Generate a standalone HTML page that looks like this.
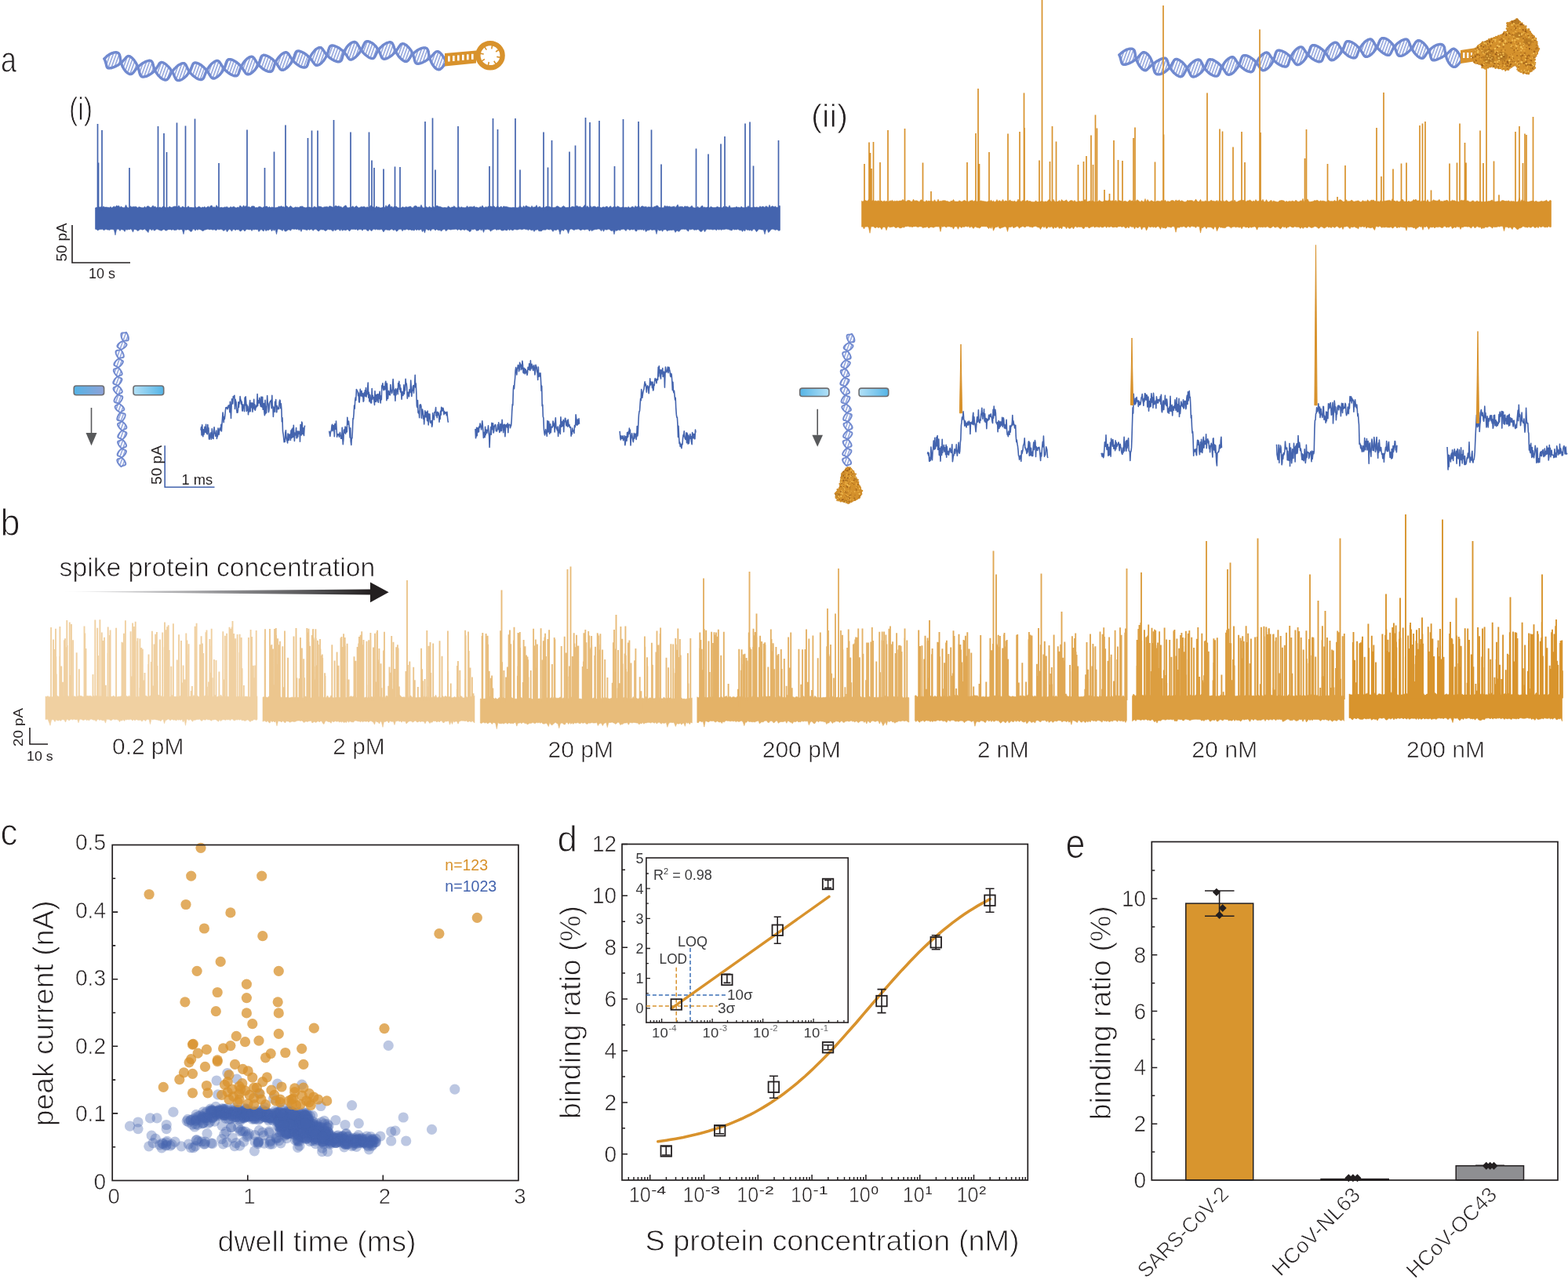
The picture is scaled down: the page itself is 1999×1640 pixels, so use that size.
<!DOCTYPE html>
<html><head><meta charset="utf-8"><title>Figure</title>
<style>html,body{margin:0;padding:0;background:#fff;overflow:hidden}svg{display:block}</style>
</head><body>
<svg style="font-family:'Liberation Sans', Arial, sans-serif" width="1999" height="1640" viewBox="0 0 1999 1640" ><text x="1" y="92" font-size="47" textLength="20" lengthAdjust="spacingAndGlyphs" fill="#231f20" stroke="#fff" stroke-width="1">a</text>
<text x="88" y="153" font-size="40" textLength="30" lengthAdjust="spacingAndGlyphs" fill="#231f20" stroke="#fff" stroke-width="0.9">(i)</text>
<text x="1034" y="162" font-size="40" textLength="47" lengthAdjust="spacingAndGlyphs" fill="#231f20" stroke="#fff" stroke-width="0.9">(ii)</text>
<path d="M92 287V335H166" fill="none" stroke="#231f20" stroke-width="1.6"/>
<text transform="translate(85 309) rotate(-90)" x="0" y="0" font-size="19" text-anchor="middle" textLength="49" lengthAdjust="spacingAndGlyphs" fill="#231f20">50 pA</text>
<text x="113" y="355" font-size="19" textLength="34" lengthAdjust="spacingAndGlyphs" fill="#231f20">10 s</text>
<path d="M133,75 L133.5,76.1 L133.9,77.2 L134.3,78.3 L134.6,79.4 L134.9,80.4 L135.2,81.3 L135.4,82.2 L135.6,83 L135.8,83.8 L135.9,84.4 L136.2,85 L136.4,85.6 L136.7,86 L137,86.4 L137.4,86.6 L137.9,86.8 L138.4,86.9 L139.1,87 L139.8,86.9 L140.6,86.8 L141.5,86.7 L142.4,86.5 L143.4,86.2 L144.5,85.8 L145.6,85.4 L146.7,84.9 L147.9,84.4 L149,83.8 L150.1,83.2 L151.2,82.5 L152.3,81.7 L153.3,81 L154.3,80.2 L155.2,79.4 L156.1,78.6 L156.9,77.7 L157.6,76.9 L158.3,76.1 L159,75.4 L159.6,74.7 L160.2,74 L160.7,73.4 L161.2,72.9 L161.7,72.4 L162.2,72.1 L162.7,71.8 L163.2,71.6 L163.7,71.5 L164.3,71.6 L164.9,71.7 L165.6,71.9 L166.2,72.3 L166.9,72.8 L167.7,73.3 L168.4,74 L169.2,74.7 L169.9,75.5 L170.7,76.4 L171.4,77.4 L172.1,78.4 L172.8,79.5 L173.5,80.6 L174.1,81.7 L174.7,82.9 L175.2,84.1 L175.7,85.2 L176.1,86.4 L176.5,87.5 L176.8,88.6 L177.1,89.7 L177.4,90.7 L177.6,91.7 L177.8,92.7 L178.1,93.5 L178.3,94.3 L178.6,95.1 L178.9,95.7 L179.2,96.3 L179.6,96.8 L180,97.3 L180.5,97.6 L181.1,97.8 L181.8,98 L182.5,98.1 L183.3,98 L184.1,97.9 L185,97.7 L186,97.5 L187,97.1 L188.1,96.7 L189.1,96.1 L190.2,95.6 L191.3,94.9 L192.4,94.2 L193.4,93.4 L194.4,92.6 L195.4,91.7 L196.3,90.8 L197.2,89.9 L198,88.9 L198.7,88 L199.4,87.1 L200,86.1 L200.6,85.2 L201.1,84.4 L201.6,83.6 L202.1,82.8 L202.5,82.1 L202.9,81.5 L203.3,80.9 L203.8,80.4 L204.2,80.1 L204.7,79.8 L205.2,79.6 L205.8,79.5 L206.4,79.5 L207,79.6 L207.7,79.8 L208.4,80.1 L209.2,80.6 L210,81 L210.9,81.6 L211.8,82.3 L212.6,83 L213.5,83.9 L214.4,84.7 L215.3,85.6 L216.1,86.6 L216.9,87.6 L217.7,88.7 L218.4,89.7 L219.1,90.8 L219.7,91.8 L220.3,92.9 L220.9,93.9 L221.4,95 L221.8,95.9 L222.2,96.9 L222.6,97.8 L223,98.6 L223.4,99.4 L223.8,100.1 L224.2,100.7 L224.6,101.3 L225,101.7 L225.5,102.1 L226.1,102.4 L226.7,102.5 L227.4,102.6 L228.1,102.6 L228.8,102.5 L229.7,102.2 L230.5,101.9 L231.4,101.5 L232.3,101 L233.3,100.4 L234.3,99.7 L235.2,98.9 L236.2,98.1 L237.1,97.2 L238,96.3 L238.8,95.3 L239.6,94.3 L240.4,93.2 L241.1,92.1 L241.7,91.1 L242.3,90 L242.8,89 L243.3,87.9 L243.7,86.9 L244.1,86 L244.5,85.1 L244.8,84.2 L245.1,83.4 L245.4,82.7 L245.8,82.1 L246.1,81.5 L246.5,81 L247,80.6 L247.5,80.3 L248,80.1 L248.6,80 L249.2,80 L250,80.1 L250.7,80.2 L251.6,80.5 L252.4,80.8 L253.4,81.3 L254.3,81.8 L255.3,82.3 L256.3,83 L257.3,83.7 L258.3,84.5 L259.3,85.3 L260.2,86.2 L261.2,87.1 L262,88 L262.9,89 L263.7,90 L264.4,90.9 L265.1,91.9 L265.7,92.9 L266.3,93.8 L266.8,94.7 L267.3,95.5 L267.8,96.3 L268.2,97.1 L268.7,97.7 L269.1,98.3 L269.6,98.9 L270.1,99.3 L270.6,99.6 L271.1,99.9 L271.7,100 L272.3,100 L273,100 L273.7,99.8 L274.5,99.5 L275.3,99.1 L276.1,98.6 L276.9,98.1 L277.8,97.4 L278.7,96.7 L279.6,95.9 L280.4,95 L281.3,94 L282.1,93 L282.9,92 L283.6,90.9 L284.3,89.8 L284.9,88.7 L285.5,87.6 L286,86.5 L286.5,85.4 L286.9,84.3 L287.3,83.3 L287.6,82.3 L287.9,81.3 L288.2,80.4 L288.5,79.6 L288.8,78.8 L289.1,78.2 L289.4,77.5 L289.8,77 L290.2,76.6 L290.6,76.2 L291.2,75.9 L291.7,75.7 L292.4,75.7 L293.1,75.7 L293.9,75.8 L294.7,75.9 L295.6,76.2 L296.6,76.6 L297.5,77 L298.6,77.5 L299.6,78.1 L300.6,78.8 L301.7,79.5 L302.7,80.3 L303.7,81.1 L304.7,82 L305.6,82.9 L306.5,83.8 L307.3,84.7 L308.1,85.7 L308.8,86.6 L309.4,87.6 L310,88.5 L310.6,89.4 L311.1,90.3 L311.6,91.1 L312.1,91.8 L312.6,92.5 L313,93.1 L313.5,93.6 L314,94.1 L314.5,94.4 L315,94.7 L315.6,94.8 L316.2,94.9 L316.8,94.8 L317.5,94.7 L318.2,94.4 L319,94.1 L319.8,93.6 L320.7,93 L321.5,92.4 L322.4,91.7 L323.2,90.9 L324.1,90 L324.9,89.1 L325.7,88.1 L326.5,87 L327.3,86 L327.9,84.9 L328.6,83.7 L329.2,82.6 L329.7,81.5 L330.2,80.4 L330.6,79.3 L331,78.3 L331.3,77.3 L331.6,76.3 L331.9,75.4 L332.2,74.5 L332.4,73.8 L332.7,73 L333.1,72.4 L333.4,71.8 L333.8,71.4 L334.2,71 L334.7,70.7 L335.3,70.5 L335.9,70.3 L336.6,70.3 L337.4,70.4 L338.2,70.5 L339.1,70.8 L340,71.1 L341,71.5 L342,72 L343,72.5 L344.1,73.2 L345.1,73.9 L346.2,74.6 L347.2,75.4 L348.2,76.3 L349.1,77.2 L350,78.1 L350.8,79 L351.6,80 L352.4,80.9 L353.1,81.9 L353.7,82.8 L354.3,83.7 L354.8,84.6 L355.3,85.4 L355.8,86.1 L356.3,86.8 L356.7,87.5 L357.2,88 L357.7,88.5 L358.2,88.9 L358.7,89.2 L359.2,89.3 L359.8,89.4 L360.4,89.4 L361.1,89.3 L361.8,89 L362.6,88.7 L363.3,88.3 L364.1,87.7 L365,87.1 L365.8,86.4 L366.7,85.7 L367.6,84.8 L368.4,83.9 L369.2,82.9 L370,81.9 L370.8,80.9 L371.5,79.8 L372.2,78.7 L372.8,77.6 L373.3,76.5 L373.8,75.4 L374.3,74.3 L374.7,73.2 L375,72.2 L375.4,71.2 L375.7,70.3 L375.9,69.4 L376.2,68.6 L376.5,67.9 L376.8,67.2 L377.1,66.7 L377.5,66.2 L377.9,65.8 L378.3,65.4 L378.8,65.2 L379.4,65.1 L380.1,65 L380.8,65 L381.6,65.2 L382.4,65.4 L383.3,65.7 L384.3,66 L385.3,66.5 L386.3,67 L387.4,67.6 L388.4,68.2 L389.5,68.9 L390.5,69.7 L391.5,70.5 L392.5,71.3 L393.4,72.2 L394.3,73.1 L395.2,74 L396,74.9 L396.7,75.9 L397.4,76.8 L398,77.6 L398.6,78.5 L399.2,79.3 L399.7,80.1 L400.2,80.8 L400.7,81.4 L401.2,82 L401.7,82.4 L402.2,82.8 L402.7,83.1 L403.2,83.3 L403.8,83.4 L404.4,83.4 L405.1,83.2 L405.8,83 L406.5,82.7 L407.3,82.3 L408,81.7 L408.9,81.1 L409.7,80.4 L410.5,79.6 L411.4,78.7 L412.2,77.8 L413,76.8 L413.7,75.7 L414.4,74.7 L415.1,73.5 L415.7,72.4 L416.3,71.3 L416.8,70.1 L417.3,69 L417.7,67.9 L418,66.8 L418.4,65.8 L418.6,64.8 L418.9,63.8 L419.1,62.9 L419.4,62.1 L419.6,61.3 L419.9,60.6 L420.2,60 L420.6,59.4 L421,59 L421.4,58.6 L421.9,58.3 L422.5,58.1 L423.2,58 L423.9,58 L424.7,58.1 L425.5,58.2 L426.4,58.5 L427.3,58.8 L428.3,59.2 L429.4,59.7 L430.4,60.2 L431.5,60.8 L432.6,61.5 L433.6,62.2 L434.7,63 L435.7,63.8 L436.7,64.6 L437.6,65.5 L438.5,66.4 L439.3,67.3 L440,68.2 L440.7,69.1 L441.4,70 L442,70.9 L442.5,71.7 L443,72.5 L443.5,73.2 L444,73.9 L444.4,74.5 L444.9,75 L445.3,75.4 L445.8,75.7 L446.2,75.9 L446.7,76.1 L447.3,76.1 L447.9,76 L448.5,75.9 L449.2,75.6 L449.9,75.2 L450.7,74.8 L451.5,74.2 L452.3,73.6 L453.2,72.9 L454,72.1 L454.9,71.2 L455.8,70.3 L456.6,69.4 L457.4,68.4 L458.2,67.4 L458.9,66.3 L459.6,65.2 L460.3,64.2 L460.9,63.1 L461.4,62 L461.9,61 L462.4,60 L462.8,59 L463.2,58.1 L463.6,57.2 L464,56.4 L464.4,55.6 L464.8,54.9 L465.2,54.3 L465.6,53.8 L466.1,53.4 L466.6,53 L467.2,52.8 L467.8,52.7 L468.5,52.6 L469.2,52.7 L470,52.8 L470.8,53.1 L471.7,53.4 L472.6,53.9 L473.6,54.4 L474.5,55 L475.5,55.7 L476.5,56.5 L477.4,57.4 L478.3,58.3 L479.2,59.2 L480,60.2 L480.8,61.3 L481.6,62.3 L482.2,63.4 L482.9,64.5 L483.4,65.5 L483.9,66.6 L484.3,67.6 L484.7,68.6 L485.1,69.5 L485.4,70.4 L485.8,71.2 L486.1,72 L486.4,72.7 L486.7,73.3 L487.1,73.9 L487.5,74.3 L487.9,74.7 L488.4,75 L488.9,75.1 L489.6,75.2 L490.2,75.2 L491,75.1 L491.8,75 L492.6,74.7 L493.5,74.3 L494.5,73.9 L495.4,73.4 L496.4,72.8 L497.4,72.1 L498.5,71.4 L499.5,70.6 L500.5,69.8 L501.4,68.9 L502.3,68 L503.2,67.1 L504.1,66.2 L504.8,65.2 L505.6,64.2 L506.3,63.3 L506.9,62.4 L507.5,61.5 L508,60.6 L508.6,59.8 L509.1,59 L509.6,58.3 L510,57.7 L510.5,57.1 L511,56.6 L511.5,56.3 L512.1,56 L512.7,55.8 L513.3,55.7 L513.9,55.8 L514.6,55.9 L515.4,56.1 L516.1,56.5 L516.9,56.9 L517.8,57.5 L518.6,58.1 L519.4,58.9 L520.3,59.7 L521.1,60.6 L521.9,61.5 L522.7,62.5 L523.5,63.6 L524.2,64.7 L524.8,65.8 L525.4,67 L526,68.1 L526.4,69.3 L526.9,70.4 L527.2,71.5 L527.6,72.6 L527.8,73.6 L528.1,74.6 L528.3,75.6 L528.5,76.5 L528.7,77.3 L528.9,78 L529.1,78.7 L529.4,79.3 L529.7,79.8 L530,80.3 L530.5,80.6 L530.9,80.9 L531.5,81.1 L532.1,81.2 L532.8,81.3 L533.6,81.2 L534.5,81.1 L535.4,80.9 L536.3,80.6 L537.3,80.2 L538.4,79.8 L539.5,79.3 L540.6,78.8 L541.7,78.2 L542.8,77.6 L543.9,76.9 L544.9,76.2 L546,75.4 L547,74.6 L547.9,73.8 L548.8,73 L549.7,72.2 L550.5,71.4 L551.2,70.6 L551.9,69.8 L552.6,69.1 L553.2,68.4 L553.8,67.8 L554.4,67.2 L555,66.7 L555.5,66.3 L556.1,66 L556.6,65.8 L557.2,65.6 L557.8,65.6 L558.3,65.7 L558.9,65.9 L559.6,66.2 L560.2,66.6 L560.8,67.2 L561.5,67.8 L562.2,68.5 L562.9,69.3 L563.6,70.1 L564.3,71.1 L565,72.1 L565.7,73.1 L566.3,74.2 L566.9,75.3 L567.5,76.5 L568,77.7 L568.6,78.8 L569,80 L569,80 L568.1,80.9 L567.4,81.7 L566.6,82.6 L565.9,83.5 L565.2,84.3 L564.6,85.1 L563.9,85.8 L563.3,86.5 L562.7,87.1 L562.1,87.6 L561.6,88 L561,88.4 L560.4,88.6 L559.7,88.8 L559.1,88.8 L558.4,88.7 L557.8,88.5 L557.1,88.2 L556.4,87.8 L555.7,87.3 L555,86.7 L554.2,86 L553.5,85.2 L552.8,84.3 L552.1,83.3 L551.4,82.3 L550.8,81.2 L550.2,80.1 L549.6,78.9 L549.1,77.7 L548.6,76.5 L548.2,75.3 L547.8,74.1 L547.5,72.9 L547.2,71.8 L547,70.7 L546.8,69.6 L546.6,68.5 L546.4,67.5 L546.3,66.6 L546.1,65.7 L545.9,64.9 L545.6,64.1 L545.3,63.4 L545,62.8 L544.6,62.3 L544.2,61.9 L543.6,61.5 L543,61.2 L542.4,61 L541.6,60.9 L540.8,60.9 L540,61 L539,61.2 L538,61.4 L537,61.7 L535.9,62.2 L534.8,62.6 L533.7,63.2 L532.6,63.8 L531.5,64.5 L530.4,65.3 L529.4,66 L528.4,66.9 L527.5,67.8 L526.6,68.6 L525.7,69.6 L525,70.5 L524.2,71.4 L523.6,72.3 L523,73.1 L522.4,74 L521.9,74.8 L521.4,75.5 L520.9,76.2 L520.5,76.8 L520,77.3 L519.5,77.7 L519,78.1 L518.5,78.3 L517.9,78.4 L517.4,78.5 L516.7,78.4 L516.1,78.3 L515.4,78 L514.6,77.6 L513.9,77.1 L513.1,76.6 L512.3,75.9 L511.4,75.2 L510.6,74.4 L509.8,73.5 L508.9,72.5 L508.1,71.6 L507.4,70.5 L506.6,69.4 L506,68.4 L505.3,67.2 L504.7,66.1 L504.2,65 L503.7,63.9 L503.3,62.8 L502.9,61.8 L502.5,60.8 L502.2,59.8 L501.9,58.9 L501.5,58 L501.2,57.2 L500.9,56.5 L500.5,55.9 L500.2,55.3 L499.7,54.8 L499.3,54.4 L498.7,54.1 L498.2,53.9 L497.5,53.8 L496.8,53.8 L496,53.9 L495.2,54.1 L494.3,54.3 L493.4,54.7 L492.4,55.1 L491.4,55.6 L490.4,56.3 L489.4,56.9 L488.3,57.7 L487.3,58.5 L486.4,59.4 L485.4,60.3 L484.5,61.2 L483.7,62.2 L482.9,63.2 L482.2,64.2 L481.6,65.2 L481,66.2 L480.4,67.2 L479.9,68.2 L479.5,69.1 L479.1,70 L478.7,70.8 L478.3,71.5 L478,72.2 L477.6,72.8 L477.2,73.3 L476.8,73.8 L476.4,74.1 L475.9,74.4 L475.3,74.5 L474.7,74.6 L474,74.6 L473.3,74.4 L472.6,74.2 L471.8,73.9 L470.9,73.5 L470,73 L469.1,72.4 L468.1,71.7 L467.2,71 L466.2,70.2 L465.3,69.4 L464.3,68.5 L463.4,67.6 L462.6,66.6 L461.8,65.6 L461,64.6 L460.3,63.6 L459.6,62.6 L458.9,61.6 L458.4,60.7 L457.8,59.7 L457.3,58.8 L456.8,57.9 L456.3,57.1 L455.9,56.4 L455.4,55.7 L454.9,55.1 L454.4,54.6 L453.9,54.2 L453.4,53.9 L452.8,53.6 L452.1,53.5 L451.4,53.5 L450.7,53.6 L449.9,53.8 L449.1,54.1 L448.3,54.5 L447.4,55 L446.5,55.6 L445.7,56.3 L444.8,57.1 L443.9,58 L443.1,58.9 L442.3,59.9 L441.5,61 L440.8,62.1 L440.1,63.2 L439.5,64.3 L439,65.5 L438.5,66.6 L438.1,67.7 L437.7,68.9 L437.3,70 L437,71 L436.8,72 L436.5,73 L436.3,73.9 L436.1,74.7 L435.8,75.5 L435.5,76.2 L435.2,76.8 L434.8,77.4 L434.4,77.8 L433.9,78.2 L433.4,78.5 L432.8,78.7 L432.1,78.8 L431.4,78.8 L430.6,78.8 L429.7,78.6 L428.8,78.4 L427.9,78 L426.9,77.6 L425.8,77.2 L424.8,76.6 L423.7,76 L422.6,75.3 L421.6,74.5 L420.5,73.8 L419.5,72.9 L418.6,72.1 L417.7,71.2 L416.8,70.2 L416,69.3 L415.3,68.4 L414.6,67.5 L413.9,66.6 L413.4,65.7 L412.8,64.9 L412.3,64.1 L411.8,63.4 L411.3,62.7 L410.8,62.2 L410.3,61.7 L409.8,61.2 L409.3,60.9 L408.8,60.7 L408.2,60.6 L407.5,60.6 L406.9,60.7 L406.2,60.9 L405.4,61.2 L404.7,61.6 L403.9,62.1 L403.1,62.7 L402.2,63.4 L401.4,64.2 L400.6,65.1 L399.8,66 L399,67 L398.2,68 L397.5,69.1 L396.8,70.2 L396.2,71.3 L395.6,72.5 L395.1,73.6 L394.6,74.7 L394.2,75.9 L393.9,76.9 L393.5,78 L393.2,79 L392.9,80 L392.7,80.9 L392.4,81.8 L392.2,82.6 L391.9,83.3 L391.5,83.9 L391.2,84.5 L390.8,85 L390.3,85.4 L389.8,85.7 L389.2,85.9 L388.5,86 L387.8,86.1 L387,86 L386.1,85.9 L385.2,85.6 L384.2,85.3 L383.2,84.9 L382.2,84.4 L381.2,83.8 L380.1,83.2 L379.1,82.4 L378,81.7 L377,80.8 L376.1,80 L375.1,79.1 L374.3,78.1 L373.4,77.2 L372.7,76.2 L372,75.3 L371.3,74.3 L370.7,73.4 L370.1,72.5 L369.6,71.6 L369.1,70.8 L368.6,70 L368.2,69.3 L367.7,68.7 L367.2,68.1 L366.7,67.7 L366.2,67.3 L365.7,67 L365.1,66.8 L364.5,66.8 L363.9,66.8 L363.2,67 L362.4,67.2 L361.7,67.5 L360.9,68 L360,68.5 L359.2,69.2 L358.3,69.9 L357.4,70.7 L356.6,71.6 L355.8,72.5 L354.9,73.5 L354.2,74.5 L353.4,75.6 L352.7,76.7 L352.1,77.8 L351.5,78.9 L351,80 L350.5,81.2 L350.1,82.2 L349.7,83.3 L349.4,84.3 L349.1,85.3 L348.8,86.2 L348.5,87.1 L348.2,87.9 L347.9,88.6 L347.6,89.3 L347.3,89.8 L346.9,90.3 L346.5,90.7 L346,91.1 L345.4,91.3 L344.8,91.4 L344.1,91.5 L343.3,91.4 L342.5,91.3 L341.6,91.1 L340.7,90.7 L339.7,90.3 L338.7,89.9 L337.7,89.3 L336.6,88.7 L335.6,88 L334.6,87.3 L333.5,86.5 L332.6,85.6 L331.6,84.7 L330.7,83.8 L329.9,82.9 L329.1,81.9 L328.3,80.9 L327.6,80 L327,79.1 L326.4,78.2 L325.9,77.3 L325.4,76.4 L324.9,75.7 L324.4,75 L324,74.3 L323.5,73.7 L323,73.3 L322.6,72.9 L322,72.6 L321.5,72.4 L320.9,72.3 L320.3,72.3 L319.6,72.4 L318.9,72.6 L318.1,72.9 L317.3,73.3 L316.5,73.8 L315.7,74.4 L314.8,75.1 L313.9,75.9 L313.1,76.8 L312.2,77.7 L311.4,78.6 L310.6,79.7 L309.9,80.7 L309.2,81.8 L308.5,82.9 L307.9,84 L307.3,85.1 L306.8,86.3 L306.4,87.3 L306,88.4 L305.6,89.4 L305.3,90.4 L305,91.4 L304.7,92.2 L304.5,93.1 L304.2,93.8 L303.9,94.5 L303.5,95.1 L303.1,95.6 L302.7,96 L302.2,96.4 L301.7,96.6 L301.1,96.8 L300.4,96.8 L299.7,96.8 L298.9,96.7 L298,96.5 L297.1,96.2 L296.1,95.8 L295.2,95.4 L294.1,94.8 L293.1,94.2 L292.1,93.5 L291,92.8 L290,92 L289,91.2 L288.1,90.3 L287.2,89.4 L286.3,88.4 L285.5,87.5 L284.7,86.5 L284,85.6 L283.4,84.6 L282.8,83.7 L282.3,82.8 L281.8,82 L281.3,81.2 L280.8,80.4 L280.4,79.7 L279.9,79.2 L279.5,78.6 L279,78.2 L278.5,77.9 L278,77.6 L277.4,77.5 L276.8,77.5 L276.2,77.5 L275.5,77.7 L274.7,78 L273.9,78.3 L273.1,78.8 L272.3,79.4 L271.4,80 L270.5,80.8 L269.6,81.6 L268.8,82.4 L267.9,83.4 L267.1,84.4 L266.3,85.4 L265.6,86.5 L264.9,87.5 L264.2,88.6 L263.6,89.7 L263.1,90.8 L262.6,91.9 L262.2,93 L261.8,94 L261.4,95 L261,96 L260.7,96.8 L260.4,97.7 L260.1,98.4 L259.7,99.1 L259.4,99.7 L258.9,100.3 L258.5,100.7 L258,101.1 L257.4,101.3 L256.8,101.5 L256.1,101.6 L255.4,101.5 L254.6,101.4 L253.8,101.2 L252.9,100.9 L251.9,100.5 L251,100 L250,99.4 L249,98.7 L248,98 L247,97.2 L246,96.4 L245.1,95.5 L244.2,94.6 L243.3,93.6 L242.5,92.6 L241.7,91.6 L241,90.6 L240.4,89.6 L239.8,88.6 L239.3,87.6 L238.8,86.7 L238.4,85.8 L238,84.9 L237.6,84.1 L237.2,83.4 L236.9,82.7 L236.5,82.2 L236.1,81.7 L235.6,81.3 L235.2,81 L234.7,80.7 L234.1,80.6 L233.5,80.6 L232.8,80.7 L232.1,80.8 L231.3,81.1 L230.5,81.5 L229.6,81.9 L228.7,82.4 L227.7,83 L226.8,83.7 L225.8,84.5 L224.9,85.3 L224,86.2 L223,87.1 L222.2,88 L221.3,89 L220.5,90 L219.8,91 L219.1,92 L218.4,93 L217.8,94 L217.3,95 L216.8,95.9 L216.3,96.8 L215.8,97.7 L215.4,98.5 L214.9,99.2 L214.5,99.9 L214,100.5 L213.5,100.9 L213,101.3 L212.5,101.7 L211.9,101.9 L211.3,102 L210.6,102 L209.8,101.9 L209.1,101.6 L208.3,101.3 L207.4,100.9 L206.5,100.4 L205.7,99.8 L204.8,99.1 L203.9,98.3 L203,97.4 L202.1,96.5 L201.3,95.5 L200.5,94.5 L199.7,93.4 L199,92.3 L198.4,91.2 L197.8,90.1 L197.3,89 L196.8,87.8 L196.4,86.7 L196.1,85.7 L195.8,84.7 L195.5,83.7 L195.3,82.7 L195,81.9 L194.8,81.1 L194.6,80.3 L194.3,79.7 L194,79.1 L193.6,78.6 L193.3,78.2 L192.8,77.8 L192.3,77.6 L191.7,77.4 L191,77.3 L190.3,77.3 L189.5,77.4 L188.6,77.6 L187.7,77.9 L186.7,78.2 L185.7,78.6 L184.7,79.1 L183.6,79.7 L182.5,80.3 L181.4,81 L180.4,81.7 L179.3,82.5 L178.3,83.3 L177.4,84.1 L176.4,85 L175.5,85.8 L174.7,86.7 L173.9,87.6 L173.2,88.5 L172.5,89.3 L171.9,90.1 L171.3,90.9 L170.7,91.6 L170.1,92.3 L169.6,92.9 L169.1,93.4 L168.5,93.8 L168,94.2 L167.4,94.4 L166.8,94.6 L166.2,94.6 L165.6,94.5 L164.9,94.3 L164.2,94 L163.4,93.6 L162.6,93.1 L161.8,92.5 L161,91.8 L160.3,91 L159.5,90.1 L158.7,89.1 L158,88.1 L157.4,87 L156.7,85.8 L156.1,84.7 L155.6,83.5 L155.2,82.3 L154.7,81.1 L154.4,79.9 L154.1,78.7 L153.8,77.6 L153.6,76.4 L153.5,75.4 L153.3,74.3 L153.2,73.3 L153,72.4 L152.9,71.6 L152.7,70.8 L152.5,70 L152.2,69.4 L151.9,68.8 L151.5,68.3 L151,67.8 L150.5,67.4 L149.8,67.1 L149.1,66.9 L148.2,66.8 L147.3,66.8 L146.4,66.9 L145.4,67 L144.3,67.3 L143.2,67.6 L142.1,68.1 L141,68.6 L139.8,69.2 L138.7,69.9 L137.7,70.6 L136.6,71.4 L135.7,72.3 L134.7,73.2 L133.8,74.1 L133,75Z" fill="url(#hatch)"/>
<path d="M133,75 L133.5,76.1 L133.9,77.2 L134.3,78.3 L134.6,79.4 L134.9,80.4 L135.2,81.3 L135.4,82.2 L135.6,83 L135.8,83.8 L135.9,84.4 L136.2,85 L136.4,85.6 L136.7,86 L137,86.4 L137.4,86.6 L137.9,86.8 L138.4,86.9 L139.1,87 L139.8,86.9 L140.6,86.8 L141.5,86.7 L142.4,86.5 L143.4,86.2 L144.5,85.8 L145.6,85.4 L146.7,84.9 L147.9,84.4 L149,83.8 L150.1,83.2 L151.2,82.5 L152.3,81.7 L153.3,81 L154.3,80.2 L155.2,79.4 L156.1,78.6 L156.9,77.7 L157.6,76.9 L158.3,76.1 L159,75.4 L159.6,74.7 L160.2,74 L160.7,73.4 L161.2,72.9 L161.7,72.4 L162.2,72.1 L162.7,71.8 L163.2,71.6 L163.7,71.5 L164.3,71.6 L164.9,71.7 L165.6,71.9 L166.2,72.3 L166.9,72.8 L167.7,73.3 L168.4,74 L169.2,74.7 L169.9,75.5 L170.7,76.4 L171.4,77.4 L172.1,78.4 L172.8,79.5 L173.5,80.6 L174.1,81.7 L174.7,82.9 L175.2,84.1 L175.7,85.2 L176.1,86.4 L176.5,87.5 L176.8,88.6 L177.1,89.7 L177.4,90.7 L177.6,91.7 L177.8,92.7 L178.1,93.5 L178.3,94.3 L178.6,95.1 L178.9,95.7 L179.2,96.3 L179.6,96.8 L180,97.3 L180.5,97.6 L181.1,97.8 L181.8,98 L182.5,98.1 L183.3,98 L184.1,97.9 L185,97.7 L186,97.5 L187,97.1 L188.1,96.7 L189.1,96.1 L190.2,95.6 L191.3,94.9 L192.4,94.2 L193.4,93.4 L194.4,92.6 L195.4,91.7 L196.3,90.8 L197.2,89.9 L198,88.9 L198.7,88 L199.4,87.1 L200,86.1 L200.6,85.2 L201.1,84.4 L201.6,83.6 L202.1,82.8 L202.5,82.1 L202.9,81.5 L203.3,80.9 L203.8,80.4 L204.2,80.1 L204.7,79.8 L205.2,79.6 L205.8,79.5 L206.4,79.5 L207,79.6 L207.7,79.8 L208.4,80.1 L209.2,80.6 L210,81 L210.9,81.6 L211.8,82.3 L212.6,83 L213.5,83.9 L214.4,84.7 L215.3,85.6 L216.1,86.6 L216.9,87.6 L217.7,88.7 L218.4,89.7 L219.1,90.8 L219.7,91.8 L220.3,92.9 L220.9,93.9 L221.4,95 L221.8,95.9 L222.2,96.9 L222.6,97.8 L223,98.6 L223.4,99.4 L223.8,100.1 L224.2,100.7 L224.6,101.3 L225,101.7 L225.5,102.1 L226.1,102.4 L226.7,102.5 L227.4,102.6 L228.1,102.6 L228.8,102.5 L229.7,102.2 L230.5,101.9 L231.4,101.5 L232.3,101 L233.3,100.4 L234.3,99.7 L235.2,98.9 L236.2,98.1 L237.1,97.2 L238,96.3 L238.8,95.3 L239.6,94.3 L240.4,93.2 L241.1,92.1 L241.7,91.1 L242.3,90 L242.8,89 L243.3,87.9 L243.7,86.9 L244.1,86 L244.5,85.1 L244.8,84.2 L245.1,83.4 L245.4,82.7 L245.8,82.1 L246.1,81.5 L246.5,81 L247,80.6 L247.5,80.3 L248,80.1 L248.6,80 L249.2,80 L250,80.1 L250.7,80.2 L251.6,80.5 L252.4,80.8 L253.4,81.3 L254.3,81.8 L255.3,82.3 L256.3,83 L257.3,83.7 L258.3,84.5 L259.3,85.3 L260.2,86.2 L261.2,87.1 L262,88 L262.9,89 L263.7,90 L264.4,90.9 L265.1,91.9 L265.7,92.9 L266.3,93.8 L266.8,94.7 L267.3,95.5 L267.8,96.3 L268.2,97.1 L268.7,97.7 L269.1,98.3 L269.6,98.9 L270.1,99.3 L270.6,99.6 L271.1,99.9 L271.7,100 L272.3,100 L273,100 L273.7,99.8 L274.5,99.5 L275.3,99.1 L276.1,98.6 L276.9,98.1 L277.8,97.4 L278.7,96.7 L279.6,95.9 L280.4,95 L281.3,94 L282.1,93 L282.9,92 L283.6,90.9 L284.3,89.8 L284.9,88.7 L285.5,87.6 L286,86.5 L286.5,85.4 L286.9,84.3 L287.3,83.3 L287.6,82.3 L287.9,81.3 L288.2,80.4 L288.5,79.6 L288.8,78.8 L289.1,78.2 L289.4,77.5 L289.8,77 L290.2,76.6 L290.6,76.2 L291.2,75.9 L291.7,75.7 L292.4,75.7 L293.1,75.7 L293.9,75.8 L294.7,75.9 L295.6,76.2 L296.6,76.6 L297.5,77 L298.6,77.5 L299.6,78.1 L300.6,78.8 L301.7,79.5 L302.7,80.3 L303.7,81.1 L304.7,82 L305.6,82.9 L306.5,83.8 L307.3,84.7 L308.1,85.7 L308.8,86.6 L309.4,87.6 L310,88.5 L310.6,89.4 L311.1,90.3 L311.6,91.1 L312.1,91.8 L312.6,92.5 L313,93.1 L313.5,93.6 L314,94.1 L314.5,94.4 L315,94.7 L315.6,94.8 L316.2,94.9 L316.8,94.8 L317.5,94.7 L318.2,94.4 L319,94.1 L319.8,93.6 L320.7,93 L321.5,92.4 L322.4,91.7 L323.2,90.9 L324.1,90 L324.9,89.1 L325.7,88.1 L326.5,87 L327.3,86 L327.9,84.9 L328.6,83.7 L329.2,82.6 L329.7,81.5 L330.2,80.4 L330.6,79.3 L331,78.3 L331.3,77.3 L331.6,76.3 L331.9,75.4 L332.2,74.5 L332.4,73.8 L332.7,73 L333.1,72.4 L333.4,71.8 L333.8,71.4 L334.2,71 L334.7,70.7 L335.3,70.5 L335.9,70.3 L336.6,70.3 L337.4,70.4 L338.2,70.5 L339.1,70.8 L340,71.1 L341,71.5 L342,72 L343,72.5 L344.1,73.2 L345.1,73.9 L346.2,74.6 L347.2,75.4 L348.2,76.3 L349.1,77.2 L350,78.1 L350.8,79 L351.6,80 L352.4,80.9 L353.1,81.9 L353.7,82.8 L354.3,83.7 L354.8,84.6 L355.3,85.4 L355.8,86.1 L356.3,86.8 L356.7,87.5 L357.2,88 L357.7,88.5 L358.2,88.9 L358.7,89.2 L359.2,89.3 L359.8,89.4 L360.4,89.4 L361.1,89.3 L361.8,89 L362.6,88.7 L363.3,88.3 L364.1,87.7 L365,87.1 L365.8,86.4 L366.7,85.7 L367.6,84.8 L368.4,83.9 L369.2,82.9 L370,81.9 L370.8,80.9 L371.5,79.8 L372.2,78.7 L372.8,77.6 L373.3,76.5 L373.8,75.4 L374.3,74.3 L374.7,73.2 L375,72.2 L375.4,71.2 L375.7,70.3 L375.9,69.4 L376.2,68.6 L376.5,67.9 L376.8,67.2 L377.1,66.7 L377.5,66.2 L377.9,65.8 L378.3,65.4 L378.8,65.2 L379.4,65.1 L380.1,65 L380.8,65 L381.6,65.2 L382.4,65.4 L383.3,65.7 L384.3,66 L385.3,66.5 L386.3,67 L387.4,67.6 L388.4,68.2 L389.5,68.9 L390.5,69.7 L391.5,70.5 L392.5,71.3 L393.4,72.2 L394.3,73.1 L395.2,74 L396,74.9 L396.7,75.9 L397.4,76.8 L398,77.6 L398.6,78.5 L399.2,79.3 L399.7,80.1 L400.2,80.8 L400.7,81.4 L401.2,82 L401.7,82.4 L402.2,82.8 L402.7,83.1 L403.2,83.3 L403.8,83.4 L404.4,83.4 L405.1,83.2 L405.8,83 L406.5,82.7 L407.3,82.3 L408,81.7 L408.9,81.1 L409.7,80.4 L410.5,79.6 L411.4,78.7 L412.2,77.8 L413,76.8 L413.7,75.7 L414.4,74.7 L415.1,73.5 L415.7,72.4 L416.3,71.3 L416.8,70.1 L417.3,69 L417.7,67.9 L418,66.8 L418.4,65.8 L418.6,64.8 L418.9,63.8 L419.1,62.9 L419.4,62.1 L419.6,61.3 L419.9,60.6 L420.2,60 L420.6,59.4 L421,59 L421.4,58.6 L421.9,58.3 L422.5,58.1 L423.2,58 L423.9,58 L424.7,58.1 L425.5,58.2 L426.4,58.5 L427.3,58.8 L428.3,59.2 L429.4,59.7 L430.4,60.2 L431.5,60.8 L432.6,61.5 L433.6,62.2 L434.7,63 L435.7,63.8 L436.7,64.6 L437.6,65.5 L438.5,66.4 L439.3,67.3 L440,68.2 L440.7,69.1 L441.4,70 L442,70.9 L442.5,71.7 L443,72.5 L443.5,73.2 L444,73.9 L444.4,74.5 L444.9,75 L445.3,75.4 L445.8,75.7 L446.2,75.9 L446.7,76.1 L447.3,76.1 L447.9,76 L448.5,75.9 L449.2,75.6 L449.9,75.2 L450.7,74.8 L451.5,74.2 L452.3,73.6 L453.2,72.9 L454,72.1 L454.9,71.2 L455.8,70.3 L456.6,69.4 L457.4,68.4 L458.2,67.4 L458.9,66.3 L459.6,65.2 L460.3,64.2 L460.9,63.1 L461.4,62 L461.9,61 L462.4,60 L462.8,59 L463.2,58.1 L463.6,57.2 L464,56.4 L464.4,55.6 L464.8,54.9 L465.2,54.3 L465.6,53.8 L466.1,53.4 L466.6,53 L467.2,52.8 L467.8,52.7 L468.5,52.6 L469.2,52.7 L470,52.8 L470.8,53.1 L471.7,53.4 L472.6,53.9 L473.6,54.4 L474.5,55 L475.5,55.7 L476.5,56.5 L477.4,57.4 L478.3,58.3 L479.2,59.2 L480,60.2 L480.8,61.3 L481.6,62.3 L482.2,63.4 L482.9,64.5 L483.4,65.5 L483.9,66.6 L484.3,67.6 L484.7,68.6 L485.1,69.5 L485.4,70.4 L485.8,71.2 L486.1,72 L486.4,72.7 L486.7,73.3 L487.1,73.9 L487.5,74.3 L487.9,74.7 L488.4,75 L488.9,75.1 L489.6,75.2 L490.2,75.2 L491,75.1 L491.8,75 L492.6,74.7 L493.5,74.3 L494.5,73.9 L495.4,73.4 L496.4,72.8 L497.4,72.1 L498.5,71.4 L499.5,70.6 L500.5,69.8 L501.4,68.9 L502.3,68 L503.2,67.1 L504.1,66.2 L504.8,65.2 L505.6,64.2 L506.3,63.3 L506.9,62.4 L507.5,61.5 L508,60.6 L508.6,59.8 L509.1,59 L509.6,58.3 L510,57.7 L510.5,57.1 L511,56.6 L511.5,56.3 L512.1,56 L512.7,55.8 L513.3,55.7 L513.9,55.8 L514.6,55.9 L515.4,56.1 L516.1,56.5 L516.9,56.9 L517.8,57.5 L518.6,58.1 L519.4,58.9 L520.3,59.7 L521.1,60.6 L521.9,61.5 L522.7,62.5 L523.5,63.6 L524.2,64.7 L524.8,65.8 L525.4,67 L526,68.1 L526.4,69.3 L526.9,70.4 L527.2,71.5 L527.6,72.6 L527.8,73.6 L528.1,74.6 L528.3,75.6 L528.5,76.5 L528.7,77.3 L528.9,78 L529.1,78.7 L529.4,79.3 L529.7,79.8 L530,80.3 L530.5,80.6 L530.9,80.9 L531.5,81.1 L532.1,81.2 L532.8,81.3 L533.6,81.2 L534.5,81.1 L535.4,80.9 L536.3,80.6 L537.3,80.2 L538.4,79.8 L539.5,79.3 L540.6,78.8 L541.7,78.2 L542.8,77.6 L543.9,76.9 L544.9,76.2 L546,75.4 L547,74.6 L547.9,73.8 L548.8,73 L549.7,72.2 L550.5,71.4 L551.2,70.6 L551.9,69.8 L552.6,69.1 L553.2,68.4 L553.8,67.8 L554.4,67.2 L555,66.7 L555.5,66.3 L556.1,66 L556.6,65.8 L557.2,65.6 L557.8,65.6 L558.3,65.7 L558.9,65.9 L559.6,66.2 L560.2,66.6 L560.8,67.2 L561.5,67.8 L562.2,68.5 L562.9,69.3 L563.6,70.1 L564.3,71.1 L565,72.1 L565.7,73.1 L566.3,74.2 L566.9,75.3 L567.5,76.5 L568,77.7 L568.6,78.8 L569,80" fill="none" stroke="#7089cf" stroke-width="3.4" stroke-linecap="round"/>
<path d="M133,75 L133.8,74.1 L134.7,73.2 L135.7,72.3 L136.6,71.4 L137.7,70.6 L138.7,69.9 L139.8,69.2 L141,68.6 L142.1,68.1 L143.2,67.6 L144.3,67.3 L145.4,67 L146.4,66.9 L147.3,66.8 L148.2,66.8 L149.1,66.9 L149.8,67.1 L150.5,67.4 L151,67.8 L151.5,68.3 L151.9,68.8 L152.2,69.4 L152.5,70 L152.7,70.8 L152.9,71.6 L153,72.4 L153.2,73.3 L153.3,74.3 L153.5,75.4 L153.6,76.4 L153.8,77.6 L154.1,78.7 L154.4,79.9 L154.7,81.1 L155.2,82.3 L155.6,83.5 L156.1,84.7 L156.7,85.8 L157.4,87 L158,88.1 L158.7,89.1 L159.5,90.1 L160.3,91 L161,91.8 L161.8,92.5 L162.6,93.1 L163.4,93.6 L164.2,94 L164.9,94.3 L165.6,94.5 L166.2,94.6 L166.8,94.6 L167.4,94.4 L168,94.2 L168.5,93.8 L169.1,93.4 L169.6,92.9 L170.1,92.3 L170.7,91.6 L171.3,90.9 L171.9,90.1 L172.5,89.3 L173.2,88.5 L173.9,87.6 L174.7,86.7 L175.5,85.8 L176.4,85 L177.4,84.1 L178.3,83.3 L179.3,82.5 L180.4,81.7 L181.4,81 L182.5,80.3 L183.6,79.7 L184.7,79.1 L185.7,78.6 L186.7,78.2 L187.7,77.9 L188.6,77.6 L189.5,77.4 L190.3,77.3 L191,77.3 L191.7,77.4 L192.3,77.6 L192.8,77.8 L193.3,78.2 L193.6,78.6 L194,79.1 L194.3,79.7 L194.6,80.3 L194.8,81.1 L195,81.9 L195.3,82.7 L195.5,83.7 L195.8,84.7 L196.1,85.7 L196.4,86.7 L196.8,87.8 L197.3,89 L197.8,90.1 L198.4,91.2 L199,92.3 L199.7,93.4 L200.5,94.5 L201.3,95.5 L202.1,96.5 L203,97.4 L203.9,98.3 L204.8,99.1 L205.7,99.8 L206.5,100.4 L207.4,100.9 L208.3,101.3 L209.1,101.6 L209.8,101.9 L210.6,102 L211.3,102 L211.9,101.9 L212.5,101.7 L213,101.3 L213.5,100.9 L214,100.5 L214.5,99.9 L214.9,99.2 L215.4,98.5 L215.8,97.7 L216.3,96.8 L216.8,95.9 L217.3,95 L217.8,94 L218.4,93 L219.1,92 L219.8,91 L220.5,90 L221.3,89 L222.2,88 L223,87.1 L224,86.2 L224.9,85.3 L225.8,84.5 L226.8,83.7 L227.7,83 L228.7,82.4 L229.6,81.9 L230.5,81.5 L231.3,81.1 L232.1,80.8 L232.8,80.7 L233.5,80.6 L234.1,80.6 L234.7,80.7 L235.2,81 L235.6,81.3 L236.1,81.7 L236.5,82.2 L236.9,82.7 L237.2,83.4 L237.6,84.1 L238,84.9 L238.4,85.8 L238.8,86.7 L239.3,87.6 L239.8,88.6 L240.4,89.6 L241,90.6 L241.7,91.6 L242.5,92.6 L243.3,93.6 L244.2,94.6 L245.1,95.5 L246,96.4 L247,97.2 L248,98 L249,98.7 L250,99.4 L251,100 L251.9,100.5 L252.9,100.9 L253.8,101.2 L254.6,101.4 L255.4,101.5 L256.1,101.6 L256.8,101.5 L257.4,101.3 L258,101.1 L258.5,100.7 L258.9,100.3 L259.4,99.7 L259.7,99.1 L260.1,98.4 L260.4,97.7 L260.7,96.8 L261,96 L261.4,95 L261.8,94 L262.2,93 L262.6,91.9 L263.1,90.8 L263.6,89.7 L264.2,88.6 L264.9,87.5 L265.6,86.5 L266.3,85.4 L267.1,84.4 L267.9,83.4 L268.8,82.4 L269.6,81.6 L270.5,80.8 L271.4,80 L272.3,79.4 L273.1,78.8 L273.9,78.3 L274.7,78 L275.5,77.7 L276.2,77.5 L276.8,77.5 L277.4,77.5 L278,77.6 L278.5,77.9 L279,78.2 L279.5,78.6 L279.9,79.2 L280.4,79.7 L280.8,80.4 L281.3,81.2 L281.8,82 L282.3,82.8 L282.8,83.7 L283.4,84.6 L284,85.6 L284.7,86.5 L285.5,87.5 L286.3,88.4 L287.2,89.4 L288.1,90.3 L289,91.2 L290,92 L291,92.8 L292.1,93.5 L293.1,94.2 L294.1,94.8 L295.2,95.4 L296.1,95.8 L297.1,96.2 L298,96.5 L298.9,96.7 L299.7,96.8 L300.4,96.8 L301.1,96.8 L301.7,96.6 L302.2,96.4 L302.7,96 L303.1,95.6 L303.5,95.1 L303.9,94.5 L304.2,93.8 L304.5,93.1 L304.7,92.2 L305,91.4 L305.3,90.4 L305.6,89.4 L306,88.4 L306.4,87.3 L306.8,86.3 L307.3,85.1 L307.9,84 L308.5,82.9 L309.2,81.8 L309.9,80.7 L310.6,79.7 L311.4,78.6 L312.2,77.7 L313.1,76.8 L313.9,75.9 L314.8,75.1 L315.7,74.4 L316.5,73.8 L317.3,73.3 L318.1,72.9 L318.9,72.6 L319.6,72.4 L320.3,72.3 L320.9,72.3 L321.5,72.4 L322,72.6 L322.6,72.9 L323,73.3 L323.5,73.7 L324,74.3 L324.4,75 L324.9,75.7 L325.4,76.4 L325.9,77.3 L326.4,78.2 L327,79.1 L327.6,80 L328.3,80.9 L329.1,81.9 L329.9,82.9 L330.7,83.8 L331.6,84.7 L332.6,85.6 L333.5,86.5 L334.6,87.3 L335.6,88 L336.6,88.7 L337.7,89.3 L338.7,89.9 L339.7,90.3 L340.7,90.7 L341.6,91.1 L342.5,91.3 L343.3,91.4 L344.1,91.5 L344.8,91.4 L345.4,91.3 L346,91.1 L346.5,90.7 L346.9,90.3 L347.3,89.8 L347.6,89.3 L347.9,88.6 L348.2,87.9 L348.5,87.1 L348.8,86.2 L349.1,85.3 L349.4,84.3 L349.7,83.3 L350.1,82.2 L350.5,81.2 L351,80 L351.5,78.9 L352.1,77.8 L352.7,76.7 L353.4,75.6 L354.2,74.5 L354.9,73.5 L355.8,72.5 L356.6,71.6 L357.4,70.7 L358.3,69.9 L359.2,69.2 L360,68.5 L360.9,68 L361.7,67.5 L362.4,67.2 L363.2,67 L363.9,66.8 L364.5,66.8 L365.1,66.8 L365.7,67 L366.2,67.3 L366.7,67.7 L367.2,68.1 L367.7,68.7 L368.2,69.3 L368.6,70 L369.1,70.8 L369.6,71.6 L370.1,72.5 L370.7,73.4 L371.3,74.3 L372,75.3 L372.7,76.2 L373.4,77.2 L374.3,78.1 L375.1,79.1 L376.1,80 L377,80.8 L378,81.7 L379.1,82.4 L380.1,83.2 L381.2,83.8 L382.2,84.4 L383.2,84.9 L384.2,85.3 L385.2,85.6 L386.1,85.9 L387,86 L387.8,86.1 L388.5,86 L389.2,85.9 L389.8,85.7 L390.3,85.4 L390.8,85 L391.2,84.5 L391.5,83.9 L391.9,83.3 L392.2,82.6 L392.4,81.8 L392.7,80.9 L392.9,80 L393.2,79 L393.5,78 L393.9,76.9 L394.2,75.9 L394.6,74.7 L395.1,73.6 L395.6,72.5 L396.2,71.3 L396.8,70.2 L397.5,69.1 L398.2,68 L399,67 L399.8,66 L400.6,65.1 L401.4,64.2 L402.2,63.4 L403.1,62.7 L403.9,62.1 L404.7,61.6 L405.4,61.2 L406.2,60.9 L406.9,60.7 L407.5,60.6 L408.2,60.6 L408.8,60.7 L409.3,60.9 L409.8,61.2 L410.3,61.7 L410.8,62.2 L411.3,62.7 L411.8,63.4 L412.3,64.1 L412.8,64.9 L413.4,65.7 L413.9,66.6 L414.6,67.5 L415.3,68.4 L416,69.3 L416.8,70.2 L417.7,71.2 L418.6,72.1 L419.5,72.9 L420.5,73.8 L421.6,74.5 L422.6,75.3 L423.7,76 L424.8,76.6 L425.8,77.2 L426.9,77.6 L427.9,78 L428.8,78.4 L429.7,78.6 L430.6,78.8 L431.4,78.8 L432.1,78.8 L432.8,78.7 L433.4,78.5 L433.9,78.2 L434.4,77.8 L434.8,77.4 L435.2,76.8 L435.5,76.2 L435.8,75.5 L436.1,74.7 L436.3,73.9 L436.5,73 L436.8,72 L437,71 L437.3,70 L437.7,68.9 L438.1,67.7 L438.5,66.6 L439,65.5 L439.5,64.3 L440.1,63.2 L440.8,62.1 L441.5,61 L442.3,59.9 L443.1,58.9 L443.9,58 L444.8,57.1 L445.7,56.3 L446.5,55.6 L447.4,55 L448.3,54.5 L449.1,54.1 L449.9,53.8 L450.7,53.6 L451.4,53.5 L452.1,53.5 L452.8,53.6 L453.4,53.9 L453.9,54.2 L454.4,54.6 L454.9,55.1 L455.4,55.7 L455.9,56.4 L456.3,57.1 L456.8,57.9 L457.3,58.8 L457.8,59.7 L458.4,60.7 L458.9,61.6 L459.6,62.6 L460.3,63.6 L461,64.6 L461.8,65.6 L462.6,66.6 L463.4,67.6 L464.3,68.5 L465.3,69.4 L466.2,70.2 L467.2,71 L468.1,71.7 L469.1,72.4 L470,73 L470.9,73.5 L471.8,73.9 L472.6,74.2 L473.3,74.4 L474,74.6 L474.7,74.6 L475.3,74.5 L475.9,74.4 L476.4,74.1 L476.8,73.8 L477.2,73.3 L477.6,72.8 L478,72.2 L478.3,71.5 L478.7,70.8 L479.1,70 L479.5,69.1 L479.9,68.2 L480.4,67.2 L481,66.2 L481.6,65.2 L482.2,64.2 L482.9,63.2 L483.7,62.2 L484.5,61.2 L485.4,60.3 L486.4,59.4 L487.3,58.5 L488.3,57.7 L489.4,56.9 L490.4,56.3 L491.4,55.6 L492.4,55.1 L493.4,54.7 L494.3,54.3 L495.2,54.1 L496,53.9 L496.8,53.8 L497.5,53.8 L498.2,53.9 L498.7,54.1 L499.3,54.4 L499.7,54.8 L500.2,55.3 L500.5,55.9 L500.9,56.5 L501.2,57.2 L501.5,58 L501.9,58.9 L502.2,59.8 L502.5,60.8 L502.9,61.8 L503.3,62.8 L503.7,63.9 L504.2,65 L504.7,66.1 L505.3,67.2 L506,68.4 L506.6,69.4 L507.4,70.5 L508.1,71.6 L508.9,72.5 L509.8,73.5 L510.6,74.4 L511.4,75.2 L512.3,75.9 L513.1,76.6 L513.9,77.1 L514.6,77.6 L515.4,78 L516.1,78.3 L516.7,78.4 L517.4,78.5 L517.9,78.4 L518.5,78.3 L519,78.1 L519.5,77.7 L520,77.3 L520.5,76.8 L520.9,76.2 L521.4,75.5 L521.9,74.8 L522.4,74 L523,73.1 L523.6,72.3 L524.2,71.4 L525,70.5 L525.7,69.6 L526.6,68.6 L527.5,67.8 L528.4,66.9 L529.4,66 L530.4,65.3 L531.5,64.5 L532.6,63.8 L533.7,63.2 L534.8,62.6 L535.9,62.2 L537,61.7 L538,61.4 L539,61.2 L540,61 L540.8,60.9 L541.6,60.9 L542.4,61 L543,61.2 L543.6,61.5 L544.2,61.9 L544.6,62.3 L545,62.8 L545.3,63.4 L545.6,64.1 L545.9,64.9 L546.1,65.7 L546.3,66.6 L546.4,67.5 L546.6,68.5 L546.8,69.6 L547,70.7 L547.2,71.8 L547.5,72.9 L547.8,74.1 L548.2,75.3 L548.6,76.5 L549.1,77.7 L549.6,78.9 L550.2,80.1 L550.8,81.2 L551.4,82.3 L552.1,83.3 L552.8,84.3 L553.5,85.2 L554.2,86 L555,86.7 L555.7,87.3 L556.4,87.8 L557.1,88.2 L557.8,88.5 L558.4,88.7 L559.1,88.8 L559.7,88.8 L560.4,88.6 L561,88.4 L561.6,88 L562.1,87.6 L562.7,87.1 L563.3,86.5 L563.9,85.8 L564.6,85.1 L565.2,84.3 L565.9,83.5 L566.6,82.6 L567.4,81.7 L568.1,80.9 L569,80" fill="none" stroke="#7089cf" stroke-width="3.4" stroke-linecap="round"/>
<path d="M567 68L607 64.5V80.5L567 84.5Z" fill="#d8922c"/>
<rect x="571" y="71.5" width="2.6" height="7" fill="#fff"/>
<rect x="577" y="71" width="2.6" height="7" fill="#fff"/>
<rect x="583" y="70.4" width="2.6" height="7" fill="#fff"/>
<rect x="589" y="69.8" width="2.6" height="7" fill="#fff"/>
<rect x="595" y="69.3" width="2.6" height="7" fill="#fff"/>
<rect x="601" y="68.8" width="2.6" height="7" fill="#fff"/>
<circle cx="625" cy="70.7" r="15.6" fill="#fff" stroke="#d8922c" stroke-width="6.4"/>
<path d="M633.3 72.4L637.7 73.3" stroke="#d8922c" stroke-width="1.6"/>
<path d="M629.7 77.8L632.2 81.5" stroke="#d8922c" stroke-width="1.6"/>
<path d="M623.3 79L622.4 83.4" stroke="#d8922c" stroke-width="1.6"/>
<path d="M617.9 75.4L614.2 77.9" stroke="#d8922c" stroke-width="1.6"/>
<path d="M616.7 69L612.3 68.1" stroke="#d8922c" stroke-width="1.6"/>
<path d="M620.3 63.6L617.8 59.9" stroke="#d8922c" stroke-width="1.6"/>
<path d="M626.7 62.4L627.6 58" stroke="#d8922c" stroke-width="1.6"/>
<path d="M632.1 66L635.8 63.5" stroke="#d8922c" stroke-width="1.6"/>
<path d="M1427,70 L1427.4,71.1 L1427.8,72.3 L1428.2,73.4 L1428.5,74.4 L1428.7,75.4 L1429,76.4 L1429.2,77.3 L1429.4,78.1 L1429.6,78.9 L1429.8,79.6 L1430,80.2 L1430.3,80.7 L1430.6,81.2 L1431,81.6 L1431.4,81.9 L1431.9,82.1 L1432.5,82.2 L1433.1,82.3 L1433.9,82.2 L1434.7,82.2 L1435.6,82 L1436.5,81.8 L1437.6,81.5 L1438.6,81.1 L1439.7,80.7 L1440.8,80.2 L1442,79.6 L1443.1,79 L1444.2,78.4 L1445.3,77.7 L1446.3,76.9 L1447.3,76.1 L1448.3,75.3 L1449.2,74.5 L1450.1,73.7 L1450.9,72.9 L1451.6,72.1 L1452.4,71.3 L1453,70.5 L1453.6,69.8 L1454.2,69.1 L1454.8,68.5 L1455.4,68 L1455.9,67.6 L1456.5,67.2 L1457,66.9 L1457.6,66.7 L1458.2,66.7 L1458.8,66.7 L1459.4,66.9 L1460.1,67.1 L1460.9,67.5 L1461.7,68 L1462.4,68.6 L1463.2,69.3 L1464,70.1 L1464.7,71 L1465.4,71.9 L1466.1,73 L1466.7,74 L1467.3,75.2 L1467.8,76.4 L1468.3,77.5 L1468.8,78.8 L1469.2,80 L1469.5,81.2 L1469.8,82.4 L1470.1,83.6 L1470.3,84.7 L1470.5,85.8 L1470.7,86.9 L1470.9,87.9 L1471.1,88.9 L1471.3,89.8 L1471.6,90.7 L1471.9,91.5 L1472.2,92.2 L1472.6,92.9 L1473.1,93.4 L1473.6,93.9 L1474.1,94.3 L1474.8,94.6 L1475.4,94.8 L1476.2,94.9 L1477,94.9 L1477.9,94.9 L1478.9,94.7 L1479.8,94.4 L1480.9,94 L1481.9,93.6 L1483,93.1 L1484,92.4 L1485.1,91.8 L1486.2,91 L1487.2,90.2 L1488.2,89.3 L1489.1,88.4 L1490,87.5 L1490.8,86.5 L1491.6,85.5 L1492.3,84.6 L1492.9,83.6 L1493.5,82.6 L1494,81.7 L1494.5,80.8 L1495,79.9 L1495.4,79.1 L1495.9,78.4 L1496.3,77.7 L1496.7,77.1 L1497.1,76.6 L1497.6,76.2 L1498.1,75.8 L1498.6,75.6 L1499.2,75.4 L1499.7,75.4 L1500.4,75.5 L1501.1,75.6 L1501.8,75.9 L1502.6,76.2 L1503.4,76.6 L1504.3,77.2 L1505.1,77.8 L1506,78.5 L1507,79.2 L1507.9,80 L1508.8,80.9 L1509.6,81.8 L1510.5,82.8 L1511.3,83.8 L1512.1,84.8 L1512.8,85.9 L1513.5,86.9 L1514.1,88 L1514.7,89 L1515.2,90 L1515.7,91 L1516.1,92 L1516.6,92.9 L1517,93.7 L1517.3,94.5 L1517.7,95.3 L1518.1,95.9 L1518.5,96.5 L1518.9,97 L1519.4,97.4 L1519.9,97.7 L1520.5,97.9 L1521.1,98 L1521.7,98 L1522.5,97.9 L1523.2,97.7 L1524,97.4 L1524.9,97.1 L1525.8,96.6 L1526.8,96.1 L1527.7,95.4 L1528.7,94.7 L1529.6,94 L1530.6,93.1 L1531.5,92.2 L1532.4,91.3 L1533.2,90.3 L1534,89.3 L1534.8,88.2 L1535.5,87.2 L1536.1,86.1 L1536.7,85.1 L1537.2,84 L1537.6,83 L1538,82.1 L1538.4,81.1 L1538.8,80.3 L1539.1,79.5 L1539.4,78.7 L1539.7,78 L1540.1,77.4 L1540.4,76.9 L1540.8,76.5 L1541.2,76.1 L1541.7,75.9 L1542.3,75.7 L1542.9,75.6 L1543.5,75.7 L1544.3,75.8 L1545.1,76 L1545.9,76.2 L1546.8,76.6 L1547.8,77.1 L1548.7,77.6 L1549.7,78.2 L1550.7,78.8 L1551.8,79.6 L1552.8,80.3 L1553.7,81.2 L1554.7,82 L1555.6,82.9 L1556.5,83.9 L1557.3,84.8 L1558.1,85.8 L1558.8,86.7 L1559.5,87.7 L1560.1,88.6 L1560.7,89.5 L1561.2,90.4 L1561.7,91.2 L1562.2,92 L1562.7,92.7 L1563.2,93.3 L1563.6,93.9 L1564.1,94.4 L1564.6,94.8 L1565.1,95 L1565.6,95.2 L1566.2,95.3 L1566.9,95.3 L1567.6,95.2 L1568.3,95 L1569.1,94.7 L1569.9,94.2 L1570.7,93.7 L1571.6,93.1 L1572.5,92.4 L1573.3,91.6 L1574.2,90.7 L1575,89.8 L1575.8,88.8 L1576.6,87.8 L1577.4,86.8 L1578.1,85.7 L1578.7,84.5 L1579.3,83.4 L1579.8,82.3 L1580.3,81.2 L1580.7,80.1 L1581.1,79 L1581.5,78 L1581.8,77 L1582.1,76.1 L1582.3,75.2 L1582.6,74.4 L1582.9,73.6 L1583.2,73 L1583.5,72.4 L1583.9,71.8 L1584.3,71.4 L1584.8,71.1 L1585.4,70.8 L1586,70.6 L1586.7,70.6 L1587.4,70.6 L1588.2,70.7 L1589.1,70.9 L1590,71.1 L1591,71.5 L1592,72 L1593,72.5 L1594,73.1 L1595.1,73.8 L1596.1,74.5 L1597.1,75.3 L1598.1,76.1 L1599.1,77 L1600,77.9 L1600.9,78.8 L1601.7,79.8 L1602.4,80.7 L1603.1,81.7 L1603.8,82.6 L1604.4,83.5 L1605,84.4 L1605.5,85.3 L1606,86.1 L1606.5,86.8 L1607,87.5 L1607.4,88.1 L1607.9,88.6 L1608.4,89 L1609,89.3 L1609.5,89.6 L1610.1,89.7 L1610.8,89.7 L1611.5,89.6 L1612.2,89.5 L1613,89.2 L1613.8,88.8 L1614.6,88.3 L1615.4,87.7 L1616.3,87 L1617.1,86.2 L1618,85.4 L1618.8,84.4 L1619.6,83.4 L1620.4,82.4 L1621.1,81.3 L1621.8,80.2 L1622.4,79.1 L1622.9,78 L1623.5,76.8 L1623.9,75.7 L1624.3,74.5 L1624.7,73.4 L1625,72.4 L1625.3,71.4 L1625.5,70.4 L1625.8,69.5 L1626,68.6 L1626.3,67.8 L1626.6,67.1 L1626.9,66.4 L1627.2,65.8 L1627.6,65.4 L1628.1,64.9 L1628.6,64.6 L1629.1,64.4 L1629.8,64.2 L1630.5,64.2 L1631.3,64.2 L1632.1,64.3 L1633,64.6 L1634,64.8 L1634.9,65.2 L1636,65.7 L1637,66.2 L1638.1,66.8 L1639.2,67.5 L1640.2,68.2 L1641.3,69 L1642.3,69.8 L1643.2,70.6 L1644.1,71.5 L1645,72.4 L1645.8,73.4 L1646.6,74.3 L1647.3,75.2 L1648,76.1 L1648.6,77 L1649.1,77.9 L1649.7,78.7 L1650.2,79.4 L1650.6,80.1 L1651.1,80.7 L1651.6,81.3 L1652.1,81.7 L1652.6,82.1 L1653.1,82.4 L1653.6,82.5 L1654.2,82.6 L1654.9,82.6 L1655.5,82.4 L1656.2,82.2 L1657,81.9 L1657.8,81.4 L1658.6,80.9 L1659.4,80.2 L1660.2,79.5 L1661.1,78.7 L1661.9,77.9 L1662.7,76.9 L1663.5,75.9 L1664.3,74.9 L1665,73.8 L1665.7,72.7 L1666.4,71.6 L1666.9,70.5 L1667.5,69.4 L1668,68.3 L1668.4,67.2 L1668.8,66.1 L1669.1,65.1 L1669.4,64.1 L1669.7,63.2 L1670,62.3 L1670.3,61.5 L1670.5,60.7 L1670.8,60 L1671.2,59.4 L1671.6,58.9 L1672,58.5 L1672.5,58.2 L1673,57.9 L1673.6,57.7 L1674.3,57.7 L1675,57.7 L1675.8,57.8 L1676.7,58 L1677.6,58.2 L1678.5,58.6 L1679.5,59 L1680.6,59.6 L1681.6,60.2 L1682.7,60.8 L1683.7,61.5 L1684.7,62.3 L1685.7,63.1 L1686.7,64 L1687.6,64.9 L1688.5,65.8 L1689.3,66.8 L1690.1,67.7 L1690.8,68.7 L1691.4,69.6 L1692,70.5 L1692.6,71.4 L1693.1,72.3 L1693.6,73 L1694.1,73.8 L1694.5,74.5 L1695,75.1 L1695.4,75.6 L1695.9,76 L1696.4,76.3 L1696.9,76.6 L1697.5,76.7 L1698.1,76.8 L1698.7,76.7 L1699.4,76.5 L1700.1,76.3 L1700.9,75.9 L1701.7,75.4 L1702.5,74.9 L1703.4,74.2 L1704.2,73.5 L1705.1,72.7 L1706,71.8 L1706.8,70.9 L1707.7,69.9 L1708.4,68.9 L1709.2,67.9 L1709.9,66.8 L1710.6,65.7 L1711.2,64.6 L1711.7,63.5 L1712.2,62.4 L1712.7,61.3 L1713.1,60.3 L1713.5,59.3 L1713.8,58.4 L1714.1,57.5 L1714.4,56.6 L1714.7,55.9 L1715,55.2 L1715.4,54.5 L1715.7,54 L1716.2,53.6 L1716.6,53.2 L1717.1,52.9 L1717.7,52.7 L1718.3,52.6 L1719,52.6 L1719.8,52.7 L1720.6,52.9 L1721.5,53.2 L1722.4,53.5 L1723.4,53.9 L1724.4,54.5 L1725.4,55 L1726.4,55.7 L1727.4,56.4 L1728.4,57.2 L1729.4,58 L1730.4,58.9 L1731.3,59.8 L1732.2,60.8 L1733,61.7 L1733.7,62.7 L1734.5,63.7 L1735.1,64.6 L1735.7,65.6 L1736.3,66.5 L1736.8,67.4 L1737.3,68.2 L1737.7,69 L1738.2,69.7 L1738.6,70.3 L1739,70.9 L1739.5,71.4 L1740,71.8 L1740.5,72.1 L1741,72.3 L1741.6,72.4 L1742.2,72.4 L1742.9,72.3 L1743.6,72.1 L1744.3,71.8 L1745.1,71.4 L1746,70.9 L1746.9,70.4 L1747.8,69.7 L1748.7,68.9 L1749.6,68.1 L1750.5,67.2 L1751.3,66.3 L1752.1,65.3 L1752.9,64.3 L1753.7,63.2 L1754.3,62.1 L1755,61 L1755.6,59.9 L1756.1,58.8 L1756.6,57.8 L1757,56.7 L1757.4,55.7 L1757.8,54.7 L1758.2,53.8 L1758.5,52.9 L1758.9,52.1 L1759.3,51.4 L1759.6,50.7 L1760.1,50.2 L1760.5,49.7 L1761,49.3 L1761.6,48.9 L1762.2,48.7 L1762.9,48.6 L1763.7,48.6 L1764.5,48.7 L1765.3,48.8 L1766.2,49.1 L1767.2,49.5 L1768.1,50 L1769.1,50.6 L1770.1,51.2 L1771,52 L1772,52.8 L1772.9,53.7 L1773.8,54.6 L1774.7,55.6 L1775.5,56.6 L1776.2,57.7 L1776.9,58.8 L1777.5,59.8 L1778.1,60.9 L1778.6,62 L1779.1,63 L1779.5,64.1 L1779.8,65 L1780.2,66 L1780.5,66.8 L1780.8,67.6 L1781.1,68.4 L1781.4,69.1 L1781.7,69.7 L1782.1,70.2 L1782.5,70.6 L1783,71 L1783.5,71.2 L1784.1,71.4 L1784.8,71.4 L1785.5,71.4 L1786.3,71.3 L1787.2,71.1 L1788.1,70.8 L1789,70.4 L1790,70 L1790.9,69.4 L1792,68.8 L1793,68.1 L1794,67.4 L1795,66.6 L1795.9,65.7 L1796.9,64.8 L1797.8,63.9 L1798.6,62.9 L1799.4,62 L1800.2,61 L1800.9,60 L1801.5,59.1 L1802.1,58.2 L1802.7,57.2 L1803.2,56.4 L1803.7,55.6 L1804.2,54.8 L1804.7,54.1 L1805.2,53.5 L1805.7,53 L1806.2,52.5 L1806.7,52.2 L1807.3,51.9 L1807.9,51.7 L1808.5,51.7 L1809.2,51.7 L1809.9,51.9 L1810.6,52.1 L1811.4,52.5 L1812.2,53 L1813,53.5 L1813.8,54.2 L1814.7,54.9 L1815.5,55.7 L1816.4,56.6 L1817.2,57.6 L1818,58.6 L1818.8,59.6 L1819.5,60.7 L1820.1,61.8 L1820.8,63 L1821.3,64.1 L1821.8,65.2 L1822.2,66.3 L1822.6,67.4 L1823,68.5 L1823.2,69.5 L1823.5,70.5 L1823.7,71.4 L1823.9,72.3 L1824.1,73.1 L1824.4,73.8 L1824.6,74.5 L1824.9,75.1 L1825.2,75.6 L1825.5,76 L1825.9,76.3 L1826.4,76.6 L1826.9,76.7 L1827.6,76.8 L1828.2,76.8 L1829,76.7 L1829.8,76.6 L1830.7,76.3 L1831.6,76 L1832.6,75.7 L1833.6,75.3 L1834.7,74.8 L1835.8,74.3 L1836.9,73.8 L1838,73.2 L1839.1,72.5 L1840.2,71.9 L1841.3,71.2 L1842.3,70.4 L1843.3,69.7 L1844.2,68.9 L1845.1,68.2 L1846,67.4 L1846.8,66.7 L1847.6,66 L1848.3,65.3 L1848.9,64.7 L1849.6,64.1 L1850.2,63.6 L1850.8,63.1 L1851.3,62.8 L1851.9,62.5 L1852.4,62.3 L1852.9,62.2 L1853.4,62.2 L1853.9,62.4 L1854.4,62.6 L1855,62.9 L1855.6,63.3 L1856.2,63.9 L1856.9,64.5 L1857.6,65.2 L1858.2,66.1 L1858.9,66.9 L1859.6,67.9 L1860.3,68.9 L1860.9,70 L1861.5,71.1 L1862.1,72.3 L1862.7,73.4 L1863.2,74.6 L1863.6,75.8 L1864,77 L1864,77 L1863.1,77.8 L1862.3,78.7 L1861.5,79.5 L1860.8,80.3 L1860.1,81.1 L1859.4,81.8 L1858.8,82.6 L1858.1,83.2 L1857.5,83.8 L1856.9,84.3 L1856.4,84.7 L1855.8,85 L1855.1,85.3 L1854.5,85.4 L1853.9,85.4 L1853.2,85.3 L1852.4,85.1 L1851.7,84.8 L1850.9,84.4 L1850.2,83.8 L1849.5,83.1 L1848.8,82.4 L1848.1,81.5 L1847.4,80.6 L1846.8,79.6 L1846.2,78.5 L1845.6,77.4 L1845.1,76.3 L1844.6,75.1 L1844.1,73.8 L1843.8,72.6 L1843.4,71.4 L1843.1,70.2 L1842.9,69 L1842.6,67.8 L1842.5,66.7 L1842.3,65.6 L1842.1,64.5 L1842,63.5 L1841.8,62.5 L1841.7,61.6 L1841.5,60.7 L1841.2,60 L1840.9,59.2 L1840.5,58.6 L1840.1,58 L1839.6,57.5 L1839.1,57.1 L1838.5,56.8 L1837.8,56.6 L1837,56.5 L1836.2,56.5 L1835.3,56.5 L1834.4,56.7 L1833.4,56.9 L1832.3,57.2 L1831.2,57.6 L1830.2,58.1 L1829,58.7 L1827.9,59.3 L1826.9,60 L1825.8,60.8 L1824.8,61.6 L1823.8,62.4 L1822.9,63.3 L1822,64.2 L1821.2,65.1 L1820.4,66 L1819.7,67 L1819,67.9 L1818.4,68.8 L1817.9,69.6 L1817.4,70.4 L1816.9,71.2 L1816.4,71.9 L1815.9,72.5 L1815.5,73 L1815,73.5 L1814.5,73.9 L1814,74.1 L1813.4,74.3 L1812.8,74.4 L1812.2,74.4 L1811.6,74.2 L1810.9,74 L1810.2,73.7 L1809.4,73.2 L1808.6,72.7 L1807.8,72.1 L1807,71.4 L1806.1,70.6 L1805.3,69.7 L1804.4,68.8 L1803.6,67.9 L1802.8,66.9 L1802.1,65.8 L1801.3,64.7 L1800.7,63.7 L1800,62.6 L1799.5,61.5 L1798.9,60.4 L1798.5,59.3 L1798,58.2 L1797.7,57.2 L1797.3,56.3 L1797,55.3 L1796.6,54.5 L1796.3,53.7 L1796,52.9 L1795.7,52.3 L1795.3,51.7 L1794.9,51.2 L1794.5,50.8 L1794,50.5 L1793.5,50.2 L1792.9,50.1 L1792.2,50 L1791.5,50.1 L1790.7,50.2 L1789.8,50.5 L1788.9,50.8 L1787.9,51.2 L1787,51.6 L1786,52.2 L1784.9,52.8 L1783.9,53.6 L1782.9,54.3 L1781.9,55.1 L1780.9,56 L1780,56.9 L1779.1,57.9 L1778.3,58.9 L1777.5,59.8 L1776.8,60.8 L1776.2,61.8 L1775.6,62.8 L1775.1,63.8 L1774.6,64.7 L1774.2,65.6 L1773.8,66.4 L1773.4,67.2 L1773.1,67.9 L1772.7,68.5 L1772.3,69 L1772,69.5 L1771.6,69.9 L1771.1,70.2 L1770.7,70.4 L1770.1,70.4 L1769.5,70.4 L1768.9,70.4 L1768.2,70.2 L1767.4,69.9 L1766.6,69.6 L1765.7,69.1 L1764.8,68.6 L1763.9,68 L1762.9,67.4 L1761.9,66.7 L1761,65.9 L1760,65.1 L1759.1,64.2 L1758.1,63.3 L1757.2,62.4 L1756.4,61.4 L1755.6,60.4 L1754.9,59.5 L1754.2,58.5 L1753.5,57.5 L1752.9,56.6 L1752.4,55.7 L1751.9,54.8 L1751.4,54 L1751,53.2 L1750.5,52.5 L1750.1,51.9 L1749.7,51.3 L1749.2,50.9 L1748.8,50.5 L1748.3,50.2 L1747.7,50 L1747.1,49.9 L1746.4,50 L1745.7,50.1 L1745,50.3 L1744.2,50.6 L1743.4,51 L1742.5,51.6 L1741.6,52.2 L1740.7,52.9 L1739.8,53.6 L1739,54.5 L1738.1,55.4 L1737.2,56.3 L1736.4,57.4 L1735.7,58.4 L1734.9,59.5 L1734.3,60.6 L1733.7,61.7 L1733.1,62.8 L1732.6,63.9 L1732.1,64.9 L1731.7,66 L1731.4,67 L1731,67.9 L1730.7,68.8 L1730.4,69.7 L1730.1,70.5 L1729.8,71.2 L1729.5,71.9 L1729.1,72.4 L1728.7,72.9 L1728.2,73.3 L1727.7,73.6 L1727.2,73.8 L1726.5,73.9 L1725.8,74 L1725.1,73.9 L1724.3,73.8 L1723.4,73.5 L1722.5,73.2 L1721.5,72.8 L1720.5,72.3 L1719.5,71.7 L1718.5,71 L1717.5,70.3 L1716.5,69.5 L1715.5,68.7 L1714.5,67.8 L1713.6,66.9 L1712.7,66 L1711.9,65 L1711.1,64.1 L1710.4,63.1 L1709.7,62.1 L1709.1,61.2 L1708.5,60.3 L1708,59.4 L1707.5,58.5 L1707,57.7 L1706.6,57 L1706.1,56.3 L1705.7,55.8 L1705.2,55.2 L1704.7,54.8 L1704.2,54.5 L1703.6,54.3 L1703,54.2 L1702.4,54.1 L1701.7,54.2 L1701,54.4 L1700.2,54.7 L1699.4,55.1 L1698.6,55.6 L1697.7,56.2 L1696.9,56.9 L1696,57.6 L1695.1,58.5 L1694.3,59.4 L1693.4,60.3 L1692.6,61.3 L1691.9,62.4 L1691.1,63.4 L1690.5,64.5 L1689.9,65.7 L1689.3,66.8 L1688.8,67.9 L1688.4,69 L1688,70.1 L1687.6,71.1 L1687.3,72.1 L1687,73 L1686.7,73.9 L1686.4,74.8 L1686.1,75.5 L1685.9,76.2 L1685.5,76.8 L1685.2,77.4 L1684.8,77.8 L1684.3,78.2 L1683.8,78.4 L1683.2,78.6 L1682.5,78.7 L1681.8,78.7 L1681.1,78.7 L1680.2,78.5 L1679.3,78.2 L1678.4,77.9 L1677.4,77.5 L1676.4,77 L1675.3,76.4 L1674.3,75.7 L1673.2,75 L1672.2,74.3 L1671.2,73.5 L1670.2,72.6 L1669.3,71.7 L1668.4,70.8 L1667.5,69.9 L1666.8,69 L1666,68 L1665.3,67.1 L1664.7,66.2 L1664.1,65.3 L1663.6,64.5 L1663,63.7 L1662.6,62.9 L1662.1,62.2 L1661.6,61.6 L1661.1,61.1 L1660.6,60.7 L1660.1,60.3 L1659.6,60.1 L1659,59.9 L1658.4,59.9 L1657.7,59.9 L1657,60.1 L1656.3,60.3 L1655.6,60.7 L1654.8,61.2 L1653.9,61.8 L1653.1,62.4 L1652.3,63.2 L1651.4,64 L1650.6,64.9 L1649.8,65.8 L1649,66.8 L1648.2,67.9 L1647.5,69 L1646.9,70.1 L1646.2,71.2 L1645.7,72.3 L1645.2,73.5 L1644.7,74.6 L1644.3,75.7 L1644,76.7 L1643.7,77.8 L1643.4,78.7 L1643.1,79.7 L1642.9,80.5 L1642.6,81.3 L1642.4,82.1 L1642.1,82.7 L1641.8,83.3 L1641.4,83.8 L1641,84.2 L1640.5,84.6 L1640,84.8 L1639.4,85 L1638.7,85 L1637.9,85 L1637.1,84.9 L1636.3,84.7 L1635.4,84.5 L1634.4,84.1 L1633.4,83.7 L1632.4,83.2 L1631.3,82.6 L1630.2,82 L1629.2,81.3 L1628.1,80.6 L1627.1,79.8 L1626.1,78.9 L1625.1,78.1 L1624.2,77.2 L1623.4,76.3 L1622.6,75.4 L1621.8,74.5 L1621.1,73.6 L1620.5,72.7 L1619.9,71.9 L1619.4,71.1 L1618.9,70.3 L1618.4,69.6 L1617.9,69 L1617.4,68.4 L1617,67.9 L1616.5,67.6 L1616,67.3 L1615.5,67.1 L1614.9,67 L1614.3,67 L1613.7,67.1 L1613,67.3 L1612.3,67.6 L1611.6,68.1 L1610.8,68.6 L1610,69.2 L1609.1,69.9 L1608.3,70.6 L1607.4,71.5 L1606.6,72.4 L1605.8,73.3 L1605,74.3 L1604.2,75.4 L1603.5,76.5 L1602.9,77.6 L1602.2,78.7 L1601.7,79.8 L1601.2,80.9 L1600.7,82 L1600.3,83 L1599.9,84.1 L1599.6,85.1 L1599.3,86 L1599,86.9 L1598.7,87.7 L1598.4,88.5 L1598.1,89.2 L1597.8,89.8 L1597.5,90.3 L1597.1,90.8 L1596.6,91.1 L1596.1,91.4 L1595.5,91.6 L1594.9,91.7 L1594.2,91.7 L1593.4,91.6 L1592.6,91.4 L1591.7,91.1 L1590.7,90.8 L1589.7,90.4 L1588.7,89.9 L1587.7,89.3 L1586.6,88.7 L1585.6,88 L1584.6,87.2 L1583.6,86.4 L1582.6,85.5 L1581.6,84.7 L1580.7,83.8 L1579.9,82.8 L1579.1,81.9 L1578.4,80.9 L1577.7,80 L1577.1,79.1 L1576.5,78.2 L1576,77.4 L1575.5,76.6 L1575,75.8 L1574.5,75.1 L1574.1,74.5 L1573.6,74 L1573.2,73.5 L1572.7,73.2 L1572.2,72.9 L1571.6,72.8 L1571,72.7 L1570.4,72.7 L1569.7,72.9 L1569,73.1 L1568.2,73.5 L1567.4,73.9 L1566.6,74.5 L1565.7,75.1 L1564.9,75.8 L1564,76.6 L1563.1,77.5 L1562.3,78.4 L1561.5,79.4 L1560.7,80.4 L1560,81.5 L1559.3,82.5 L1558.6,83.6 L1558,84.7 L1557.5,85.9 L1557,87 L1556.5,88 L1556.1,89.1 L1555.7,90.1 L1555.4,91.1 L1555.1,92 L1554.8,92.8 L1554.5,93.6 L1554.1,94.3 L1553.8,95 L1553.4,95.6 L1553,96.1 L1552.5,96.5 L1552,96.8 L1551.4,97 L1550.7,97.1 L1550,97.1 L1549.2,97.1 L1548.3,96.9 L1547.4,96.6 L1546.5,96.3 L1545.5,95.8 L1544.5,95.3 L1543.5,94.7 L1542.5,94 L1541.5,93.3 L1540.5,92.4 L1539.6,91.6 L1538.6,90.6 L1537.8,89.7 L1536.9,88.7 L1536.2,87.7 L1535.5,86.7 L1534.8,85.6 L1534.2,84.6 L1533.7,83.6 L1533.2,82.7 L1532.8,81.7 L1532.4,80.8 L1532,80 L1531.6,79.2 L1531.2,78.5 L1530.9,77.9 L1530.5,77.4 L1530,76.9 L1529.6,76.6 L1529.1,76.3 L1528.5,76.1 L1527.9,76 L1527.2,76 L1526.5,76.1 L1525.7,76.3 L1524.9,76.6 L1524,77 L1523.1,77.5 L1522.2,78.1 L1521.3,78.7 L1520.3,79.5 L1519.4,80.2 L1518.4,81.1 L1517.5,82 L1516.6,82.9 L1515.8,83.9 L1515,84.9 L1514.2,85.9 L1513.5,86.9 L1512.8,88 L1512.2,89 L1511.7,90 L1511.2,91 L1510.7,91.9 L1510.2,92.8 L1509.8,93.6 L1509.4,94.4 L1509,95.1 L1508.5,95.7 L1508.1,96.3 L1507.6,96.8 L1507.1,97.2 L1506.5,97.4 L1505.9,97.6 L1505.3,97.7 L1504.6,97.7 L1503.9,97.6 L1503.1,97.4 L1502.3,97 L1501.5,96.6 L1500.6,96.1 L1499.7,95.5 L1498.8,94.8 L1497.9,94 L1496.9,93.2 L1496,92.3 L1495.2,91.3 L1494.3,90.3 L1493.6,89.3 L1492.8,88.2 L1492.1,87.2 L1491.5,86.1 L1491,85 L1490.5,83.9 L1490,82.8 L1489.6,81.8 L1489.3,80.8 L1489,79.9 L1488.7,79 L1488.4,78.1 L1488.2,77.4 L1487.9,76.7 L1487.6,76.1 L1487.3,75.5 L1487,75.1 L1486.6,74.7 L1486.2,74.4 L1485.7,74.2 L1485.1,74.1 L1484.5,74.1 L1483.8,74.2 L1483.1,74.3 L1482.3,74.6 L1481.5,74.9 L1480.5,75.2 L1479.6,75.6 L1478.6,76.1 L1477.5,76.6 L1476.5,77.2 L1475.4,77.8 L1474.3,78.5 L1473.2,79.2 L1472.2,79.9 L1471.1,80.6 L1470.1,81.4 L1469.2,82.2 L1468.3,83 L1467.4,83.7 L1466.6,84.5 L1465.8,85.3 L1465.1,86 L1464.4,86.7 L1463.8,87.3 L1463.2,87.9 L1462.7,88.5 L1462.1,88.9 L1461.6,89.3 L1461.1,89.6 L1460.6,89.8 L1460.1,89.8 L1459.6,89.8 L1459,89.7 L1458.4,89.5 L1457.7,89.1 L1457.1,88.7 L1456.3,88.1 L1455.6,87.5 L1454.9,86.7 L1454.2,85.9 L1453.4,85 L1452.7,84 L1452.1,83 L1451.4,81.9 L1450.8,80.8 L1450.2,79.6 L1449.7,78.4 L1449.2,77.2 L1448.8,76 L1448.4,74.8 L1448.1,73.7 L1447.9,72.5 L1447.6,71.4 L1447.4,70.4 L1447.3,69.3 L1447.1,68.4 L1446.9,67.4 L1446.8,66.6 L1446.6,65.8 L1446.4,65.1 L1446.1,64.4 L1445.8,63.9 L1445.4,63.4 L1444.9,63 L1444.4,62.6 L1443.7,62.3 L1443,62.2 L1442.2,62.1 L1441.3,62.1 L1440.4,62.1 L1439.4,62.3 L1438.4,62.6 L1437.3,62.9 L1436.2,63.4 L1435.1,63.9 L1434,64.4 L1432.9,65.1 L1431.8,65.8 L1430.8,66.6 L1429.8,67.4 L1428.8,68.2 L1427.9,69.1 L1427,70Z" fill="url(#hatch)"/>
<path d="M1427,70 L1427.4,71.1 L1427.8,72.3 L1428.2,73.4 L1428.5,74.4 L1428.7,75.4 L1429,76.4 L1429.2,77.3 L1429.4,78.1 L1429.6,78.9 L1429.8,79.6 L1430,80.2 L1430.3,80.7 L1430.6,81.2 L1431,81.6 L1431.4,81.9 L1431.9,82.1 L1432.5,82.2 L1433.1,82.3 L1433.9,82.2 L1434.7,82.2 L1435.6,82 L1436.5,81.8 L1437.6,81.5 L1438.6,81.1 L1439.7,80.7 L1440.8,80.2 L1442,79.6 L1443.1,79 L1444.2,78.4 L1445.3,77.7 L1446.3,76.9 L1447.3,76.1 L1448.3,75.3 L1449.2,74.5 L1450.1,73.7 L1450.9,72.9 L1451.6,72.1 L1452.4,71.3 L1453,70.5 L1453.6,69.8 L1454.2,69.1 L1454.8,68.5 L1455.4,68 L1455.9,67.6 L1456.5,67.2 L1457,66.9 L1457.6,66.7 L1458.2,66.7 L1458.8,66.7 L1459.4,66.9 L1460.1,67.1 L1460.9,67.5 L1461.7,68 L1462.4,68.6 L1463.2,69.3 L1464,70.1 L1464.7,71 L1465.4,71.9 L1466.1,73 L1466.7,74 L1467.3,75.2 L1467.8,76.4 L1468.3,77.5 L1468.8,78.8 L1469.2,80 L1469.5,81.2 L1469.8,82.4 L1470.1,83.6 L1470.3,84.7 L1470.5,85.8 L1470.7,86.9 L1470.9,87.9 L1471.1,88.9 L1471.3,89.8 L1471.6,90.7 L1471.9,91.5 L1472.2,92.2 L1472.6,92.9 L1473.1,93.4 L1473.6,93.9 L1474.1,94.3 L1474.8,94.6 L1475.4,94.8 L1476.2,94.9 L1477,94.9 L1477.9,94.9 L1478.9,94.7 L1479.8,94.4 L1480.9,94 L1481.9,93.6 L1483,93.1 L1484,92.4 L1485.1,91.8 L1486.2,91 L1487.2,90.2 L1488.2,89.3 L1489.1,88.4 L1490,87.5 L1490.8,86.5 L1491.6,85.5 L1492.3,84.6 L1492.9,83.6 L1493.5,82.6 L1494,81.7 L1494.5,80.8 L1495,79.9 L1495.4,79.1 L1495.9,78.4 L1496.3,77.7 L1496.7,77.1 L1497.1,76.6 L1497.6,76.2 L1498.1,75.8 L1498.6,75.6 L1499.2,75.4 L1499.7,75.4 L1500.4,75.5 L1501.1,75.6 L1501.8,75.9 L1502.6,76.2 L1503.4,76.6 L1504.3,77.2 L1505.1,77.8 L1506,78.5 L1507,79.2 L1507.9,80 L1508.8,80.9 L1509.6,81.8 L1510.5,82.8 L1511.3,83.8 L1512.1,84.8 L1512.8,85.9 L1513.5,86.9 L1514.1,88 L1514.7,89 L1515.2,90 L1515.7,91 L1516.1,92 L1516.6,92.9 L1517,93.7 L1517.3,94.5 L1517.7,95.3 L1518.1,95.9 L1518.5,96.5 L1518.9,97 L1519.4,97.4 L1519.9,97.7 L1520.5,97.9 L1521.1,98 L1521.7,98 L1522.5,97.9 L1523.2,97.7 L1524,97.4 L1524.9,97.1 L1525.8,96.6 L1526.8,96.1 L1527.7,95.4 L1528.7,94.7 L1529.6,94 L1530.6,93.1 L1531.5,92.2 L1532.4,91.3 L1533.2,90.3 L1534,89.3 L1534.8,88.2 L1535.5,87.2 L1536.1,86.1 L1536.7,85.1 L1537.2,84 L1537.6,83 L1538,82.1 L1538.4,81.1 L1538.8,80.3 L1539.1,79.5 L1539.4,78.7 L1539.7,78 L1540.1,77.4 L1540.4,76.9 L1540.8,76.5 L1541.2,76.1 L1541.7,75.9 L1542.3,75.7 L1542.9,75.6 L1543.5,75.7 L1544.3,75.8 L1545.1,76 L1545.9,76.2 L1546.8,76.6 L1547.8,77.1 L1548.7,77.6 L1549.7,78.2 L1550.7,78.8 L1551.8,79.6 L1552.8,80.3 L1553.7,81.2 L1554.7,82 L1555.6,82.9 L1556.5,83.9 L1557.3,84.8 L1558.1,85.8 L1558.8,86.7 L1559.5,87.7 L1560.1,88.6 L1560.7,89.5 L1561.2,90.4 L1561.7,91.2 L1562.2,92 L1562.7,92.7 L1563.2,93.3 L1563.6,93.9 L1564.1,94.4 L1564.6,94.8 L1565.1,95 L1565.6,95.2 L1566.2,95.3 L1566.9,95.3 L1567.6,95.2 L1568.3,95 L1569.1,94.7 L1569.9,94.2 L1570.7,93.7 L1571.6,93.1 L1572.5,92.4 L1573.3,91.6 L1574.2,90.7 L1575,89.8 L1575.8,88.8 L1576.6,87.8 L1577.4,86.8 L1578.1,85.7 L1578.7,84.5 L1579.3,83.4 L1579.8,82.3 L1580.3,81.2 L1580.7,80.1 L1581.1,79 L1581.5,78 L1581.8,77 L1582.1,76.1 L1582.3,75.2 L1582.6,74.4 L1582.9,73.6 L1583.2,73 L1583.5,72.4 L1583.9,71.8 L1584.3,71.4 L1584.8,71.1 L1585.4,70.8 L1586,70.6 L1586.7,70.6 L1587.4,70.6 L1588.2,70.7 L1589.1,70.9 L1590,71.1 L1591,71.5 L1592,72 L1593,72.5 L1594,73.1 L1595.1,73.8 L1596.1,74.5 L1597.1,75.3 L1598.1,76.1 L1599.1,77 L1600,77.9 L1600.9,78.8 L1601.7,79.8 L1602.4,80.7 L1603.1,81.7 L1603.8,82.6 L1604.4,83.5 L1605,84.4 L1605.5,85.3 L1606,86.1 L1606.5,86.8 L1607,87.5 L1607.4,88.1 L1607.9,88.6 L1608.4,89 L1609,89.3 L1609.5,89.6 L1610.1,89.7 L1610.8,89.7 L1611.5,89.6 L1612.2,89.5 L1613,89.2 L1613.8,88.8 L1614.6,88.3 L1615.4,87.7 L1616.3,87 L1617.1,86.2 L1618,85.4 L1618.8,84.4 L1619.6,83.4 L1620.4,82.4 L1621.1,81.3 L1621.8,80.2 L1622.4,79.1 L1622.9,78 L1623.5,76.8 L1623.9,75.7 L1624.3,74.5 L1624.7,73.4 L1625,72.4 L1625.3,71.4 L1625.5,70.4 L1625.8,69.5 L1626,68.6 L1626.3,67.8 L1626.6,67.1 L1626.9,66.4 L1627.2,65.8 L1627.6,65.4 L1628.1,64.9 L1628.6,64.6 L1629.1,64.4 L1629.8,64.2 L1630.5,64.2 L1631.3,64.2 L1632.1,64.3 L1633,64.6 L1634,64.8 L1634.9,65.2 L1636,65.7 L1637,66.2 L1638.1,66.8 L1639.2,67.5 L1640.2,68.2 L1641.3,69 L1642.3,69.8 L1643.2,70.6 L1644.1,71.5 L1645,72.4 L1645.8,73.4 L1646.6,74.3 L1647.3,75.2 L1648,76.1 L1648.6,77 L1649.1,77.9 L1649.7,78.7 L1650.2,79.4 L1650.6,80.1 L1651.1,80.7 L1651.6,81.3 L1652.1,81.7 L1652.6,82.1 L1653.1,82.4 L1653.6,82.5 L1654.2,82.6 L1654.9,82.6 L1655.5,82.4 L1656.2,82.2 L1657,81.9 L1657.8,81.4 L1658.6,80.9 L1659.4,80.2 L1660.2,79.5 L1661.1,78.7 L1661.9,77.9 L1662.7,76.9 L1663.5,75.9 L1664.3,74.9 L1665,73.8 L1665.7,72.7 L1666.4,71.6 L1666.9,70.5 L1667.5,69.4 L1668,68.3 L1668.4,67.2 L1668.8,66.1 L1669.1,65.1 L1669.4,64.1 L1669.7,63.2 L1670,62.3 L1670.3,61.5 L1670.5,60.7 L1670.8,60 L1671.2,59.4 L1671.6,58.9 L1672,58.5 L1672.5,58.2 L1673,57.9 L1673.6,57.7 L1674.3,57.7 L1675,57.7 L1675.8,57.8 L1676.7,58 L1677.6,58.2 L1678.5,58.6 L1679.5,59 L1680.6,59.6 L1681.6,60.2 L1682.7,60.8 L1683.7,61.5 L1684.7,62.3 L1685.7,63.1 L1686.7,64 L1687.6,64.9 L1688.5,65.8 L1689.3,66.8 L1690.1,67.7 L1690.8,68.7 L1691.4,69.6 L1692,70.5 L1692.6,71.4 L1693.1,72.3 L1693.6,73 L1694.1,73.8 L1694.5,74.5 L1695,75.1 L1695.4,75.6 L1695.9,76 L1696.4,76.3 L1696.9,76.6 L1697.5,76.7 L1698.1,76.8 L1698.7,76.7 L1699.4,76.5 L1700.1,76.3 L1700.9,75.9 L1701.7,75.4 L1702.5,74.9 L1703.4,74.2 L1704.2,73.5 L1705.1,72.7 L1706,71.8 L1706.8,70.9 L1707.7,69.9 L1708.4,68.9 L1709.2,67.9 L1709.9,66.8 L1710.6,65.7 L1711.2,64.6 L1711.7,63.5 L1712.2,62.4 L1712.7,61.3 L1713.1,60.3 L1713.5,59.3 L1713.8,58.4 L1714.1,57.5 L1714.4,56.6 L1714.7,55.9 L1715,55.2 L1715.4,54.5 L1715.7,54 L1716.2,53.6 L1716.6,53.2 L1717.1,52.9 L1717.7,52.7 L1718.3,52.6 L1719,52.6 L1719.8,52.7 L1720.6,52.9 L1721.5,53.2 L1722.4,53.5 L1723.4,53.9 L1724.4,54.5 L1725.4,55 L1726.4,55.7 L1727.4,56.4 L1728.4,57.2 L1729.4,58 L1730.4,58.9 L1731.3,59.8 L1732.2,60.8 L1733,61.7 L1733.7,62.7 L1734.5,63.7 L1735.1,64.6 L1735.7,65.6 L1736.3,66.5 L1736.8,67.4 L1737.3,68.2 L1737.7,69 L1738.2,69.7 L1738.6,70.3 L1739,70.9 L1739.5,71.4 L1740,71.8 L1740.5,72.1 L1741,72.3 L1741.6,72.4 L1742.2,72.4 L1742.9,72.3 L1743.6,72.1 L1744.3,71.8 L1745.1,71.4 L1746,70.9 L1746.9,70.4 L1747.8,69.7 L1748.7,68.9 L1749.6,68.1 L1750.5,67.2 L1751.3,66.3 L1752.1,65.3 L1752.9,64.3 L1753.7,63.2 L1754.3,62.1 L1755,61 L1755.6,59.9 L1756.1,58.8 L1756.6,57.8 L1757,56.7 L1757.4,55.7 L1757.8,54.7 L1758.2,53.8 L1758.5,52.9 L1758.9,52.1 L1759.3,51.4 L1759.6,50.7 L1760.1,50.2 L1760.5,49.7 L1761,49.3 L1761.6,48.9 L1762.2,48.7 L1762.9,48.6 L1763.7,48.6 L1764.5,48.7 L1765.3,48.8 L1766.2,49.1 L1767.2,49.5 L1768.1,50 L1769.1,50.6 L1770.1,51.2 L1771,52 L1772,52.8 L1772.9,53.7 L1773.8,54.6 L1774.7,55.6 L1775.5,56.6 L1776.2,57.7 L1776.9,58.8 L1777.5,59.8 L1778.1,60.9 L1778.6,62 L1779.1,63 L1779.5,64.1 L1779.8,65 L1780.2,66 L1780.5,66.8 L1780.8,67.6 L1781.1,68.4 L1781.4,69.1 L1781.7,69.7 L1782.1,70.2 L1782.5,70.6 L1783,71 L1783.5,71.2 L1784.1,71.4 L1784.8,71.4 L1785.5,71.4 L1786.3,71.3 L1787.2,71.1 L1788.1,70.8 L1789,70.4 L1790,70 L1790.9,69.4 L1792,68.8 L1793,68.1 L1794,67.4 L1795,66.6 L1795.9,65.7 L1796.9,64.8 L1797.8,63.9 L1798.6,62.9 L1799.4,62 L1800.2,61 L1800.9,60 L1801.5,59.1 L1802.1,58.2 L1802.7,57.2 L1803.2,56.4 L1803.7,55.6 L1804.2,54.8 L1804.7,54.1 L1805.2,53.5 L1805.7,53 L1806.2,52.5 L1806.7,52.2 L1807.3,51.9 L1807.9,51.7 L1808.5,51.7 L1809.2,51.7 L1809.9,51.9 L1810.6,52.1 L1811.4,52.5 L1812.2,53 L1813,53.5 L1813.8,54.2 L1814.7,54.9 L1815.5,55.7 L1816.4,56.6 L1817.2,57.6 L1818,58.6 L1818.8,59.6 L1819.5,60.7 L1820.1,61.8 L1820.8,63 L1821.3,64.1 L1821.8,65.2 L1822.2,66.3 L1822.6,67.4 L1823,68.5 L1823.2,69.5 L1823.5,70.5 L1823.7,71.4 L1823.9,72.3 L1824.1,73.1 L1824.4,73.8 L1824.6,74.5 L1824.9,75.1 L1825.2,75.6 L1825.5,76 L1825.9,76.3 L1826.4,76.6 L1826.9,76.7 L1827.6,76.8 L1828.2,76.8 L1829,76.7 L1829.8,76.6 L1830.7,76.3 L1831.6,76 L1832.6,75.7 L1833.6,75.3 L1834.7,74.8 L1835.8,74.3 L1836.9,73.8 L1838,73.2 L1839.1,72.5 L1840.2,71.9 L1841.3,71.2 L1842.3,70.4 L1843.3,69.7 L1844.2,68.9 L1845.1,68.2 L1846,67.4 L1846.8,66.7 L1847.6,66 L1848.3,65.3 L1848.9,64.7 L1849.6,64.1 L1850.2,63.6 L1850.8,63.1 L1851.3,62.8 L1851.9,62.5 L1852.4,62.3 L1852.9,62.2 L1853.4,62.2 L1853.9,62.4 L1854.4,62.6 L1855,62.9 L1855.6,63.3 L1856.2,63.9 L1856.9,64.5 L1857.6,65.2 L1858.2,66.1 L1858.9,66.9 L1859.6,67.9 L1860.3,68.9 L1860.9,70 L1861.5,71.1 L1862.1,72.3 L1862.7,73.4 L1863.2,74.6 L1863.6,75.8 L1864,77" fill="none" stroke="#7089cf" stroke-width="3.4" stroke-linecap="round"/>
<path d="M1427,70 L1427.9,69.1 L1428.8,68.2 L1429.8,67.4 L1430.8,66.6 L1431.8,65.8 L1432.9,65.1 L1434,64.4 L1435.1,63.9 L1436.2,63.4 L1437.3,62.9 L1438.4,62.6 L1439.4,62.3 L1440.4,62.1 L1441.3,62.1 L1442.2,62.1 L1443,62.2 L1443.7,62.3 L1444.4,62.6 L1444.9,63 L1445.4,63.4 L1445.8,63.9 L1446.1,64.4 L1446.4,65.1 L1446.6,65.8 L1446.8,66.6 L1446.9,67.4 L1447.1,68.4 L1447.3,69.3 L1447.4,70.4 L1447.6,71.4 L1447.9,72.5 L1448.1,73.7 L1448.4,74.8 L1448.8,76 L1449.2,77.2 L1449.7,78.4 L1450.2,79.6 L1450.8,80.8 L1451.4,81.9 L1452.1,83 L1452.7,84 L1453.4,85 L1454.2,85.9 L1454.9,86.7 L1455.6,87.5 L1456.3,88.1 L1457.1,88.7 L1457.7,89.1 L1458.4,89.5 L1459,89.7 L1459.6,89.8 L1460.1,89.8 L1460.6,89.8 L1461.1,89.6 L1461.6,89.3 L1462.1,88.9 L1462.7,88.5 L1463.2,87.9 L1463.8,87.3 L1464.4,86.7 L1465.1,86 L1465.8,85.3 L1466.6,84.5 L1467.4,83.7 L1468.3,83 L1469.2,82.2 L1470.1,81.4 L1471.1,80.6 L1472.2,79.9 L1473.2,79.2 L1474.3,78.5 L1475.4,77.8 L1476.5,77.2 L1477.5,76.6 L1478.6,76.1 L1479.6,75.6 L1480.5,75.2 L1481.5,74.9 L1482.3,74.6 L1483.1,74.3 L1483.8,74.2 L1484.5,74.1 L1485.1,74.1 L1485.7,74.2 L1486.2,74.4 L1486.6,74.7 L1487,75.1 L1487.3,75.5 L1487.6,76.1 L1487.9,76.7 L1488.2,77.4 L1488.4,78.1 L1488.7,79 L1489,79.9 L1489.3,80.8 L1489.6,81.8 L1490,82.8 L1490.5,83.9 L1491,85 L1491.5,86.1 L1492.1,87.2 L1492.8,88.2 L1493.6,89.3 L1494.3,90.3 L1495.2,91.3 L1496,92.3 L1496.9,93.2 L1497.9,94 L1498.8,94.8 L1499.7,95.5 L1500.6,96.1 L1501.5,96.6 L1502.3,97 L1503.1,97.4 L1503.9,97.6 L1504.6,97.7 L1505.3,97.7 L1505.9,97.6 L1506.5,97.4 L1507.1,97.2 L1507.6,96.8 L1508.1,96.3 L1508.5,95.7 L1509,95.1 L1509.4,94.4 L1509.8,93.6 L1510.2,92.8 L1510.7,91.9 L1511.2,91 L1511.7,90 L1512.2,89 L1512.8,88 L1513.5,86.9 L1514.2,85.9 L1515,84.9 L1515.8,83.9 L1516.6,82.9 L1517.5,82 L1518.4,81.1 L1519.4,80.2 L1520.3,79.5 L1521.3,78.7 L1522.2,78.1 L1523.1,77.5 L1524,77 L1524.9,76.6 L1525.7,76.3 L1526.5,76.1 L1527.2,76 L1527.9,76 L1528.5,76.1 L1529.1,76.3 L1529.6,76.6 L1530,76.9 L1530.5,77.4 L1530.9,77.9 L1531.2,78.5 L1531.6,79.2 L1532,80 L1532.4,80.8 L1532.8,81.7 L1533.2,82.7 L1533.7,83.6 L1534.2,84.6 L1534.8,85.6 L1535.5,86.7 L1536.2,87.7 L1536.9,88.7 L1537.8,89.7 L1538.6,90.6 L1539.6,91.6 L1540.5,92.4 L1541.5,93.3 L1542.5,94 L1543.5,94.7 L1544.5,95.3 L1545.5,95.8 L1546.5,96.3 L1547.4,96.6 L1548.3,96.9 L1549.2,97.1 L1550,97.1 L1550.7,97.1 L1551.4,97 L1552,96.8 L1552.5,96.5 L1553,96.1 L1553.4,95.6 L1553.8,95 L1554.1,94.3 L1554.5,93.6 L1554.8,92.8 L1555.1,92 L1555.4,91.1 L1555.7,90.1 L1556.1,89.1 L1556.5,88 L1557,87 L1557.5,85.9 L1558,84.7 L1558.6,83.6 L1559.3,82.5 L1560,81.5 L1560.7,80.4 L1561.5,79.4 L1562.3,78.4 L1563.1,77.5 L1564,76.6 L1564.9,75.8 L1565.7,75.1 L1566.6,74.5 L1567.4,73.9 L1568.2,73.5 L1569,73.1 L1569.7,72.9 L1570.4,72.7 L1571,72.7 L1571.6,72.8 L1572.2,72.9 L1572.7,73.2 L1573.2,73.5 L1573.6,74 L1574.1,74.5 L1574.5,75.1 L1575,75.8 L1575.5,76.6 L1576,77.4 L1576.5,78.2 L1577.1,79.1 L1577.7,80 L1578.4,80.9 L1579.1,81.9 L1579.9,82.8 L1580.7,83.8 L1581.6,84.7 L1582.6,85.5 L1583.6,86.4 L1584.6,87.2 L1585.6,88 L1586.6,88.7 L1587.7,89.3 L1588.7,89.9 L1589.7,90.4 L1590.7,90.8 L1591.7,91.1 L1592.6,91.4 L1593.4,91.6 L1594.2,91.7 L1594.9,91.7 L1595.5,91.6 L1596.1,91.4 L1596.6,91.1 L1597.1,90.8 L1597.5,90.3 L1597.8,89.8 L1598.1,89.2 L1598.4,88.5 L1598.7,87.7 L1599,86.9 L1599.3,86 L1599.6,85.1 L1599.9,84.1 L1600.3,83 L1600.7,82 L1601.2,80.9 L1601.7,79.8 L1602.2,78.7 L1602.9,77.6 L1603.5,76.5 L1604.2,75.4 L1605,74.3 L1605.8,73.3 L1606.6,72.4 L1607.4,71.5 L1608.3,70.6 L1609.1,69.9 L1610,69.2 L1610.8,68.6 L1611.6,68.1 L1612.3,67.6 L1613,67.3 L1613.7,67.1 L1614.3,67 L1614.9,67 L1615.5,67.1 L1616,67.3 L1616.5,67.6 L1617,67.9 L1617.4,68.4 L1617.9,69 L1618.4,69.6 L1618.9,70.3 L1619.4,71.1 L1619.9,71.9 L1620.5,72.7 L1621.1,73.6 L1621.8,74.5 L1622.6,75.4 L1623.4,76.3 L1624.2,77.2 L1625.1,78.1 L1626.1,78.9 L1627.1,79.8 L1628.1,80.6 L1629.2,81.3 L1630.2,82 L1631.3,82.6 L1632.4,83.2 L1633.4,83.7 L1634.4,84.1 L1635.4,84.5 L1636.3,84.7 L1637.1,84.9 L1637.9,85 L1638.7,85 L1639.4,85 L1640,84.8 L1640.5,84.6 L1641,84.2 L1641.4,83.8 L1641.8,83.3 L1642.1,82.7 L1642.4,82.1 L1642.6,81.3 L1642.9,80.5 L1643.1,79.7 L1643.4,78.7 L1643.7,77.8 L1644,76.7 L1644.3,75.7 L1644.7,74.6 L1645.2,73.5 L1645.7,72.3 L1646.2,71.2 L1646.9,70.1 L1647.5,69 L1648.2,67.9 L1649,66.8 L1649.8,65.8 L1650.6,64.9 L1651.4,64 L1652.3,63.2 L1653.1,62.4 L1653.9,61.8 L1654.8,61.2 L1655.6,60.7 L1656.3,60.3 L1657,60.1 L1657.7,59.9 L1658.4,59.9 L1659,59.9 L1659.6,60.1 L1660.1,60.3 L1660.6,60.7 L1661.1,61.1 L1661.6,61.6 L1662.1,62.2 L1662.6,62.9 L1663,63.7 L1663.6,64.5 L1664.1,65.3 L1664.7,66.2 L1665.3,67.1 L1666,68 L1666.8,69 L1667.5,69.9 L1668.4,70.8 L1669.3,71.7 L1670.2,72.6 L1671.2,73.5 L1672.2,74.3 L1673.2,75 L1674.3,75.7 L1675.3,76.4 L1676.4,77 L1677.4,77.5 L1678.4,77.9 L1679.3,78.2 L1680.2,78.5 L1681.1,78.7 L1681.8,78.7 L1682.5,78.7 L1683.2,78.6 L1683.8,78.4 L1684.3,78.2 L1684.8,77.8 L1685.2,77.4 L1685.5,76.8 L1685.9,76.2 L1686.1,75.5 L1686.4,74.8 L1686.7,73.9 L1687,73 L1687.3,72.1 L1687.6,71.1 L1688,70.1 L1688.4,69 L1688.8,67.9 L1689.3,66.8 L1689.9,65.7 L1690.5,64.5 L1691.1,63.4 L1691.9,62.4 L1692.6,61.3 L1693.4,60.3 L1694.3,59.4 L1695.1,58.5 L1696,57.6 L1696.9,56.9 L1697.7,56.2 L1698.6,55.6 L1699.4,55.1 L1700.2,54.7 L1701,54.4 L1701.7,54.2 L1702.4,54.1 L1703,54.2 L1703.6,54.3 L1704.2,54.5 L1704.7,54.8 L1705.2,55.2 L1705.7,55.8 L1706.1,56.3 L1706.6,57 L1707,57.7 L1707.5,58.5 L1708,59.4 L1708.5,60.3 L1709.1,61.2 L1709.7,62.1 L1710.4,63.1 L1711.1,64.1 L1711.9,65 L1712.7,66 L1713.6,66.9 L1714.5,67.8 L1715.5,68.7 L1716.5,69.5 L1717.5,70.3 L1718.5,71 L1719.5,71.7 L1720.5,72.3 L1721.5,72.8 L1722.5,73.2 L1723.4,73.5 L1724.3,73.8 L1725.1,73.9 L1725.8,74 L1726.5,73.9 L1727.2,73.8 L1727.7,73.6 L1728.2,73.3 L1728.7,72.9 L1729.1,72.4 L1729.5,71.9 L1729.8,71.2 L1730.1,70.5 L1730.4,69.7 L1730.7,68.8 L1731,67.9 L1731.4,67 L1731.7,66 L1732.1,64.9 L1732.6,63.9 L1733.1,62.8 L1733.7,61.7 L1734.3,60.6 L1734.9,59.5 L1735.7,58.4 L1736.4,57.4 L1737.2,56.3 L1738.1,55.4 L1739,54.5 L1739.8,53.6 L1740.7,52.9 L1741.6,52.2 L1742.5,51.6 L1743.4,51 L1744.2,50.6 L1745,50.3 L1745.7,50.1 L1746.4,50 L1747.1,49.9 L1747.7,50 L1748.3,50.2 L1748.8,50.5 L1749.2,50.9 L1749.7,51.3 L1750.1,51.9 L1750.5,52.5 L1751,53.2 L1751.4,54 L1751.9,54.8 L1752.4,55.7 L1752.9,56.6 L1753.5,57.5 L1754.2,58.5 L1754.9,59.5 L1755.6,60.4 L1756.4,61.4 L1757.2,62.4 L1758.1,63.3 L1759.1,64.2 L1760,65.1 L1761,65.9 L1761.9,66.7 L1762.9,67.4 L1763.9,68 L1764.8,68.6 L1765.7,69.1 L1766.6,69.6 L1767.4,69.9 L1768.2,70.2 L1768.9,70.4 L1769.5,70.4 L1770.1,70.4 L1770.7,70.4 L1771.1,70.2 L1771.6,69.9 L1772,69.5 L1772.3,69 L1772.7,68.5 L1773.1,67.9 L1773.4,67.2 L1773.8,66.4 L1774.2,65.6 L1774.6,64.7 L1775.1,63.8 L1775.6,62.8 L1776.2,61.8 L1776.8,60.8 L1777.5,59.8 L1778.3,58.9 L1779.1,57.9 L1780,56.9 L1780.9,56 L1781.9,55.1 L1782.9,54.3 L1783.9,53.6 L1784.9,52.8 L1786,52.2 L1787,51.6 L1787.9,51.2 L1788.9,50.8 L1789.8,50.5 L1790.7,50.2 L1791.5,50.1 L1792.2,50 L1792.9,50.1 L1793.5,50.2 L1794,50.5 L1794.5,50.8 L1794.9,51.2 L1795.3,51.7 L1795.7,52.3 L1796,52.9 L1796.3,53.7 L1796.6,54.5 L1797,55.3 L1797.3,56.3 L1797.7,57.2 L1798,58.2 L1798.5,59.3 L1798.9,60.4 L1799.5,61.5 L1800,62.6 L1800.7,63.7 L1801.3,64.7 L1802.1,65.8 L1802.8,66.9 L1803.6,67.9 L1804.4,68.8 L1805.3,69.7 L1806.1,70.6 L1807,71.4 L1807.8,72.1 L1808.6,72.7 L1809.4,73.2 L1810.2,73.7 L1810.9,74 L1811.6,74.2 L1812.2,74.4 L1812.8,74.4 L1813.4,74.3 L1814,74.1 L1814.5,73.9 L1815,73.5 L1815.5,73 L1815.9,72.5 L1816.4,71.9 L1816.9,71.2 L1817.4,70.4 L1817.9,69.6 L1818.4,68.8 L1819,67.9 L1819.7,67 L1820.4,66 L1821.2,65.1 L1822,64.2 L1822.9,63.3 L1823.8,62.4 L1824.8,61.6 L1825.8,60.8 L1826.9,60 L1827.9,59.3 L1829,58.7 L1830.2,58.1 L1831.2,57.6 L1832.3,57.2 L1833.4,56.9 L1834.4,56.7 L1835.3,56.5 L1836.2,56.5 L1837,56.5 L1837.8,56.6 L1838.5,56.8 L1839.1,57.1 L1839.6,57.5 L1840.1,58 L1840.5,58.6 L1840.9,59.2 L1841.2,60 L1841.5,60.7 L1841.7,61.6 L1841.8,62.5 L1842,63.5 L1842.1,64.5 L1842.3,65.6 L1842.5,66.7 L1842.6,67.8 L1842.9,69 L1843.1,70.2 L1843.4,71.4 L1843.8,72.6 L1844.1,73.8 L1844.6,75.1 L1845.1,76.3 L1845.6,77.4 L1846.2,78.5 L1846.8,79.6 L1847.4,80.6 L1848.1,81.5 L1848.8,82.4 L1849.5,83.1 L1850.2,83.8 L1850.9,84.4 L1851.7,84.8 L1852.4,85.1 L1853.2,85.3 L1853.9,85.4 L1854.5,85.4 L1855.1,85.3 L1855.8,85 L1856.4,84.7 L1856.9,84.3 L1857.5,83.8 L1858.1,83.2 L1858.8,82.6 L1859.4,81.8 L1860.1,81.1 L1860.8,80.3 L1861.5,79.5 L1862.3,78.7 L1863.1,77.8 L1864,77" fill="none" stroke="#7089cf" stroke-width="3.4" stroke-linecap="round"/>
<path d="M1862 64L1882 61V78L1862 81Z" fill="#d8922c"/>
<rect x="1865" y="67" width="2.4" height="7" fill="#fff"/>
<rect x="1870" y="67" width="2.4" height="7" fill="#fff"/>
<rect x="1875" y="67" width="2.4" height="7" fill="#fff"/>
<clipPath id="pr1"><polygon points="1876,71.8 1883.8,58.1 1889.7,54.2 1902,49 1912.4,45.1 1921.5,39.3 1921.5,29.5 1934.5,24 1946.2,36 1951.4,41.2 1958,49 1961.8,64 1956.6,75 1956.6,86.7 1947.5,94.5 1936.5,90.6 1932,82.8 1921.5,89.3 1915,88 1902,84.8 1892.3,88 1886.4,81.5 1880,80.9"/></clipPath>
<polygon points="1876,71.8 1883.8,58.1 1889.7,54.2 1902,49 1912.4,45.1 1921.5,39.3 1921.5,29.5 1934.5,24 1946.2,36 1951.4,41.2 1958,49 1961.8,64 1956.6,75 1956.6,86.7 1947.5,94.5 1936.5,90.6 1932,82.8 1921.5,89.3 1915,88 1902,84.8 1892.3,88 1886.4,81.5 1880,80.9" fill="#d4912c" stroke="#c8862a" stroke-width="1" stroke-linejoin="round"/>
<g fill="#d08d2a"><circle cx="1875.1" cy="71.7" r="1.3"/><circle cx="1877.6" cy="68" r="0.9"/><circle cx="1881.6" cy="64.4" r="1.2"/><circle cx="1881.1" cy="62" r="1.6"/><circle cx="1882.6" cy="60.4" r="1"/><circle cx="1884.4" cy="58.3" r="1"/><circle cx="1889.6" cy="55.2" r="1.5"/><circle cx="1890.2" cy="53.8" r="1.4"/><circle cx="1895.9" cy="51.7" r="1"/><circle cx="1898.5" cy="50.3" r="1.5"/><circle cx="1901.2" cy="49.3" r="1.2"/><circle cx="1904.6" cy="48.6" r="1.5"/><circle cx="1907.3" cy="47.1" r="1.4"/><circle cx="1910.2" cy="45.9" r="1.3"/><circle cx="1912.6" cy="44.6" r="0.9"/><circle cx="1917.7" cy="41.3" r="1.6"/><circle cx="1918.7" cy="41.1" r="1.7"/><circle cx="1921.1" cy="36.4" r="1.5"/><circle cx="1921.3" cy="34.1" r="0.8"/><circle cx="1921.1" cy="32.7" r="0.9"/><circle cx="1921.8" cy="29.8" r="1.7"/><circle cx="1927.5" cy="27.3" r="1.4"/><circle cx="1927.8" cy="27.2" r="1.3"/><circle cx="1933.3" cy="24.5" r="1.3"/><circle cx="1934.3" cy="24.5" r="1.2"/><circle cx="1938.2" cy="27.6" r="0.8"/><circle cx="1940.7" cy="29.7" r="1.1"/><circle cx="1942.6" cy="32.2" r="1.1"/><circle cx="1945.3" cy="33.6" r="1.3"/><circle cx="1948.8" cy="37.5" r="1.6"/><circle cx="1950.5" cy="40.4" r="1.5"/><circle cx="1952.2" cy="42.7" r="1"/><circle cx="1954.9" cy="46" r="1.3"/><circle cx="1955.6" cy="46.6" r="1.4"/><circle cx="1958.3" cy="49.1" r="1.1"/><circle cx="1959" cy="53.6" r="1.6"/><circle cx="1959.6" cy="55.5" r="1.1"/><circle cx="1960.7" cy="59" r="0.9"/><circle cx="1961.4" cy="62.3" r="1.7"/><circle cx="1961.4" cy="64.4" r="0.8"/><circle cx="1959.4" cy="68.2" r="1.6"/><circle cx="1958.4" cy="71.3" r="1.1"/><circle cx="1956" cy="74.9" r="1.1"/><circle cx="1956.9" cy="76.2" r="1.1"/><circle cx="1957.2" cy="80.1" r="1.2"/><circle cx="1956.4" cy="82.2" r="1.3"/><circle cx="1956.6" cy="86.4" r="1.5"/><circle cx="1954.8" cy="88.2" r="1.6"/><circle cx="1952.5" cy="90.4" r="1.4"/><circle cx="1951" cy="90.8" r="1.5"/><circle cx="1948.7" cy="93.7" r="1.6"/><circle cx="1945.8" cy="93.8" r="1.1"/><circle cx="1942.1" cy="93.1" r="1.6"/><circle cx="1939.3" cy="91.3" r="1.6"/><circle cx="1938.1" cy="91.2" r="1.4"/><circle cx="1935.9" cy="90.1" r="1.4"/><circle cx="1934.5" cy="88.4" r="1.2"/><circle cx="1932.7" cy="83.9" r="0.9"/><circle cx="1930.4" cy="83" r="1.6"/><circle cx="1927.1" cy="85.4" r="1.1"/><circle cx="1924.4" cy="86.9" r="1.4"/><circle cx="1923.1" cy="88.8" r="1.3"/><circle cx="1919.2" cy="89.8" r="1.2"/><circle cx="1915.5" cy="88" r="1.6"/><circle cx="1912.1" cy="87.3" r="0.9"/><circle cx="1910.5" cy="86.7" r="1.6"/><circle cx="1906.7" cy="86.3" r="1.6"/><circle cx="1903.4" cy="85.7" r="0.9"/><circle cx="1900.7" cy="85.6" r="0.8"/><circle cx="1897.1" cy="86.7" r="0.9"/><circle cx="1893.7" cy="87.7" r="1.1"/><circle cx="1891.8" cy="86.2" r="0.8"/><circle cx="1889.6" cy="86" r="1.4"/><circle cx="1886.9" cy="81.4" r="1.3"/><circle cx="1885.3" cy="82.2" r="0.8"/><circle cx="1881" cy="80.1" r="0.8"/><circle cx="1879" cy="79.1" r="1.2"/><circle cx="1876.7" cy="74.7" r="0.8"/><circle cx="1876.5" cy="72.6" r="0.8"/></g>
<g clip-path="url(#pr1)"><ellipse cx="1914.4" cy="71.8" rx="7.7" ry="5.8" fill="#8a5514" fill-opacity="0.35"/><ellipse cx="1889.2" cy="52.3" rx="7.6" ry="3.3" fill="#8a5514" fill-opacity="0.35"/><ellipse cx="1947.7" cy="53.3" rx="5.6" ry="3.9" fill="#8a5514" fill-opacity="0.35"/><ellipse cx="1931.8" cy="27.4" rx="5.6" ry="4.2" fill="#8a5514" fill-opacity="0.35"/><ellipse cx="1898.2" cy="75.5" rx="7.5" ry="6.1" fill="#8a5514" fill-opacity="0.35"/><ellipse cx="1936.1" cy="44.8" rx="6" ry="3.6" fill="#8a5514" fill-opacity="0.35"/><ellipse cx="1896.8" cy="66.6" rx="8.2" ry="4.2" fill="#8a5514" fill-opacity="0.35"/><circle cx="1905.5" cy="80.6" r="1.3" fill="#9a5c18"/><circle cx="1882.1" cy="77.5" r="0.9" fill="#a8671c"/><circle cx="1912.5" cy="68.7" r="1.1" fill="#f0b84e"/><circle cx="1958.5" cy="91.5" r="0.8" fill="#a8671c"/><circle cx="1916.3" cy="43.2" r="1" fill="#9a5c18"/><circle cx="1921.9" cy="87.8" r="0.9" fill="#b97620"/><circle cx="1947" cy="36.6" r="1.2" fill="#f6c95e"/><circle cx="1894.3" cy="74.8" r="0.7" fill="#a8671c"/><circle cx="1886.2" cy="30.1" r="1.1" fill="#b97620"/><circle cx="1880.8" cy="90.7" r="1.1" fill="#a8671c"/><circle cx="1907.8" cy="37.6" r="1.2" fill="#cf8b2a"/><circle cx="1933.4" cy="61.4" r="0.9" fill="#9a5c18"/><circle cx="1959.9" cy="60.8" r="0.6" fill="#f0b84e"/><circle cx="1927.1" cy="75.7" r="1" fill="#a8671c"/><circle cx="1939.7" cy="44.7" r="0.8" fill="#f0b84e"/><circle cx="1908" cy="42.8" r="1.2" fill="#b97620"/><circle cx="1888.7" cy="38.7" r="1.1" fill="#e6a53a"/><circle cx="1905.3" cy="92.7" r="1.2" fill="#e6a53a"/><circle cx="1894.8" cy="35" r="0.9" fill="#9a5c18"/><circle cx="1905.7" cy="65.7" r="1" fill="#f6c95e"/><circle cx="1945.9" cy="41.1" r="1" fill="#9a5c18"/><circle cx="1881.6" cy="27.9" r="0.6" fill="#a8671c"/><circle cx="1943.1" cy="50.1" r="0.9" fill="#e6a53a"/><circle cx="1893.8" cy="27.2" r="0.6" fill="#f0b84e"/><circle cx="1949.6" cy="47.9" r="0.8" fill="#a8671c"/><circle cx="1939.6" cy="73.5" r="0.8" fill="#b97620"/><circle cx="1919.4" cy="51.9" r="1" fill="#f6c95e"/><circle cx="1925.5" cy="87.6" r="1.3" fill="#f6c95e"/><circle cx="1880.4" cy="50.8" r="0.5" fill="#a8671c"/><circle cx="1944.9" cy="71.9" r="1" fill="#e6a53a"/><circle cx="1883.4" cy="81.2" r="1" fill="#a8671c"/><circle cx="1943.4" cy="26.8" r="0.7" fill="#e6a53a"/><circle cx="1943.7" cy="27.2" r="0.6" fill="#a8671c"/><circle cx="1936.9" cy="65.5" r="0.5" fill="#f0b84e"/><circle cx="1899.6" cy="73.8" r="0.8" fill="#a8671c"/><circle cx="1876.2" cy="42.5" r="1.2" fill="#b97620"/><circle cx="1880.3" cy="63" r="1.2" fill="#a8671c"/><circle cx="1900.1" cy="69.7" r="0.6" fill="#f6c95e"/><circle cx="1918.8" cy="42.6" r="1.2" fill="#e6a53a"/><circle cx="1941.4" cy="50.5" r="1.1" fill="#cf8b2a"/><circle cx="1960.1" cy="50" r="0.9" fill="#f0b84e"/><circle cx="1885.3" cy="74.8" r="0.5" fill="#b97620"/><circle cx="1927.6" cy="32" r="1" fill="#f6c95e"/><circle cx="1956.7" cy="51.5" r="0.8" fill="#9a5c18"/><circle cx="1910.3" cy="73.8" r="1.1" fill="#f0b84e"/><circle cx="1903.9" cy="27.9" r="0.7" fill="#a8671c"/><circle cx="1939" cy="90" r="1.3" fill="#f0b84e"/><circle cx="1910.5" cy="85.5" r="0.9" fill="#a8671c"/><circle cx="1906" cy="79.2" r="1.2" fill="#f0b84e"/><circle cx="1920.4" cy="34.4" r="0.6" fill="#b97620"/><circle cx="1921.5" cy="41.8" r="1.1" fill="#f6c95e"/><circle cx="1891.6" cy="68.4" r="0.7" fill="#e6a53a"/><circle cx="1881.7" cy="94.4" r="0.6" fill="#cf8b2a"/><circle cx="1917.2" cy="24.3" r="1.1" fill="#a8671c"/><circle cx="1882.5" cy="26.8" r="1.3" fill="#b97620"/><circle cx="1955.7" cy="87.2" r="1.1" fill="#f0b84e"/><circle cx="1878.5" cy="69.4" r="0.6" fill="#f0b84e"/><circle cx="1948.4" cy="45.6" r="1.1" fill="#a8671c"/><circle cx="1921.5" cy="79.3" r="1" fill="#cf8b2a"/><circle cx="1916.7" cy="84.2" r="1.2" fill="#cf8b2a"/><circle cx="1926.3" cy="59.7" r="0.8" fill="#f6c95e"/><circle cx="1892.8" cy="55" r="1" fill="#f6c95e"/><circle cx="1902.4" cy="39.3" r="0.6" fill="#f0b84e"/><circle cx="1951.1" cy="82.8" r="1.1" fill="#9a5c18"/><circle cx="1927.9" cy="28.1" r="1.2" fill="#a8671c"/><circle cx="1934.9" cy="32.5" r="1.1" fill="#f0b84e"/><circle cx="1888.6" cy="91.6" r="1.1" fill="#f0b84e"/><circle cx="1932.1" cy="40.2" r="0.9" fill="#f0b84e"/><circle cx="1883.4" cy="43.7" r="0.7" fill="#b97620"/><circle cx="1911.7" cy="28.5" r="0.5" fill="#b97620"/><circle cx="1904.5" cy="93.9" r="1.1" fill="#9a5c18"/><circle cx="1893.1" cy="32.6" r="0.8" fill="#e6a53a"/><circle cx="1932.1" cy="82.2" r="0.9" fill="#cf8b2a"/><circle cx="1945.6" cy="83.9" r="0.8" fill="#9a5c18"/><circle cx="1916.1" cy="35.3" r="1" fill="#f6c95e"/><circle cx="1916.3" cy="35.5" r="0.9" fill="#a8671c"/><circle cx="1891.6" cy="24.1" r="0.8" fill="#a8671c"/><circle cx="1922.4" cy="32.8" r="0.9" fill="#e6a53a"/><circle cx="1901.7" cy="29.7" r="0.8" fill="#b97620"/><circle cx="1902" cy="74.3" r="1.1" fill="#f6c95e"/><circle cx="1877.2" cy="39.2" r="0.7" fill="#f6c95e"/><circle cx="1917.8" cy="64" r="0.6" fill="#f6c95e"/><circle cx="1900.6" cy="35.3" r="1.1" fill="#b97620"/><circle cx="1902.2" cy="85.8" r="0.6" fill="#f6c95e"/><circle cx="1877.5" cy="50.3" r="1" fill="#f0b84e"/><circle cx="1919.6" cy="33.6" r="1" fill="#cf8b2a"/><circle cx="1877.4" cy="81.7" r="0.8" fill="#f6c95e"/><circle cx="1888.8" cy="82.4" r="1.2" fill="#a8671c"/><circle cx="1891.8" cy="94.4" r="1.2" fill="#cf8b2a"/><circle cx="1880.4" cy="34.7" r="0.8" fill="#e6a53a"/><circle cx="1893.6" cy="36.8" r="0.7" fill="#f0b84e"/><circle cx="1879.1" cy="89" r="0.9" fill="#cf8b2a"/><circle cx="1939.3" cy="60.1" r="1.3" fill="#f6c95e"/><circle cx="1897.9" cy="59.8" r="0.9" fill="#b97620"/><circle cx="1904.4" cy="45.5" r="0.6" fill="#a8671c"/><circle cx="1947.3" cy="85.1" r="0.8" fill="#f0b84e"/><circle cx="1960" cy="92.2" r="0.8" fill="#e6a53a"/><circle cx="1947.7" cy="90.3" r="1" fill="#a8671c"/><circle cx="1958.7" cy="57.7" r="0.9" fill="#b97620"/><circle cx="1907.7" cy="89.2" r="0.6" fill="#a8671c"/><circle cx="1887.8" cy="26.3" r="0.9" fill="#9a5c18"/><circle cx="1921.7" cy="86" r="1" fill="#f6c95e"/><circle cx="1930.6" cy="66.5" r="0.9" fill="#b97620"/><circle cx="1884.4" cy="69.4" r="0.7" fill="#a8671c"/><circle cx="1911.6" cy="69.6" r="1" fill="#a8671c"/><circle cx="1898.9" cy="33.9" r="1" fill="#b97620"/><circle cx="1937.7" cy="33.3" r="0.7" fill="#cf8b2a"/><circle cx="1928.5" cy="44.9" r="1.2" fill="#b97620"/><circle cx="1898.8" cy="69.4" r="1" fill="#e6a53a"/><circle cx="1938" cy="89.8" r="1" fill="#cf8b2a"/><circle cx="1876.3" cy="47" r="1.1" fill="#9a5c18"/><circle cx="1932.5" cy="32.3" r="1" fill="#e6a53a"/><circle cx="1909" cy="90.7" r="0.6" fill="#e6a53a"/><circle cx="1941.8" cy="51.7" r="0.9" fill="#e6a53a"/><circle cx="1904.7" cy="30.9" r="0.8" fill="#cf8b2a"/><circle cx="1941.8" cy="45.8" r="1" fill="#cf8b2a"/><circle cx="1944.1" cy="80.2" r="0.5" fill="#e6a53a"/><circle cx="1958" cy="43.7" r="1.1" fill="#b97620"/><circle cx="1930.1" cy="85.5" r="0.6" fill="#cf8b2a"/><circle cx="1951.2" cy="40.8" r="1.1" fill="#cf8b2a"/><circle cx="1876.5" cy="85" r="0.8" fill="#e6a53a"/><circle cx="1944.2" cy="25.9" r="1.2" fill="#9a5c18"/><circle cx="1885" cy="34.9" r="0.9" fill="#a8671c"/><circle cx="1931.6" cy="37.4" r="1" fill="#b97620"/><circle cx="1941.3" cy="91.9" r="0.8" fill="#f6c95e"/><circle cx="1925.6" cy="69.9" r="1.2" fill="#e6a53a"/><circle cx="1926.3" cy="54.9" r="0.7" fill="#f0b84e"/><circle cx="1930.7" cy="29.1" r="0.7" fill="#9a5c18"/><circle cx="1890.3" cy="58.9" r="0.8" fill="#e6a53a"/><circle cx="1921.5" cy="70.5" r="0.8" fill="#b97620"/><circle cx="1947.6" cy="31.2" r="0.5" fill="#e6a53a"/><circle cx="1924.3" cy="77" r="1.2" fill="#f6c95e"/><circle cx="1919.8" cy="81.6" r="1" fill="#a8671c"/><circle cx="1919.2" cy="93.9" r="0.8" fill="#f0b84e"/><circle cx="1912.4" cy="57.5" r="1" fill="#b97620"/><circle cx="1931.9" cy="26.7" r="0.8" fill="#a8671c"/><circle cx="1914" cy="63.9" r="1" fill="#b97620"/><circle cx="1878.1" cy="47.2" r="1.1" fill="#f6c95e"/><circle cx="1911.8" cy="82.3" r="0.9" fill="#b97620"/><circle cx="1934" cy="93.3" r="0.5" fill="#f0b84e"/><circle cx="1886.2" cy="30.3" r="0.7" fill="#e6a53a"/><circle cx="1960.7" cy="34.6" r="0.9" fill="#a8671c"/><circle cx="1951.7" cy="57.4" r="0.7" fill="#b97620"/><circle cx="1912.2" cy="45.7" r="0.9" fill="#e6a53a"/><circle cx="1911.5" cy="29.7" r="1.2" fill="#e6a53a"/><circle cx="1924.3" cy="30.7" r="1.2" fill="#cf8b2a"/><circle cx="1907.1" cy="50.9" r="0.7" fill="#f0b84e"/><circle cx="1935.4" cy="45.2" r="0.8" fill="#cf8b2a"/><circle cx="1912.3" cy="50.8" r="1" fill="#b97620"/><circle cx="1879.7" cy="83.8" r="1.2" fill="#cf8b2a"/><circle cx="1894.8" cy="93" r="1.2" fill="#e6a53a"/><circle cx="1885.2" cy="55.5" r="1.1" fill="#9a5c18"/><circle cx="1923.5" cy="28.1" r="1.1" fill="#f0b84e"/><circle cx="1894.9" cy="48.5" r="0.6" fill="#e6a53a"/><circle cx="1907" cy="25.1" r="1.3" fill="#b97620"/><circle cx="1905.1" cy="45.2" r="0.9" fill="#a8671c"/><circle cx="1905.1" cy="86.6" r="0.6" fill="#f6c95e"/><circle cx="1909.7" cy="93.3" r="0.8" fill="#cf8b2a"/><circle cx="1882.9" cy="82.8" r="0.6" fill="#f0b84e"/><circle cx="1951.5" cy="39.3" r="0.8" fill="#9a5c18"/><circle cx="1924.4" cy="85.3" r="1.2" fill="#b97620"/><circle cx="1924.6" cy="80.6" r="0.6" fill="#f0b84e"/><circle cx="1955.9" cy="84.9" r="0.7" fill="#a8671c"/><circle cx="1938.8" cy="69.7" r="0.6" fill="#f6c95e"/><circle cx="1881.3" cy="39.7" r="0.6" fill="#e6a53a"/><circle cx="1939.3" cy="64.6" r="1.2" fill="#f0b84e"/><circle cx="1918.1" cy="55.7" r="0.6" fill="#a8671c"/><circle cx="1933.7" cy="93.1" r="1.2" fill="#cf8b2a"/><circle cx="1883.3" cy="66.5" r="0.9" fill="#e6a53a"/><circle cx="1879.8" cy="70.5" r="1" fill="#9a5c18"/><circle cx="1908" cy="32.9" r="1" fill="#cf8b2a"/><circle cx="1905" cy="25.9" r="0.7" fill="#a8671c"/><circle cx="1897.4" cy="67.7" r="1" fill="#b97620"/><circle cx="1911.2" cy="77.2" r="1" fill="#f6c95e"/><circle cx="1921.8" cy="78.9" r="1.3" fill="#9a5c18"/><circle cx="1958.5" cy="67.9" r="0.8" fill="#f0b84e"/><circle cx="1916.9" cy="70.2" r="0.8" fill="#f6c95e"/><circle cx="1909.1" cy="68.1" r="1.2" fill="#cf8b2a"/><circle cx="1947.2" cy="71.5" r="1.1" fill="#a8671c"/><circle cx="1926.4" cy="54.5" r="1.2" fill="#9a5c18"/><circle cx="1889.8" cy="33.1" r="0.8" fill="#a8671c"/><circle cx="1959.5" cy="61.4" r="1.2" fill="#b97620"/><circle cx="1923.4" cy="39.3" r="1.2" fill="#cf8b2a"/><circle cx="1886.6" cy="78" r="1" fill="#cf8b2a"/><circle cx="1891.4" cy="47.8" r="1.1" fill="#a8671c"/><circle cx="1928.1" cy="61.6" r="0.9" fill="#b97620"/><circle cx="1891.6" cy="82.2" r="0.9" fill="#f6c95e"/><circle cx="1929.8" cy="46.6" r="1.1" fill="#f6c95e"/><circle cx="1910.1" cy="89" r="0.9" fill="#f0b84e"/><circle cx="1915.9" cy="51.8" r="1.3" fill="#b97620"/><circle cx="1902.4" cy="86.7" r="0.5" fill="#9a5c18"/><circle cx="1901.3" cy="76.3" r="1" fill="#a8671c"/><circle cx="1911.7" cy="53.2" r="1.2" fill="#f0b84e"/><circle cx="1943.6" cy="50.3" r="1.1" fill="#b97620"/><circle cx="1946.1" cy="54.3" r="0.7" fill="#a8671c"/><circle cx="1897.2" cy="30.8" r="0.8" fill="#b97620"/><circle cx="1931.3" cy="51.3" r="1.3" fill="#f0b84e"/><circle cx="1942.6" cy="79.9" r="0.8" fill="#cf8b2a"/><circle cx="1941.1" cy="27.7" r="0.5" fill="#b97620"/><circle cx="1903.2" cy="75.3" r="0.5" fill="#a8671c"/><circle cx="1908.9" cy="66" r="1.2" fill="#f0b84e"/><circle cx="1897.1" cy="30.1" r="0.9" fill="#f0b84e"/><circle cx="1945.2" cy="82.6" r="1" fill="#a8671c"/><circle cx="1882.4" cy="27.4" r="0.7" fill="#b97620"/><circle cx="1921.8" cy="34.5" r="1" fill="#f6c95e"/><circle cx="1943.8" cy="61.4" r="1.1" fill="#e6a53a"/><circle cx="1898" cy="64.2" r="1.2" fill="#e6a53a"/><circle cx="1956.1" cy="65.7" r="1.3" fill="#a8671c"/><circle cx="1900.4" cy="58.5" r="1" fill="#9a5c18"/><circle cx="1929.3" cy="85" r="0.6" fill="#f6c95e"/><circle cx="1937.6" cy="55.4" r="1.2" fill="#f6c95e"/><circle cx="1914.1" cy="49.2" r="1.2" fill="#cf8b2a"/><circle cx="1956.8" cy="78.5" r="1.2" fill="#f6c95e"/><circle cx="1917.6" cy="49.4" r="0.5" fill="#cf8b2a"/><circle cx="1913.6" cy="39.3" r="1.1" fill="#b97620"/><circle cx="1956.3" cy="72.6" r="0.7" fill="#f6c95e"/><circle cx="1908.1" cy="59.3" r="0.9" fill="#b97620"/><circle cx="1930.3" cy="47" r="0.7" fill="#cf8b2a"/><circle cx="1925.4" cy="30" r="0.9" fill="#cf8b2a"/><circle cx="1954.8" cy="63.5" r="0.9" fill="#cf8b2a"/><circle cx="1904.5" cy="65.5" r="0.9" fill="#b97620"/><circle cx="1957.8" cy="77.2" r="0.6" fill="#f6c95e"/><circle cx="1890.8" cy="72.7" r="1.3" fill="#b97620"/><circle cx="1947.9" cy="43.6" r="0.7" fill="#f6c95e"/><circle cx="1960.3" cy="85.9" r="0.9" fill="#cf8b2a"/><circle cx="1931.1" cy="79" r="1" fill="#9a5c18"/><circle cx="1934.6" cy="90.5" r="0.8" fill="#9a5c18"/><circle cx="1958.4" cy="26.9" r="0.7" fill="#9a5c18"/><circle cx="1906.7" cy="64.5" r="0.9" fill="#e6a53a"/><circle cx="1892.4" cy="45.6" r="0.6" fill="#cf8b2a"/><circle cx="1891.2" cy="66" r="0.5" fill="#a8671c"/><circle cx="1941.2" cy="30" r="1.1" fill="#cf8b2a"/><circle cx="1886.5" cy="60.4" r="0.7" fill="#f6c95e"/><circle cx="1921.7" cy="86.3" r="0.6" fill="#b97620"/><circle cx="1893.9" cy="58.2" r="1.3" fill="#b97620"/><circle cx="1950.6" cy="62.2" r="0.9" fill="#e6a53a"/><circle cx="1941.5" cy="37.8" r="0.9" fill="#9a5c18"/><circle cx="1921" cy="94.2" r="0.6" fill="#a8671c"/><circle cx="1884.5" cy="64.4" r="1.2" fill="#f0b84e"/><circle cx="1958.5" cy="46.5" r="1.3" fill="#f0b84e"/><circle cx="1894.2" cy="78.5" r="0.8" fill="#f6c95e"/><circle cx="1879.1" cy="46" r="1.2" fill="#9a5c18"/><circle cx="1942.3" cy="58.2" r="0.8" fill="#f6c95e"/><circle cx="1892.8" cy="37.5" r="0.5" fill="#cf8b2a"/><circle cx="1933.4" cy="88.5" r="0.6" fill="#b97620"/><circle cx="1941.8" cy="38.4" r="0.9" fill="#9a5c18"/><circle cx="1925.2" cy="28" r="1.3" fill="#cf8b2a"/><circle cx="1888.8" cy="73.6" r="0.9" fill="#a8671c"/><circle cx="1943.4" cy="69.4" r="0.6" fill="#f6c95e"/><circle cx="1960" cy="45.6" r="0.6" fill="#f0b84e"/><circle cx="1952.1" cy="30" r="0.8" fill="#9a5c18"/><circle cx="1949.9" cy="33.3" r="0.6" fill="#cf8b2a"/><circle cx="1917.4" cy="72.3" r="1.1" fill="#9a5c18"/><circle cx="1912.6" cy="55.9" r="0.7" fill="#b97620"/><circle cx="1934.4" cy="62" r="0.8" fill="#f0b84e"/><circle cx="1901.6" cy="66.5" r="1.1" fill="#9a5c18"/><circle cx="1905.1" cy="26.2" r="0.5" fill="#a8671c"/><circle cx="1945.8" cy="74.3" r="0.5" fill="#9a5c18"/><circle cx="1898" cy="90.9" r="0.9" fill="#a8671c"/><circle cx="1959.3" cy="92.3" r="0.7" fill="#f0b84e"/><circle cx="1937.9" cy="81.6" r="1.2" fill="#b97620"/><circle cx="1940.5" cy="28.8" r="0.7" fill="#cf8b2a"/><circle cx="1893.2" cy="68.9" r="0.9" fill="#e6a53a"/><circle cx="1896.5" cy="32.9" r="0.5" fill="#cf8b2a"/><circle cx="1893.1" cy="87" r="1" fill="#e6a53a"/><circle cx="1925.4" cy="69.7" r="0.8" fill="#b97620"/><circle cx="1877.6" cy="73.5" r="1" fill="#9a5c18"/><circle cx="1919.1" cy="34.2" r="0.8" fill="#a8671c"/><circle cx="1939" cy="66.6" r="0.8" fill="#b97620"/><circle cx="1897.7" cy="69.9" r="0.7" fill="#9a5c18"/><circle cx="1930.2" cy="64.5" r="1" fill="#cf8b2a"/><circle cx="1945.8" cy="93.1" r="0.7" fill="#9a5c18"/><circle cx="1960.4" cy="71.1" r="0.6" fill="#a8671c"/><circle cx="1896.5" cy="55.9" r="1" fill="#a8671c"/><circle cx="1952.2" cy="83.1" r="1.2" fill="#9a5c18"/><circle cx="1950.7" cy="93.3" r="1.1" fill="#cf8b2a"/><circle cx="1889.2" cy="64.5" r="0.9" fill="#f0b84e"/><circle cx="1900.7" cy="89.2" r="0.7" fill="#f6c95e"/><circle cx="1915.3" cy="36.1" r="1.2" fill="#e6a53a"/><circle cx="1957.5" cy="39.4" r="0.8" fill="#cf8b2a"/><circle cx="1954.3" cy="86.1" r="0.6" fill="#a8671c"/><circle cx="1880.8" cy="82.4" r="1.2" fill="#f0b84e"/><circle cx="1956.6" cy="81.3" r="0.8" fill="#f6c95e"/><circle cx="1932.5" cy="53.9" r="1.3" fill="#e6a53a"/><circle cx="1916" cy="56.3" r="1.3" fill="#e6a53a"/><circle cx="1904.1" cy="29.4" r="1.2" fill="#b97620"/><circle cx="1920.8" cy="55.4" r="1.2" fill="#b97620"/><circle cx="1893.9" cy="32.8" r="1.2" fill="#cf8b2a"/><circle cx="1958.1" cy="62.3" r="1.1" fill="#e6a53a"/><circle cx="1918.1" cy="29.6" r="0.6" fill="#a8671c"/><circle cx="1880.8" cy="61.8" r="1" fill="#9a5c18"/><circle cx="1937.4" cy="29.8" r="0.7" fill="#f0b84e"/><circle cx="1891.2" cy="59.8" r="1.1" fill="#9a5c18"/><circle cx="1953.3" cy="48.7" r="0.7" fill="#b97620"/><circle cx="1897.8" cy="78.1" r="0.5" fill="#b97620"/><circle cx="1900.9" cy="61.5" r="0.8" fill="#e6a53a"/><circle cx="1884" cy="34.8" r="1.3" fill="#a8671c"/><circle cx="1954.9" cy="91.3" r="1" fill="#f0b84e"/><circle cx="1954.4" cy="53.6" r="0.7" fill="#a8671c"/><circle cx="1904.2" cy="42.7" r="0.9" fill="#9a5c18"/><circle cx="1910.8" cy="91.5" r="1.2" fill="#f6c95e"/><circle cx="1952.7" cy="41.7" r="0.7" fill="#9a5c18"/><circle cx="1905.6" cy="66" r="0.5" fill="#cf8b2a"/><circle cx="1897.6" cy="30.8" r="0.7" fill="#a8671c"/><circle cx="1884.8" cy="44.9" r="0.8" fill="#b97620"/><circle cx="1945" cy="44.5" r="0.8" fill="#f0b84e"/><circle cx="1950.5" cy="25.3" r="0.9" fill="#9a5c18"/><circle cx="1877.2" cy="86.5" r="1" fill="#a8671c"/><circle cx="1916" cy="81.1" r="1.3" fill="#b97620"/><circle cx="1915.1" cy="24.1" r="1.3" fill="#f6c95e"/><circle cx="1942.7" cy="31.5" r="0.9" fill="#cf8b2a"/><circle cx="1957.3" cy="45.4" r="0.6" fill="#b97620"/><circle cx="1953.1" cy="45.4" r="0.6" fill="#9a5c18"/><circle cx="1890" cy="54.6" r="0.7" fill="#a8671c"/><circle cx="1934" cy="86.7" r="0.6" fill="#e6a53a"/><circle cx="1941.2" cy="70.7" r="1.2" fill="#a8671c"/><circle cx="1886.2" cy="73.2" r="0.7" fill="#b97620"/><circle cx="1908.6" cy="83.9" r="1.2" fill="#b97620"/><circle cx="1948" cy="41.3" r="0.9" fill="#cf8b2a"/><circle cx="1895" cy="83.4" r="0.6" fill="#b97620"/><circle cx="1954.7" cy="91.9" r="0.9" fill="#cf8b2a"/><circle cx="1958.7" cy="74.8" r="1.1" fill="#f6c95e"/><circle cx="1939.8" cy="27.9" r="1.1" fill="#f6c95e"/><circle cx="1905.2" cy="27.1" r="0.8" fill="#f6c95e"/><circle cx="1923.5" cy="49.4" r="1" fill="#b97620"/><circle cx="1935.6" cy="90" r="0.5" fill="#e6a53a"/><circle cx="1929.1" cy="81.1" r="0.5" fill="#f0b84e"/><circle cx="1945.2" cy="72.2" r="0.8" fill="#f0b84e"/><circle cx="1905.3" cy="26.3" r="0.9" fill="#f6c95e"/><circle cx="1946.8" cy="74.3" r="0.9" fill="#9a5c18"/><circle cx="1897.1" cy="43.9" r="0.6" fill="#f0b84e"/><circle cx="1876.5" cy="56" r="1.1" fill="#e6a53a"/><circle cx="1904.4" cy="84.2" r="0.9" fill="#9a5c18"/><circle cx="1961.4" cy="31.4" r="0.8" fill="#9a5c18"/><circle cx="1890.2" cy="33.5" r="1.1" fill="#b97620"/><circle cx="1926.9" cy="88.6" r="0.8" fill="#a8671c"/><circle cx="1934.9" cy="33.3" r="1.1" fill="#b97620"/><circle cx="1926.3" cy="88.6" r="0.9" fill="#9a5c18"/><circle cx="1927.1" cy="25.2" r="1.2" fill="#a8671c"/><circle cx="1935.5" cy="58.7" r="0.6" fill="#e6a53a"/><circle cx="1917.1" cy="89.7" r="1" fill="#f6c95e"/><circle cx="1922.3" cy="87.7" r="0.5" fill="#a8671c"/><circle cx="1876.1" cy="81.8" r="1" fill="#b97620"/><circle cx="1903.7" cy="63.7" r="0.6" fill="#9a5c18"/><circle cx="1886" cy="63" r="1.2" fill="#b97620"/><circle cx="1877.4" cy="24.2" r="1.1" fill="#f0b84e"/><circle cx="1907.3" cy="37.9" r="0.7" fill="#a8671c"/><circle cx="1917.2" cy="33.7" r="0.6" fill="#cf8b2a"/><circle cx="1881.3" cy="90.8" r="0.9" fill="#a8671c"/><circle cx="1881.1" cy="43.4" r="1.1" fill="#f0b84e"/><circle cx="1948.4" cy="55.6" r="0.7" fill="#9a5c18"/><circle cx="1903.7" cy="43.3" r="0.6" fill="#cf8b2a"/><circle cx="1918.2" cy="83.3" r="0.9" fill="#b97620"/><circle cx="1903.8" cy="72.4" r="0.6" fill="#9a5c18"/><circle cx="1915.3" cy="45.7" r="0.7" fill="#b97620"/><circle cx="1894.6" cy="59.6" r="0.8" fill="#9a5c18"/><circle cx="1951.9" cy="40.2" r="0.8" fill="#9a5c18"/><circle cx="1901.3" cy="75.6" r="1.3" fill="#f6c95e"/><circle cx="1907.1" cy="61.9" r="0.5" fill="#cf8b2a"/><circle cx="1908.2" cy="67" r="0.7" fill="#9a5c18"/><circle cx="1933.4" cy="59.1" r="1.3" fill="#f0b84e"/><circle cx="1924.9" cy="36.1" r="0.7" fill="#cf8b2a"/><circle cx="1922.5" cy="80.5" r="1.2" fill="#a8671c"/><circle cx="1942.8" cy="56.1" r="1" fill="#cf8b2a"/><circle cx="1898" cy="63.3" r="0.8" fill="#9a5c18"/><circle cx="1879.1" cy="30.5" r="1" fill="#f0b84e"/><circle cx="1912.8" cy="39.7" r="1.3" fill="#f6c95e"/><circle cx="1956.6" cy="83.5" r="0.5" fill="#a8671c"/><circle cx="1951" cy="74.6" r="0.7" fill="#f6c95e"/><circle cx="1956.4" cy="28.6" r="0.7" fill="#f6c95e"/><circle cx="1887" cy="85.3" r="0.6" fill="#b97620"/><circle cx="1884.1" cy="83" r="0.7" fill="#a8671c"/><circle cx="1959" cy="26.5" r="0.9" fill="#a8671c"/><circle cx="1891.6" cy="36.8" r="0.9" fill="#a8671c"/><circle cx="1894.8" cy="48" r="1.2" fill="#f0b84e"/><circle cx="1876.6" cy="42.7" r="1" fill="#f6c95e"/><circle cx="1903" cy="30.5" r="0.6" fill="#a8671c"/><circle cx="1929.2" cy="57.2" r="0.7" fill="#e6a53a"/><circle cx="1889.1" cy="45.4" r="1.2" fill="#a8671c"/><circle cx="1882.2" cy="30.1" r="0.9" fill="#a8671c"/><circle cx="1878.2" cy="45.6" r="0.7" fill="#a8671c"/><circle cx="1913.1" cy="83.2" r="0.7" fill="#e6a53a"/><circle cx="1889.9" cy="79.4" r="0.7" fill="#cf8b2a"/><circle cx="1877.7" cy="91.5" r="1" fill="#a8671c"/><circle cx="1930" cy="30.3" r="1.2" fill="#f0b84e"/><circle cx="1935.6" cy="82.6" r="0.9" fill="#a8671c"/><circle cx="1892.2" cy="92.7" r="0.5" fill="#e6a53a"/><circle cx="1928.7" cy="68.6" r="0.7" fill="#b97620"/><circle cx="1899" cy="52.4" r="1.3" fill="#a8671c"/><circle cx="1884.6" cy="84.2" r="0.8" fill="#cf8b2a"/><circle cx="1897.5" cy="54.8" r="0.5" fill="#f0b84e"/><circle cx="1936.1" cy="41.5" r="0.5" fill="#9a5c18"/><circle cx="1939.8" cy="93" r="0.6" fill="#a8671c"/><circle cx="1923.6" cy="40.4" r="1.1" fill="#cf8b2a"/><circle cx="1941.8" cy="49" r="1" fill="#9a5c18"/><circle cx="1926.5" cy="37.9" r="0.8" fill="#b97620"/><circle cx="1943.9" cy="80" r="1" fill="#a8671c"/><circle cx="1942.7" cy="66.3" r="1" fill="#cf8b2a"/><circle cx="1887.3" cy="27.1" r="0.7" fill="#b97620"/><circle cx="1960.6" cy="39.4" r="1.3" fill="#9a5c18"/><circle cx="1946.4" cy="35.5" r="0.9" fill="#f6c95e"/><circle cx="1940.1" cy="49" r="0.8" fill="#b97620"/><circle cx="1924.9" cy="44.8" r="1.1" fill="#f0b84e"/><circle cx="1880.6" cy="63.9" r="0.9" fill="#f6c95e"/><circle cx="1955.9" cy="91.3" r="0.5" fill="#9a5c18"/><circle cx="1929.1" cy="59.3" r="0.6" fill="#9a5c18"/><circle cx="1952.8" cy="69.4" r="1" fill="#e6a53a"/><circle cx="1886.2" cy="51.1" r="0.5" fill="#cf8b2a"/><circle cx="1900.2" cy="94.4" r="0.8" fill="#b97620"/><circle cx="1950" cy="62.1" r="1.2" fill="#9a5c18"/><circle cx="1894.4" cy="29.4" r="0.7" fill="#f0b84e"/><circle cx="1884.4" cy="27.3" r="0.6" fill="#a8671c"/><circle cx="1885.5" cy="62.6" r="0.7" fill="#9a5c18"/><circle cx="1930" cy="90" r="1.1" fill="#cf8b2a"/><circle cx="1953.1" cy="90.5" r="0.8" fill="#a8671c"/><circle cx="1882.9" cy="92" r="0.7" fill="#b97620"/><circle cx="1960.2" cy="75.3" r="1.2" fill="#9a5c18"/><circle cx="1954.3" cy="29.8" r="1.1" fill="#a8671c"/><circle cx="1879" cy="91" r="0.5" fill="#a8671c"/><circle cx="1914.8" cy="36.3" r="0.6" fill="#b97620"/><circle cx="1907.3" cy="28.1" r="1" fill="#f6c95e"/><circle cx="1918.8" cy="63.9" r="0.7" fill="#9a5c18"/><circle cx="1916.4" cy="68.1" r="1.2" fill="#f0b84e"/><circle cx="1960.3" cy="52.1" r="1" fill="#f0b84e"/><circle cx="1938.7" cy="31.3" r="1.2" fill="#9a5c18"/><circle cx="1886" cy="70.4" r="0.8" fill="#9a5c18"/><circle cx="1891.5" cy="39.2" r="0.6" fill="#e6a53a"/><circle cx="1946.6" cy="76" r="0.6" fill="#cf8b2a"/><circle cx="1939" cy="42.8" r="0.9" fill="#a8671c"/><circle cx="1954.4" cy="48.3" r="1.1" fill="#a8671c"/><circle cx="1886.2" cy="37.8" r="1.1" fill="#b97620"/><circle cx="1928.1" cy="51.6" r="1" fill="#f6c95e"/><circle cx="1953.8" cy="82.1" r="1.1" fill="#f0b84e"/><circle cx="1914.7" cy="87.5" r="0.7" fill="#f0b84e"/><circle cx="1921.7" cy="39.2" r="0.9" fill="#b97620"/><circle cx="1951.5" cy="87.8" r="0.8" fill="#b97620"/><circle cx="1943.8" cy="80.4" r="1.2" fill="#cf8b2a"/><circle cx="1895.1" cy="69" r="0.7" fill="#9a5c18"/><circle cx="1916.8" cy="28" r="0.5" fill="#9a5c18"/><circle cx="1915.5" cy="58.8" r="1" fill="#cf8b2a"/><circle cx="1878.7" cy="69.9" r="1.1" fill="#e6a53a"/><circle cx="1946" cy="59.9" r="0.9" fill="#a8671c"/><circle cx="1902.8" cy="28" r="0.7" fill="#cf8b2a"/><circle cx="1944" cy="67.9" r="1.3" fill="#b97620"/><circle cx="1892" cy="79.5" r="1" fill="#e6a53a"/><circle cx="1937.6" cy="36.1" r="1.1" fill="#f0b84e"/><circle cx="1899" cy="61.7" r="1" fill="#a8671c"/><circle cx="1958.9" cy="32.5" r="1.2" fill="#b97620"/><circle cx="1959.3" cy="81.2" r="0.9" fill="#cf8b2a"/><circle cx="1930.2" cy="93.5" r="1.1" fill="#9a5c18"/><circle cx="1886.6" cy="62.5" r="0.6" fill="#f0b84e"/><circle cx="1886.1" cy="58.2" r="1.1" fill="#f0b84e"/><circle cx="1878.3" cy="48.7" r="0.6" fill="#f6c95e"/><circle cx="1908.2" cy="25" r="0.8" fill="#e6a53a"/><circle cx="1933.9" cy="56.7" r="0.6" fill="#9a5c18"/><circle cx="1877.7" cy="34.2" r="0.8" fill="#e6a53a"/><circle cx="1889.7" cy="62.7" r="0.6" fill="#9a5c18"/><circle cx="1947.7" cy="82.4" r="1.1" fill="#9a5c18"/><circle cx="1927.7" cy="85.1" r="0.6" fill="#e6a53a"/><circle cx="1904.8" cy="92.6" r="0.9" fill="#a8671c"/><circle cx="1923.9" cy="42.3" r="0.9" fill="#9a5c18"/><circle cx="1924.6" cy="27" r="0.8" fill="#9a5c18"/><circle cx="1910" cy="32.3" r="0.5" fill="#9a5c18"/><circle cx="1877.2" cy="44.2" r="1" fill="#f6c95e"/><circle cx="1943.7" cy="42.9" r="0.6" fill="#a8671c"/><circle cx="1933.6" cy="77.7" r="1" fill="#cf8b2a"/><circle cx="1936.2" cy="29.1" r="0.6" fill="#9a5c18"/><circle cx="1901.6" cy="67.4" r="1.1" fill="#cf8b2a"/><circle cx="1920.5" cy="28.3" r="1" fill="#b97620"/><circle cx="1901.3" cy="55.6" r="1" fill="#f0b84e"/><circle cx="1879.3" cy="51.1" r="0.7" fill="#b97620"/><circle cx="1891.1" cy="54.4" r="0.9" fill="#f0b84e"/><circle cx="1889.7" cy="41.2" r="1" fill="#9a5c18"/><circle cx="1955.1" cy="68.3" r="1" fill="#f6c95e"/><circle cx="1960.2" cy="92.9" r="0.9" fill="#f0b84e"/><circle cx="1957" cy="49.4" r="1.2" fill="#f0b84e"/><circle cx="1892" cy="36.4" r="0.7" fill="#b97620"/><circle cx="1907.8" cy="38.9" r="0.6" fill="#f0b84e"/><circle cx="1882" cy="87.7" r="1.1" fill="#9a5c18"/><circle cx="1930.4" cy="63.9" r="0.9" fill="#9a5c18"/><circle cx="1935.1" cy="54.3" r="1.2" fill="#cf8b2a"/><circle cx="1915.4" cy="78.7" r="1" fill="#b97620"/><circle cx="1940.7" cy="76.1" r="0.8" fill="#e6a53a"/><circle cx="1881" cy="51.2" r="1.3" fill="#e6a53a"/><circle cx="1882" cy="88.9" r="1.2" fill="#f0b84e"/><circle cx="1889.9" cy="83.5" r="1.3" fill="#9a5c18"/><circle cx="1904" cy="33.8" r="0.6" fill="#b97620"/><circle cx="1897.9" cy="29.3" r="0.7" fill="#b97620"/><circle cx="1907.5" cy="76.9" r="1.3" fill="#cf8b2a"/><circle cx="1954.3" cy="87.2" r="1.3" fill="#a8671c"/><circle cx="1919.1" cy="51.1" r="0.7" fill="#f6c95e"/><circle cx="1897.9" cy="42.6" r="0.8" fill="#e6a53a"/><circle cx="1881.8" cy="33.3" r="0.8" fill="#f6c95e"/><circle cx="1948.2" cy="74.4" r="0.7" fill="#a8671c"/><circle cx="1942" cy="92.7" r="1.1" fill="#9a5c18"/><circle cx="1928.3" cy="74.6" r="1.2" fill="#e6a53a"/><circle cx="1910.3" cy="42.2" r="0.8" fill="#b97620"/><circle cx="1950" cy="71.3" r="0.9" fill="#a8671c"/><circle cx="1923.5" cy="91.7" r="0.5" fill="#f0b84e"/><circle cx="1901.5" cy="59.4" r="0.9" fill="#cf8b2a"/><circle cx="1903.6" cy="50.6" r="1" fill="#f0b84e"/><circle cx="1895.2" cy="24.4" r="0.8" fill="#e6a53a"/><circle cx="1920.7" cy="27.6" r="0.5" fill="#f0b84e"/><circle cx="1876.7" cy="30.5" r="0.8" fill="#cf8b2a"/><circle cx="1934.1" cy="71" r="0.9" fill="#a8671c"/><circle cx="1909.8" cy="27" r="1.1" fill="#e6a53a"/><circle cx="1949.9" cy="94.2" r="0.7" fill="#f6c95e"/><circle cx="1898" cy="74.6" r="1.1" fill="#f0b84e"/><circle cx="1891.5" cy="39.1" r="1.2" fill="#b97620"/><circle cx="1890.9" cy="49.2" r="0.8" fill="#f6c95e"/><circle cx="1936.7" cy="82.2" r="1.1" fill="#f6c95e"/><circle cx="1882.9" cy="69.9" r="1.1" fill="#a8671c"/><circle cx="1883.5" cy="60.5" r="1.2" fill="#9a5c18"/><circle cx="1949.9" cy="62.4" r="0.9" fill="#9a5c18"/><circle cx="1929.6" cy="74.2" r="0.7" fill="#9a5c18"/><circle cx="1907.3" cy="94.4" r="0.7" fill="#9a5c18"/><circle cx="1942.9" cy="85" r="1.1" fill="#cf8b2a"/><circle cx="1951.5" cy="27.6" r="0.8" fill="#f6c95e"/><circle cx="1959.4" cy="60.8" r="0.8" fill="#a8671c"/><circle cx="1901.3" cy="25.2" r="1.1" fill="#b97620"/><circle cx="1878.4" cy="76.6" r="0.5" fill="#cf8b2a"/><circle cx="1913.6" cy="29.7" r="0.5" fill="#b97620"/><circle cx="1959.6" cy="90.5" r="1" fill="#a8671c"/><circle cx="1888.5" cy="26.8" r="0.7" fill="#f6c95e"/><circle cx="1918.3" cy="77.7" r="0.9" fill="#a8671c"/><circle cx="1882.2" cy="35.8" r="0.8" fill="#e6a53a"/><circle cx="1899" cy="53.8" r="1" fill="#9a5c18"/><circle cx="1958.1" cy="62.2" r="1.3" fill="#b97620"/><circle cx="1916.7" cy="64.9" r="1.3" fill="#e6a53a"/><circle cx="1937.1" cy="78.8" r="0.7" fill="#e6a53a"/><circle cx="1908" cy="49.8" r="0.6" fill="#e6a53a"/><circle cx="1900.8" cy="80.1" r="1.3" fill="#e6a53a"/><circle cx="1876.6" cy="69.3" r="1" fill="#b97620"/><circle cx="1946.2" cy="52.1" r="0.6" fill="#b97620"/><circle cx="1880.6" cy="72" r="1.3" fill="#9a5c18"/><circle cx="1958.4" cy="39.3" r="0.7" fill="#f0b84e"/><circle cx="1949.3" cy="47.6" r="1" fill="#f6c95e"/><circle cx="1911" cy="74.2" r="1" fill="#f6c95e"/><circle cx="1960.5" cy="86.7" r="1.1" fill="#f0b84e"/><circle cx="1929.3" cy="42.2" r="1.2" fill="#e6a53a"/><circle cx="1932.4" cy="36.2" r="1.1" fill="#9a5c18"/><circle cx="1958.5" cy="93.8" r="0.9" fill="#9a5c18"/><circle cx="1888.2" cy="33.9" r="0.5" fill="#9a5c18"/><circle cx="1939.8" cy="24" r="0.9" fill="#b97620"/><circle cx="1933.4" cy="37.4" r="1" fill="#e6a53a"/><circle cx="1923" cy="25.5" r="1" fill="#f6c95e"/><circle cx="1884.8" cy="26.7" r="1.2" fill="#cf8b2a"/><circle cx="1954.9" cy="31.1" r="0.7" fill="#9a5c18"/><circle cx="1892.5" cy="47.2" r="0.6" fill="#f6c95e"/><circle cx="1945.3" cy="91.7" r="1.1" fill="#f0b84e"/><circle cx="1917.1" cy="49.5" r="0.8" fill="#f6c95e"/><circle cx="1934" cy="49.2" r="1" fill="#f6c95e"/><circle cx="1888.3" cy="28" r="1.1" fill="#b97620"/><circle cx="1950.3" cy="90.5" r="0.7" fill="#b97620"/><circle cx="1899.7" cy="64.2" r="0.7" fill="#cf8b2a"/><circle cx="1922.1" cy="33.5" r="0.9" fill="#a8671c"/><circle cx="1892" cy="69.3" r="1.1" fill="#e6a53a"/><circle cx="1955.9" cy="72.9" r="1" fill="#a8671c"/><circle cx="1932" cy="43.3" r="0.6" fill="#cf8b2a"/><circle cx="1908.6" cy="86.1" r="0.7" fill="#f6c95e"/><circle cx="1939.6" cy="75.5" r="1.1" fill="#b97620"/><circle cx="1899.4" cy="91.3" r="0.7" fill="#f6c95e"/><circle cx="1900.9" cy="84.4" r="1.2" fill="#cf8b2a"/><circle cx="1878.2" cy="63.9" r="1.2" fill="#f0b84e"/><circle cx="1957.2" cy="42.7" r="1.2" fill="#9a5c18"/><circle cx="1950.1" cy="82.6" r="1" fill="#9a5c18"/><circle cx="1915.2" cy="52.8" r="1" fill="#a8671c"/><circle cx="1925.5" cy="30.3" r="0.7" fill="#b97620"/><circle cx="1878.1" cy="29" r="0.6" fill="#f6c95e"/><circle cx="1890.9" cy="34.6" r="1.2" fill="#a8671c"/><circle cx="1922.1" cy="27.4" r="0.6" fill="#f0b84e"/><circle cx="1929.7" cy="45.3" r="0.5" fill="#9a5c18"/><circle cx="1907.8" cy="46.8" r="0.7" fill="#f0b84e"/><circle cx="1946.7" cy="78.6" r="1" fill="#cf8b2a"/><circle cx="1948.6" cy="86.3" r="1" fill="#cf8b2a"/><circle cx="1899.8" cy="61.8" r="0.7" fill="#e6a53a"/><circle cx="1892.3" cy="81.2" r="0.6" fill="#a8671c"/><circle cx="1953.6" cy="73.8" r="1" fill="#e6a53a"/><circle cx="1882" cy="29.4" r="0.6" fill="#cf8b2a"/><circle cx="1890.9" cy="31" r="0.6" fill="#b97620"/><circle cx="1956.4" cy="92" r="1" fill="#9a5c18"/><circle cx="1902.6" cy="54.5" r="0.8" fill="#9a5c18"/><circle cx="1933.3" cy="40.7" r="0.7" fill="#e6a53a"/><circle cx="1930.9" cy="90.8" r="1" fill="#a8671c"/><circle cx="1888.3" cy="40.2" r="1" fill="#a8671c"/><circle cx="1908.6" cy="24.1" r="0.6" fill="#f0b84e"/><circle cx="1896.3" cy="65.8" r="1.1" fill="#f0b84e"/><circle cx="1944.9" cy="39.7" r="1.2" fill="#9a5c18"/><circle cx="1892.9" cy="42.9" r="0.7" fill="#9a5c18"/><circle cx="1909.7" cy="72.9" r="0.6" fill="#b97620"/><circle cx="1894.1" cy="66.9" r="0.8" fill="#f0b84e"/><circle cx="1879.6" cy="30.3" r="0.9" fill="#cf8b2a"/><circle cx="1887.9" cy="75.4" r="0.9" fill="#e6a53a"/><circle cx="1928.3" cy="72" r="0.9" fill="#f0b84e"/><circle cx="1899.4" cy="71.6" r="0.6" fill="#f0b84e"/><circle cx="1928.1" cy="50.3" r="1.1" fill="#e6a53a"/><circle cx="1940.6" cy="76.9" r="1" fill="#b97620"/><circle cx="1913.9" cy="72.3" r="1.2" fill="#e6a53a"/><circle cx="1949" cy="70.6" r="1.1" fill="#a8671c"/><circle cx="1910.5" cy="91" r="1.1" fill="#a8671c"/><circle cx="1936" cy="85.5" r="0.8" fill="#a8671c"/><circle cx="1932.7" cy="53.7" r="0.8" fill="#a8671c"/><circle cx="1884.3" cy="39" r="1.1" fill="#f6c95e"/><circle cx="1880" cy="65.4" r="0.7" fill="#cf8b2a"/><circle cx="1929.3" cy="39.3" r="1.2" fill="#cf8b2a"/><circle cx="1931.1" cy="53.7" r="1.1" fill="#e6a53a"/><circle cx="1934.3" cy="46.3" r="0.5" fill="#cf8b2a"/><circle cx="1899.3" cy="77.5" r="0.9" fill="#a8671c"/><circle cx="1916.4" cy="27.1" r="0.8" fill="#b97620"/><circle cx="1936.2" cy="76.1" r="0.8" fill="#f0b84e"/><circle cx="1937.1" cy="26.2" r="0.9" fill="#a8671c"/><circle cx="1948.4" cy="90.8" r="1.1" fill="#f6c95e"/><circle cx="1936.4" cy="55.2" r="0.9" fill="#e6a53a"/><circle cx="1954.9" cy="49.4" r="0.7" fill="#e6a53a"/><circle cx="1946" cy="59.2" r="0.8" fill="#e6a53a"/><circle cx="1881.8" cy="30.6" r="0.9" fill="#cf8b2a"/><circle cx="1879.3" cy="86.6" r="1.3" fill="#a8671c"/><circle cx="1950.4" cy="56.4" r="0.9" fill="#b97620"/><circle cx="1912.6" cy="87.4" r="0.8" fill="#b97620"/><circle cx="1904.8" cy="41.6" r="1.3" fill="#cf8b2a"/><circle cx="1883.8" cy="33.8" r="1" fill="#f6c95e"/><circle cx="1949.4" cy="74.2" r="0.5" fill="#cf8b2a"/><circle cx="1881.5" cy="79.9" r="1.1" fill="#e6a53a"/><circle cx="1906.8" cy="62.9" r="0.7" fill="#cf8b2a"/><circle cx="1884" cy="72.8" r="1.1" fill="#e6a53a"/><circle cx="1925.2" cy="84" r="1.1" fill="#a8671c"/><circle cx="1902.2" cy="24.7" r="0.7" fill="#e6a53a"/><circle cx="1908.3" cy="57.6" r="0.9" fill="#a8671c"/><circle cx="1888.8" cy="47.7" r="0.7" fill="#f0b84e"/><circle cx="1944.3" cy="90.2" r="0.8" fill="#9a5c18"/><circle cx="1945.1" cy="37.6" r="0.8" fill="#9a5c18"/><circle cx="1901.4" cy="38.3" r="1.2" fill="#e6a53a"/><circle cx="1914.4" cy="74.2" r="0.7" fill="#9a5c18"/><circle cx="1935.6" cy="87.7" r="0.7" fill="#f6c95e"/><circle cx="1957.3" cy="84" r="0.6" fill="#f0b84e"/><circle cx="1908.5" cy="94.4" r="1" fill="#e6a53a"/><circle cx="1888.4" cy="58.5" r="1.1" fill="#9a5c18"/><circle cx="1939.2" cy="71.6" r="1.1" fill="#a8671c"/><circle cx="1889.2" cy="90.9" r="0.8" fill="#a8671c"/><circle cx="1897" cy="26.6" r="0.5" fill="#f6c95e"/><circle cx="1925" cy="87.5" r="1" fill="#e6a53a"/><circle cx="1877.6" cy="93.3" r="0.8" fill="#a8671c"/><circle cx="1952.2" cy="77.3" r="1.1" fill="#9a5c18"/><circle cx="1908.2" cy="45.6" r="0.5" fill="#9a5c18"/><circle cx="1960.2" cy="30.3" r="1.2" fill="#cf8b2a"/><circle cx="1928" cy="86" r="1" fill="#a8671c"/><circle cx="1926.2" cy="60.9" r="0.6" fill="#9a5c18"/><circle cx="1935.4" cy="90.5" r="1.2" fill="#cf8b2a"/><circle cx="1895.6" cy="78.1" r="0.9" fill="#f6c95e"/><circle cx="1925.5" cy="92.7" r="0.5" fill="#b97620"/><circle cx="1933.1" cy="53.3" r="0.9" fill="#b97620"/><circle cx="1893" cy="27.3" r="0.6" fill="#f6c95e"/><circle cx="1909.5" cy="69.9" r="0.9" fill="#cf8b2a"/><circle cx="1899.1" cy="32.1" r="1" fill="#9a5c18"/><circle cx="1937.2" cy="58" r="0.5" fill="#9a5c18"/><circle cx="1935.8" cy="49.5" r="1.2" fill="#f0b84e"/><circle cx="1896" cy="71.4" r="0.8" fill="#f6c95e"/><circle cx="1898.5" cy="33.6" r="0.9" fill="#a8671c"/><circle cx="1948.7" cy="77.1" r="1" fill="#cf8b2a"/><circle cx="1928.5" cy="78.6" r="0.8" fill="#a8671c"/><circle cx="1916.1" cy="55.4" r="0.9" fill="#f0b84e"/><circle cx="1920.2" cy="42.9" r="0.9" fill="#a8671c"/><circle cx="1882.2" cy="45.5" r="0.6" fill="#f0b84e"/><circle cx="1956.3" cy="74.5" r="0.8" fill="#9a5c18"/><circle cx="1913.3" cy="66.6" r="0.7" fill="#9a5c18"/><circle cx="1949.3" cy="57.9" r="1.1" fill="#a8671c"/><circle cx="1915.1" cy="42.6" r="0.5" fill="#e6a53a"/><circle cx="1921.6" cy="24.6" r="0.6" fill="#f6c95e"/><circle cx="1956.5" cy="74.4" r="0.7" fill="#f6c95e"/><circle cx="1932.9" cy="83.1" r="0.6" fill="#e6a53a"/><circle cx="1932.4" cy="64.3" r="1.1" fill="#e6a53a"/><circle cx="1908.2" cy="69.7" r="0.7" fill="#a8671c"/><circle cx="1923.5" cy="53.9" r="0.9" fill="#a8671c"/><circle cx="1940.5" cy="31" r="1" fill="#9a5c18"/><circle cx="1879.8" cy="47.1" r="1.1" fill="#f0b84e"/><circle cx="1960.8" cy="43" r="0.9" fill="#9a5c18"/><circle cx="1931.9" cy="79.6" r="1.2" fill="#f0b84e"/><circle cx="1889.9" cy="41" r="1.1" fill="#e6a53a"/><circle cx="1881.7" cy="41.2" r="1.2" fill="#a8671c"/><circle cx="1914.1" cy="78.5" r="0.8" fill="#cf8b2a"/><circle cx="1899.2" cy="63.9" r="0.6" fill="#9a5c18"/><circle cx="1932.8" cy="91.4" r="1.2" fill="#f0b84e"/><circle cx="1894.4" cy="54.1" r="0.5" fill="#f0b84e"/><circle cx="1961" cy="36.6" r="0.8" fill="#a8671c"/><circle cx="1938" cy="39.5" r="0.8" fill="#e6a53a"/><circle cx="1944.3" cy="47.9" r="0.6" fill="#a8671c"/><circle cx="1901.6" cy="65.2" r="0.9" fill="#9a5c18"/><circle cx="1901.1" cy="48.4" r="0.9" fill="#e6a53a"/><circle cx="1906.9" cy="71.8" r="0.8" fill="#e6a53a"/><circle cx="1881.8" cy="49.4" r="1.3" fill="#a8671c"/><circle cx="1912.4" cy="51.6" r="0.5" fill="#b97620"/><circle cx="1878.2" cy="40.2" r="0.7" fill="#f0b84e"/><circle cx="1904.9" cy="35.1" r="0.6" fill="#e6a53a"/><circle cx="1917" cy="42.5" r="1.2" fill="#a8671c"/><circle cx="1942.4" cy="56.2" r="1.2" fill="#f0b84e"/><circle cx="1881.3" cy="84.1" r="1.3" fill="#e6a53a"/><circle cx="1879.4" cy="51.6" r="0.5" fill="#f0b84e"/><circle cx="1946.4" cy="30.4" r="1.1" fill="#f6c95e"/><circle cx="1921.6" cy="35.4" r="0.7" fill="#f6c95e"/><circle cx="1893.7" cy="61.9" r="0.5" fill="#b97620"/><circle cx="1953.8" cy="50.4" r="0.8" fill="#f6c95e"/><circle cx="1882.3" cy="38.7" r="1" fill="#9a5c18"/><circle cx="1932.6" cy="57.8" r="1.1" fill="#f0b84e"/><circle cx="1936.4" cy="83" r="1.1" fill="#f6c95e"/><circle cx="1949.3" cy="54.7" r="1.2" fill="#e6a53a"/><circle cx="1876.8" cy="61" r="1.2" fill="#9a5c18"/><circle cx="1914.1" cy="49.9" r="0.8" fill="#a8671c"/><circle cx="1906.2" cy="38.7" r="1" fill="#9a5c18"/><circle cx="1960.5" cy="67.3" r="0.5" fill="#cf8b2a"/><circle cx="1902.2" cy="75.4" r="1.2" fill="#a8671c"/><circle cx="1941.5" cy="31.5" r="1" fill="#a8671c"/><circle cx="1915.3" cy="39.5" r="0.9" fill="#9a5c18"/><circle cx="1914.3" cy="48.6" r="0.5" fill="#b97620"/><circle cx="1940" cy="46.4" r="1" fill="#b97620"/><circle cx="1911.9" cy="39.6" r="1.1" fill="#b97620"/><circle cx="1938" cy="76.4" r="0.8" fill="#cf8b2a"/><circle cx="1950.7" cy="93.1" r="1" fill="#9a5c18"/><circle cx="1885.2" cy="28.4" r="1" fill="#9a5c18"/><circle cx="1906.6" cy="44.4" r="1" fill="#e6a53a"/><circle cx="1924.4" cy="73.1" r="1.1" fill="#a8671c"/><circle cx="1877.8" cy="28.8" r="1.1" fill="#cf8b2a"/><circle cx="1952.3" cy="62.5" r="0.8" fill="#cf8b2a"/><circle cx="1946.2" cy="49.8" r="1.3" fill="#b97620"/><circle cx="1877.3" cy="25.6" r="1.2" fill="#f0b84e"/><circle cx="1903.3" cy="37.3" r="0.6" fill="#f0b84e"/><circle cx="1957" cy="24.5" r="1.1" fill="#e6a53a"/><circle cx="1909" cy="78.7" r="1.2" fill="#f0b84e"/><circle cx="1892.3" cy="74.4" r="0.6" fill="#cf8b2a"/><circle cx="1894.3" cy="39.3" r="1.3" fill="#cf8b2a"/><circle cx="1940.3" cy="38" r="0.6" fill="#cf8b2a"/><circle cx="1941" cy="61.9" r="1.2" fill="#f0b84e"/><circle cx="1906.1" cy="62.1" r="1.1" fill="#f6c95e"/><circle cx="1915.3" cy="26.2" r="0.8" fill="#f6c95e"/><circle cx="1925.8" cy="82.1" r="1.1" fill="#9a5c18"/><circle cx="1928.1" cy="75.2" r="0.7" fill="#e6a53a"/><circle cx="1886.3" cy="54.1" r="0.8" fill="#b97620"/><circle cx="1898.7" cy="80.4" r="0.7" fill="#b97620"/><circle cx="1914.8" cy="50.1" r="0.5" fill="#a8671c"/><circle cx="1914.6" cy="56.3" r="1.2" fill="#cf8b2a"/><circle cx="1896.8" cy="91.6" r="1.2" fill="#f6c95e"/><circle cx="1953" cy="51.3" r="0.7" fill="#e6a53a"/><circle cx="1945.5" cy="70.3" r="0.6" fill="#cf8b2a"/><circle cx="1911.6" cy="32.3" r="1.3" fill="#e6a53a"/><circle cx="1950.6" cy="76.7" r="0.9" fill="#b97620"/><circle cx="1938.1" cy="44.1" r="0.5" fill="#a8671c"/><circle cx="1911.4" cy="26.7" r="0.8" fill="#9a5c18"/><circle cx="1936" cy="79" r="1.1" fill="#f0b84e"/><circle cx="1877.7" cy="88.1" r="0.9" fill="#b97620"/><circle cx="1896" cy="32.8" r="1.2" fill="#cf8b2a"/><circle cx="1947" cy="73.1" r="0.7" fill="#a8671c"/><circle cx="1952.3" cy="88.4" r="0.6" fill="#cf8b2a"/><circle cx="1919.2" cy="53.3" r="1.3" fill="#f0b84e"/><circle cx="1914.1" cy="72.2" r="1.2" fill="#f6c95e"/><circle cx="1927.4" cy="90.9" r="0.9" fill="#cf8b2a"/><circle cx="1940" cy="28.8" r="0.8" fill="#f0b84e"/><circle cx="1925.6" cy="28.3" r="0.6" fill="#e6a53a"/><circle cx="1922" cy="92.1" r="1.2" fill="#b97620"/><circle cx="1894.1" cy="74.6" r="0.7" fill="#f0b84e"/><circle cx="1894.8" cy="58.8" r="0.6" fill="#f6c95e"/><circle cx="1943.1" cy="44.6" r="0.6" fill="#a8671c"/><circle cx="1918.2" cy="38.3" r="1.3" fill="#cf8b2a"/><circle cx="1933.5" cy="87" r="0.9" fill="#f0b84e"/><circle cx="1936.1" cy="55.4" r="1.2" fill="#b97620"/><circle cx="1913.7" cy="88.6" r="0.9" fill="#f0b84e"/><circle cx="1903.4" cy="85.7" r="1" fill="#a8671c"/><circle cx="1916.8" cy="57" r="1.2" fill="#f6c95e"/><circle cx="1883.9" cy="90.7" r="1" fill="#f0b84e"/><circle cx="1961.7" cy="77.4" r="0.5" fill="#9a5c18"/><circle cx="1945.7" cy="79.6" r="1.3" fill="#9a5c18"/><circle cx="1946.3" cy="78.2" r="1" fill="#b97620"/><circle cx="1942.7" cy="41.6" r="0.9" fill="#f0b84e"/><circle cx="1956.2" cy="74.5" r="0.5" fill="#f0b84e"/><circle cx="1947.6" cy="76.5" r="1.2" fill="#cf8b2a"/><circle cx="1934.9" cy="64.4" r="0.6" fill="#9a5c18"/><circle cx="1921.6" cy="84.2" r="1.3" fill="#a8671c"/><circle cx="1935.3" cy="46.2" r="1" fill="#b97620"/><circle cx="1904.8" cy="38.6" r="1" fill="#b97620"/><circle cx="1911.9" cy="86" r="1" fill="#e6a53a"/><circle cx="1897.3" cy="43.2" r="0.9" fill="#cf8b2a"/><circle cx="1946.8" cy="76" r="0.6" fill="#a8671c"/><circle cx="1883.2" cy="28.3" r="0.9" fill="#b97620"/><circle cx="1916.6" cy="60" r="1.2" fill="#b97620"/><circle cx="1921.2" cy="26.8" r="0.7" fill="#9a5c18"/><circle cx="1942.8" cy="80.7" r="1.1" fill="#9a5c18"/><circle cx="1893.5" cy="42" r="0.8" fill="#cf8b2a"/><circle cx="1925.2" cy="43.6" r="1.1" fill="#b97620"/><circle cx="1879.7" cy="71.4" r="0.7" fill="#e6a53a"/><circle cx="1952.6" cy="63.2" r="0.5" fill="#9a5c18"/><circle cx="1881.4" cy="76.5" r="0.7" fill="#9a5c18"/><circle cx="1946" cy="81.3" r="1.3" fill="#f0b84e"/><circle cx="1930" cy="49.2" r="0.9" fill="#b97620"/><circle cx="1908.7" cy="94.5" r="1.2" fill="#f0b84e"/><circle cx="1909" cy="91.3" r="1.3" fill="#9a5c18"/><circle cx="1927.1" cy="57.9" r="0.9" fill="#f0b84e"/><circle cx="1943.2" cy="75.8" r="0.6" fill="#cf8b2a"/><circle cx="1928.1" cy="44.5" r="1.1" fill="#a8671c"/><circle cx="1878.5" cy="42.3" r="1" fill="#9a5c18"/><circle cx="1909" cy="60.4" r="0.8" fill="#9a5c18"/><circle cx="1901.5" cy="50.3" r="1.1" fill="#a8671c"/><circle cx="1884.2" cy="66.4" r="1.2" fill="#f6c95e"/><circle cx="1910" cy="82.1" r="1.1" fill="#9a5c18"/><circle cx="1883.2" cy="62.7" r="0.7" fill="#f0b84e"/><circle cx="1960.1" cy="83.8" r="0.9" fill="#a8671c"/><circle cx="1943.7" cy="89.8" r="1" fill="#f6c95e"/><circle cx="1911.9" cy="36" r="1.2" fill="#9a5c18"/><circle cx="1879.6" cy="79.3" r="1.1" fill="#a8671c"/><circle cx="1909.7" cy="83.3" r="1.2" fill="#e6a53a"/><circle cx="1878.9" cy="34" r="0.8" fill="#e6a53a"/><circle cx="1897.4" cy="32" r="0.8" fill="#f0b84e"/><circle cx="1934.5" cy="81.4" r="1" fill="#f0b84e"/><circle cx="1961" cy="40.4" r="0.9" fill="#b97620"/><circle cx="1908.8" cy="30.7" r="0.9" fill="#e6a53a"/><circle cx="1930.8" cy="36.1" r="0.6" fill="#f6c95e"/><circle cx="1916.4" cy="88.1" r="0.5" fill="#a8671c"/><circle cx="1879" cy="81.2" r="0.8" fill="#e6a53a"/><circle cx="1940.2" cy="43.4" r="1.3" fill="#f0b84e"/><circle cx="1909" cy="58.3" r="1.3" fill="#f0b84e"/><circle cx="1893.6" cy="42.4" r="1.2" fill="#f0b84e"/><circle cx="1908.5" cy="47.8" r="0.5" fill="#a8671c"/><circle cx="1887.5" cy="44.3" r="1.3" fill="#a8671c"/><circle cx="1921.3" cy="27" r="0.9" fill="#a8671c"/><circle cx="1951.8" cy="93.6" r="0.9" fill="#e6a53a"/><circle cx="1940.6" cy="48.9" r="0.7" fill="#e6a53a"/><circle cx="1882.1" cy="59.8" r="1.2" fill="#f6c95e"/><circle cx="1892" cy="75.2" r="0.7" fill="#cf8b2a"/><circle cx="1894.8" cy="56.1" r="0.8" fill="#f6c95e"/><circle cx="1881.9" cy="68.2" r="0.6" fill="#a8671c"/><circle cx="1917.9" cy="83.3" r="0.9" fill="#f6c95e"/><circle cx="1881.6" cy="47.9" r="1.1" fill="#a8671c"/><circle cx="1891.9" cy="31.5" r="1.1" fill="#a8671c"/><circle cx="1898.8" cy="34" r="1" fill="#f0b84e"/><circle cx="1926.3" cy="78.5" r="1" fill="#b97620"/><circle cx="1945.9" cy="41" r="1.1" fill="#b97620"/><circle cx="1910.2" cy="69.5" r="1" fill="#f6c95e"/><circle cx="1888.9" cy="42.4" r="0.9" fill="#cf8b2a"/><circle cx="1914.6" cy="50.5" r="0.9" fill="#b97620"/><circle cx="1890.7" cy="67.6" r="1.1" fill="#f0b84e"/><circle cx="1904.2" cy="37.8" r="1.2" fill="#f0b84e"/><circle cx="1957" cy="78.9" r="0.8" fill="#f6c95e"/><circle cx="1911.3" cy="39.3" r="0.9" fill="#9a5c18"/><circle cx="1877" cy="30.4" r="1" fill="#f6c95e"/><circle cx="1958.8" cy="71.7" r="0.7" fill="#cf8b2a"/><circle cx="1876" cy="81.9" r="0.5" fill="#9a5c18"/><circle cx="1939.6" cy="31.1" r="1.1" fill="#9a5c18"/><circle cx="1920.3" cy="44.9" r="1.1" fill="#9a5c18"/><circle cx="1931.2" cy="33.4" r="1.2" fill="#b97620"/><circle cx="1937.8" cy="54.7" r="0.6" fill="#f0b84e"/><circle cx="1917" cy="88.9" r="1.3" fill="#cf8b2a"/><circle cx="1926.1" cy="55.4" r="0.7" fill="#b97620"/><circle cx="1911.2" cy="33" r="0.7" fill="#f0b84e"/><circle cx="1947.1" cy="86.7" r="0.9" fill="#e6a53a"/><circle cx="1928.8" cy="45.5" r="1.1" fill="#cf8b2a"/><circle cx="1935.6" cy="78.2" r="1.3" fill="#b97620"/><circle cx="1891.1" cy="65.1" r="0.8" fill="#e6a53a"/><circle cx="1926.7" cy="81.7" r="0.7" fill="#9a5c18"/><circle cx="1949.4" cy="80.9" r="0.6" fill="#f6c95e"/><circle cx="1904.4" cy="52.5" r="1" fill="#b97620"/><circle cx="1906.2" cy="52.8" r="1" fill="#f0b84e"/><circle cx="1881.6" cy="56" r="1.2" fill="#e6a53a"/><circle cx="1939.7" cy="79.3" r="1.2" fill="#f6c95e"/><circle cx="1882.5" cy="28.8" r="0.6" fill="#a8671c"/><circle cx="1880.9" cy="68.1" r="1.1" fill="#e6a53a"/><circle cx="1942.1" cy="56.5" r="0.8" fill="#b97620"/><circle cx="1958.1" cy="80.9" r="1.2" fill="#b97620"/><circle cx="1920.3" cy="29.2" r="0.6" fill="#e6a53a"/><circle cx="1957.4" cy="30.9" r="0.9" fill="#a8671c"/><circle cx="1936.4" cy="81.9" r="0.9" fill="#a8671c"/><circle cx="1910" cy="82.8" r="0.6" fill="#f6c95e"/><circle cx="1890.5" cy="46.4" r="1" fill="#b97620"/><circle cx="1883.1" cy="85" r="0.6" fill="#e6a53a"/><circle cx="1897" cy="89.1" r="1.1" fill="#f0b84e"/><circle cx="1936.9" cy="45.1" r="1.1" fill="#f6c95e"/><circle cx="1906" cy="50.8" r="1" fill="#f6c95e"/><circle cx="1954.2" cy="43.6" r="0.7" fill="#f0b84e"/><circle cx="1938.8" cy="26.7" r="0.6" fill="#f6c95e"/><circle cx="1878.8" cy="31.4" r="1.1" fill="#9a5c18"/><circle cx="1909" cy="26.7" r="0.6" fill="#e6a53a"/><circle cx="1906.7" cy="69.1" r="1.2" fill="#9a5c18"/><circle cx="1961.2" cy="74.9" r="0.8" fill="#9a5c18"/><circle cx="1955.3" cy="83.4" r="0.9" fill="#f6c95e"/><circle cx="1955.4" cy="87.5" r="0.8" fill="#cf8b2a"/><circle cx="1911.3" cy="37.6" r="1.2" fill="#f0b84e"/><circle cx="1951.2" cy="32.2" r="0.7" fill="#e6a53a"/><circle cx="1879.6" cy="43.1" r="0.9" fill="#9a5c18"/><circle cx="1930.4" cy="84.7" r="0.7" fill="#e6a53a"/><circle cx="1888.2" cy="43.8" r="1.1" fill="#e6a53a"/><circle cx="1908.1" cy="67" r="1" fill="#a8671c"/><circle cx="1911.3" cy="59.1" r="1.2" fill="#f6c95e"/><circle cx="1906.4" cy="37.9" r="0.7" fill="#e6a53a"/><circle cx="1889.5" cy="93.2" r="0.6" fill="#e6a53a"/><circle cx="1943.2" cy="64.7" r="1.3" fill="#e6a53a"/><circle cx="1951.3" cy="32.7" r="0.7" fill="#b97620"/><circle cx="1915.8" cy="84.5" r="1" fill="#b97620"/><circle cx="1918.5" cy="28.2" r="0.6" fill="#9a5c18"/><circle cx="1901.6" cy="33.7" r="1.3" fill="#b97620"/><circle cx="1950.2" cy="93.5" r="1.3" fill="#f0b84e"/><circle cx="1884.9" cy="26.4" r="1.1" fill="#9a5c18"/><circle cx="1916.8" cy="85.4" r="1" fill="#e6a53a"/><circle cx="1944.7" cy="76.1" r="0.9" fill="#f6c95e"/><circle cx="1932.4" cy="88.4" r="1.2" fill="#e6a53a"/></g>
<path d="M121.5,265 L123,264.6 L124.5,264.6 L126,263.7 L127.5,264.3 L129,263.5 L130.5,264.9 L132,263 L133.5,264.3 L135,264.1 L136.5,264.3 L138,264.5 L139.5,264.8 L141,263.6 L142.5,265 L144,264 L145.5,263 L147,264.3 L148.5,262.1 L150,263.1 L151.5,262.2 L153,264.6 L154.5,263.1 L156,264.6 L157.5,264.8 L159,264.7 L160.5,261.2 L162,264.2 L163.5,264.9 L165,264.8 L166.5,262.7 L168,264.3 L169.5,263.5 L171,263.8 L172.5,263.4 L174,263.8 L175.5,265 L177,263.7 L178.5,264.1 L180,264.8 L181.5,264.8 L183,264.9 L184.5,263.2 L186,264.9 L187.5,263 L189,262.7 L190.5,263.7 L192,264.8 L193.5,264 L195,262 L196.5,263.9 L198,263.2 L199.5,264.9 L201,264.1 L202.5,264.7 L204,264 L205.5,264.9 L207,264 L208.5,262.8 L210,264 L211.5,264.7 L213,264.3 L214.5,264.8 L216,263.2 L217.5,264.1 L219,264.7 L220.5,263.7 L222,263.3 L223.5,263 L225,263.8 L226.5,264 L228,262 L229.5,264.3 L231,264.9 L232.5,263.1 L234,264 L235.5,264.5 L237,264.4 L238.5,264.6 L240,262.7 L241.5,264.4 L243,264.5 L244.5,264.5 L246,264.8 L247.5,264.7 L249,263.3 L250.5,265 L252,264.3 L253.5,263.3 L255,264 L256.5,265 L258,264 L259.5,264.5 L261,263.4 L262.5,265 L264,264.1 L265.5,263.1 L267,264.5 L268.5,262.5 L270,261.9 L271.5,264.5 L273,263.7 L274.5,264.8 L276,261.6 L277.5,263.8 L279,264.1 L280.5,264.7 L282,264.3 L283.5,264.7 L285,264.7 L286.5,263.9 L288,264.2 L289.5,263.4 L291,264.9 L292.5,264.9 L294,263.4 L295.5,264.6 L297,263.7 L298.5,263.5 L300,264.7 L301.5,264.9 L303,264.1 L304.5,264.8 L306,262 L307.5,263.3 L309,264.5 L310.5,261.8 L312,263.7 L313.5,262.4 L315,263.9 L316.5,263.7 L318,263.8 L319.5,264.8 L321,262.7 L322.5,263.1 L324,262.8 L325.5,264.9 L327,264.6 L328.5,264.8 L330,263.5 L331.5,263.4 L333,264.2 L334.5,264.9 L336,263.8 L337.5,264.1 L339,263.1 L340.5,263.1 L342,264.8 L343.5,263.6 L345,265 L346.5,264 L348,264.5 L349.5,264.2 L351,265 L352.5,264.4 L354,264.6 L355.5,262.9 L357,263.8 L358.5,262.5 L360,264 L361.5,263.4 L363,264.5 L364.5,262.9 L366,262.8 L367.5,264.7 L369,264.1 L370.5,262.4 L372,263.9 L373.5,265 L375,264.9 L376.5,263.9 L378,264.3 L379.5,264.2 L381,264.8 L382.5,263.3 L384,263.2 L385.5,263 L387,264.2 L388.5,264.6 L390,264.9 L391.5,264.3 L393,264.2 L394.5,264.1 L396,264.5 L397.5,264.8 L399,265 L400.5,263.2 L402,264 L403.5,264.4 L405,264.2 L406.5,262.9 L408,263.6 L409.5,263.6 L411,264.8 L412.5,264.2 L414,263.8 L415.5,263.8 L417,263.6 L418.5,264.3 L420,262.7 L421.5,263.1 L423,263.7 L424.5,264.3 L426,263.7 L427.5,262.2 L429,262.8 L430.5,263.3 L432,262.5 L433.5,263.8 L435,263.5 L436.5,265 L438,263.7 L439.5,262.5 L441,261.8 L442.5,264.6 L444,264.9 L445.5,264.6 L447,264.9 L448.5,263.7 L450,262.7 L451.5,264.8 L453,263.5 L454.5,262.5 L456,264.2 L457.5,264.9 L459,264.4 L460.5,263.5 L462,264 L463.5,263.5 L465,263.7 L466.5,264.7 L468,263.8 L469.5,264.5 L471,264.5 L472.5,262 L474,262.9 L475.5,263.7 L477,264.9 L478.5,265 L480,262.8 L481.5,264.3 L483,263.9 L484.5,264.9 L486,264.9 L487.5,264.6 L489,263.3 L490.5,265 L492,261.7 L493.5,264 L495,262 L496.5,260.1 L498,264.2 L499.5,263 L501,264.9 L502.5,263.2 L504,263.6 L505.5,263.3 L507,264.8 L508.5,264.9 L510,264.9 L511.5,264.9 L513,263.8 L514.5,264.2 L516,264.7 L517.5,263.4 L519,264.2 L520.5,264 L522,263.4 L523.5,263.1 L525,264.8 L526.5,265 L528,263 L529.5,262.4 L531,262.8 L532.5,264.3 L534,263.8 L535.5,264.4 L537,261.1 L538.5,264.6 L540,264.9 L541.5,264.9 L543,263.4 L544.5,264.6 L546,264.7 L547.5,263.2 L549,264.5 L550.5,265 L552,262.7 L553.5,264.2 L555,264.4 L556.5,262.3 L558,262.6 L559.5,263.6 L561,263.6 L562.5,264 L564,264.8 L565.5,264.7 L567,264.6 L568.5,264.7 L570,264.9 L571.5,262.7 L573,264.2 L574.5,264.9 L576,264.1 L577.5,264 L579,262.6 L580.5,264.2 L582,264.9 L583.5,264.5 L585,263.3 L586.5,264.9 L588,263.7 L589.5,264.4 L591,264.7 L592.5,264.7 L594,264.8 L595.5,262.6 L597,264.6 L598.5,263.7 L600,263.7 L601.5,263.8 L603,264.1 L604.5,262.7 L606,264.5 L607.5,264.1 L609,264.7 L610.5,265 L612,263.5 L613.5,264.3 L615,262 L616.5,264.6 L618,264.7 L619.5,263.4 L621,264.5 L622.5,263.1 L624,263.3 L625.5,263.1 L627,263.6 L628.5,263.4 L630,262.7 L631.5,264.6 L633,264.2 L634.5,262.1 L636,264.7 L637.5,264.1 L639,263 L640.5,264.9 L642,262.8 L643.5,263.6 L645,263.6 L646.5,263.7 L648,264.2 L649.5,264.6 L651,264.7 L652.5,264.7 L654,264.6 L655.5,264.6 L657,264.9 L658.5,264.7 L660,264.9 L661.5,264.2 L663,262.2 L664.5,264.1 L666,264.9 L667.5,262.5 L669,264.4 L670.5,262.1 L672,262.9 L673.5,263.7 L675,263.9 L676.5,264.8 L678,262.4 L679.5,264.4 L681,264 L682.5,264 L684,261.6 L685.5,264.7 L687,263.8 L688.5,263.2 L690,264.9 L691.5,264.7 L693,263.3 L694.5,264.8 L696,263.3 L697.5,263.3 L699,263.4 L700.5,263.4 L702,264.3 L703.5,264.2 L705,264.8 L706.5,264.4 L708,264.5 L709.5,263.1 L711,262.8 L712.5,263.8 L714,264.7 L715.5,264.7 L717,263.5 L718.5,262.4 L720,263.8 L721.5,264.7 L723,264.4 L724.5,264.4 L726,263.5 L727.5,264.7 L729,263.2 L730.5,263.6 L732,263.8 L733.5,264.3 L735,262.2 L736.5,263 L738,264.1 L739.5,263 L741,264.4 L742.5,264.6 L744,263.3 L745.5,261.2 L747,264.7 L748.5,262.6 L750,264 L751.5,264.8 L753,262.5 L754.5,264.4 L756,263.5 L757.5,263.1 L759,263.4 L760.5,264.5 L762,263.4 L763.5,264.2 L765,264.3 L766.5,264.9 L768,264.2 L769.5,263.8 L771,264.5 L772.5,263.5 L774,263.1 L775.5,264.9 L777,263.7 L778.5,262.7 L780,265 L781.5,264 L783,263.5 L784.5,263.7 L786,264.2 L787.5,262.8 L789,263.8 L790.5,264.4 L792,264.7 L793.5,263.9 L795,264.1 L796.5,264.8 L798,264.1 L799.5,264.9 L801,263.4 L802.5,264.8 L804,264.9 L805.5,263.6 L807,263.6 L808.5,264.9 L810,262.4 L811.5,264 L813,263.4 L814.5,262.3 L816,264.9 L817.5,263.3 L819,262.7 L820.5,263.4 L822,263.9 L823.5,263.3 L825,264.4 L826.5,263.8 L828,263.9 L829.5,264.1 L831,263.9 L832.5,264.4 L834,263.5 L835.5,263.2 L837,262.2 L838.5,262.2 L840,264.5 L841.5,264.6 L843,265 L844.5,264.8 L846,264.9 L847.5,262.1 L849,263.4 L850.5,262.7 L852,263.5 L853.5,263 L855,263.9 L856.5,263.8 L858,263.6 L859.5,262.9 L861,264.5 L862.5,262.9 L864,260.8 L865.5,264.2 L867,263.4 L868.5,263.4 L870,263.4 L871.5,264.6 L873,262.7 L874.5,263.5 L876,262.9 L877.5,263.8 L879,264.4 L880.5,263.7 L882,262.2 L883.5,264.4 L885,265 L886.5,264.9 L888,264.9 L889.5,263.3 L891,264.9 L892.5,264.9 L894,263.1 L895.5,262.2 L897,264.8 L898.5,263.9 L900,264.9 L901.5,264.1 L903,263.9 L904.5,264.9 L906,263.4 L907.5,264.1 L909,264.8 L910.5,264.6 L912,264.7 L913.5,263.9 L915,263.6 L916.5,264.6 L918,264.2 L919.5,264.6 L921,265 L922.5,263 L924,264.9 L925.5,263 L927,264.1 L928.5,264.6 L930,261.9 L931.5,264.9 L933,264.8 L934.5,264.8 L936,264.4 L937.5,264.4 L939,263.5 L940.5,264.6 L942,264.2 L943.5,264.9 L945,263.2 L946.5,264.6 L948,264.8 L949.5,264.8 L951,264.3 L952.5,264.2 L954,262.5 L955.5,264.3 L957,264.6 L958.5,264.6 L960,264.4 L961.5,264 L963,264.6 L964.5,264 L966,264.4 L967.5,264.7 L969,262.7 L970.5,264.2 L972,263.2 L973.5,263.5 L975,264.6 L976.5,262.7 L978,263.6 L979.5,264.8 L981,261.2 L982.5,264.4 L984,262.8 L985.5,263.1 L987,264 L988.5,263.1 L990,264.4 L991.5,264.6 L993,262.4 L994.5,262.6 L994.5,293.4 L993,294.5 L991.5,293.2 L990,292.7 L988.5,293.6 L987,292.7 L985.5,292.2 L984,292.2 L982.5,293.3 L981,295.5 L979.5,296.5 L978,292.1 L976.5,293.4 L975,298.8 L973.5,293.6 L972,292.9 L970.5,292.9 L969,292.5 L967.5,292.2 L966,293.9 L964.5,295.7 L963,293.6 L961.5,292 L960,292.5 L958.5,294.7 L957,293.1 L955.5,294 L954,293 L952.5,293.6 L951,292.1 L949.5,295 L948,293.1 L946.5,295.4 L945,293.2 L943.5,293.7 L942,293.1 L940.5,292.2 L939,293 L937.5,292.7 L936,293.1 L934.5,292.1 L933,294 L931.5,293.6 L930,293.1 L928.5,292.5 L927,292.2 L925.5,292.1 L924,292.5 L922.5,292.8 L921,292.5 L919.5,293.6 L918,292.3 L916.5,293.3 L915,292.1 L913.5,293.8 L912,292.7 L910.5,292.6 L909,293.1 L907.5,292.8 L906,292.3 L904.5,292.8 L903,292.3 L901.5,292.3 L900,293.2 L898.5,295.8 L897,292.5 L895.5,294.2 L894,295.5 L892.5,295.1 L891,293 L889.5,292.5 L888,293.2 L886.5,293 L885,293.4 L883.5,292.3 L882,292.2 L880.5,293.1 L879,292 L877.5,295.2 L876,293.7 L874.5,292.3 L873,292.4 L871.5,292.2 L870,292.3 L868.5,292.4 L867,293.7 L865.5,295.6 L864,294.2 L862.5,294.4 L861,296.4 L859.5,293.4 L858,293.1 L856.5,293.7 L855,293.3 L853.5,293.7 L852,293.8 L850.5,294.8 L849,292.7 L847.5,292.9 L846,293.1 L844.5,295.3 L843,293 L841.5,294.3 L840,293.7 L838.5,292.6 L837,298.6 L835.5,293.3 L834,293 L832.5,293.2 L831,293.5 L829.5,292.6 L828,293.3 L826.5,293.7 L825,293.7 L823.5,295.7 L822,292.2 L820.5,294.1 L819,292.4 L817.5,293.2 L816,292.5 L814.5,293.3 L813,292.4 L811.5,295 L810,294.6 L808.5,292.1 L807,293.2 L805.5,292.4 L804,292.9 L802.5,293.5 L801,292.2 L799.5,292.3 L798,294.6 L796.5,292.9 L795,292.1 L793.5,292.5 L792,292.4 L790.5,294.1 L789,293 L787.5,293.6 L786,294.4 L784.5,293.5 L783,299 L781.5,293.6 L780,294.6 L778.5,294.1 L777,292.4 L775.5,292.3 L774,293.1 L772.5,293.1 L771,292.6 L769.5,295.3 L768,292.3 L766.5,294.7 L765,292.4 L763.5,292.1 L762,292.1 L760.5,292.7 L759,292.6 L757.5,293 L756,293.4 L754.5,294.7 L753,292.6 L751.5,295 L750,292.6 L748.5,292.6 L747,292.5 L745.5,293.2 L744,292.7 L742.5,292.6 L741,293.5 L739.5,293.4 L738,292.1 L736.5,292.2 L735,292.4 L733.5,292.5 L732,293.6 L730.5,292.9 L729,292.1 L727.5,292 L726,293.6 L724.5,297.9 L723,293.5 L721.5,292.7 L720,292 L718.5,294.4 L717,293.4 L715.5,293.4 L714,299 L712.5,293.3 L711,292.3 L709.5,293.4 L708,293.6 L706.5,293 L705,295.4 L703.5,293.5 L702,292.1 L700.5,293 L699,292.7 L697.5,292.1 L696,293.1 L694.5,293.2 L693,293 L691.5,293.5 L690,294.9 L688.5,294.6 L687,294.8 L685.5,292.5 L684,293.2 L682.5,293.2 L681,295.4 L679.5,292.9 L678,293.8 L676.5,293.3 L675,292.3 L673.5,293.7 L672,292.6 L670.5,292.8 L669,292 L667.5,292.1 L666,292.7 L664.5,292.8 L663,292 L661.5,292.5 L660,293 L658.5,293.1 L657,292.6 L655.5,292.6 L654,293.8 L652.5,293.4 L651,292.5 L649.5,294 L648,292.1 L646.5,293.9 L645,293.7 L643.5,293 L642,293.8 L640.5,294.1 L639,293.8 L637.5,292.3 L636,293.1 L634.5,292.7 L633,293.6 L631.5,292.1 L630,292.2 L628.5,293 L627,293.4 L625.5,295.2 L624,292.8 L622.5,292.7 L621,292.1 L619.5,293.1 L618,292.4 L616.5,296.4 L615,292.3 L613.5,294.1 L612,292.1 L610.5,293.6 L609,294 L607.5,294.3 L606,292.2 L604.5,292.2 L603,293.1 L601.5,292.3 L600,295 L598.5,295.5 L597,293.7 L595.5,293.6 L594,292.3 L592.5,293.6 L591,293 L589.5,292.4 L588,293.5 L586.5,293.3 L585,292 L583.5,293.7 L582,292.2 L580.5,292.2 L579,292.4 L577.5,292.5 L576,292.7 L574.5,293.1 L573,292.7 L571.5,292.2 L570,293.4 L568.5,294.7 L567,292.2 L565.5,292.4 L564,293.2 L562.5,295.1 L561,293.3 L559.5,293.7 L558,293.2 L556.5,292.5 L555,294 L553.5,292.2 L552,292 L550.5,292.4 L549,294.6 L547.5,292.7 L546,293.8 L544.5,292.5 L543,292.1 L541.5,297.1 L540,293.2 L538.5,295.7 L537,292.2 L535.5,292.9 L534,293.4 L532.5,292.7 L531,293.7 L529.5,292.3 L528,294.2 L526.5,293.2 L525,293.8 L523.5,292.9 L522,292.9 L520.5,293.3 L519,292.1 L517.5,292.8 L516,293.2 L514.5,292.7 L513,294.7 L511.5,292.3 L510,292.2 L508.5,292.6 L507,294.2 L505.5,295.2 L504,292.7 L502.5,293.4 L501,293.5 L499.5,292 L498,292.7 L496.5,293.7 L495,293.2 L493.5,293.3 L492,292.7 L490.5,293.5 L489,295.9 L487.5,293.5 L486,292.1 L484.5,293.1 L483,292.8 L481.5,293 L480,292.1 L478.5,293.1 L477,292.1 L475.5,292.4 L474,294.6 L472.5,293.8 L471,292.2 L469.5,294.5 L468,294 L466.5,292.3 L465,292.4 L463.5,292.2 L462,294.2 L460.5,292.6 L459,292.6 L457.5,292.6 L456,293.9 L454.5,292.1 L453,292.9 L451.5,292.2 L450,292.5 L448.5,292.2 L447,293 L445.5,295 L444,293 L442.5,292.7 L441,293.8 L439.5,293.4 L438,293.1 L436.5,294.3 L435,292.3 L433.5,294.4 L432,292.5 L430.5,292.6 L429,293 L427.5,294.2 L426,292.6 L424.5,295.1 L423,293.4 L421.5,292.8 L420,293 L418.5,292.4 L417,293.1 L415.5,294.4 L414,294.1 L412.5,292.9 L411,293 L409.5,292.8 L408,293 L406.5,294.9 L405,294.2 L403.5,292.8 L402,292.1 L400.5,293 L399,294.3 L397.5,292.2 L396,292.4 L394.5,293.4 L393,292.3 L391.5,293.7 L390,293.1 L388.5,292.8 L387,292.4 L385.5,292.1 L384,295.4 L382.5,292.6 L381,293.6 L379.5,292.1 L378,292.7 L376.5,292.1 L375,292.4 L373.5,292.1 L372,292.1 L370.5,294.2 L369,293 L367.5,293.1 L366,294 L364.5,295 L363,294.8 L361.5,292 L360,294.5 L358.5,292.9 L357,292.8 L355.5,292.1 L354,292.5 L352.5,298.9 L351,292.4 L349.5,294.3 L348,292.5 L346.5,295 L345,292.1 L343.5,292.8 L342,293.8 L340.5,293.3 L339,294.7 L337.5,292 L336,295 L334.5,293.7 L333,292.4 L331.5,293.8 L330,295.5 L328.5,292.5 L327,292.9 L325.5,292.5 L324,293.1 L322.5,292.6 L321,294.5 L319.5,292.5 L318,293 L316.5,292.7 L315,292.3 L313.5,293 L312,295 L310.5,293 L309,292.8 L307.5,294.6 L306,294.9 L304.5,292.8 L303,293 L301.5,292.7 L300,293.8 L298.5,292.5 L297,292.4 L295.5,295.1 L294,293.1 L292.5,292.2 L291,293.4 L289.5,295.8 L288,292.6 L286.5,293.6 L285,294.4 L283.5,293.1 L282,292.3 L280.5,292.5 L279,293.1 L277.5,292 L276,293.7 L274.5,293.5 L273,292.5 L271.5,293.3 L270,292.7 L268.5,292.5 L267,292.9 L265.5,292.3 L264,292.2 L262.5,293.1 L261,293 L259.5,294.2 L258,294.5 L256.5,293.2 L255,292.7 L253.5,292.2 L252,293.5 L250.5,292.2 L249,294.3 L247.5,292.3 L246,292.1 L244.5,295 L243,295.4 L241.5,293.8 L240,292.7 L238.5,292.9 L237,293.4 L235.5,292.5 L234,298.7 L232.5,293.4 L231,292.4 L229.5,293 L228,293.1 L226.5,292.3 L225,293.3 L223.5,293.4 L222,293.6 L220.5,292.4 L219,293.5 L217.5,292.7 L216,292.7 L214.5,292.7 L213,293.6 L211.5,294.3 L210,293 L208.5,292.5 L207,293.4 L205.5,294.3 L204,293.6 L202.5,293.2 L201,292.3 L199.5,292.3 L198,293.4 L196.5,294.2 L195,292 L193.5,294 L192,292.3 L190.5,292.1 L189,296.6 L187.5,294.9 L186,293.4 L184.5,292.1 L183,292.8 L181.5,293.2 L180,292.5 L178.5,292.5 L177,293.7 L175.5,294.6 L174,293 L172.5,292.8 L171,292.2 L169.5,296.1 L168,293.1 L166.5,292 L165,292.9 L163.5,292.6 L162,293.3 L160.5,292.5 L159,295.4 L157.5,293.3 L156,292.9 L154.5,292.5 L153,294.5 L151.5,292.5 L150,292.1 L148.5,292.9 L147,299.9 L145.5,293.5 L144,292.5 L142.5,292.5 L141,292.6 L139.5,293.6 L138,292.9 L136.5,293.1 L135,292.1 L133.5,293.2 L132,293.5 L130.5,292.2 L129,292.6 L127.5,292.6 L126,293 L124.5,293.9 L123,292.4 L121.5,292.2Z" fill="#4464ae" stroke="#4464ae" stroke-width="0.6"/>
<path d="M124.5 269V158M130 269V166M125.5 269V207.5M165 269V214M201.5 269V161M209 269V170M212.5 269V194M225.5 269V156.5M236.5 269V160.5M248.5 269V151.5M279 269V208M315 269V165.5M337.5 269V214M349.5 269V193.5M364 269V159.5M392.5 269V176M397.5 269V166.5M405 269V166.5M425.5 269V153M447 269V168.5M470.5 269V168.5M474 269V204.5M477 269V214M489 269V215.5M503.5 269V212.5M510 269V213M542 269V155M551.5 269V150.5M555 269V216.5M584 269V161M624 269V212M628.5 269V151M634.5 269V165M657 269V151M663 269V216.5M693 269V168.5M698.5 269V213.5M703.5 269V179M726 269V193.5M733.5 269V185.5M746.5 269V150M752 269V156M764 269V154M783.5 269V212M794.5 269V152M814 269V155M830.5 269V165.5M843 269V209.5M887.5 269V189.5M903 269V196.5M919 269V183.5M924 269V174M950 269V157.5M956 269V155.5M960.5 269V211.5M992.5 269V179" stroke="#4464ae" stroke-width="1.7" fill="none"/>
<path d="M1098.5,256.2 L1100,257.2 L1101.5,255.4 L1103,255.4 L1104.5,256 L1106,256.5 L1107.5,254.1 L1109,257.4 L1110.5,256.5 L1112,256.3 L1113.5,254.8 L1115,256.8 L1116.5,255.7 L1118,256.9 L1119.5,255.4 L1121,256.8 L1122.5,256.3 L1124,256 L1125.5,257.3 L1127,255.8 L1128.5,256.9 L1130,256.4 L1131.5,257.1 L1133,257.3 L1134.5,255.8 L1136,256.4 L1137.5,255.2 L1139,256.9 L1140.5,256.2 L1142,256.8 L1143.5,256 L1145,256.7 L1146.5,256.1 L1148,256.1 L1149.5,255.9 L1151,254.3 L1152.5,256 L1154,256.4 L1155.5,257 L1157,255.4 L1158.5,255.5 L1160,255.8 L1161.5,257 L1163,256.9 L1164.5,254.1 L1166,256.4 L1167.5,255.7 L1169,255.9 L1170.5,256.5 L1172,257.4 L1173.5,255.2 L1175,254.7 L1176.5,256.2 L1178,257.1 L1179.5,257.2 L1181,255.4 L1182.5,256.8 L1184,256 L1185.5,256.4 L1187,255.8 L1188.5,256.4 L1190,257 L1191.5,254.7 L1193,257 L1194.5,257.3 L1196,254.1 L1197.5,257 L1199,256.3 L1200.5,256.4 L1202,255.7 L1203.5,255.8 L1205,255.7 L1206.5,256.6 L1208,256.6 L1209.5,257.2 L1211,257.5 L1212.5,256 L1214,256.6 L1215.5,254.4 L1217,256.9 L1218.5,256.9 L1220,257.1 L1221.5,257 L1223,255.7 L1224.5,256.6 L1226,257.2 L1227.5,256.5 L1229,255.4 L1230.5,255.7 L1232,257 L1233.5,256.1 L1235,257.4 L1236.5,255.9 L1238,256 L1239.5,255.2 L1241,257.1 L1242.5,255.9 L1244,256 L1245.5,257 L1247,255.8 L1248.5,257.5 L1250,255.7 L1251.5,256.2 L1253,256.4 L1254.5,256.7 L1256,256.9 L1257.5,257.2 L1259,257.2 L1260.5,256 L1262,256.7 L1263.5,254.9 L1265,257.3 L1266.5,256 L1268,257.4 L1269.5,257.1 L1271,254.5 L1272.5,257 L1274,255.6 L1275.5,256.4 L1277,257 L1278.5,254.3 L1280,257.2 L1281.5,256.1 L1283,256 L1284.5,257 L1286,256.5 L1287.5,254.8 L1289,256.5 L1290.5,256.6 L1292,257 L1293.5,256 L1295,257.5 L1296.5,257.1 L1298,254 L1299.5,256.6 L1301,256.7 L1302.5,256.8 L1304,255.5 L1305.5,255.3 L1307,257.1 L1308.5,256 L1310,255.4 L1311.5,256.7 L1313,256.3 L1314.5,257.1 L1316,257.4 L1317.5,257.4 L1319,257.5 L1320.5,255.8 L1322,257.3 L1323.5,257.3 L1325,257.1 L1326.5,257 L1328,256.2 L1329.5,256.7 L1331,257.4 L1332.5,256.7 L1334,257.3 L1335.5,256.6 L1337,254.5 L1338.5,255.5 L1340,256.8 L1341.5,257.4 L1343,254.2 L1344.5,257 L1346,257.4 L1347.5,257 L1349,257 L1350.5,255.4 L1352,257.5 L1353.5,254.4 L1355,256.2 L1356.5,256.5 L1358,256 L1359.5,254.8 L1361,257 L1362.5,257.4 L1364,256.1 L1365.5,255.6 L1367,255.8 L1368.5,257 L1370,255.4 L1371.5,257.3 L1373,257.3 L1374.5,257 L1376,256.5 L1377.5,256.9 L1379,256.4 L1380.5,256.7 L1382,255.2 L1383.5,254.6 L1385,257.3 L1386.5,256.9 L1388,256.8 L1389.5,256.1 L1391,257.3 L1392.5,255.9 L1394,256.5 L1395.5,257.4 L1397,257.3 L1398.5,256.9 L1400,257.1 L1401.5,255.2 L1403,256.6 L1404.5,257.1 L1406,257.3 L1407.5,256 L1409,255.7 L1410.5,255.9 L1412,256.3 L1413.5,255.2 L1415,255.4 L1416.5,256.4 L1418,255.7 L1419.5,256.5 L1421,256.8 L1422.5,255.1 L1424,257.5 L1425.5,255.6 L1427,255.7 L1428.5,256.1 L1430,256.5 L1431.5,257.4 L1433,256.6 L1434.5,256.3 L1436,257 L1437.5,257.4 L1439,256.3 L1440.5,254.9 L1442,256.5 L1443.5,255.8 L1445,257.5 L1446.5,256.4 L1448,256.8 L1449.5,254.8 L1451,255.4 L1452.5,256.7 L1454,257.4 L1455.5,255.6 L1457,257.1 L1458.5,257.3 L1460,253.4 L1461.5,257.4 L1463,254.4 L1464.5,256.5 L1466,257.3 L1467.5,255.6 L1469,256.2 L1470.5,257 L1472,257 L1473.5,257.3 L1475,256.2 L1476.5,256.3 L1478,256.7 L1479.5,256.8 L1481,255.4 L1482.5,256.3 L1484,256.5 L1485.5,255.1 L1487,257.4 L1488.5,256.4 L1490,256.9 L1491.5,257.1 L1493,255.8 L1494.5,255.5 L1496,255.8 L1497.5,257.1 L1499,254.9 L1500.5,255.9 L1502,256 L1503.5,254.9 L1505,257.1 L1506.5,255.6 L1508,256.6 L1509.5,257.2 L1511,257.5 L1512.5,256.9 L1514,255.2 L1515.5,256.1 L1517,255.5 L1518.5,255.8 L1520,255.5 L1521.5,257 L1523,256.5 L1524.5,253.9 L1526,256.3 L1527.5,257.3 L1529,256.8 L1530.5,254.3 L1532,257.3 L1533.5,256.4 L1535,257.3 L1536.5,255.9 L1538,256.4 L1539.5,256.9 L1541,256.7 L1542.5,256.8 L1544,255 L1545.5,256.2 L1547,256.3 L1548.5,256.7 L1550,256.8 L1551.5,255.3 L1553,257.5 L1554.5,254.7 L1556,256.1 L1557.5,257.1 L1559,255.4 L1560.5,257 L1562,256.7 L1563.5,255.3 L1565,256.5 L1566.5,257.5 L1568,257 L1569.5,256.4 L1571,255.7 L1572.5,257.4 L1574,254.9 L1575.5,257.3 L1577,257.5 L1578.5,256.5 L1580,256 L1581.5,255.4 L1583,254.7 L1584.5,255.5 L1586,255.2 L1587.5,256.6 L1589,257 L1590.5,255.8 L1592,255.9 L1593.5,254.9 L1595,256.1 L1596.5,257.1 L1598,255.9 L1599.5,257 L1601,254.5 L1602.5,256.6 L1604,256.7 L1605.5,255.6 L1607,254.4 L1608.5,256.4 L1610,254.2 L1611.5,257.3 L1613,257.3 L1614.5,254.6 L1616,257 L1617.5,257.5 L1619,256.6 L1620.5,255.1 L1622,257.4 L1623.5,255.9 L1625,256.7 L1626.5,257.1 L1628,257.4 L1629.5,257.5 L1631,256.1 L1632.5,255.7 L1634,255.4 L1635.5,255.7 L1637,256.1 L1638.5,257.4 L1640,256.4 L1641.5,257.2 L1643,256.8 L1644.5,256.4 L1646,257.1 L1647.5,256 L1649,256.7 L1650.5,257.1 L1652,255.1 L1653.5,256.4 L1655,257.3 L1656.5,256.9 L1658,255.8 L1659.5,256.5 L1661,253.3 L1662.5,257.4 L1664,255.3 L1665.5,255.9 L1667,253.8 L1668.5,256.7 L1670,257.4 L1671.5,257.1 L1673,257 L1674.5,256.5 L1676,255.6 L1677.5,256 L1679,255.1 L1680.5,256.1 L1682,257.1 L1683.5,255.8 L1685,256.4 L1686.5,256.1 L1688,256.4 L1689.5,256.8 L1691,257.4 L1692.5,255.8 L1694,255.6 L1695.5,256.8 L1697,256.6 L1698.5,256.7 L1700,256.8 L1701.5,255.2 L1703,256.8 L1704.5,256.2 L1706,256.7 L1707.5,254.8 L1709,254.7 L1710.5,255.6 L1712,257.1 L1713.5,257.1 L1715,256 L1716.5,254.7 L1718,256.9 L1719.5,256.5 L1721,256.8 L1722.5,255.3 L1724,255.4 L1725.5,257.1 L1727,257.1 L1728.5,256.4 L1730,256.3 L1731.5,255.8 L1733,256.7 L1734.5,257.5 L1736,257.2 L1737.5,255.4 L1739,257.1 L1740.5,256.2 L1742,257.3 L1743.5,254.7 L1745,256.6 L1746.5,257 L1748,255.1 L1749.5,255.4 L1751,255 L1752.5,256.4 L1754,256.4 L1755.5,257.4 L1757,256.6 L1758.5,257.4 L1760,255.4 L1761.5,256.5 L1763,257 L1764.5,256.3 L1766,256.2 L1767.5,256 L1769,255.8 L1770.5,255.4 L1772,255.4 L1773.5,256.8 L1775,253.6 L1776.5,256 L1778,256.1 L1779.5,257.1 L1781,255.8 L1782.5,257.1 L1784,257.2 L1785.5,256.5 L1787,254.6 L1788.5,254.6 L1790,256.9 L1791.5,257 L1793,256.6 L1794.5,257.3 L1796,256.2 L1797.5,257.3 L1799,256.9 L1800.5,256.5 L1802,254.5 L1803.5,255.3 L1805,254.1 L1806.5,256 L1808,256 L1809.5,255.4 L1811,257.3 L1812.5,256.3 L1814,256.6 L1815.5,256 L1817,256.3 L1818.5,257.3 L1820,254.6 L1821.5,257.3 L1823,257.4 L1824.5,256.4 L1826,256.4 L1827.5,254.7 L1829,255.7 L1830.5,255.9 L1832,256.3 L1833.5,255.7 L1835,254.3 L1836.5,257 L1838,256.4 L1839.5,256.9 L1841,255.9 L1842.5,256.1 L1844,255.3 L1845.5,255.4 L1847,257.4 L1848.5,256.5 L1850,256.4 L1851.5,255.2 L1853,255.9 L1854.5,255.7 L1856,256.9 L1857.5,256.3 L1859,257.3 L1860.5,257.2 L1862,256 L1863.5,255.1 L1865,256.1 L1866.5,255.3 L1868,254.6 L1869.5,256.5 L1871,255.7 L1872.5,256.7 L1874,257.4 L1875.5,257.1 L1877,255.9 L1878.5,256 L1880,257.4 L1881.5,257 L1883,255.9 L1884.5,256.9 L1886,257.1 L1887.5,256 L1889,257.5 L1890.5,257 L1892,257.3 L1893.5,257.2 L1895,256.5 L1896.5,256.9 L1898,256.4 L1899.5,256.5 L1901,255.6 L1902.5,255 L1904,256.9 L1905.5,256.9 L1907,257.2 L1908.5,256.8 L1910,256.7 L1911.5,256.3 L1913,257.2 L1914.5,255.8 L1916,255.5 L1917.5,256 L1919,256.6 L1920.5,256.3 L1922,256.4 L1923.5,255.8 L1925,257.2 L1926.5,256.3 L1928,256.9 L1929.5,256.4 L1931,257.2 L1932.5,257.2 L1934,257.4 L1935.5,256.7 L1937,252 L1938.5,257.4 L1940,254.7 L1941.5,257.1 L1943,255.8 L1944.5,257.1 L1946,256.9 L1947.5,257.2 L1949,257.3 L1950.5,256.7 L1952,256.6 L1953.5,256.1 L1955,255.7 L1956.5,257.5 L1958,256.1 L1959.5,257.1 L1961,257.4 L1962.5,257.2 L1964,256.8 L1965.5,256.3 L1967,257.1 L1968.5,256.5 L1970,256.3 L1971.5,255 L1973,257.1 L1974.5,257.1 L1976,255.3 L1977.5,255.9 L1977.5,289.3 L1976,289.8 L1974.5,288.6 L1973,290 L1971.5,289.6 L1970,289.9 L1968.5,289.6 L1967,288.6 L1965.5,289.5 L1964,289.7 L1962.5,288.6 L1961,290.8 L1959.5,289 L1958,290.2 L1956.5,290.5 L1955,288.7 L1953.5,289 L1952,290.2 L1950.5,290 L1949,288.9 L1947.5,290.2 L1946,289.7 L1944.5,289.8 L1943,289 L1941.5,288.8 L1940,289.9 L1938.5,290.8 L1937,290.7 L1935.5,292.4 L1934,292.4 L1932.5,291 L1931,289.5 L1929.5,289.5 L1928,292.6 L1926.5,290.8 L1925,289.4 L1923.5,291 L1922,289.6 L1920.5,289.6 L1919,289.3 L1917.5,294.7 L1916,288.8 L1914.5,288.6 L1913,288.6 L1911.5,289.2 L1910,288.7 L1908.5,289.6 L1907,289.4 L1905.5,289.8 L1904,289 L1902.5,291.2 L1901,289.4 L1899.5,288.9 L1898,288.8 L1896.5,290 L1895,289.7 L1893.5,289.5 L1892,291.3 L1890.5,290.3 L1889,291.9 L1887.5,289.5 L1886,290.1 L1884.5,289.3 L1883,288.6 L1881.5,290 L1880,290.7 L1878.5,288.5 L1877,288.9 L1875.5,291.1 L1874,289.7 L1872.5,289 L1871,289.3 L1869.5,289 L1868,288.9 L1866.5,289 L1865,290 L1863.5,289.5 L1862,292.4 L1860.5,289.1 L1859,289.6 L1857.5,288.8 L1856,290.6 L1854.5,289.6 L1853,290.4 L1851.5,291.5 L1850,288.5 L1848.5,288.9 L1847,290.1 L1845.5,289.4 L1844,290.2 L1842.5,288.8 L1841,288.6 L1839.5,290.3 L1838,290.5 L1836.5,289.7 L1835,289.1 L1833.5,289.8 L1832,289.6 L1830.5,289.6 L1829,291 L1827.5,289.2 L1826,290 L1824.5,289.8 L1823,289.7 L1821.5,292.5 L1820,289.5 L1818.5,288.6 L1817,289.9 L1815.5,288.7 L1814,293.3 L1812.5,288.7 L1811,289.4 L1809.5,288.7 L1808,290 L1806.5,290.7 L1805,292.4 L1803.5,290.2 L1802,290.8 L1800.5,289.7 L1799,289.6 L1797.5,289.5 L1796,290 L1794.5,288.6 L1793,294.2 L1791.5,290 L1790,290 L1788.5,289.8 L1787,289.6 L1785.5,289.2 L1784,290.2 L1782.5,289.6 L1781,290.9 L1779.5,288.9 L1778,288.8 L1776.5,290.4 L1775,291.1 L1773.5,289.2 L1772,290.1 L1770.5,290.1 L1769,290.1 L1767.5,289.6 L1766,289.7 L1764.5,290.1 L1763,289.6 L1761.5,290.4 L1760,288.8 L1758.5,288.6 L1757,289.4 L1755.5,288.8 L1754,288.9 L1752.5,293.5 L1751,291.5 L1749.5,289.7 L1748,290.7 L1746.5,290.6 L1745,290.2 L1743.5,289.5 L1742,291.3 L1740.5,288.6 L1739,290 L1737.5,288.8 L1736,289.2 L1734.5,289.5 L1733,288.7 L1731.5,292.1 L1730,290.2 L1728.5,290.4 L1727,288.9 L1725.5,289.5 L1724,289.9 L1722.5,289.3 L1721,291.7 L1719.5,290 L1718,288.8 L1716.5,288.8 L1715,289.3 L1713.5,289 L1712,292.5 L1710.5,289.2 L1709,290.3 L1707.5,290.8 L1706,289.4 L1704.5,288.6 L1703,289.2 L1701.5,290.5 L1700,289.4 L1698.5,289 L1697,290.8 L1695.5,289.3 L1694,290.2 L1692.5,289 L1691,289.3 L1689.5,290.5 L1688,291 L1686.5,290 L1685,289.1 L1683.5,289.3 L1682,290.9 L1680.5,291.2 L1679,289.4 L1677.5,289.1 L1676,288.7 L1674.5,289.7 L1673,290.3 L1671.5,290.4 L1670,289.5 L1668.5,288.7 L1667,290.5 L1665.5,290.3 L1664,289.4 L1662.5,290.1 L1661,291.5 L1659.5,289.4 L1658,291.4 L1656.5,290 L1655,289.2 L1653.5,289.8 L1652,289.2 L1650.5,288.9 L1649,290.1 L1647.5,289.9 L1646,289.2 L1644.5,288.6 L1643,289.6 L1641.5,289.7 L1640,291.3 L1638.5,289.1 L1637,290.2 L1635.5,288.8 L1634,290.3 L1632.5,291.9 L1631,290.7 L1629.5,289.5 L1628,289 L1626.5,290.1 L1625,290 L1623.5,288.6 L1622,289.2 L1620.5,290.5 L1619,290.6 L1617.5,290 L1616,288.8 L1614.5,289.5 L1613,290.1 L1611.5,289.3 L1610,290.1 L1608.5,289.5 L1607,289.8 L1605.5,289.6 L1604,289.7 L1602.5,293.2 L1601,289.7 L1599.5,288.9 L1598,289.3 L1596.5,289.7 L1595,290.3 L1593.5,289.3 L1592,290.9 L1590.5,289.4 L1589,289.9 L1587.5,289.8 L1586,288.7 L1584.5,289.3 L1583,291.8 L1581.5,289.3 L1580,290.3 L1578.5,289.6 L1577,289.3 L1575.5,290.1 L1574,289.1 L1572.5,289.3 L1571,289.5 L1569.5,290.8 L1568,289.5 L1566.5,288.7 L1565,288.8 L1563.5,289.3 L1562,290.7 L1560.5,290.6 L1559,290.6 L1557.5,290 L1556,290.3 L1554.5,288.9 L1553,291.2 L1551.5,294.8 L1550,289.6 L1548.5,289 L1547,292.4 L1545.5,290.7 L1544,289.8 L1542.5,289.7 L1541,289.8 L1539.5,289.4 L1538,291.7 L1536.5,289.2 L1535,288.9 L1533.5,290.8 L1532,290.3 L1530.5,297.1 L1529,288.9 L1527.5,289.1 L1526,288.6 L1524.5,290.6 L1523,289.1 L1521.5,289.1 L1520,288.6 L1518.5,288.8 L1517,290.2 L1515.5,288.7 L1514,288.7 L1512.5,290.4 L1511,289.8 L1509.5,288.7 L1508,289.1 L1506.5,289.4 L1505,289.1 L1503.5,290.2 L1502,290 L1500.5,290.2 L1499,296.2 L1497.5,289.7 L1496,288.7 L1494.5,289 L1493,290.3 L1491.5,289.5 L1490,289.4 L1488.5,288.8 L1487,290.8 L1485.5,291.2 L1484,290.2 L1482.5,290.9 L1481,289.1 L1479.5,292.4 L1478,289.7 L1476.5,288.8 L1475,289 L1473.5,290.5 L1472,289.1 L1470.5,290.1 L1469,289 L1467.5,289.6 L1466,289.9 L1464.5,288.6 L1463,291 L1461.5,294 L1460,289.7 L1458.5,289.7 L1457,290 L1455.5,293 L1454,289 L1452.5,289.1 L1451,290.5 L1449.5,290.3 L1448,288.9 L1446.5,292.1 L1445,288.9 L1443.5,289.8 L1442,289.1 L1440.5,288.6 L1439,290.9 L1437.5,288.9 L1436,290.7 L1434.5,290.8 L1433,288.7 L1431.5,289.2 L1430,289.6 L1428.5,288.7 L1427,289 L1425.5,288.9 L1424,290.2 L1422.5,289.4 L1421,289.6 L1419.5,289.9 L1418,289.7 L1416.5,288.7 L1415,289.6 L1413.5,289.7 L1412,288.7 L1410.5,290.5 L1409,288.5 L1407.5,289.2 L1406,290.1 L1404.5,289.9 L1403,288.8 L1401.5,290.1 L1400,289.4 L1398.5,289.2 L1397,289.2 L1395.5,290.2 L1394,288.6 L1392.5,289.3 L1391,289.2 L1389.5,290.5 L1388,290.8 L1386.5,289 L1385,289.4 L1383.5,289 L1382,291.5 L1380.5,291.2 L1379,289.3 L1377.5,289.6 L1376,289.4 L1374.5,289.3 L1373,290.2 L1371.5,288.8 L1370,289.2 L1368.5,292 L1367,289.4 L1365.5,290.3 L1364,291.4 L1362.5,291 L1361,289.1 L1359.5,291.7 L1358,289.1 L1356.5,289 L1355,288.6 L1353.5,291.9 L1352,290.1 L1350.5,291.4 L1349,289.1 L1347.5,289.3 L1346,290.9 L1344.5,289.2 L1343,291.7 L1341.5,289.8 L1340,288.8 L1338.5,290.3 L1337,288.7 L1335.5,290.5 L1334,291.6 L1332.5,288.5 L1331,290.4 L1329.5,288.7 L1328,289.8 L1326.5,292.6 L1325,289.9 L1323.5,290 L1322,289.3 L1320.5,288.6 L1319,288.7 L1317.5,289.2 L1316,290.2 L1314.5,289.2 L1313,289.6 L1311.5,288.5 L1310,288.5 L1308.5,288.6 L1307,289.9 L1305.5,289.4 L1304,288.5 L1302.5,289.3 L1301,289.7 L1299.5,291.3 L1298,289.1 L1296.5,288.6 L1295,289.4 L1293.5,290.1 L1292,290.7 L1290.5,288.6 L1289,289.6 L1287.5,289.7 L1286,289.4 L1284.5,295.4 L1283,289.9 L1281.5,289.1 L1280,289.2 L1278.5,290.1 L1277,290.3 L1275.5,291.3 L1274,291 L1272.5,288.6 L1271,289.8 L1269.5,289.5 L1268,291 L1266.5,294.3 L1265,288.6 L1263.5,291.5 L1262,289.5 L1260.5,291.7 L1259,289.7 L1257.5,288.8 L1256,289 L1254.5,288.8 L1253,288.9 L1251.5,288.7 L1250,290.1 L1248.5,291 L1247,290 L1245.5,290.3 L1244,288.9 L1242.5,289.6 L1241,291.5 L1239.5,289.7 L1238,288.8 L1236.5,290.5 L1235,288.6 L1233.5,289.3 L1232,288.7 L1230.5,288.8 L1229,289.7 L1227.5,288.9 L1226,290.6 L1224.5,289.6 L1223,288.7 L1221.5,292.3 L1220,289.1 L1218.5,289 L1217,289 L1215.5,292.2 L1214,289.3 L1212.5,289.7 L1211,288.9 L1209.5,289 L1208,288.8 L1206.5,290.1 L1205,289.2 L1203.5,288.6 L1202,289.4 L1200.5,288.5 L1199,295.4 L1197.5,289 L1196,289.1 L1194.5,289.1 L1193,288.9 L1191.5,289.6 L1190,290.3 L1188.5,289.7 L1187,289.3 L1185.5,289.9 L1184,291 L1182.5,289.1 L1181,289.5 L1179.5,290.1 L1178,289.9 L1176.5,290.7 L1175,289.1 L1173.5,288.9 L1172,288.9 L1170.5,289.7 L1169,289.2 L1167.5,288.7 L1166,288.9 L1164.5,288.9 L1163,289.8 L1161.5,289.1 L1160,289.3 L1158.5,288.8 L1157,288.6 L1155.5,288.9 L1154,288.8 L1152.5,290.3 L1151,289.6 L1149.5,290.4 L1148,290.9 L1146.5,290.6 L1145,289.2 L1143.5,290.1 L1142,290.7 L1140.5,289.5 L1139,288.8 L1137.5,289.4 L1136,289.4 L1134.5,290 L1133,288.8 L1131.5,289.4 L1130,293.7 L1128.5,289.8 L1127,289.4 L1125.5,289.8 L1124,292.7 L1122.5,290.2 L1121,289.8 L1119.5,290.7 L1118,289 L1116.5,290.7 L1115,290.3 L1113.5,288.9 L1112,289.1 L1110.5,289.1 L1109,297.3 L1107.5,290.6 L1106,288.8 L1104.5,289.3 L1103,289.1 L1101.5,292 L1100,289.1 L1098.5,289.3Z" fill="#d8922c" stroke="#d8922c" stroke-width="0.6"/>
<path d="M1102 261.5V209M1108 261.5V181.5M1109.5 261.5V195M1111 261.5V215M1113.5 261.5V181M1122 261.5V207M1132 261.5V166M1153.5 261.5V164M1176.5 261.5V207.5M1187 261.5V244M1233 261.5V207M1244 261.5V170M1247 261.5V113M1248.5 261.5V209M1261 261.5V194M1285 261.5V170.5M1300 261.5V168M1305.5 261.5V118.5M1306 261.5V163M1325 261.5V204.5M1328.5 261.5V0M1338.5 261.5V206M1341.5 261.5V161M1346.5 261.5V180.5M1374.5 261.5V210M1381.5 261.5V206M1385 261.5V199M1391 261.5V172.5M1393.5 261.5V210M1396.5 261.5V146.5M1398.5 261.5V163.5M1408 261.5V242M1414.5 261.5V247M1420 261.5V179M1425.5 261.5V204M1431 261.5V205M1445 261.5V176M1447 261.5V162.5M1472.5 261.5V206.5M1483 261.5V7M1483.5 261.5V171.5M1539 261.5V118.5M1555 261.5V164.5M1558.5 261.5V167.5M1572 261.5V187.5M1583 261.5V168M1587 261.5V207M1606 261.5V37.5M1607 261.5V169M1663.5 261.5V202M1665.5 261.5V165M1692.5 261.5V209M1705 261.5V251M1715 261.5V211M1755 261.5V163M1761 261.5V225M1764 261.5V118M1776 261.5V215.5M1786.5 261.5V208.5M1793 261.5V207.5M1810 261.5V160M1813.5 261.5V157.5M1817 261.5V155M1824.5 261.5V242.5M1848 261.5V208.5M1857.5 261.5V207.5M1861 261.5V157.5M1867.5 261.5V182M1869 261.5V207.5M1887 261.5V166.5M1891 261.5V208M1895 261.5V85M1904.5 261.5V205.5M1911 261.5V248.5M1932 261.5V168M1937 261.5V161M1941.5 261.5V208M1944 261.5V170.5M1946 261.5V172M1954.5 261.5V149" stroke="#d8922c" stroke-width="1.7" fill="none"/>
<defs>
<linearGradient id="mgL" x1="0" x2="1" y1="0" y2="0"><stop offset="0" stop-color="#55b4e6"/><stop offset="1" stop-color="#8fa2d8"/></linearGradient>
<linearGradient id="mgR" x1="0" x2="1" y1="0" y2="0"><stop offset="0" stop-color="#b3e1f7"/><stop offset="1" stop-color="#55b4e6"/></linearGradient>
<linearGradient id="mgL2" x1="0" x2="1" y1="0" y2="0"><stop offset="0" stop-color="#55b4e6"/><stop offset="1" stop-color="#b3e1f7"/></linearGradient>
<linearGradient id="arr" x1="0" x2="1" y1="0" y2="0"><stop offset="0" stop-color="#fff"/><stop offset="0.25" stop-color="#c8c8ca"/><stop offset="0.55" stop-color="#8e8e91"/><stop offset="0.85" stop-color="#4a494b"/><stop offset="1" stop-color="#231f20"/></linearGradient>
<pattern id="hatch" width="3.6" height="4" patternUnits="userSpaceOnUse" patternTransform="rotate(20)"><rect width="3.6" height="4" fill="#fff"/><rect width="1.7" height="4" fill="#98aadf"/></pattern>
</defs>
<rect x="94.2" y="492" width="38.4" height="11.8" rx="3" fill="url(#mgL)" stroke="#6d6e71" stroke-width="1.6"/>
<rect x="170" y="492" width="38.7" height="11.8" rx="3" fill="url(#mgR)" stroke="#6d6e71" stroke-width="1.6"/>
<path d="M116.5 520V552" stroke="#58595b" stroke-width="1.6"/>
<path d="M109.5 552L123.5 552L116.5 568.3Z" fill="#58595b"/>
<path d="M161,424 L159.9,424.3 L158.8,424.4 L157.8,424.4 L157,424.4 L156.2,424.5 L155.6,424.6 L155.1,424.8 L154.7,425.2 L154.5,425.8 L154.4,426.6 L154.4,427.6 L154.5,428.7 L154.8,429.9 L155.2,431.1 L155.7,432.3 L156.3,433.5 L157,434.6 L157.8,435.5 L158.6,436.3 L159.3,437 L160,437.5 L160.6,438 L161.1,438.4 L161.4,438.9 L161.6,439.4 L161.5,440 L161.2,440.6 L160.7,441.4 L160,442.1 L159.1,442.9 L158.1,443.7 L157,444.5 L155.9,445.1 L154.7,445.6 L153.6,446 L152.4,446.3 L151.4,446.6 L150.5,446.7 L149.6,446.8 L148.9,447 L148.3,447.3 L147.9,447.7 L147.6,448.2 L147.5,448.9 L147.6,449.8 L147.8,450.8 L148.2,451.9 L148.7,453.1 L149.3,454.3 L150.1,455.4 L150.9,456.4 L151.8,457.2 L152.7,458 L153.6,458.5 L154.5,459 L155.3,459.4 L155.9,459.7 L156.4,460.1 L156.8,460.5 L156.9,461 L156.9,461.6 L156.6,462.4 L156.2,463.2 L155.6,464.2 L154.9,465.1 L154,466.1 L153,467 L152,467.8 L151,468.5 L149.9,469.1 L148.9,469.5 L147.9,469.8 L147,470.1 L146.3,470.3 L145.7,470.6 L145.2,471 L144.9,471.4 L144.8,472 L144.8,472.8 L145,473.7 L145.4,474.7 L146,475.7 L146.7,476.8 L147.5,477.9 L148.4,478.8 L149.3,479.7 L150.3,480.4 L151.3,481 L152.3,481.5 L153.1,481.8 L153.9,482.1 L154.5,482.4 L155,482.7 L155.3,483.1 L155.5,483.7 L155.5,484.3 L155.2,485.1 L154.8,486 L154.3,487.1 L153.6,488.1 L152.8,489.1 L151.9,490.1 L150.9,491 L149.9,491.7 L148.9,492.3 L148,492.8 L147.1,493.2 L146.3,493.6 L145.6,493.9 L145,494.2 L144.7,494.7 L144.5,495.2 L144.5,495.8 L144.6,496.6 L145,497.5 L145.6,498.5 L146.3,499.5 L147.1,500.5 L148,501.5 L149.1,502.3 L150.1,503 L151.2,503.6 L152.2,504 L153.1,504.3 L154,504.6 L154.8,504.8 L155.4,505 L155.9,505.4 L156.2,505.8 L156.3,506.4 L156.3,507.1 L156.1,507.9 L155.7,508.9 L155.2,510 L154.6,511.1 L153.8,512.2 L153,513.2 L152.2,514.1 L151.3,515 L150.3,515.7 L149.5,516.2 L148.6,516.7 L147.9,517.1 L147.3,517.5 L146.9,518 L146.6,518.5 L146.6,519 L146.7,519.7 L147.1,520.5 L147.6,521.4 L148.3,522.3 L149.2,523.2 L150.2,524.1 L151.3,524.8 L152.4,525.5 L153.5,526.1 L154.6,526.5 L155.6,526.7 L156.6,526.9 L157.5,527.1 L158.2,527.3 L158.8,527.5 L159.3,527.8 L159.6,528.3 L159.7,529 L159.7,529.8 L159.5,530.8 L159.2,531.8 L158.7,533 L158.1,534.1 L157.3,535.3 L156.5,536.3 L155.6,537.2 L154.6,537.9 L153.7,538.5 L152.8,539 L152,539.3 L151.3,539.6 L150.7,539.9 L150.3,540.3 L150,540.8 L150,541.3 L150.1,542 L150.4,542.9 L150.9,543.8 L151.6,544.8 L152.3,545.8 L153.2,546.8 L154.2,547.7 L155.2,548.5 L156.2,549.1 L157.2,549.7 L158.2,550.1 L159.1,550.5 L159.8,550.8 L160.5,551.1 L161,551.4 L161.3,551.9 L161.5,552.4 L161.4,553.1 L161.2,554 L160.8,554.9 L160.2,555.9 L159.5,556.9 L158.7,558 L157.8,558.9 L156.8,559.8 L155.7,560.5 L154.7,561 L153.7,561.5 L152.8,561.8 L152,562.1 L151.3,562.3 L150.7,562.6 L150.3,563 L150.1,563.5 L150,564.2 L150.2,565 L150.5,565.9 L151,566.9 L151.6,568 L152.3,569 L153.2,570 L154.1,570.9 L155.1,571.7 L156.1,572.4 L157.1,572.9 L158,573.4 L158.9,573.7 L159.6,574 L160.2,574.3 L160.6,574.7 L160.9,575.2 L161,575.8 L160.8,576.6 L160.5,577.4 L160.1,578.4 L159.4,579.4 L158.6,580.4 L157.7,581.4 L156.8,582.3 L155.7,583 L154.7,583.7 L153.7,584.2 L152.7,584.6 L151.8,584.9 L151,585.1 L150.3,585.4 L149.8,585.7 L149.5,586.1 L149.3,586.6 L149.3,587.3 L149.5,588.2 L149.8,589.1 L150.3,590.2 L151,591.2 L151.7,592.3 L152.6,593.3 L153.5,594.2 L154.5,595 L154.5,595 L155.5,594.4 L156.5,594 L157.5,593.7 L158.3,593.5 L159,593.2 L159.6,592.9 L160,592.5 L160.2,592.1 L160.3,591.4 L160.1,590.6 L159.9,589.7 L159.4,588.7 L158.8,587.6 L158.1,586.5 L157.2,585.5 L156.3,584.6 L155.4,583.7 L154.4,583 L153.4,582.5 L152.5,582.1 L151.7,581.7 L150.9,581.4 L150.3,581.1 L149.9,580.7 L149.7,580.2 L149.6,579.7 L149.7,578.9 L150,578.1 L150.5,577.1 L151.1,576.1 L151.9,575.1 L152.8,574.1 L153.8,573.2 L154.8,572.4 L155.8,571.8 L156.8,571.2 L157.8,570.8 L158.7,570.5 L159.5,570.2 L160.1,570 L160.6,569.7 L160.9,569.2 L161.1,568.7 L161.1,568 L160.9,567.2 L160.5,566.2 L160,565.2 L159.4,564.2 L158.6,563.1 L157.7,562.1 L156.7,561.2 L155.7,560.5 L154.7,559.8 L153.8,559.4 L152.9,559 L152.1,558.7 L151.4,558.4 L150.8,558.1 L150.5,557.7 L150.3,557.2 L150.2,556.5 L150.4,555.8 L150.7,554.9 L151.3,553.9 L151.9,552.9 L152.7,551.8 L153.6,550.9 L154.5,550 L155.5,549.2 L156.5,548.5 L157.5,548 L158.4,547.6 L159.3,547.2 L160,546.9 L160.6,546.6 L161.1,546.2 L161.3,545.7 L161.4,545 L161.3,544.3 L161,543.4 L160.5,542.4 L159.8,541.4 L159,540.4 L158.1,539.4 L157.1,538.6 L156,537.8 L154.9,537.3 L153.8,536.8 L152.8,536.5 L151.9,536.3 L151.1,536.2 L150.5,536 L149.9,535.8 L149.6,535.4 L149.3,534.9 L149.3,534.3 L149.4,533.4 L149.6,532.5 L150,531.4 L150.5,530.2 L151.1,529.1 L151.8,528 L152.6,527 L153.5,526.1 L154.4,525.3 L155.3,524.7 L156.1,524.1 L156.8,523.7 L157.5,523.3 L158,522.9 L158.3,522.4 L158.4,521.9 L158.3,521.3 L158,520.6 L157.5,519.7 L156.9,518.9 L156.1,518 L155.1,517.1 L154.1,516.2 L153,515.5 L151.9,514.9 L150.8,514.4 L149.8,514 L148.8,513.7 L147.9,513.5 L147.1,513.3 L146.5,513 L146,512.7 L145.7,512.2 L145.5,511.6 L145.5,510.8 L145.7,509.9 L146.1,508.9 L146.6,507.8 L147.3,506.7 L148,505.7 L148.9,504.6 L149.8,503.8 L150.8,503 L151.7,502.4 L152.7,501.9 L153.5,501.5 L154.3,501.2 L154.9,500.9 L155.4,500.5 L155.7,500.1 L155.8,499.6 L155.8,498.9 L155.5,498.1 L155.1,497.2 L154.5,496.2 L153.8,495.2 L152.9,494.2 L152,493.3 L151,492.4 L149.9,491.7 L148.9,491.1 L147.9,490.7 L147,490.3 L146.2,490 L145.5,489.7 L144.9,489.4 L144.5,489 L144.3,488.5 L144.3,487.8 L144.4,487 L144.8,486.1 L145.3,485.1 L145.9,484.1 L146.7,483 L147.6,482.1 L148.6,481.2 L149.6,480.4 L150.7,479.8 L151.7,479.3 L152.6,479 L153.5,478.7 L154.2,478.5 L154.9,478.2 L155.3,477.9 L155.6,477.4 L155.7,476.9 L155.7,476.1 L155.4,475.3 L155,474.3 L154.5,473.2 L153.8,472.2 L153,471.1 L152.2,470.1 L151.2,469.2 L150.3,468.5 L149.3,467.8 L148.4,467.3 L147.6,466.9 L146.8,466.5 L146.2,466.2 L145.7,465.8 L145.4,465.3 L145.3,464.7 L145.4,464 L145.7,463.2 L146.2,462.3 L146.9,461.3 L147.7,460.4 L148.6,459.4 L149.6,458.6 L150.7,457.8 L151.8,457.2 L152.9,456.8 L153.9,456.5 L154.9,456.3 L155.7,456.1 L156.4,456 L157,455.8 L157.5,455.5 L157.7,455 L157.9,454.4 L157.8,453.7 L157.7,452.8 L157.3,451.7 L156.9,450.6 L156.4,449.5 L155.7,448.3 L155,447.2 L154.2,446.2 L153.4,445.4 L152.6,444.6 L151.8,444 L151,443.4 L150.4,442.9 L149.9,442.5 L149.6,442 L149.4,441.4 L149.5,440.8 L149.8,440.1 L150.3,439.3 L151.1,438.5 L151.9,437.7 L153,436.9 L154.1,436.2 L155.3,435.6 L156.5,435.1 L157.7,434.8 L158.8,434.6 L159.8,434.5 L160.8,434.5 L161.6,434.5 L162.3,434.4 L162.9,434.3 L163.3,434 L163.6,433.5 L163.8,432.8 L163.9,432 L163.9,431 L163.7,429.8 L163.4,428.6 L162.9,427.4 L162.4,426.1 L161.7,425 L161,424Z" fill="url(#hatch)"/>
<path d="M161,424 L159.9,424.3 L158.8,424.4 L157.8,424.4 L157,424.4 L156.2,424.5 L155.6,424.6 L155.1,424.8 L154.7,425.2 L154.5,425.8 L154.4,426.6 L154.4,427.6 L154.5,428.7 L154.8,429.9 L155.2,431.1 L155.7,432.3 L156.3,433.5 L157,434.6 L157.8,435.5 L158.6,436.3 L159.3,437 L160,437.5 L160.6,438 L161.1,438.4 L161.4,438.9 L161.6,439.4 L161.5,440 L161.2,440.6 L160.7,441.4 L160,442.1 L159.1,442.9 L158.1,443.7 L157,444.5 L155.9,445.1 L154.7,445.6 L153.6,446 L152.4,446.3 L151.4,446.6 L150.5,446.7 L149.6,446.8 L148.9,447 L148.3,447.3 L147.9,447.7 L147.6,448.2 L147.5,448.9 L147.6,449.8 L147.8,450.8 L148.2,451.9 L148.7,453.1 L149.3,454.3 L150.1,455.4 L150.9,456.4 L151.8,457.2 L152.7,458 L153.6,458.5 L154.5,459 L155.3,459.4 L155.9,459.7 L156.4,460.1 L156.8,460.5 L156.9,461 L156.9,461.6 L156.6,462.4 L156.2,463.2 L155.6,464.2 L154.9,465.1 L154,466.1 L153,467 L152,467.8 L151,468.5 L149.9,469.1 L148.9,469.5 L147.9,469.8 L147,470.1 L146.3,470.3 L145.7,470.6 L145.2,471 L144.9,471.4 L144.8,472 L144.8,472.8 L145,473.7 L145.4,474.7 L146,475.7 L146.7,476.8 L147.5,477.9 L148.4,478.8 L149.3,479.7 L150.3,480.4 L151.3,481 L152.3,481.5 L153.1,481.8 L153.9,482.1 L154.5,482.4 L155,482.7 L155.3,483.1 L155.5,483.7 L155.5,484.3 L155.2,485.1 L154.8,486 L154.3,487.1 L153.6,488.1 L152.8,489.1 L151.9,490.1 L150.9,491 L149.9,491.7 L148.9,492.3 L148,492.8 L147.1,493.2 L146.3,493.6 L145.6,493.9 L145,494.2 L144.7,494.7 L144.5,495.2 L144.5,495.8 L144.6,496.6 L145,497.5 L145.6,498.5 L146.3,499.5 L147.1,500.5 L148,501.5 L149.1,502.3 L150.1,503 L151.2,503.6 L152.2,504 L153.1,504.3 L154,504.6 L154.8,504.8 L155.4,505 L155.9,505.4 L156.2,505.8 L156.3,506.4 L156.3,507.1 L156.1,507.9 L155.7,508.9 L155.2,510 L154.6,511.1 L153.8,512.2 L153,513.2 L152.2,514.1 L151.3,515 L150.3,515.7 L149.5,516.2 L148.6,516.7 L147.9,517.1 L147.3,517.5 L146.9,518 L146.6,518.5 L146.6,519 L146.7,519.7 L147.1,520.5 L147.6,521.4 L148.3,522.3 L149.2,523.2 L150.2,524.1 L151.3,524.8 L152.4,525.5 L153.5,526.1 L154.6,526.5 L155.6,526.7 L156.6,526.9 L157.5,527.1 L158.2,527.3 L158.8,527.5 L159.3,527.8 L159.6,528.3 L159.7,529 L159.7,529.8 L159.5,530.8 L159.2,531.8 L158.7,533 L158.1,534.1 L157.3,535.3 L156.5,536.3 L155.6,537.2 L154.6,537.9 L153.7,538.5 L152.8,539 L152,539.3 L151.3,539.6 L150.7,539.9 L150.3,540.3 L150,540.8 L150,541.3 L150.1,542 L150.4,542.9 L150.9,543.8 L151.6,544.8 L152.3,545.8 L153.2,546.8 L154.2,547.7 L155.2,548.5 L156.2,549.1 L157.2,549.7 L158.2,550.1 L159.1,550.5 L159.8,550.8 L160.5,551.1 L161,551.4 L161.3,551.9 L161.5,552.4 L161.4,553.1 L161.2,554 L160.8,554.9 L160.2,555.9 L159.5,556.9 L158.7,558 L157.8,558.9 L156.8,559.8 L155.7,560.5 L154.7,561 L153.7,561.5 L152.8,561.8 L152,562.1 L151.3,562.3 L150.7,562.6 L150.3,563 L150.1,563.5 L150,564.2 L150.2,565 L150.5,565.9 L151,566.9 L151.6,568 L152.3,569 L153.2,570 L154.1,570.9 L155.1,571.7 L156.1,572.4 L157.1,572.9 L158,573.4 L158.9,573.7 L159.6,574 L160.2,574.3 L160.6,574.7 L160.9,575.2 L161,575.8 L160.8,576.6 L160.5,577.4 L160.1,578.4 L159.4,579.4 L158.6,580.4 L157.7,581.4 L156.8,582.3 L155.7,583 L154.7,583.7 L153.7,584.2 L152.7,584.6 L151.8,584.9 L151,585.1 L150.3,585.4 L149.8,585.7 L149.5,586.1 L149.3,586.6 L149.3,587.3 L149.5,588.2 L149.8,589.1 L150.3,590.2 L151,591.2 L151.7,592.3 L152.6,593.3 L153.5,594.2 L154.5,595" fill="none" stroke="#7089cf" stroke-width="1.9" stroke-linecap="round"/>
<path d="M161,424 L161.7,425 L162.4,426.1 L162.9,427.4 L163.4,428.6 L163.7,429.8 L163.9,431 L163.9,432 L163.8,432.8 L163.6,433.5 L163.3,434 L162.9,434.3 L162.3,434.4 L161.6,434.5 L160.8,434.5 L159.8,434.5 L158.8,434.6 L157.7,434.8 L156.5,435.1 L155.3,435.6 L154.1,436.2 L153,436.9 L151.9,437.7 L151.1,438.5 L150.3,439.3 L149.8,440.1 L149.5,440.8 L149.4,441.4 L149.6,442 L149.9,442.5 L150.4,442.9 L151,443.4 L151.8,444 L152.6,444.6 L153.4,445.4 L154.2,446.2 L155,447.2 L155.7,448.3 L156.4,449.5 L156.9,450.6 L157.3,451.7 L157.7,452.8 L157.8,453.7 L157.9,454.4 L157.7,455 L157.5,455.5 L157,455.8 L156.4,456 L155.7,456.1 L154.9,456.3 L153.9,456.5 L152.9,456.8 L151.8,457.2 L150.7,457.8 L149.6,458.6 L148.6,459.4 L147.7,460.4 L146.9,461.3 L146.2,462.3 L145.7,463.2 L145.4,464 L145.3,464.7 L145.4,465.3 L145.7,465.8 L146.2,466.2 L146.8,466.5 L147.6,466.9 L148.4,467.3 L149.3,467.8 L150.3,468.5 L151.2,469.2 L152.2,470.1 L153,471.1 L153.8,472.2 L154.5,473.2 L155,474.3 L155.4,475.3 L155.7,476.1 L155.7,476.9 L155.6,477.4 L155.3,477.9 L154.9,478.2 L154.2,478.5 L153.5,478.7 L152.6,479 L151.7,479.3 L150.7,479.8 L149.6,480.4 L148.6,481.2 L147.6,482.1 L146.7,483 L145.9,484.1 L145.3,485.1 L144.8,486.1 L144.4,487 L144.3,487.8 L144.3,488.5 L144.5,489 L144.9,489.4 L145.5,489.7 L146.2,490 L147,490.3 L147.9,490.7 L148.9,491.1 L149.9,491.7 L151,492.4 L152,493.3 L152.9,494.2 L153.8,495.2 L154.5,496.2 L155.1,497.2 L155.5,498.1 L155.8,498.9 L155.8,499.6 L155.7,500.1 L155.4,500.5 L154.9,500.9 L154.3,501.2 L153.5,501.5 L152.7,501.9 L151.7,502.4 L150.8,503 L149.8,503.8 L148.9,504.6 L148,505.7 L147.3,506.7 L146.6,507.8 L146.1,508.9 L145.7,509.9 L145.5,510.8 L145.5,511.6 L145.7,512.2 L146,512.7 L146.5,513 L147.1,513.3 L147.9,513.5 L148.8,513.7 L149.8,514 L150.8,514.4 L151.9,514.9 L153,515.5 L154.1,516.2 L155.1,517.1 L156.1,518 L156.9,518.9 L157.5,519.7 L158,520.6 L158.3,521.3 L158.4,521.9 L158.3,522.4 L158,522.9 L157.5,523.3 L156.8,523.7 L156.1,524.1 L155.3,524.7 L154.4,525.3 L153.5,526.1 L152.6,527 L151.8,528 L151.1,529.1 L150.5,530.2 L150,531.4 L149.6,532.5 L149.4,533.4 L149.3,534.3 L149.3,534.9 L149.6,535.4 L149.9,535.8 L150.5,536 L151.1,536.2 L151.9,536.3 L152.8,536.5 L153.8,536.8 L154.9,537.3 L156,537.8 L157.1,538.6 L158.1,539.4 L159,540.4 L159.8,541.4 L160.5,542.4 L161,543.4 L161.3,544.3 L161.4,545 L161.3,545.7 L161.1,546.2 L160.6,546.6 L160,546.9 L159.3,547.2 L158.4,547.6 L157.5,548 L156.5,548.5 L155.5,549.2 L154.5,550 L153.6,550.9 L152.7,551.8 L151.9,552.9 L151.3,553.9 L150.7,554.9 L150.4,555.8 L150.2,556.5 L150.3,557.2 L150.5,557.7 L150.8,558.1 L151.4,558.4 L152.1,558.7 L152.9,559 L153.8,559.4 L154.7,559.8 L155.7,560.5 L156.7,561.2 L157.7,562.1 L158.6,563.1 L159.4,564.2 L160,565.2 L160.5,566.2 L160.9,567.2 L161.1,568 L161.1,568.7 L160.9,569.2 L160.6,569.7 L160.1,570 L159.5,570.2 L158.7,570.5 L157.8,570.8 L156.8,571.2 L155.8,571.8 L154.8,572.4 L153.8,573.2 L152.8,574.1 L151.9,575.1 L151.1,576.1 L150.5,577.1 L150,578.1 L149.7,578.9 L149.6,579.7 L149.7,580.2 L149.9,580.7 L150.3,581.1 L150.9,581.4 L151.7,581.7 L152.5,582.1 L153.4,582.5 L154.4,583 L155.4,583.7 L156.3,584.6 L157.2,585.5 L158.1,586.5 L158.8,587.6 L159.4,588.7 L159.9,589.7 L160.1,590.6 L160.3,591.4 L160.2,592.1 L160,592.5 L159.6,592.9 L159,593.2 L158.3,593.5 L157.5,593.7 L156.5,594 L155.5,594.4 L154.5,595" fill="none" stroke="#7089cf" stroke-width="1.9" stroke-linecap="round"/>
<rect x="1019.7" y="495.1" width="37.2" height="10.4" rx="3" fill="url(#mgL2)" stroke="#6d6e71" stroke-width="1.6"/>
<rect x="1095.1" y="495.1" width="37.6" height="10.4" rx="3" fill="url(#mgR)" stroke="#6d6e71" stroke-width="1.6"/>
<path d="M1042.2 521.8V554.8" stroke="#58595b" stroke-width="1.6"/>
<path d="M1035.4 554.8L1049 554.8L1042.2 569.8Z" fill="#58595b"/>
<path d="M1086,426 L1084.9,426.3 L1083.8,426.5 L1082.8,426.6 L1081.9,426.6 L1081.2,426.7 L1080.6,426.8 L1080.1,427.1 L1079.8,427.6 L1079.6,428.2 L1079.6,429.1 L1079.7,430.1 L1079.9,431.2 L1080.3,432.4 L1080.9,433.7 L1081.5,434.9 L1082.2,436 L1083,436.9 L1083.9,437.8 L1084.7,438.4 L1085.5,439 L1086.3,439.5 L1086.9,439.9 L1087.3,440.3 L1087.5,440.8 L1087.6,441.3 L1087.4,442 L1087,442.7 L1086.4,443.5 L1085.6,444.3 L1084.7,445.2 L1083.7,446 L1082.5,446.8 L1081.4,447.4 L1080.2,447.9 L1079.1,448.3 L1078.1,448.5 L1077.1,448.7 L1076.2,448.9 L1075.5,449.1 L1074.9,449.3 L1074.5,449.7 L1074.3,450.3 L1074.2,451 L1074.3,451.8 L1074.6,452.8 L1075,453.9 L1075.6,455.1 L1076.3,456.2 L1077.1,457.3 L1078,458.3 L1078.9,459.1 L1079.8,459.8 L1080.8,460.4 L1081.6,460.8 L1082.4,461.2 L1083,461.5 L1083.5,461.9 L1083.8,462.3 L1083.9,462.9 L1083.7,463.5 L1083.4,464.3 L1082.9,465.2 L1082.2,466.2 L1081.4,467.2 L1080.5,468.1 L1079.4,469 L1078.4,469.7 L1077.3,470.4 L1076.2,470.8 L1075.2,471.2 L1074.3,471.5 L1073.4,471.7 L1072.8,471.9 L1072.2,472.3 L1071.9,472.7 L1071.7,473.3 L1071.7,474 L1071.9,474.9 L1072.3,475.9 L1072.9,476.9 L1073.5,478 L1074.4,479.1 L1075.3,480.1 L1076.3,481 L1077.3,481.7 L1078.3,482.2 L1079.3,482.7 L1080.2,483 L1081,483.3 L1081.6,483.5 L1082.1,483.9 L1082.4,484.3 L1082.5,484.8 L1082.4,485.5 L1082.2,486.4 L1081.7,487.3 L1081.1,488.4 L1080.4,489.4 L1079.6,490.5 L1078.6,491.4 L1077.6,492.3 L1076.6,493 L1075.6,493.6 L1074.7,494 L1073.8,494.4 L1073,494.7 L1072.4,495 L1071.9,495.4 L1071.7,495.9 L1071.6,496.5 L1071.7,497.2 L1072,498.1 L1072.5,499 L1073.2,500 L1074,501.1 L1074.9,502 L1076,502.9 L1077,503.7 L1078.1,504.3 L1079.2,504.7 L1080.2,505.1 L1081.1,505.3 L1081.8,505.5 L1082.5,505.8 L1083,506.1 L1083.3,506.5 L1083.4,507.1 L1083.4,507.8 L1083.1,508.7 L1082.7,509.7 L1082.2,510.8 L1081.5,511.9 L1080.7,513 L1079.8,514 L1078.9,514.9 L1077.9,515.6 L1077,516.3 L1076.1,516.8 L1075.2,517.2 L1074.5,517.5 L1073.9,517.9 L1073.5,518.3 L1073.3,518.8 L1073.3,519.5 L1073.5,520.2 L1073.9,521 L1074.5,522 L1075.3,522.9 L1076.2,523.9 L1077.2,524.8 L1078.2,525.5 L1079.4,526.2 L1080.5,526.7 L1081.5,527.1 L1082.5,527.4 L1083.4,527.6 L1084.2,527.8 L1084.9,528 L1085.3,528.4 L1085.7,528.8 L1085.8,529.4 L1085.8,530.2 L1085.6,531.2 L1085.2,532.2 L1084.6,533.3 L1083.9,534.5 L1083.1,535.6 L1082.2,536.6 L1081.2,537.4 L1080.2,538.1 L1079.2,538.6 L1078.3,539.1 L1077.5,539.4 L1076.7,539.6 L1076.1,539.9 L1075.7,540.3 L1075.5,540.7 L1075.5,541.3 L1075.6,542.1 L1075.9,542.9 L1076.4,543.9 L1077.1,545 L1077.9,546 L1078.7,547 L1079.7,547.9 L1080.7,548.7 L1081.7,549.4 L1082.7,549.9 L1083.7,550.3 L1084.5,550.7 L1085.2,551 L1085.8,551.3 L1086.2,551.7 L1086.4,552.2 L1086.4,552.9 L1086.3,553.7 L1085.9,554.6 L1085.3,555.5 L1084.6,556.6 L1083.7,557.6 L1082.8,558.5 L1081.7,559.4 L1080.7,560.1 L1079.6,560.6 L1078.6,561.1 L1077.6,561.4 L1076.7,561.6 L1076,561.9 L1075.4,562.1 L1075,562.5 L1074.7,563 L1074.7,563.7 L1074.8,564.5 L1075.1,565.4 L1075.6,566.4 L1076.2,567.5 L1077,568.6 L1077.8,569.7 L1078.8,570.6 L1079.8,571.4 L1080.8,572 L1081.8,572.5 L1082.8,572.9 L1083.6,573.2 L1084.3,573.5 L1084.9,573.8 L1085.2,574.2 L1085.4,574.7 L1085.4,575.4 L1085.3,576.2 L1084.9,577.1 L1084.3,578.1 L1083.6,579.1 L1082.8,580.1 L1081.8,581.1 L1080.8,582 L1079.8,582.7 L1078.7,583.3 L1077.7,583.7 L1076.8,584.1 L1075.9,584.3 L1075.2,584.6 L1074.7,584.9 L1074.3,585.3 L1074.1,585.8 L1074.1,586.5 L1074.2,587.3 L1074.6,588.2 L1075.1,589.2 L1075.8,590.3 L1076.6,591.4 L1077.5,592.4 L1078.5,593.2 L1079.5,594 L1079.5,594 L1080.5,593.4 L1081.6,593 L1082.5,592.7 L1083.3,592.4 L1084,592.1 L1084.6,591.8 L1084.9,591.4 L1085.1,590.9 L1085.1,590.2 L1085,589.4 L1084.6,588.5 L1084.1,587.4 L1083.4,586.4 L1082.6,585.3 L1081.6,584.3 L1080.7,583.4 L1079.6,582.7 L1078.6,582.1 L1077.6,581.6 L1076.7,581.2 L1075.9,580.9 L1075.2,580.6 L1074.7,580.3 L1074.4,579.9 L1074.2,579.3 L1074.2,578.7 L1074.5,577.8 L1074.9,576.9 L1075.5,575.9 L1076.2,574.9 L1077.1,573.8 L1078,572.9 L1079,572.1 L1080.1,571.4 L1081.1,570.8 L1082.1,570.4 L1083.1,570.1 L1083.9,569.9 L1084.6,569.6 L1085.1,569.3 L1085.5,568.9 L1085.6,568.4 L1085.6,567.7 L1085.4,566.9 L1085.1,565.9 L1084.6,564.9 L1083.9,563.8 L1083.1,562.7 L1082.2,561.7 L1081.3,560.8 L1080.3,560 L1079.3,559.4 L1078.3,558.9 L1077.4,558.6 L1076.6,558.2 L1076,557.9 L1075.5,557.6 L1075.2,557.1 L1075.1,556.6 L1075.1,555.9 L1075.4,555.1 L1075.9,554.1 L1076.5,553.2 L1077.3,552.1 L1078.2,551.1 L1079.2,550.2 L1080.2,549.4 L1081.3,548.8 L1082.3,548.2 L1083.3,547.8 L1084.2,547.5 L1085,547.2 L1085.7,546.9 L1086.2,546.6 L1086.5,546.1 L1086.7,545.5 L1086.6,544.8 L1086.4,543.9 L1085.9,542.9 L1085.3,541.9 L1084.6,540.8 L1083.7,539.8 L1082.7,538.9 L1081.6,538.1 L1080.5,537.5 L1079.5,537 L1078.5,536.6 L1077.6,536.4 L1076.8,536.2 L1076.1,536 L1075.6,535.7 L1075.3,535.3 L1075.1,534.8 L1075.1,534.1 L1075.3,533.2 L1075.6,532.2 L1076.1,531.1 L1076.7,530 L1077.5,528.9 L1078.3,527.9 L1079.2,526.9 L1080.2,526.1 L1081.1,525.5 L1082,524.9 L1082.9,524.5 L1083.6,524.1 L1084.2,523.8 L1084.7,523.4 L1084.9,522.9 L1084.9,522.3 L1084.8,521.6 L1084.4,520.8 L1083.8,519.9 L1083.1,518.9 L1082.2,518 L1081.2,517.1 L1080.1,516.2 L1079,515.6 L1077.9,515 L1076.9,514.6 L1075.9,514.2 L1075,514 L1074.2,513.8 L1073.5,513.5 L1073,513.2 L1072.7,512.7 L1072.5,512.1 L1072.6,511.4 L1072.8,510.5 L1073.2,509.5 L1073.8,508.4 L1074.5,507.3 L1075.3,506.2 L1076.2,505.2 L1077.1,504.4 L1078.1,503.6 L1079.1,503 L1080.1,502.6 L1080.9,502.2 L1081.7,501.9 L1082.3,501.6 L1082.7,501.2 L1082.9,500.8 L1083,500.2 L1082.8,499.4 L1082.5,498.6 L1082,497.6 L1081.3,496.6 L1080.5,495.6 L1079.5,494.6 L1078.5,493.8 L1077.5,493 L1076.4,492.4 L1075.4,491.9 L1074.4,491.5 L1073.5,491.2 L1072.8,491 L1072.1,490.7 L1071.7,490.3 L1071.4,489.8 L1071.3,489.2 L1071.4,488.4 L1071.7,487.5 L1072.2,486.5 L1072.9,485.4 L1073.7,484.4 L1074.6,483.4 L1075.6,482.4 L1076.6,481.7 L1077.7,481.1 L1078.7,480.6 L1079.7,480.3 L1080.5,480 L1081.3,479.8 L1081.9,479.5 L1082.3,479.2 L1082.6,478.7 L1082.7,478.1 L1082.6,477.4 L1082.3,476.5 L1081.8,475.5 L1081.3,474.4 L1080.5,473.3 L1079.7,472.2 L1078.8,471.3 L1077.8,470.4 L1076.8,469.7 L1075.9,469.1 L1075,468.7 L1074.1,468.3 L1073.4,467.9 L1072.9,467.6 L1072.5,467.1 L1072.3,466.6 L1072.3,466 L1072.5,465.2 L1073,464.3 L1073.6,463.3 L1074.3,462.4 L1075.3,461.4 L1076.3,460.5 L1077.4,459.7 L1078.5,459.1 L1079.6,458.6 L1080.6,458.3 L1081.6,458 L1082.5,457.8 L1083.3,457.7 L1083.9,457.5 L1084.3,457.2 L1084.6,456.7 L1084.7,456.1 L1084.7,455.3 L1084.4,454.4 L1084.1,453.3 L1083.6,452.2 L1082.9,451 L1082.2,449.9 L1081.4,448.9 L1080.5,448 L1079.6,447.1 L1078.7,446.5 L1077.9,445.9 L1077.1,445.4 L1076.5,445 L1076,444.5 L1075.7,444 L1075.6,443.5 L1075.7,442.8 L1076.1,442.1 L1076.6,441.2 L1077.4,440.4 L1078.3,439.5 L1079.4,438.7 L1080.5,438 L1081.7,437.3 L1082.9,436.9 L1084.1,436.6 L1085.2,436.4 L1086.1,436.3 L1087,436.2 L1087.8,436.2 L1088.4,436 L1088.9,435.8 L1089.2,435.3 L1089.4,434.7 L1089.4,433.9 L1089.3,432.9 L1089.1,431.7 L1088.7,430.5 L1088.2,429.3 L1087.5,428.1 L1086.8,427 L1086,426Z" fill="url(#hatch)"/>
<path d="M1086,426 L1084.9,426.3 L1083.8,426.5 L1082.8,426.6 L1081.9,426.6 L1081.2,426.7 L1080.6,426.8 L1080.1,427.1 L1079.8,427.6 L1079.6,428.2 L1079.6,429.1 L1079.7,430.1 L1079.9,431.2 L1080.3,432.4 L1080.9,433.7 L1081.5,434.9 L1082.2,436 L1083,436.9 L1083.9,437.8 L1084.7,438.4 L1085.5,439 L1086.3,439.5 L1086.9,439.9 L1087.3,440.3 L1087.5,440.8 L1087.6,441.3 L1087.4,442 L1087,442.7 L1086.4,443.5 L1085.6,444.3 L1084.7,445.2 L1083.7,446 L1082.5,446.8 L1081.4,447.4 L1080.2,447.9 L1079.1,448.3 L1078.1,448.5 L1077.1,448.7 L1076.2,448.9 L1075.5,449.1 L1074.9,449.3 L1074.5,449.7 L1074.3,450.3 L1074.2,451 L1074.3,451.8 L1074.6,452.8 L1075,453.9 L1075.6,455.1 L1076.3,456.2 L1077.1,457.3 L1078,458.3 L1078.9,459.1 L1079.8,459.8 L1080.8,460.4 L1081.6,460.8 L1082.4,461.2 L1083,461.5 L1083.5,461.9 L1083.8,462.3 L1083.9,462.9 L1083.7,463.5 L1083.4,464.3 L1082.9,465.2 L1082.2,466.2 L1081.4,467.2 L1080.5,468.1 L1079.4,469 L1078.4,469.7 L1077.3,470.4 L1076.2,470.8 L1075.2,471.2 L1074.3,471.5 L1073.4,471.7 L1072.8,471.9 L1072.2,472.3 L1071.9,472.7 L1071.7,473.3 L1071.7,474 L1071.9,474.9 L1072.3,475.9 L1072.9,476.9 L1073.5,478 L1074.4,479.1 L1075.3,480.1 L1076.3,481 L1077.3,481.7 L1078.3,482.2 L1079.3,482.7 L1080.2,483 L1081,483.3 L1081.6,483.5 L1082.1,483.9 L1082.4,484.3 L1082.5,484.8 L1082.4,485.5 L1082.2,486.4 L1081.7,487.3 L1081.1,488.4 L1080.4,489.4 L1079.6,490.5 L1078.6,491.4 L1077.6,492.3 L1076.6,493 L1075.6,493.6 L1074.7,494 L1073.8,494.4 L1073,494.7 L1072.4,495 L1071.9,495.4 L1071.7,495.9 L1071.6,496.5 L1071.7,497.2 L1072,498.1 L1072.5,499 L1073.2,500 L1074,501.1 L1074.9,502 L1076,502.9 L1077,503.7 L1078.1,504.3 L1079.2,504.7 L1080.2,505.1 L1081.1,505.3 L1081.8,505.5 L1082.5,505.8 L1083,506.1 L1083.3,506.5 L1083.4,507.1 L1083.4,507.8 L1083.1,508.7 L1082.7,509.7 L1082.2,510.8 L1081.5,511.9 L1080.7,513 L1079.8,514 L1078.9,514.9 L1077.9,515.6 L1077,516.3 L1076.1,516.8 L1075.2,517.2 L1074.5,517.5 L1073.9,517.9 L1073.5,518.3 L1073.3,518.8 L1073.3,519.5 L1073.5,520.2 L1073.9,521 L1074.5,522 L1075.3,522.9 L1076.2,523.9 L1077.2,524.8 L1078.2,525.5 L1079.4,526.2 L1080.5,526.7 L1081.5,527.1 L1082.5,527.4 L1083.4,527.6 L1084.2,527.8 L1084.9,528 L1085.3,528.4 L1085.7,528.8 L1085.8,529.4 L1085.8,530.2 L1085.6,531.2 L1085.2,532.2 L1084.6,533.3 L1083.9,534.5 L1083.1,535.6 L1082.2,536.6 L1081.2,537.4 L1080.2,538.1 L1079.2,538.6 L1078.3,539.1 L1077.5,539.4 L1076.7,539.6 L1076.1,539.9 L1075.7,540.3 L1075.5,540.7 L1075.5,541.3 L1075.6,542.1 L1075.9,542.9 L1076.4,543.9 L1077.1,545 L1077.9,546 L1078.7,547 L1079.7,547.9 L1080.7,548.7 L1081.7,549.4 L1082.7,549.9 L1083.7,550.3 L1084.5,550.7 L1085.2,551 L1085.8,551.3 L1086.2,551.7 L1086.4,552.2 L1086.4,552.9 L1086.3,553.7 L1085.9,554.6 L1085.3,555.5 L1084.6,556.6 L1083.7,557.6 L1082.8,558.5 L1081.7,559.4 L1080.7,560.1 L1079.6,560.6 L1078.6,561.1 L1077.6,561.4 L1076.7,561.6 L1076,561.9 L1075.4,562.1 L1075,562.5 L1074.7,563 L1074.7,563.7 L1074.8,564.5 L1075.1,565.4 L1075.6,566.4 L1076.2,567.5 L1077,568.6 L1077.8,569.7 L1078.8,570.6 L1079.8,571.4 L1080.8,572 L1081.8,572.5 L1082.8,572.9 L1083.6,573.2 L1084.3,573.5 L1084.9,573.8 L1085.2,574.2 L1085.4,574.7 L1085.4,575.4 L1085.3,576.2 L1084.9,577.1 L1084.3,578.1 L1083.6,579.1 L1082.8,580.1 L1081.8,581.1 L1080.8,582 L1079.8,582.7 L1078.7,583.3 L1077.7,583.7 L1076.8,584.1 L1075.9,584.3 L1075.2,584.6 L1074.7,584.9 L1074.3,585.3 L1074.1,585.8 L1074.1,586.5 L1074.2,587.3 L1074.6,588.2 L1075.1,589.2 L1075.8,590.3 L1076.6,591.4 L1077.5,592.4 L1078.5,593.2 L1079.5,594" fill="none" stroke="#7089cf" stroke-width="1.9" stroke-linecap="round"/>
<path d="M1086,426 L1086.8,427 L1087.5,428.1 L1088.2,429.3 L1088.7,430.5 L1089.1,431.7 L1089.3,432.9 L1089.4,433.9 L1089.4,434.7 L1089.2,435.3 L1088.9,435.8 L1088.4,436 L1087.8,436.2 L1087,436.2 L1086.1,436.3 L1085.2,436.4 L1084.1,436.6 L1082.9,436.9 L1081.7,437.3 L1080.5,438 L1079.4,438.7 L1078.3,439.5 L1077.4,440.4 L1076.6,441.2 L1076.1,442.1 L1075.7,442.8 L1075.6,443.5 L1075.7,444 L1076,444.5 L1076.5,445 L1077.1,445.4 L1077.9,445.9 L1078.7,446.5 L1079.6,447.1 L1080.5,448 L1081.4,448.9 L1082.2,449.9 L1082.9,451 L1083.6,452.2 L1084.1,453.3 L1084.4,454.4 L1084.7,455.3 L1084.7,456.1 L1084.6,456.7 L1084.3,457.2 L1083.9,457.5 L1083.3,457.7 L1082.5,457.8 L1081.6,458 L1080.6,458.3 L1079.6,458.6 L1078.5,459.1 L1077.4,459.7 L1076.3,460.5 L1075.3,461.4 L1074.3,462.4 L1073.6,463.3 L1073,464.3 L1072.5,465.2 L1072.3,466 L1072.3,466.6 L1072.5,467.1 L1072.9,467.6 L1073.4,467.9 L1074.1,468.3 L1075,468.7 L1075.9,469.1 L1076.8,469.7 L1077.8,470.4 L1078.8,471.3 L1079.7,472.2 L1080.5,473.3 L1081.3,474.4 L1081.8,475.5 L1082.3,476.5 L1082.6,477.4 L1082.7,478.1 L1082.6,478.7 L1082.3,479.2 L1081.9,479.5 L1081.3,479.8 L1080.5,480 L1079.7,480.3 L1078.7,480.6 L1077.7,481.1 L1076.6,481.7 L1075.6,482.4 L1074.6,483.4 L1073.7,484.4 L1072.9,485.4 L1072.2,486.5 L1071.7,487.5 L1071.4,488.4 L1071.3,489.2 L1071.4,489.8 L1071.7,490.3 L1072.1,490.7 L1072.8,491 L1073.5,491.2 L1074.4,491.5 L1075.4,491.9 L1076.4,492.4 L1077.5,493 L1078.5,493.8 L1079.5,494.6 L1080.5,495.6 L1081.3,496.6 L1082,497.6 L1082.5,498.6 L1082.8,499.4 L1083,500.2 L1082.9,500.8 L1082.7,501.2 L1082.3,501.6 L1081.7,501.9 L1080.9,502.2 L1080.1,502.6 L1079.1,503 L1078.1,503.6 L1077.1,504.4 L1076.2,505.2 L1075.3,506.2 L1074.5,507.3 L1073.8,508.4 L1073.2,509.5 L1072.8,510.5 L1072.6,511.4 L1072.5,512.1 L1072.7,512.7 L1073,513.2 L1073.5,513.5 L1074.2,513.8 L1075,514 L1075.9,514.2 L1076.9,514.6 L1077.9,515 L1079,515.6 L1080.1,516.2 L1081.2,517.1 L1082.2,518 L1083.1,518.9 L1083.8,519.9 L1084.4,520.8 L1084.8,521.6 L1084.9,522.3 L1084.9,522.9 L1084.7,523.4 L1084.2,523.8 L1083.6,524.1 L1082.9,524.5 L1082,524.9 L1081.1,525.5 L1080.2,526.1 L1079.2,526.9 L1078.3,527.9 L1077.5,528.9 L1076.7,530 L1076.1,531.1 L1075.6,532.2 L1075.3,533.2 L1075.1,534.1 L1075.1,534.8 L1075.3,535.3 L1075.6,535.7 L1076.1,536 L1076.8,536.2 L1077.6,536.4 L1078.5,536.6 L1079.5,537 L1080.5,537.5 L1081.6,538.1 L1082.7,538.9 L1083.7,539.8 L1084.6,540.8 L1085.3,541.9 L1085.9,542.9 L1086.4,543.9 L1086.6,544.8 L1086.7,545.5 L1086.5,546.1 L1086.2,546.6 L1085.7,546.9 L1085,547.2 L1084.2,547.5 L1083.3,547.8 L1082.3,548.2 L1081.3,548.8 L1080.2,549.4 L1079.2,550.2 L1078.2,551.1 L1077.3,552.1 L1076.5,553.2 L1075.9,554.1 L1075.4,555.1 L1075.1,555.9 L1075.1,556.6 L1075.2,557.1 L1075.5,557.6 L1076,557.9 L1076.6,558.2 L1077.4,558.6 L1078.3,558.9 L1079.3,559.4 L1080.3,560 L1081.3,560.8 L1082.2,561.7 L1083.1,562.7 L1083.9,563.8 L1084.6,564.9 L1085.1,565.9 L1085.4,566.9 L1085.6,567.7 L1085.6,568.4 L1085.5,568.9 L1085.1,569.3 L1084.6,569.6 L1083.9,569.9 L1083.1,570.1 L1082.1,570.4 L1081.1,570.8 L1080.1,571.4 L1079,572.1 L1078,572.9 L1077.1,573.8 L1076.2,574.9 L1075.5,575.9 L1074.9,576.9 L1074.5,577.8 L1074.2,578.7 L1074.2,579.3 L1074.4,579.9 L1074.7,580.3 L1075.2,580.6 L1075.9,580.9 L1076.7,581.2 L1077.6,581.6 L1078.6,582.1 L1079.6,582.7 L1080.7,583.4 L1081.6,584.3 L1082.6,585.3 L1083.4,586.4 L1084.1,587.4 L1084.6,588.5 L1085,589.4 L1085.1,590.2 L1085.1,590.9 L1084.9,591.4 L1084.6,591.8 L1084,592.1 L1083.3,592.4 L1082.5,592.7 L1081.6,593 L1080.5,593.4 L1079.5,594" fill="none" stroke="#7089cf" stroke-width="1.9" stroke-linecap="round"/>
<clipPath id="pr2"><polygon points="1080.2,595.6 1073,603.5 1070.2,622 1064.5,629.3 1067.3,637.9 1081.7,642 1096,635 1098.9,626.4 1093.1,613.5 1088.8,602 1084.5,596.3"/></clipPath>
<polygon points="1080.2,595.6 1073,603.5 1070.2,622 1064.5,629.3 1067.3,637.9 1081.7,642 1096,635 1098.9,626.4 1093.1,613.5 1088.8,602 1084.5,596.3" fill="#d4912c" stroke="#c8862a" stroke-width="1" stroke-linejoin="round"/>
<g fill="#d08d2a"><circle cx="1078.2" cy="597.1" r="0.8"/><circle cx="1078.3" cy="597.5" r="0.6"/><circle cx="1077.2" cy="599.8" r="0.8"/><circle cx="1074.7" cy="602.5" r="1.2"/><circle cx="1072.4" cy="604.2" r="0.6"/><circle cx="1072.7" cy="607.1" r="0.6"/><circle cx="1072.4" cy="609" r="1.2"/><circle cx="1071.6" cy="611.9" r="0.6"/><circle cx="1071.3" cy="613.5" r="0.8"/><circle cx="1070.4" cy="617" r="1.1"/><circle cx="1071" cy="617.6" r="0.8"/><circle cx="1070.3" cy="621.6" r="0.8"/><circle cx="1070.1" cy="622.4" r="1.2"/><circle cx="1067.8" cy="624.4" r="1.3"/><circle cx="1066.8" cy="627.6" r="1.1"/><circle cx="1065.3" cy="628.5" r="1"/><circle cx="1064.4" cy="629.6" r="0.9"/><circle cx="1065.6" cy="633.1" r="1.2"/><circle cx="1065.8" cy="634.8" r="1.3"/><circle cx="1066.8" cy="638.3" r="0.7"/><circle cx="1068.6" cy="638.6" r="1"/><circle cx="1071.1" cy="638.4" r="0.9"/><circle cx="1071.9" cy="639.2" r="1.3"/><circle cx="1076.2" cy="639.8" r="0.7"/><circle cx="1079" cy="641" r="0.7"/><circle cx="1081.2" cy="642" r="1"/><circle cx="1083" cy="641.9" r="0.7"/><circle cx="1085.6" cy="639.8" r="0.6"/><circle cx="1085.5" cy="639.7" r="1.2"/><circle cx="1090.1" cy="638" r="1.1"/><circle cx="1091.1" cy="637.2" r="0.9"/><circle cx="1092.7" cy="636.4" r="1.1"/><circle cx="1095.4" cy="635.6" r="0.7"/><circle cx="1096.3" cy="634.7" r="0.8"/><circle cx="1097.2" cy="631.8" r="0.9"/><circle cx="1098.1" cy="630.1" r="1.3"/><circle cx="1097.9" cy="628.5" r="1.2"/><circle cx="1099.2" cy="625.9" r="1.1"/><circle cx="1097.2" cy="623.7" r="0.6"/><circle cx="1096.8" cy="621.9" r="1.2"/><circle cx="1096.4" cy="620.2" r="1"/><circle cx="1094.4" cy="615.9" r="0.9"/><circle cx="1094.3" cy="614.7" r="1.1"/><circle cx="1093.5" cy="612.1" r="1.3"/><circle cx="1092.2" cy="610.5" r="0.6"/><circle cx="1092.1" cy="609.7" r="0.7"/><circle cx="1091" cy="604.6" r="1.1"/><circle cx="1089.4" cy="603.6" r="0.8"/><circle cx="1088.3" cy="601.2" r="1.1"/><circle cx="1086.5" cy="599.2" r="0.7"/><circle cx="1083.8" cy="596.2" r="0.6"/><circle cx="1083.8" cy="596.5" r="1"/></g>
<g clip-path="url(#pr2)"><ellipse cx="1098.2" cy="636.9" rx="2.2" ry="2.1" fill="#8a5514" fill-opacity="0.35"/><ellipse cx="1096.2" cy="600.3" rx="3.6" ry="1.8" fill="#8a5514" fill-opacity="0.35"/><ellipse cx="1091.4" cy="610.6" rx="3.1" ry="1.9" fill="#8a5514" fill-opacity="0.35"/><ellipse cx="1068.1" cy="630.9" rx="3.5" ry="1.9" fill="#8a5514" fill-opacity="0.35"/><ellipse cx="1077.8" cy="639.6" rx="2.5" ry="2.4" fill="#8a5514" fill-opacity="0.35"/><ellipse cx="1078.9" cy="612.9" rx="2.5" ry="1.4" fill="#8a5514" fill-opacity="0.35"/><ellipse cx="1074" cy="606.2" rx="1.9" ry="2" fill="#8a5514" fill-opacity="0.35"/><circle cx="1079.7" cy="596.8" r="0.5" fill="#9a5c18"/><circle cx="1069.1" cy="612.9" r="1" fill="#cf8b2a"/><circle cx="1068.4" cy="614.6" r="0.9" fill="#9a5c18"/><circle cx="1066.8" cy="638.7" r="0.8" fill="#a8671c"/><circle cx="1073.5" cy="617.9" r="0.5" fill="#f6c95e"/><circle cx="1097.2" cy="598.9" r="0.7" fill="#cf8b2a"/><circle cx="1070.8" cy="614.4" r="0.8" fill="#9a5c18"/><circle cx="1071" cy="611" r="0.7" fill="#f6c95e"/><circle cx="1077.8" cy="627.3" r="0.9" fill="#b97620"/><circle cx="1079.7" cy="598.7" r="0.6" fill="#e6a53a"/><circle cx="1097.1" cy="618.9" r="0.7" fill="#cf8b2a"/><circle cx="1084" cy="632.9" r="0.6" fill="#f6c95e"/><circle cx="1075.4" cy="636.7" r="0.7" fill="#a8671c"/><circle cx="1069.3" cy="631.9" r="0.7" fill="#cf8b2a"/><circle cx="1080.8" cy="636.5" r="0.5" fill="#9a5c18"/><circle cx="1073.1" cy="611.5" r="0.9" fill="#f0b84e"/><circle cx="1078.2" cy="632" r="0.4" fill="#b97620"/><circle cx="1097.4" cy="627.1" r="0.5" fill="#cf8b2a"/><circle cx="1087.1" cy="604.4" r="0.6" fill="#a8671c"/><circle cx="1066.9" cy="602.9" r="0.5" fill="#a8671c"/><circle cx="1093.3" cy="606.9" r="0.9" fill="#9a5c18"/><circle cx="1066.5" cy="598.4" r="1" fill="#a8671c"/><circle cx="1092.6" cy="596.3" r="1" fill="#9a5c18"/><circle cx="1073.6" cy="622.7" r="0.5" fill="#b97620"/><circle cx="1098" cy="612.6" r="0.7" fill="#cf8b2a"/><circle cx="1074.2" cy="629.7" r="1" fill="#f6c95e"/><circle cx="1085" cy="599.5" r="0.9" fill="#f0b84e"/><circle cx="1081.3" cy="626" r="0.6" fill="#f6c95e"/><circle cx="1075" cy="619.5" r="0.4" fill="#e6a53a"/><circle cx="1070.8" cy="607.4" r="0.9" fill="#f6c95e"/><circle cx="1084.7" cy="606.9" r="0.8" fill="#f6c95e"/><circle cx="1095.4" cy="632.7" r="0.6" fill="#cf8b2a"/><circle cx="1084.6" cy="622.7" r="0.5" fill="#f0b84e"/><circle cx="1082.4" cy="619.8" r="0.8" fill="#f6c95e"/><circle cx="1067.2" cy="605.5" r="1" fill="#a8671c"/><circle cx="1073.3" cy="598.9" r="0.6" fill="#e6a53a"/><circle cx="1083.8" cy="597.4" r="0.6" fill="#f0b84e"/><circle cx="1069.8" cy="632.3" r="1" fill="#b97620"/><circle cx="1096" cy="616.1" r="0.4" fill="#9a5c18"/><circle cx="1082.5" cy="613.2" r="0.8" fill="#e6a53a"/><circle cx="1090.1" cy="637.2" r="0.7" fill="#a8671c"/><circle cx="1095.8" cy="636.6" r="0.5" fill="#b97620"/><circle cx="1071.8" cy="626.2" r="0.9" fill="#b97620"/><circle cx="1065.2" cy="604.4" r="0.7" fill="#cf8b2a"/><circle cx="1083.4" cy="631.7" r="0.7" fill="#9a5c18"/><circle cx="1072.7" cy="625.8" r="0.7" fill="#f0b84e"/><circle cx="1097" cy="604.4" r="0.5" fill="#f6c95e"/><circle cx="1075.7" cy="616.6" r="0.5" fill="#e6a53a"/><circle cx="1088.8" cy="633.8" r="0.4" fill="#9a5c18"/><circle cx="1067.6" cy="609.8" r="0.7" fill="#cf8b2a"/><circle cx="1079.1" cy="605.6" r="0.8" fill="#f6c95e"/><circle cx="1072.3" cy="603.2" r="0.7" fill="#9a5c18"/><circle cx="1069.6" cy="639.2" r="0.9" fill="#f6c95e"/><circle cx="1078.7" cy="632.1" r="0.6" fill="#9a5c18"/><circle cx="1080.3" cy="600.5" r="0.4" fill="#f6c95e"/><circle cx="1071.1" cy="640" r="0.7" fill="#f6c95e"/><circle cx="1084.3" cy="637.1" r="0.6" fill="#f6c95e"/><circle cx="1072.1" cy="616.8" r="0.5" fill="#a8671c"/><circle cx="1074.2" cy="629.8" r="0.6" fill="#cf8b2a"/><circle cx="1072.5" cy="620.3" r="1" fill="#e6a53a"/><circle cx="1070.3" cy="634.7" r="0.9" fill="#e6a53a"/><circle cx="1083.2" cy="619.7" r="0.5" fill="#f6c95e"/><circle cx="1084.1" cy="641.5" r="0.8" fill="#b97620"/><circle cx="1079.7" cy="636" r="0.4" fill="#f0b84e"/><circle cx="1071.4" cy="640" r="0.8" fill="#e6a53a"/><circle cx="1082.9" cy="597.5" r="0.7" fill="#9a5c18"/><circle cx="1086.2" cy="599.7" r="0.7" fill="#f6c95e"/><circle cx="1066.6" cy="597.7" r="0.5" fill="#cf8b2a"/><circle cx="1088" cy="637" r="0.5" fill="#f0b84e"/><circle cx="1072.1" cy="620.6" r="0.9" fill="#9a5c18"/><circle cx="1068.5" cy="617.7" r="0.9" fill="#b97620"/><circle cx="1091.9" cy="616.7" r="1" fill="#e6a53a"/><circle cx="1078.3" cy="633.8" r="0.4" fill="#f6c95e"/><circle cx="1069.5" cy="614.3" r="0.6" fill="#e6a53a"/><circle cx="1072.8" cy="615" r="0.8" fill="#f6c95e"/><circle cx="1072.9" cy="628.6" r="0.8" fill="#f6c95e"/><circle cx="1079" cy="616.9" r="0.5" fill="#e6a53a"/><circle cx="1076.8" cy="609.2" r="1" fill="#9a5c18"/><circle cx="1075" cy="604.8" r="0.6" fill="#cf8b2a"/><circle cx="1085.6" cy="614.1" r="0.8" fill="#f0b84e"/><circle cx="1065.3" cy="638.6" r="0.7" fill="#f0b84e"/><circle cx="1079.9" cy="608.4" r="0.9" fill="#f0b84e"/><circle cx="1080.1" cy="600" r="0.6" fill="#cf8b2a"/><circle cx="1076.9" cy="600.4" r="0.9" fill="#f0b84e"/><circle cx="1069.7" cy="629.4" r="0.7" fill="#f6c95e"/><circle cx="1087.8" cy="596.4" r="0.7" fill="#f0b84e"/><circle cx="1080.3" cy="615.5" r="0.4" fill="#f0b84e"/><circle cx="1081.4" cy="616.7" r="0.6" fill="#a8671c"/><circle cx="1068.5" cy="612.5" r="0.8" fill="#f0b84e"/><circle cx="1090.8" cy="595.7" r="0.6" fill="#9a5c18"/><circle cx="1081.3" cy="633.4" r="0.7" fill="#9a5c18"/><circle cx="1088.2" cy="599" r="1" fill="#9a5c18"/><circle cx="1083.7" cy="623.6" r="0.6" fill="#a8671c"/><circle cx="1098.8" cy="611.5" r="0.7" fill="#cf8b2a"/><circle cx="1066.7" cy="631" r="0.8" fill="#f6c95e"/><circle cx="1093" cy="621" r="1" fill="#b97620"/><circle cx="1092.7" cy="600.3" r="0.5" fill="#a8671c"/><circle cx="1065.6" cy="601.7" r="1" fill="#9a5c18"/><circle cx="1092.4" cy="607.4" r="0.6" fill="#9a5c18"/><circle cx="1068.9" cy="596.1" r="0.8" fill="#a8671c"/><circle cx="1085.5" cy="602.3" r="0.9" fill="#a8671c"/><circle cx="1085.1" cy="626.3" r="0.5" fill="#f0b84e"/><circle cx="1092.1" cy="614.7" r="0.7" fill="#b97620"/><circle cx="1073.3" cy="616.7" r="0.8" fill="#a8671c"/><circle cx="1080.2" cy="621.6" r="0.9" fill="#b97620"/><circle cx="1065" cy="621.7" r="1" fill="#e6a53a"/><circle cx="1065.8" cy="617.1" r="0.8" fill="#cf8b2a"/><circle cx="1068.1" cy="619.4" r="0.4" fill="#f0b84e"/><circle cx="1066.9" cy="611.3" r="0.5" fill="#e6a53a"/><circle cx="1097" cy="605.6" r="1" fill="#f0b84e"/><circle cx="1076.5" cy="634.4" r="0.7" fill="#e6a53a"/><circle cx="1094.3" cy="634.7" r="0.5" fill="#9a5c18"/><circle cx="1095.2" cy="601.2" r="0.8" fill="#f0b84e"/><circle cx="1074.8" cy="601.7" r="0.8" fill="#a8671c"/><circle cx="1075.3" cy="621.9" r="0.5" fill="#f6c95e"/><circle cx="1095.5" cy="623.3" r="0.7" fill="#e6a53a"/><circle cx="1089.5" cy="641.7" r="0.6" fill="#f0b84e"/><circle cx="1072.8" cy="602.9" r="0.6" fill="#a8671c"/><circle cx="1090" cy="631.2" r="0.5" fill="#9a5c18"/><circle cx="1076.9" cy="634.8" r="0.7" fill="#b97620"/><circle cx="1083" cy="609.1" r="0.7" fill="#f6c95e"/><circle cx="1076.1" cy="623.5" r="0.9" fill="#f6c95e"/><circle cx="1076.7" cy="616.8" r="0.5" fill="#e6a53a"/><circle cx="1065.9" cy="598.2" r="0.5" fill="#b97620"/><circle cx="1095.4" cy="629.6" r="0.8" fill="#f6c95e"/><circle cx="1070.6" cy="611.9" r="0.7" fill="#9a5c18"/><circle cx="1093.9" cy="620.7" r="0.5" fill="#f6c95e"/><circle cx="1065.7" cy="630.7" r="0.9" fill="#a8671c"/><circle cx="1069.5" cy="633.2" r="0.4" fill="#f0b84e"/><circle cx="1088.7" cy="617.6" r="0.7" fill="#9a5c18"/><circle cx="1072.1" cy="638.8" r="0.6" fill="#a8671c"/><circle cx="1091" cy="622.4" r="0.7" fill="#b97620"/><circle cx="1084.1" cy="600.7" r="0.5" fill="#f6c95e"/><circle cx="1088.7" cy="624.1" r="0.7" fill="#cf8b2a"/><circle cx="1072.6" cy="602.9" r="0.8" fill="#f6c95e"/><circle cx="1065.5" cy="611.5" r="0.8" fill="#a8671c"/><circle cx="1096.5" cy="616.6" r="0.6" fill="#f0b84e"/><circle cx="1074.7" cy="617.9" r="0.7" fill="#cf8b2a"/><circle cx="1066" cy="600.5" r="0.4" fill="#f0b84e"/><circle cx="1077.6" cy="627.2" r="0.7" fill="#9a5c18"/><circle cx="1081.5" cy="635.7" r="0.6" fill="#f6c95e"/><circle cx="1087.5" cy="597" r="0.7" fill="#a8671c"/><circle cx="1077.2" cy="615.4" r="0.8" fill="#cf8b2a"/><circle cx="1097.6" cy="631.8" r="0.9" fill="#9a5c18"/><circle cx="1096.7" cy="613.5" r="0.6" fill="#b97620"/><circle cx="1080.1" cy="598.2" r="0.5" fill="#a8671c"/><circle cx="1078.7" cy="614.7" r="0.9" fill="#f0b84e"/><circle cx="1088.8" cy="596.7" r="0.8" fill="#f0b84e"/><circle cx="1090.7" cy="596.2" r="0.6" fill="#f0b84e"/><circle cx="1069.2" cy="633" r="1" fill="#f6c95e"/><circle cx="1091.5" cy="624.4" r="0.9" fill="#a8671c"/><circle cx="1097.4" cy="611" r="0.8" fill="#cf8b2a"/><circle cx="1067.7" cy="638.1" r="0.4" fill="#a8671c"/><circle cx="1084.2" cy="606" r="0.7" fill="#e6a53a"/><circle cx="1076.6" cy="626.5" r="0.7" fill="#e6a53a"/><circle cx="1085.9" cy="629.1" r="0.4" fill="#9a5c18"/><circle cx="1087.7" cy="637.8" r="0.5" fill="#f0b84e"/><circle cx="1091.5" cy="599.5" r="0.8" fill="#9a5c18"/><circle cx="1075.2" cy="612.8" r="1" fill="#9a5c18"/><circle cx="1080.9" cy="632.6" r="0.6" fill="#f0b84e"/><circle cx="1069" cy="641.1" r="0.5" fill="#9a5c18"/><circle cx="1098.1" cy="617.3" r="0.5" fill="#cf8b2a"/><circle cx="1080.3" cy="620.8" r="0.9" fill="#9a5c18"/><circle cx="1072.9" cy="597.2" r="1" fill="#cf8b2a"/><circle cx="1064.6" cy="640.3" r="0.9" fill="#a8671c"/><circle cx="1078.3" cy="604.9" r="0.8" fill="#cf8b2a"/><circle cx="1079.4" cy="628.5" r="0.5" fill="#a8671c"/><circle cx="1095.9" cy="622.9" r="1" fill="#f0b84e"/><circle cx="1090.3" cy="601.8" r="0.8" fill="#f6c95e"/><circle cx="1067" cy="623.6" r="0.4" fill="#b97620"/><circle cx="1066.3" cy="613.7" r="0.5" fill="#b97620"/><circle cx="1074.1" cy="606.8" r="0.7" fill="#f6c95e"/><circle cx="1082.6" cy="634.8" r="0.9" fill="#9a5c18"/><circle cx="1068.3" cy="598.2" r="0.9" fill="#cf8b2a"/><circle cx="1078.3" cy="598.1" r="0.7" fill="#cf8b2a"/><circle cx="1071.9" cy="626.4" r="0.8" fill="#e6a53a"/><circle cx="1073.5" cy="626.5" r="0.5" fill="#f6c95e"/><circle cx="1078.2" cy="617.6" r="0.5" fill="#cf8b2a"/><circle cx="1080.5" cy="608.5" r="0.9" fill="#e6a53a"/><circle cx="1082.9" cy="614.4" r="0.9" fill="#a8671c"/><circle cx="1087" cy="621.7" r="0.5" fill="#cf8b2a"/><circle cx="1085.3" cy="638.3" r="0.4" fill="#a8671c"/><circle cx="1079" cy="612.8" r="0.4" fill="#9a5c18"/><circle cx="1080.4" cy="618" r="0.9" fill="#f6c95e"/><circle cx="1085.9" cy="606.7" r="1" fill="#9a5c18"/><circle cx="1088.3" cy="601.3" r="0.8" fill="#cf8b2a"/><circle cx="1064.6" cy="608.9" r="0.7" fill="#e6a53a"/><circle cx="1091.6" cy="621.5" r="0.8" fill="#f0b84e"/><circle cx="1080" cy="629.5" r="0.5" fill="#b97620"/><circle cx="1093.4" cy="637.9" r="1" fill="#cf8b2a"/><circle cx="1091.4" cy="609.1" r="0.9" fill="#b97620"/><circle cx="1080.7" cy="600.2" r="1" fill="#9a5c18"/><circle cx="1071.8" cy="603.6" r="0.7" fill="#cf8b2a"/><circle cx="1073.8" cy="605.3" r="0.9" fill="#cf8b2a"/><circle cx="1084" cy="621.9" r="0.8" fill="#a8671c"/><circle cx="1091.3" cy="607.9" r="0.6" fill="#9a5c18"/><circle cx="1098.8" cy="634.5" r="0.7" fill="#b97620"/><circle cx="1095.5" cy="608.7" r="0.7" fill="#e6a53a"/><circle cx="1084.9" cy="631.2" r="0.8" fill="#a8671c"/><circle cx="1071.6" cy="611.3" r="0.8" fill="#f6c95e"/><circle cx="1084.4" cy="637.9" r="0.4" fill="#f0b84e"/><circle cx="1081.5" cy="609.3" r="0.5" fill="#cf8b2a"/><circle cx="1066.9" cy="641.6" r="0.9" fill="#f0b84e"/><circle cx="1093.6" cy="615.6" r="0.5" fill="#cf8b2a"/><circle cx="1083" cy="606.7" r="0.5" fill="#f0b84e"/><circle cx="1084.1" cy="641.3" r="0.9" fill="#f0b84e"/><circle cx="1065.1" cy="603.6" r="0.7" fill="#a8671c"/><circle cx="1098.5" cy="621.1" r="0.7" fill="#f6c95e"/><circle cx="1064.9" cy="615.8" r="0.9" fill="#b97620"/><circle cx="1082.6" cy="639.7" r="1" fill="#a8671c"/><circle cx="1065.1" cy="609.8" r="0.5" fill="#f6c95e"/><circle cx="1092" cy="608.1" r="0.6" fill="#cf8b2a"/><circle cx="1087.7" cy="596.8" r="0.5" fill="#b97620"/><circle cx="1075" cy="606.6" r="0.9" fill="#9a5c18"/><circle cx="1089.3" cy="635.4" r="0.9" fill="#a8671c"/><circle cx="1070.9" cy="627.9" r="0.7" fill="#f0b84e"/><circle cx="1089.6" cy="626.9" r="0.9" fill="#f0b84e"/><circle cx="1070.2" cy="636.6" r="0.8" fill="#a8671c"/><circle cx="1094.3" cy="598.2" r="0.7" fill="#cf8b2a"/><circle cx="1069.9" cy="597.8" r="0.5" fill="#a8671c"/><circle cx="1073.3" cy="599" r="0.8" fill="#9a5c18"/><circle cx="1088.1" cy="640.9" r="0.6" fill="#f6c95e"/><circle cx="1072.9" cy="609.7" r="0.9" fill="#cf8b2a"/><circle cx="1090.3" cy="606.5" r="0.5" fill="#f6c95e"/><circle cx="1080.8" cy="637.5" r="0.6" fill="#e6a53a"/><circle cx="1088.7" cy="612.6" r="0.8" fill="#9a5c18"/><circle cx="1096.2" cy="605.4" r="0.6" fill="#a8671c"/><circle cx="1071.3" cy="614.2" r="0.8" fill="#e6a53a"/><circle cx="1094" cy="626.4" r="0.7" fill="#f0b84e"/><circle cx="1070.9" cy="627.9" r="0.6" fill="#cf8b2a"/><circle cx="1096.7" cy="604.6" r="0.6" fill="#f6c95e"/><circle cx="1080.1" cy="627.5" r="0.6" fill="#a8671c"/><circle cx="1095.4" cy="632.7" r="0.6" fill="#9a5c18"/><circle cx="1087.1" cy="601.9" r="0.8" fill="#f6c95e"/><circle cx="1086" cy="636" r="0.6" fill="#e6a53a"/><circle cx="1083.2" cy="635.4" r="0.5" fill="#a8671c"/><circle cx="1071.6" cy="600.5" r="1" fill="#f6c95e"/><circle cx="1067.7" cy="634.9" r="0.7" fill="#9a5c18"/><circle cx="1065.3" cy="598.4" r="0.5" fill="#e6a53a"/><circle cx="1070.3" cy="598.5" r="0.5" fill="#a8671c"/><circle cx="1067.9" cy="615.3" r="0.9" fill="#9a5c18"/><circle cx="1082.7" cy="598.5" r="1" fill="#9a5c18"/><circle cx="1066.8" cy="596.2" r="0.8" fill="#e6a53a"/><circle cx="1090.6" cy="608.4" r="0.9" fill="#f6c95e"/><circle cx="1094.5" cy="597.6" r="1" fill="#f6c95e"/><circle cx="1093.9" cy="617.8" r="0.9" fill="#9a5c18"/><circle cx="1095.9" cy="637.2" r="0.6" fill="#b97620"/><circle cx="1086.8" cy="616.2" r="0.9" fill="#b97620"/><circle cx="1080" cy="603" r="0.6" fill="#f6c95e"/><circle cx="1088.5" cy="603.4" r="0.5" fill="#cf8b2a"/><circle cx="1077.8" cy="639.2" r="0.7" fill="#cf8b2a"/><circle cx="1071.8" cy="607.1" r="0.7" fill="#b97620"/><circle cx="1071.8" cy="600.5" r="0.9" fill="#f6c95e"/><circle cx="1085" cy="607.4" r="0.7" fill="#f6c95e"/><circle cx="1094.7" cy="607.8" r="0.7" fill="#e6a53a"/><circle cx="1077.9" cy="599.5" r="0.9" fill="#a8671c"/><circle cx="1098.8" cy="599.1" r="0.6" fill="#b97620"/><circle cx="1068.7" cy="633.2" r="0.5" fill="#cf8b2a"/><circle cx="1080.4" cy="631.9" r="0.9" fill="#e6a53a"/><circle cx="1075.6" cy="620.6" r="0.5" fill="#9a5c18"/><circle cx="1098.7" cy="629.6" r="0.6" fill="#cf8b2a"/><circle cx="1084.6" cy="612.2" r="0.6" fill="#f0b84e"/><circle cx="1095.7" cy="603" r="1" fill="#a8671c"/><circle cx="1080.3" cy="617.4" r="0.4" fill="#f0b84e"/><circle cx="1075.7" cy="617" r="0.4" fill="#9a5c18"/><circle cx="1064.7" cy="624.3" r="0.4" fill="#a8671c"/><circle cx="1097.3" cy="624.6" r="0.8" fill="#cf8b2a"/><circle cx="1082" cy="605.2" r="1" fill="#a8671c"/><circle cx="1076.7" cy="604.8" r="0.7" fill="#b97620"/><circle cx="1069.5" cy="631.8" r="0.5" fill="#e6a53a"/><circle cx="1095.8" cy="629.8" r="0.9" fill="#f6c95e"/><circle cx="1094.9" cy="640" r="0.4" fill="#9a5c18"/><circle cx="1073.4" cy="637.6" r="0.7" fill="#b97620"/><circle cx="1080.4" cy="611.5" r="0.9" fill="#cf8b2a"/><circle cx="1073.6" cy="614.5" r="0.9" fill="#e6a53a"/><circle cx="1087.1" cy="602.6" r="0.5" fill="#e6a53a"/><circle cx="1098.2" cy="604.6" r="0.5" fill="#cf8b2a"/><circle cx="1067.1" cy="614.1" r="0.8" fill="#a8671c"/><circle cx="1094.8" cy="641.4" r="0.6" fill="#b97620"/><circle cx="1078.3" cy="617.1" r="0.9" fill="#f0b84e"/><circle cx="1078.7" cy="630.1" r="0.9" fill="#cf8b2a"/><circle cx="1076.2" cy="599.8" r="0.8" fill="#e6a53a"/><circle cx="1092" cy="625" r="0.6" fill="#9a5c18"/><circle cx="1072.2" cy="632.9" r="1" fill="#f6c95e"/><circle cx="1075.7" cy="623.6" r="0.7" fill="#a8671c"/><circle cx="1095.2" cy="610.2" r="0.9" fill="#e6a53a"/><circle cx="1090.4" cy="600.8" r="0.9" fill="#f0b84e"/><circle cx="1077.2" cy="616.3" r="0.6" fill="#e6a53a"/><circle cx="1079" cy="630.6" r="0.6" fill="#f6c95e"/><circle cx="1090.5" cy="615.5" r="0.7" fill="#b97620"/><circle cx="1070.4" cy="626.9" r="0.8" fill="#cf8b2a"/><circle cx="1096.5" cy="599.1" r="0.7" fill="#f6c95e"/><circle cx="1066.1" cy="612.6" r="0.8" fill="#b97620"/><circle cx="1074" cy="637.2" r="1" fill="#9a5c18"/><circle cx="1096.2" cy="615.9" r="0.8" fill="#e6a53a"/><circle cx="1066.8" cy="608.3" r="0.9" fill="#f0b84e"/><circle cx="1070.7" cy="616.2" r="0.8" fill="#f6c95e"/><circle cx="1084.6" cy="621.8" r="0.5" fill="#e6a53a"/><circle cx="1065.8" cy="619.9" r="0.8" fill="#9a5c18"/><circle cx="1098" cy="602.7" r="0.5" fill="#f0b84e"/><circle cx="1093.2" cy="637" r="1" fill="#e6a53a"/><circle cx="1078.2" cy="621.9" r="0.8" fill="#cf8b2a"/><circle cx="1084.1" cy="615.1" r="0.9" fill="#e6a53a"/><circle cx="1065.6" cy="638.1" r="0.7" fill="#9a5c18"/><circle cx="1089.6" cy="640.6" r="0.8" fill="#e6a53a"/><circle cx="1085.4" cy="615.6" r="0.5" fill="#b97620"/><circle cx="1069.8" cy="631.2" r="0.7" fill="#b97620"/><circle cx="1076.8" cy="623.9" r="0.8" fill="#f0b84e"/><circle cx="1091.8" cy="609.7" r="0.8" fill="#f6c95e"/><circle cx="1067.8" cy="635.6" r="0.8" fill="#f0b84e"/><circle cx="1081.1" cy="619.6" r="0.7" fill="#f6c95e"/><circle cx="1082.1" cy="633.9" r="0.6" fill="#e6a53a"/><circle cx="1090.6" cy="596.2" r="0.6" fill="#a8671c"/><circle cx="1087" cy="600.1" r="0.6" fill="#9a5c18"/><circle cx="1079.7" cy="633.4" r="0.5" fill="#9a5c18"/><circle cx="1074.9" cy="614.4" r="0.8" fill="#b97620"/><circle cx="1078.1" cy="628.9" r="0.5" fill="#b97620"/><circle cx="1091.1" cy="615.7" r="0.7" fill="#e6a53a"/><circle cx="1079.1" cy="600" r="0.7" fill="#9a5c18"/><circle cx="1069.9" cy="629.7" r="0.8" fill="#a8671c"/><circle cx="1097.9" cy="630.4" r="0.6" fill="#cf8b2a"/><circle cx="1071.7" cy="607.4" r="0.9" fill="#b97620"/><circle cx="1079.3" cy="620" r="0.7" fill="#9a5c18"/><circle cx="1085.3" cy="595.8" r="0.8" fill="#a8671c"/><circle cx="1072.5" cy="640.1" r="0.8" fill="#f0b84e"/><circle cx="1068.6" cy="608.3" r="0.6" fill="#f0b84e"/><circle cx="1096.5" cy="619.6" r="0.7" fill="#9a5c18"/><circle cx="1076.7" cy="626.6" r="0.7" fill="#f0b84e"/><circle cx="1083.8" cy="628.7" r="0.8" fill="#e6a53a"/><circle cx="1095.8" cy="603.5" r="0.7" fill="#b97620"/><circle cx="1096.1" cy="641.2" r="0.6" fill="#b97620"/><circle cx="1086.8" cy="606.5" r="0.6" fill="#f0b84e"/><circle cx="1085.3" cy="605.3" r="0.9" fill="#cf8b2a"/><circle cx="1064.6" cy="641.8" r="0.7" fill="#cf8b2a"/><circle cx="1091.7" cy="618.6" r="0.7" fill="#f0b84e"/><circle cx="1073.8" cy="597.4" r="0.7" fill="#a8671c"/><circle cx="1087.2" cy="614.3" r="0.9" fill="#f0b84e"/><circle cx="1072.9" cy="610.9" r="0.5" fill="#cf8b2a"/><circle cx="1071.9" cy="627.1" r="0.9" fill="#9a5c18"/><circle cx="1082.4" cy="614.4" r="1" fill="#cf8b2a"/><circle cx="1066.3" cy="619.9" r="0.6" fill="#f6c95e"/><circle cx="1075.7" cy="601.6" r="1" fill="#9a5c18"/><circle cx="1097.5" cy="638.8" r="0.5" fill="#9a5c18"/><circle cx="1077.5" cy="614.5" r="0.7" fill="#e6a53a"/><circle cx="1092.7" cy="641.9" r="0.9" fill="#e6a53a"/><circle cx="1080.7" cy="609.4" r="1" fill="#9a5c18"/><circle cx="1078.1" cy="640.4" r="0.8" fill="#f6c95e"/><circle cx="1071.6" cy="629" r="0.8" fill="#e6a53a"/><circle cx="1084.3" cy="620.7" r="0.6" fill="#b97620"/><circle cx="1082" cy="638.1" r="0.9" fill="#cf8b2a"/></g>
<path d="M210.2 568.3V621.3H273.5" fill="none" stroke="#4464ae" stroke-width="1.6"/>
<text transform="translate(206 593) rotate(-90)" x="0" y="0" font-size="19" text-anchor="middle" textLength="50" lengthAdjust="spacingAndGlyphs" fill="#231f20">50 pA</text>
<text x="231.6" y="618" font-size="19" textLength="39.6" lengthAdjust="spacingAndGlyphs" fill="#231f20">1 ms</text>
<path d="M256,548.5 L256.6,544.5 L257.1,554.9 L257.7,541.8 L258.2,548.5 L258.8,556.8 L259.3,547.7 L259.9,554.1 L260.4,551 L261,544.3 L261.5,549.5 L262.1,551.4 L262.6,541.3 L263.2,550.8 L263.7,553 L264.3,553.6 L264.8,541.5 L265.4,548.3 L265.9,545.8 L266.5,559.8 L267,560.2 L267.6,557.1 L268.1,553.2 L268.7,551.9 L269.2,560.3 L269.8,557.6 L270.3,546.9 L270.9,556 L271.4,559.1 L272,559.5 L272.5,549.9 L273.1,544.7 L273.6,552.8 L274.2,552.7 L274.7,556.2 L275.3,551.5 L275.8,549.1 L276.4,559.4 L276.9,557 L277.5,556.1 L278,546 L278.6,551.1 L279.1,554.1 L279.7,548.9 L280.2,546.1 L280.8,546.3 L281.3,548.7 L281.9,541.4 L282.4,550 L283,540.3 L283.5,534 L284.1,526 L284.6,530.6 L285.2,538.6 L285.7,531.9 L286.3,534.5 L286.8,530.3 L287.4,523.3 L287.9,519.8 L288.5,520.6 L289,519.4 L289.6,519.2 L290.1,521.8 L290.7,520 L291.2,517 L291.8,519.3 L292.3,516.7 L292.9,525.7 L293.4,512.3 L294,523.4 L294.5,533.4 L295.1,517 L295.6,508.8 L296.2,510.2 L296.7,515 L297.3,505.5 L297.8,507.3 L298.4,505.6 L298.9,504.3 L299.5,521.4 L300,509.2 L300.6,511.7 L301.1,512.9 L301.7,522.9 L302.2,526.3 L302.8,526.2 L303.3,524.1 L303.9,512.8 L304.4,519.5 L305,512.6 L305.5,514.8 L306.1,505.5 L306.6,509.3 L307.2,510.3 L307.7,515.7 L308.3,512.3 L308.8,524 L309.4,523.9 L309.9,515.7 L310.5,519.6 L311,518 L311.6,524.6 L312.1,507.1 L312.7,516.7 L313.2,505.7 L313.8,513.8 L314.3,524.5 L314.9,516.3 L315.4,523.2 L316,518.2 L316.5,528.8 L317.1,522.6 L317.6,525.2 L318.2,514.9 L318.7,510.6 L319.3,524.8 L319.8,514.1 L320.4,514.1 L320.9,519.7 L321.5,513.8 L322,525.2 L322.6,514.9 L323.1,520.1 L323.7,509.2 L324.2,522 L324.8,515.7 L325.3,523.2 L325.9,520.8 L326.4,518.3 L327,516.9 L327.5,518.7 L328.1,502.6 L328.6,517.5 L329.2,510.8 L329.7,511.5 L330.3,514 L330.8,507.3 L331.4,510.9 L331.9,516.1 L332.5,518.5 L333,506 L333.6,507.5 L334.1,519.2 L334.7,506.3 L335.2,522.3 L335.8,517.8 L336.3,514.6 L336.9,525.6 L337.4,529.7 L338,510.2 L338.5,527.7 L339.1,518.6 L339.6,526.5 L340.2,515.7 L340.7,504.6 L341.3,514.7 L341.8,514.1 L342.4,525.6 L342.9,523.4 L343.5,516.4 L344,512.9 L344.6,511.8 L345.1,511.5 L345.7,510.4 L346.2,520.6 L346.8,504.2 L347.3,518.4 L347.9,518.1 L348.4,531.4 L349,520.1 L349.5,519.3 L350.1,525.1 L350.6,512.3 L351.2,515.7 L351.7,509.6 L352.3,525.8 L352.8,525.6 L353.4,517.6 L353.9,521.2 L354.5,521.7 L355,519.9 L355.6,521.4 L356.1,512.7 L356.7,510.1 L357.2,510.9 L357.8,520.6 L358.3,514.8 L358.9,521.9 L359.4,537.8 L360,532.8 L360.5,549.9 L361.1,553.5 L361.6,557.9 L362.2,563.8 L362.7,562.2 L363.3,563.3 L363.8,551.4 L364.4,548.9 L364.9,557 L365.5,560.5 L366,562.4 L366.6,564.9 L367.1,553 L367.7,553.8 L368.2,561.5 L368.8,556.2 L369.3,554.1 L369.9,554.6 L370.4,561.4 L371,549.1 L371.5,558.8 L372.1,547.2 L372.6,557.9 L373.2,546 L373.7,557.3 L374.3,542.2 L374.8,553 L375.4,562.4 L375.9,552 L376.5,555 L377,553.9 L377.6,545.5 L378.1,558.6 L378.7,558.7 L379.2,550.1 L379.8,556.9 L380.3,550.2 L380.9,550.1 L381.4,553.2 L382,550.5 L382.5,563.1 L383.1,541.6 L383.6,552.1 L384.2,554.9 L384.7,538 L385.3,539.6 L385.8,553.5 L386.4,545.7 L386.9,553 L387.5,555.4 L388,546.1 L388.6,542.7" fill="none" stroke="#4464ae" stroke-width="1.6" stroke-linejoin="round"/>
<path d="M419.7,549.6 L420.2,552.5 L420.8,556.3 L421.4,551.5 L421.9,550.1 L422.5,548.5 L423,542.8 L423.6,541.3 L424.1,549.6 L424.7,546.1 L425.2,542.5 L425.8,542.9 L426.3,556.6 L426.9,540.6 L427.4,543.4 L428,547.3 L428.5,537 L429.1,546.7 L429.6,557.3 L430.2,553.5 L430.7,554 L431.3,555 L431.8,553.7 L432.4,557.1 L432.9,553.2 L433.5,551.4 L434,554 L434.6,559.1 L435.1,556.6 L435.7,559.3 L436.2,545.4 L436.8,559.9 L437.3,566.6 L437.9,560 L438.4,548 L439,548 L439.5,552 L440.1,544 L440.6,553.1 L441.2,545.1 L441.7,551.2 L442.3,550.7 L442.8,532.4 L443.4,541.3 L443.9,538 L444.5,537.2 L445,542.3 L445.6,549.2 L446.1,558 L446.7,545.9 L447.2,562.9 L447.8,567.5 L448.3,558.5 L448.9,558.9 L449.4,549.7 L450,533.6 L450.5,534.5 L451.1,527.4 L451.6,517 L452.2,521.3 L452.7,510.5 L453.3,506.7 L453.8,510.4 L454.4,496.6 L454.9,497.3 L455.5,498.7 L456,499.2 L456.6,504.7 L457.1,501.1 L457.7,512.7 L458.2,512.9 L458.8,503.8 L459.3,496.2 L459.9,503.5 L460.4,505 L461,498.6 L461.5,504 L462.1,505.8 L462.6,501.8 L463.2,512.2 L463.7,511.4 L464.3,500.7 L464.8,504.4 L465.4,497.7 L465.9,505.4 L466.5,494.6 L467,506 L467.6,502.7 L468.1,502.6 L468.7,494.2 L469.2,488.1 L469.8,507.3 L470.3,500.3 L470.9,511.9 L471.4,503.2 L472,504.4 L472.5,513.8 L473.1,507.6 L473.6,513.9 L474.2,495.6 L474.7,509.3 L475.3,504.3 L475.8,507.4 L476.4,506.8 L476.9,510.9 L477.5,516.4 L478,498.8 L478.6,512.2 L479.1,503.9 L479.7,512.1 L480.2,503.2 L480.8,510.1 L481.3,502.8 L481.9,512.3 L482.4,513.2 L483,502.6 L483.5,508.1 L484.1,499.3 L484.6,508.5 L485.2,514 L485.7,504.7 L486.3,509.8 L486.8,491.9 L487.4,491.4 L487.9,488.8 L488.5,495.6 L489,497.6 L489.6,492.8 L490.1,493.5 L490.7,496.9 L491.2,488.7 L491.8,486.3 L492.3,493.3 L492.9,510.7 L493.4,489.1 L494,499.2 L494.5,508.4 L495.1,502.8 L495.6,498.6 L496.2,502.4 L496.7,503.3 L497.3,503.8 L497.8,490.5 L498.4,499.3 L498.9,497.4 L499.5,501.6 L500,500.1 L500.6,490.6 L501.1,483.5 L501.7,493.9 L502.2,503.7 L502.8,500.5 L503.3,497.4 L503.9,511.1 L504.4,495.8 L505,503.7 L505.5,497.5 L506.1,498.9 L506.6,495.6 L507.2,502.8 L507.7,488.7 L508.3,491.7 L508.8,486.3 L509.4,496.7 L509.9,490.9 L510.5,500 L511,495.1 L511.6,501.1 L512.1,509.3 L512.7,499.6 L513.2,500.4 L513.8,504.5 L514.3,501.4 L514.9,490.7 L515.4,502.5 L516,496.3 L516.5,497.7 L517.1,483.3 L517.6,489.4 L518.2,489 L518.7,494.1 L519.3,508.2 L519.8,505.2 L520.4,500.3 L520.9,500.4 L521.5,505.7 L522,496.9 L522.6,500.8 L523.1,500.1 L523.7,485 L524.2,492.6 L524.8,505.5 L525.3,498.9 L525.9,498.5 L526.4,493.1 L527,491.6 L527.5,501.1 L528.1,492.4 L528.6,491.2 L529.2,478.3 L529.7,493.9 L530.3,489 L530.8,500.6 L531.4,517.6 L531.9,519.5 L532.5,510.5 L533,526.1 L533.6,526.9 L534.1,524.3 L534.7,532.7 L535.2,516.2 L535.8,519.3 L536.3,515.9 L536.9,517.9 L537.4,533.3 L538,523.8 L538.5,522 L539.1,524.1 L539.6,534.3 L540.2,530.3 L540.7,540.9 L541.3,530.6 L541.8,523.7 L542.4,527.7 L542.9,531.9 L543.5,525.6 L544,528.3 L544.6,536.7 L545.1,524 L545.7,532.4 L546.2,542 L546.8,527.9 L547.3,528.7 L547.9,528 L548.4,537.9 L549,539.3 L549.5,538 L550.1,536.5 L550.6,544.2 L551.2,541.7 L551.7,526.8 L552.3,532.2 L552.8,531.7 L553.4,535.3 L553.9,525.5 L554.5,525.8 L555,524.4 L555.6,519.5 L556.1,530.1 L556.7,526.1 L557.2,532.7 L557.8,525.2 L558.3,529.1 L558.9,526.4 L559.4,527.7 L560,538.3 L560.5,530.2 L561.1,534.4 L561.6,524.2 L562.2,529.2 L562.7,519.4 L563.3,524.1 L563.8,520.2 L564.4,523.8 L564.9,520.3 L565.5,523.1 L566,528.6 L566.6,524.8 L567.1,525.7 L567.7,527.1 L568.2,525.7 L568.8,526.6 L569.3,529.6 L569.9,525.3 L570.4,531.1 L571,536.6 L571.5,538.8" fill="none" stroke="#4464ae" stroke-width="1.6" stroke-linejoin="round"/>
<path d="M606,546.9 L606.5,558.8 L607.1,556.2 L607.6,545.3 L608.2,555.7 L608.7,547.9 L609.3,545.5 L609.8,551 L610.4,550.6 L610.9,543.8 L611.5,545.2 L612,540 L612.6,543.4 L613.1,543.7 L613.7,547.9 L614.2,542.2 L614.8,536.9 L615.3,541.4 L615.9,550 L616.4,558.4 L617,556 L617.5,551.2 L618.1,557.6 L618.6,544.3 L619.2,554.8 L619.7,547.9 L620.3,550.5 L620.8,552.2 L621.4,548.3 L621.9,548.5 L622.5,542.9 L623,551 L623.6,555.8 L624.1,570.5 L624.7,555.6 L625.2,550.8 L625.8,544.5 L626.3,554.3 L626.9,539.4 L627.4,540.8 L628,547.8 L628.5,539.9 L629.1,552 L629.6,550.3 L630.2,543.4 L630.7,543.5 L631.3,541.5 L631.8,541.7 L632.4,549.6 L632.9,549.7 L633.5,550 L634,547.1 L634.6,541.8 L635.1,547.4 L635.7,538.7 L636.2,545.6 L636.8,551.5 L637.3,550.3 L637.9,540.8 L638.4,541 L639,549.6 L639.5,549.1 L640.1,535.2 L640.6,542.3 L641.2,543.5 L641.7,551.8 L642.3,541.5 L642.8,548.5 L643.4,541.4 L643.9,556.7 L644.5,547 L645,542.2 L645.6,541.5 L646.1,543.9 L646.7,545 L647.2,539.8 L647.8,551.7 L648.3,542.1 L648.9,541.5 L649.4,541.2 L650,541.6 L650.5,545.7 L651.1,543.4 L651.6,542.9 L652.2,536 L652.7,524.5 L653.3,515.6 L653.8,516.7 L654.4,496.4 L654.9,491.7 L655.5,495.8 L656,488.8 L656.6,482.3 L657.1,472.5 L657.7,468.5 L658.2,472.5 L658.8,477.9 L659.3,471 L659.9,468.6 L660.4,465.6 L661,466.4 L661.5,473.6 L662.1,471.7 L662.6,462.3 L663.2,464.1 L663.7,464.6 L664.3,471.7 L664.8,465.9 L665.4,470.4 L665.9,460.3 L666.5,465.2 L667,475.1 L667.6,475.8 L668.1,469.2 L668.7,471.2 L669.2,476.8 L669.8,470.5 L670.3,471.5 L670.9,475.8 L671.4,473 L672,478.3 L672.5,475.9 L673.1,468.4 L673.6,470 L674.2,471.3 L674.7,463.8 L675.3,464.9 L675.8,472.5 L676.4,459.9 L676.9,470.7 L677.5,467.5 L678,464.3 L678.6,467.8 L679.1,470.3 L679.7,472.4 L680.2,466.3 L680.8,465.8 L681.3,468.6 L681.9,478 L682.4,474.5 L683,465.2 L683.5,467.2 L684.1,467.9 L684.6,473.3 L685.2,476.2 L685.7,484.4 L686.3,468.1 L686.8,480.2 L687.4,479.9 L687.9,476 L688.5,480 L689,475.7 L689.6,486.9 L690.1,498.4 L690.7,492.4 L691.2,517.7 L691.8,516.3 L692.3,531.3 L692.9,533 L693.4,547.1 L694,552.3 L694.5,554.9 L695.1,552.8 L695.6,547.6 L696.2,551.8 L696.7,551.7 L697.3,556.3 L697.8,536.6 L698.4,545.2 L698.9,551 L699.5,537.3 L700,539.5 L700.6,553.3 L701.1,550.1 L701.7,540.9 L702.2,551.6 L702.8,545.9 L703.3,544.2 L703.9,544.4 L704.4,545 L705,537.1 L705.5,538.4 L706.1,543.3 L706.6,540.6 L707.2,551 L707.7,540.2 L708.3,532.9 L708.8,543.3 L709.4,546.4 L709.9,547.1 L710.5,549 L711,544.1 L711.6,556.5 L712.1,548.8 L712.7,551.7 L713.2,544.9 L713.8,542 L714.3,553.5 L714.9,531.9 L715.4,539.3 L716,544.3 L716.5,537.8 L717.1,543.3 L717.6,539.2 L718.2,535.5 L718.7,550.7 L719.3,538 L719.8,537.9 L720.4,533.3 L720.9,533.5 L721.5,541 L722,543 L722.6,541.2 L723.1,536.2 L723.7,544.2 L724.2,535.1 L724.8,540.6 L725.3,543.3 L725.9,541.7 L726.4,545.1 L727,544.5 L727.5,544.5 L728.1,556.2 L728.6,551 L729.2,553.7 L729.7,546.1 L730.3,550.2 L730.8,548.8 L731.4,549.4 L731.9,552.4 L732.5,542.5 L733,544.8 L733.6,542.2 L734.1,528.7 L734.7,533.4 L735.2,541.6 L735.8,542.3 L736.3,535 L736.9,541.2 L737.4,540.3 L738,533.9 L738.5,540.8" fill="none" stroke="#4464ae" stroke-width="1.6" stroke-linejoin="round"/>
<path d="M789.7,550 L790.2,550.5 L790.8,558.2 L791.3,560.9 L791.9,555.7 L792.4,558.4 L793,559.3 L793.5,557.1 L794.1,555.8 L794.6,561.8 L795.2,559.6 L795.7,560 L796.3,555.7 L796.8,567.8 L797.4,564.6 L797.9,556.8 L798.5,556.7 L799,562.1 L799.6,551.6 L800.1,557.8 L800.7,556.7 L801.2,550.4 L801.8,553.4 L802.3,546.1 L802.9,551.2 L803.4,548.4 L804,567.9 L804.5,559.1 L805.1,556 L805.6,552.7 L806.2,558.2 L806.7,560.7 L807.3,563.7 L807.8,559.9 L808.4,552.6 L808.9,559.2 L809.5,555.4 L810,553.7 L810.6,553.2 L811.1,560.4 L811.7,556 L812.2,543.5 L812.8,556 L813.3,551.9 L813.9,537.5 L814.4,529.2 L815,524.6 L815.5,524.2 L816.1,515 L816.6,508.3 L817.2,510.7 L817.7,496.5 L818.3,502.3 L818.8,507.5 L819.4,502.9 L819.9,499.8 L820.5,497.6 L821,496.1 L821.6,490.1 L822.1,486.8 L822.7,491.6 L823.2,489.8 L823.8,494.7 L824.3,500.1 L824.9,495.5 L825.4,491.8 L826,492.9 L826.5,493 L827.1,501.6 L827.6,495 L828.2,492.4 L828.7,482.8 L829.3,491 L829.8,486.7 L830.4,487.5 L830.9,489.5 L831.5,494.7 L832,487 L832.6,497.9 L833.1,497.3 L833.7,490.4 L834.2,491.5 L834.8,484.3 L835.3,482.5 L835.9,485.4 L836.4,483.7 L837,488.6 L837.5,483.4 L838.1,484.7 L838.6,484.3 L839.2,468.4 L839.7,479.9 L840.3,466.7 L840.8,475.5 L841.4,471.7 L841.9,480.1 L842.5,483 L843,471.8 L843.6,476.4 L844.1,476.7 L844.7,469.6 L845.2,480.5 L845.8,478 L846.3,474 L846.9,475.7 L847.4,494.1 L848,476.1 L848.5,468 L849.1,472.6 L849.6,474.7 L850.2,473.5 L850.7,472.6 L851.3,468 L851.8,475.5 L852.4,472.9 L852.9,468.2 L853.5,471.2 L854,473.2 L854.6,479.3 L855.1,480.4 L855.7,476.3 L856.2,477.9 L856.8,485.9 L857.3,497.4 L857.9,487.3 L858.4,498.6 L859,500.7 L859.5,498.3 L860.1,504.9 L860.6,510 L861.2,507.4 L861.7,519.8 L862.3,528.4 L862.8,532.2 L863.4,532.1 L863.9,540.7 L864.5,557.4 L865,543.4 L865.6,557.2 L866.1,565.7 L866.7,563.9 L867.2,569.5 L867.8,566.2 L868.3,567.2 L868.9,571.6 L869.4,566 L870,566.9 L870.5,559.3 L871.1,554.6 L871.6,556.4 L872.2,549.7 L872.7,556 L873.3,559.2 L873.8,560.2 L874.4,560.4 L874.9,551.7 L875.5,564.7 L876,552.4 L876.6,556.4 L877.1,566.3 L877.7,555 L878.2,565.4 L878.8,560.9 L879.3,557.4 L879.9,553.6 L880.4,559.1 L881,556.5 L881.5,563.7 L882.1,566.6 L882.6,551.5 L883.2,553.2 L883.7,558.8 L884.3,554.4 L884.8,553.5 L885.4,559.7 L885.9,559.7 L886.5,548 L887,551.7" fill="none" stroke="#4464ae" stroke-width="1.6" stroke-linejoin="round"/>
<path d="M1182.5,579.1 L1183,576.7 L1183.6,580.6 L1184.1,577.8 L1184.7,588.3 L1185.2,588.2 L1185.8,583.4 L1186.3,587.3 L1186.9,570 L1187.4,577.6 L1188,585.3 L1188.5,586.8 L1189.1,575.7 L1189.6,572.4 L1190.2,562.1 L1190.7,572.8 L1191.3,573.1 L1191.8,558.3 L1192.4,572.2 L1192.9,569.2 L1193.5,568.9 L1194,557.6 L1194.6,568.6 L1195.1,555.6 L1195.7,573.4 L1196.2,566.5 L1196.8,560 L1197.3,580.3 L1197.9,580.7 L1198.4,571.9 L1199,588.1 L1199.5,569.9 L1200.1,576.9 L1200.6,580.5 L1201.2,560.3 L1201.7,577.4 L1202.3,570.9 L1202.8,572.7 L1203.4,567.5 L1203.9,576 L1204.5,570.8 L1205,573.4 L1205.6,579.7 L1206.1,567.2 L1206.7,583.1 L1207.2,569.5 L1207.8,576.5 L1208.3,579.3 L1208.9,575.8 L1209.4,580.3 L1210,577.5 L1210.5,573.6 L1211.1,571.5 L1211.6,573.8 L1212.2,576.8 L1212.7,577.3 L1213.3,571.8 L1213.8,566.7 L1214.4,588.7 L1214.9,585.1 L1215.5,580 L1216,580.8 L1216.6,574.8 L1217.1,572.5 L1217.7,578.1 L1218.2,574.3 L1218.8,574.4 L1219.3,566.7 L1219.9,577.2 L1220.4,581.3 L1221,574 L1221.5,575.3 L1222.1,564.2 L1222.6,577.2 L1223.2,578.2 L1223.7,575.4 L1224.3,564.1 L1224.8,560.7 L1225.4,542.6 L1225.9,538.9 L1226.5,532 L1227,535.2 L1227.6,530.5 L1228.1,524.8 L1228.7,533.9 L1229.2,536.4 L1229.8,543.1 L1230.3,536.9 L1230.9,538.5 L1231.4,542.3 L1232,544.9 L1232.5,539.7 L1233.1,542.2 L1233.6,538 L1234.2,541.3 L1234.7,542 L1235.3,537 L1235.8,540 L1236.4,538.6 L1236.9,553.5 L1237.5,539.1 L1238,539.5 L1238.6,538.3 L1239.1,540.5 L1239.7,541 L1240.2,530.9 L1240.8,526.2 L1241.3,541.6 L1241.9,531.7 L1242.4,540.1 L1243,540.1 L1243.5,545.1 L1244.1,550.6 L1244.6,544.4 L1245.2,536.6 L1245.7,531.8 L1246.3,534 L1246.8,538.3 L1247.4,522.7 L1247.9,535.1 L1248.5,537.1 L1249,539.3 L1249.6,534.7 L1250.1,536.2 L1250.7,528.2 L1251.2,526.4 L1251.8,520.4 L1252.3,529.3 L1252.9,534.3 L1253.4,526.8 L1254,530.4 L1254.5,521.9 L1255.1,536.9 L1255.6,527.9 L1256.2,538.4 L1256.7,537.4 L1257.3,533.6 L1257.8,546.7 L1258.4,534.9 L1258.9,534.5 L1259.5,536.5 L1260,535.1 L1260.6,529.3 L1261.1,534.8 L1261.7,529 L1262.2,529.3 L1262.8,531.3 L1263.3,527.9 L1263.9,531.6 L1264.4,533.2 L1265,538 L1265.5,539.6 L1266.1,522.2 L1266.6,533.1 L1267.2,518.1 L1267.7,527.3 L1268.3,529.7 L1268.8,522.3 L1269.4,526.8 L1269.9,538.7 L1270.5,539.6 L1271,540.8 L1271.6,538.6 L1272.1,550.7 L1272.7,540 L1273.2,536.6 L1273.8,546.5 L1274.3,543.3 L1274.9,537.7 L1275.4,544 L1276,538 L1276.5,542.2 L1277.1,541.6 L1277.6,532.3 L1278.2,544.2 L1278.7,541.5 L1279.3,532.8 L1279.8,535.6 L1280.4,546 L1280.9,541.4 L1281.5,542.5 L1282,546.7 L1282.6,545.5 L1283.1,535.4 L1283.7,550.2 L1284.2,554.4 L1284.8,552.5 L1285.3,556.6 L1285.9,550 L1286.4,550.8 L1287,554.3 L1287.5,543.1 L1288.1,551.2 L1288.6,545.1 L1289.2,542.4 L1289.7,543.5 L1290.3,539.7 L1290.8,529.5 L1291.4,542 L1291.9,536.9 L1292.5,540.7 L1293,541.2 L1293.6,546 L1294.1,545.3 L1294.7,542.4 L1295.2,556 L1295.8,563.8 L1296.3,561 L1296.9,566.2 L1297.4,568.7 L1298,573.9 L1298.5,580.8 L1299.1,582 L1299.6,586.2 L1300.2,582.4 L1300.7,581 L1301.3,583.9 L1301.8,588.3 L1302.4,574.9 L1302.9,578.5 L1303.5,576.4 L1304,573.5 L1304.6,568 L1305.1,566.8 L1305.7,564.6 L1306.2,558.7 L1306.8,571.5 L1307.3,571 L1307.9,573.8 L1308.4,574.4 L1309,578.4 L1309.5,572.1 L1310.1,576.6 L1310.6,571.1 L1311.2,563.4 L1311.7,562.9 L1312.3,581.2 L1312.8,564.4 L1313.4,574.7 L1313.9,580.6 L1314.5,571.3 L1315,579.3 L1315.6,581.5 L1316.1,576.3 L1316.7,581.5 L1317.2,571.1 L1317.8,564.1 L1318.3,573.4 L1318.9,566.9 L1319.4,561.5 L1320,564.1 L1320.5,582.5 L1321.1,569.6 L1321.6,573.9 L1322.2,571.5 L1322.7,574.4 L1323.3,570.5 L1323.8,571.5 L1324.4,571.9 L1324.9,570.3 L1325.5,575.4 L1326,580.5 L1326.6,587.5 L1327.1,577.8 L1327.7,582 L1328.2,575.8 L1328.8,567.9 L1329.3,563.3 L1329.9,569.7 L1330.4,556.1 L1331,569.8 L1331.5,582.3 L1332.1,578.8 L1332.6,580.2 L1333.2,575.5 L1333.7,569.7 L1334.3,572.1 L1334.8,573.5 L1335.4,582.6 L1335.9,584" fill="none" stroke="#4464ae" stroke-width="1.6" stroke-linejoin="round"/>
<path d="M1223.4 526.8 L1225 439 L1226.6 526.8Z" fill="#d8922c" stroke="#d8922c" stroke-width="1" stroke-linejoin="round"/>
<path d="M1404,577.8 L1404.5,579.1 L1405.1,582.1 L1405.6,578.4 L1406.2,578.9 L1406.7,583.6 L1407.3,581.2 L1407.8,573.7 L1408.4,563.9 L1408.9,566.2 L1409.5,569.3 L1410,554.7 L1410.6,570 L1411.1,573.5 L1411.7,568.5 L1412.2,566.6 L1412.8,581.3 L1413.3,579.8 L1413.9,570.4 L1414.4,580.1 L1415,578.2 L1415.5,564.3 L1416.1,582.1 L1416.6,559.2 L1417.2,566.1 L1417.7,561.5 L1418.3,569.2 L1418.8,560.5 L1419.4,565.3 L1419.9,572.3 L1420.5,571.2 L1421,567.5 L1421.6,574.6 L1422.1,561.8 L1422.7,572.8 L1423.2,564.3 L1423.8,569.6 L1424.3,568.8 L1424.9,566.8 L1425.4,566 L1426,564 L1426.5,566.7 L1427.1,574.8 L1427.6,570.7 L1428.2,566.3 L1428.7,569.7 L1429.3,571.3 L1429.8,576.8 L1430.4,578.7 L1430.9,579.4 L1431.5,571.2 L1432,577.3 L1432.6,567.5 L1433.1,557.4 L1433.7,575.2 L1434.2,566.8 L1434.8,567.7 L1435.3,562.8 L1435.9,575.2 L1436.4,561.5 L1437,571.5 L1437.5,567.5 L1438.1,561.6 L1438.6,558.9 L1439.2,575 L1439.7,575.1 L1440.3,576.3 L1440.8,587.5 L1441.4,576.5 L1441.9,575.8 L1442.5,570.9 L1443,558.1 L1443.6,537.5 L1444.1,519.8 L1444.7,527.1 L1445.2,502.4 L1445.8,513.8 L1446.3,514.4 L1446.9,515.9 L1447.4,508.1 L1448,514.7 L1448.5,511.1 L1449.1,506.6 L1449.6,510.9 L1450.2,512.5 L1450.7,511 L1451.3,518.5 L1451.8,511 L1452.4,516.5 L1452.9,513.1 L1453.5,516.2 L1454,515.3 L1454.6,511.2 L1455.1,506.7 L1455.7,506.6 L1456.2,502.5 L1456.8,510.1 L1457.3,512.7 L1457.9,517.3 L1458.4,508.3 L1459,511.9 L1459.5,501.8 L1460.1,502 L1460.6,509.7 L1461.2,509.9 L1461.7,503.5 L1462.3,504.5 L1462.8,519 L1463.4,513.6 L1463.9,506.1 L1464.5,524.1 L1465,515.3 L1465.6,511.5 L1466.1,519 L1466.7,508.9 L1467.2,518.2 L1467.8,501.8 L1468.3,506.7 L1468.9,513.1 L1469.4,507 L1470,520.1 L1470.5,501.3 L1471.1,507.5 L1471.6,515.7 L1472.2,513 L1472.7,514.7 L1473.3,511 L1473.8,520.6 L1474.4,505.9 L1474.9,509.7 L1475.5,513.9 L1476,509.5 L1476.6,513.8 L1477.1,510.5 L1477.7,509.3 L1478.2,509.6 L1478.8,511.7 L1479.3,505.6 L1479.9,515.4 L1480.4,503.4 L1481,524.1 L1481.5,525.7 L1482.1,522.3 L1482.6,513 L1483.2,510.9 L1483.7,522.4 L1484.3,513.2 L1484.8,514.1 L1485.4,504.4 L1485.9,515.6 L1486.5,509.2 L1487,517.5 L1487.6,509.1 L1488.1,514.3 L1488.7,525.9 L1489.2,520.7 L1489.8,524 L1490.3,527.1 L1490.9,518.7 L1491.4,524.1 L1492,505.3 L1492.5,522.8 L1493.1,524.6 L1493.6,518.1 L1494.2,516.4 L1494.7,530 L1495.3,518.6 L1495.8,520 L1496.4,523.1 L1496.9,517.8 L1497.5,520.2 L1498,509.7 L1498.6,518.8 L1499.1,523.3 L1499.7,520.9 L1500.2,507.3 L1500.8,525.1 L1501.3,521.9 L1501.9,515.8 L1502.4,524.9 L1503,508.3 L1503.5,531.5 L1504.1,517.6 L1504.6,527.4 L1505.2,519.7 L1505.7,512 L1506.3,514.1 L1506.8,517.3 L1507.4,518.2 L1507.9,518.9 L1508.5,509.7 L1509,520.9 L1509.6,520.3 L1510.1,511.9 L1510.7,511.4 L1511.2,511.9 L1511.8,521.6 L1512.3,519.6 L1512.9,507.4 L1513.4,504.4 L1514,515.4 L1514.5,499.9 L1515.1,510.9 L1515.6,505.7 L1516.2,498.5 L1516.7,506.9 L1517.3,506.3 L1517.8,516.9 L1518.4,533 L1518.9,529.5 L1519.5,544.2 L1520,552.1 L1520.6,550.5 L1521.1,560.9 L1521.7,581.3 L1522.2,573.1 L1522.8,576.2 L1523.3,573.8 L1523.9,575.8 L1524.4,572.5 L1525,579.3 L1525.5,580.6 L1526.1,568.6 L1526.6,561.4 L1527.2,567.3 L1527.7,561.5 L1528.3,564.2 L1528.8,574.4 L1529.4,579.7 L1529.9,569.1 L1530.5,563.9 L1531,576.5 L1531.6,560.2 L1532.1,566.3 L1532.7,577.5 L1533.2,572.8 L1533.8,561.2 L1534.3,557.4 L1534.9,571.1 L1535.4,563.2 L1536,562.3 L1536.5,566.4 L1537.1,563.3 L1537.6,553.9 L1538.2,571.7 L1538.7,563.9 L1539.3,560.4 L1539.8,559.8 L1540.4,564.9 L1540.9,562.3 L1541.5,572 L1542,568 L1542.6,576.7 L1543.1,570.4 L1543.7,568.8 L1544.2,565.4 L1544.8,567.4 L1545.3,575.5 L1545.9,583 L1546.4,559.5 L1547,558.8 L1547.5,572.7 L1548.1,574.1 L1548.6,567 L1549.2,577 L1549.7,568 L1550.3,579.1 L1550.8,589.1 L1551.4,593.9 L1551.9,577.8 L1552.5,577.6 L1553,576 L1553.6,576.2 L1554.1,574 L1554.7,567.2 L1555.2,569.1 L1555.8,571.7 L1556.3,561.7 L1556.9,557.2 L1557.4,571.1" fill="none" stroke="#4464ae" stroke-width="1.6" stroke-linejoin="round"/>
<path d="M1441.4 516.4 L1443 431 L1444.6 516.4Z" fill="#d8922c" stroke="#d8922c" stroke-width="1" stroke-linejoin="round"/>
<path d="M1627.5,566.8 L1628,579.5 L1628.6,582.6 L1629.1,586.2 L1629.7,577.1 L1630.2,567.2 L1630.8,590.3 L1631.3,572.5 L1631.9,576.9 L1632.4,568.1 L1633,570.5 L1633.5,579.6 L1634.1,592.7 L1634.6,590.6 L1635.2,579.9 L1635.7,585.3 L1636.3,577.7 L1636.8,580.1 L1637.4,578.1 L1637.9,575.1 L1638.5,563.1 L1639,569.5 L1639.6,572.1 L1640.1,573 L1640.7,571.1 L1641.2,586.7 L1641.8,575.6 L1642.3,586.8 L1642.9,582 L1643.4,587.3 L1644,565.5 L1644.5,594.5 L1645.1,580.1 L1645.6,571.1 L1646.2,581.1 L1646.7,590.7 L1647.3,583.6 L1647.8,572.7 L1648.4,577.1 L1648.9,584.6 L1649.5,565.4 L1650,574.9 L1650.6,570.6 L1651.1,589 L1651.7,569.1 L1652.2,578.8 L1652.8,567.8 L1653.3,565.7 L1653.9,578.1 L1654.4,573.5 L1655,555.6 L1655.5,568.4 L1656.1,570.5 L1656.6,564.2 L1657.2,568.6 L1657.7,574.8 L1658.3,572.1 L1658.8,575.6 L1659.4,581.9 L1659.9,586.1 L1660.5,578.9 L1661,586.5 L1661.6,580 L1662.1,587.6 L1662.7,583.6 L1663.2,572.9 L1663.8,583.6 L1664.3,590.4 L1664.9,585.2 L1665.4,567.4 L1666,583.5 L1666.5,576.3 L1667.1,576.4 L1667.6,577.1 L1668.2,577 L1668.7,584.6 L1669.3,582.5 L1669.8,577.9 L1670.4,577.5 L1670.9,575.9 L1671.5,580.7 L1672,588.6 L1672.6,575.1 L1673.1,585.3 L1673.7,580.3 L1674.2,575.7 L1674.8,578.6 L1675.3,575.5 L1675.9,546.9 L1676.4,536.1 L1677,535.5 L1677.5,527.8 L1678.1,526.9 L1678.6,519.9 L1679.2,523.8 L1679.7,525 L1680.3,521 L1680.8,514.8 L1681.4,521.6 L1681.9,526.9 L1682.5,519.1 L1683,532.5 L1683.6,528.9 L1684.1,521.4 L1684.7,528.5 L1685.2,528 L1685.8,532.4 L1686.3,529.1 L1686.9,518.4 L1687.4,518.5 L1688,535.3 L1688.5,530 L1689.1,532.1 L1689.6,534.5 L1690.2,539.1 L1690.7,525.1 L1691.3,537 L1691.8,525.7 L1692.4,530.4 L1692.9,533.7 L1693.5,514.7 L1694,521.8 L1694.6,518.1 L1695.1,515.1 L1695.7,519.9 L1696.2,513.5 L1696.8,520.2 L1697.3,529.1 L1697.9,528.6 L1698.4,521.6 L1699,513.4 L1699.5,540 L1700.1,528.7 L1700.6,522.6 L1701.2,511 L1701.7,515.4 L1702.3,525.9 L1702.8,519 L1703.4,535.6 L1703.9,527.7 L1704.5,528.1 L1705,520 L1705.6,518 L1706.1,517.2 L1706.7,522.8 L1707.2,517.3 L1707.8,518.2 L1708.3,519.2 L1708.9,520.4 L1709.4,530.6 L1710,520.2 L1710.5,514.4 L1711.1,519.3 L1711.6,526.5 L1712.2,514.5 L1712.7,521.2 L1713.3,519.2 L1713.8,520.4 L1714.4,520.3 L1714.9,514.2 L1715.5,515.7 L1716,526 L1716.6,529.8 L1717.1,528.3 L1717.7,526.9 L1718.2,519 L1718.8,521.3 L1719.3,527.6 L1719.9,514.8 L1720.4,520.9 L1721,505.5 L1721.5,511.1 L1722.1,510.6 L1722.6,505.9 L1723.2,514 L1723.7,507.9 L1724.3,511 L1724.8,509.8 L1725.4,510.7 L1725.9,525.2 L1726.5,512.2 L1727,518.8 L1727.6,509.8 L1728.1,514.3 L1728.7,517.1 L1729.2,520 L1729.8,516.1 L1730.3,522.8 L1730.9,530.7 L1731.4,527.9 L1732,536.2 L1732.5,541.9 L1733.1,566.5 L1733.6,564.9 L1734.2,566.9 L1734.7,571.6 L1735.3,568.1 L1735.8,572.8 L1736.4,576 L1736.9,576 L1737.5,568.5 L1738,571 L1738.6,575.8 L1739.1,574.1 L1739.7,558.5 L1740.2,570.6 L1740.8,573.7 L1741.3,562.8 L1741.9,569.2 L1742.4,559.6 L1743,574 L1743.5,565.7 L1744.1,562.6 L1744.6,568.6 L1745.2,591.2 L1745.7,569.2 L1746.3,564.8 L1746.8,575.8 L1747.4,576.5 L1747.9,582.1 L1748.5,565.6 L1749,560 L1749.6,565.3 L1750.1,574.1 L1750.7,572.3 L1751.2,574.6 L1751.8,557.5 L1752.3,562.9 L1752.9,567.9 L1753.4,576.2 L1754,573.8 L1754.5,565 L1755.1,557.6 L1755.6,572.1 L1756.2,575.8 L1756.7,584.2 L1757.3,565.1 L1757.8,576.9 L1758.4,561 L1758.9,568.6 L1759.5,574.8 L1760,574.9 L1760.6,570.6 L1761.1,575.9 L1761.7,579.3 L1762.2,578.5 L1762.8,584.7 L1763.3,580.7 L1763.9,578.3 L1764.4,589.3 L1765,579.6 L1765.5,578.5 L1766.1,573.6 L1766.6,570.2 L1767.2,573.6 L1767.7,562.5 L1768.3,575.5 L1768.8,573.5 L1769.4,575.5 L1769.9,565.7 L1770.5,563.5 L1771,573.1 L1771.6,576 L1772.1,583.5 L1772.7,577.3 L1773.2,576.8 L1773.8,584.9 L1774.3,572.6 L1774.9,584.4 L1775.4,581.9 L1776,568.6 L1776.5,576.2 L1777.1,571.8 L1777.6,569.2 L1778.2,562.5 L1778.7,563.1 L1779.3,574 L1779.8,570.4 L1780.4,576.8 L1780.9,567.8" fill="none" stroke="#4464ae" stroke-width="1.6" stroke-linejoin="round"/>
<path d="M1675.9 516.8 L1677.5 312.5 L1679.1 516.8Z" fill="#d8922c" stroke="#d8922c" stroke-width="1" stroke-linejoin="round"/>
<path d="M1845,570 L1845.5,580 L1846.1,599 L1846.6,580.3 L1847.2,595.1 L1847.7,580.5 L1848.3,586.1 L1848.8,584.1 L1849.4,588.9 L1849.9,580.5 L1850.5,578.1 L1851,585 L1851.6,573.8 L1852.1,579.4 L1852.7,587.4 L1853.2,579.1 L1853.8,576.3 L1854.3,572.7 L1854.9,581.1 L1855.4,581.1 L1856,580.1 L1856.5,575.3 L1857.1,591.2 L1857.6,577.2 L1858.2,572.6 L1858.7,584.4 L1859.3,584.3 L1859.8,585 L1860.4,573.6 L1860.9,594.3 L1861.5,585.8 L1862,584.5 L1862.6,570.7 L1863.1,586.5 L1863.7,579.9 L1864.2,591 L1864.8,582.1 L1865.3,574.4 L1865.9,584.9 L1866.4,582.6 L1867,592.4 L1867.5,581.6 L1868.1,592.5 L1868.6,592.1 L1869.2,590.8 L1869.7,587.9 L1870.3,583.5 L1870.8,584.8 L1871.4,578.1 L1871.9,583.9 L1872.5,578.4 L1873,563.8 L1873.6,581.2 L1874.1,589.8 L1874.7,583.2 L1875.2,586.2 L1875.8,587 L1876.3,579.5 L1876.9,575.2 L1877.4,588.5 L1878,589.9 L1878.5,586.5 L1879.1,586.1 L1879.6,583.1 L1880.2,576.4 L1880.7,564.7 L1881.3,551.4 L1881.8,541.9 L1882.4,529.2 L1882.9,535.3 L1883.5,544.8 L1884,542.6 L1884.6,528.7 L1885.1,543.4 L1885.7,526.1 L1886.2,550.5 L1886.8,541.2 L1887.3,537.5 L1887.9,524.2 L1888.4,522.5 L1889,527.5 L1889.5,530.2 L1890.1,526.2 L1890.6,530 L1891.2,535.8 L1891.7,537.2 L1892.3,529.2 L1892.8,518.1 L1893.4,532.6 L1893.9,526.6 L1894.5,534.8 L1895,544.9 L1895.6,542.3 L1896.1,530.9 L1896.7,537.4 L1897.2,544.9 L1897.8,533.7 L1898.3,537.2 L1898.9,535.7 L1899.4,531.2 L1900,529.7 L1900.5,533.3 L1901.1,536.9 L1901.6,529.9 L1902.2,539.6 L1902.7,534.9 L1903.3,546.2 L1903.8,544.8 L1904.4,529.8 L1904.9,539.6 L1905.5,529.2 L1906,542.6 L1906.6,541.4 L1907.1,535.9 L1907.7,543.8 L1908.2,537.8 L1908.8,541.9 L1909.3,542.7 L1909.9,538.9 L1910.4,540.2 L1911,528.5 L1911.5,538.2 L1912.1,525.2 L1912.6,531.2 L1913.2,529.1 L1913.7,529.3 L1914.3,524.6 L1914.8,546.1 L1915.4,524.8 L1915.9,528.9 L1916.5,525.4 L1917,540.2 L1917.6,529.7 L1918.1,541.3 L1918.7,529 L1919.2,536.2 L1919.8,533.8 L1920.3,540.7 L1920.9,534 L1921.4,530.3 L1922,540.9 L1922.5,530.4 L1923.1,529.6 L1923.6,543.3 L1924.2,528.2 L1924.7,542.3 L1925.3,536.6 L1925.8,532.9 L1926.4,537.1 L1926.9,538.3 L1927.5,533.7 L1928,535.5 L1928.6,539.8 L1929.1,543.9 L1929.7,536.4 L1930.2,536.2 L1930.8,541.2 L1931.3,544.2 L1931.9,546.5 L1932.4,544.2 L1933,541 L1933.5,545.5 L1934.1,534.7 L1934.6,529.9 L1935.2,523.4 L1935.7,536.7 L1936.3,516.3 L1936.8,527.2 L1937.4,531.5 L1937.9,529 L1938.5,542.7 L1939,538.1 L1939.6,535.9 L1940.1,526.1 L1940.7,536.6 L1941.2,537.4 L1941.8,539.1 L1942.3,539.5 L1942.9,534 L1943.4,542.5 L1944,551.2 L1944.5,546.9 L1945.1,536.6 L1945.6,520.3 L1946.2,534.8 L1946.7,539.8 L1947.3,539.4 L1947.8,539.9 L1948.4,551.1 L1948.9,552.8 L1949.5,573.9 L1950,567.3 L1950.6,575.9 L1951.1,577.4 L1951.7,565.3 L1952.2,575.7 L1952.8,583.4 L1953.3,570.5 L1953.9,582.2 L1954.4,574.7 L1955,582 L1955.5,583.8 L1956.1,580.2 L1956.6,576.3 L1957.2,568.3 L1957.7,572.3 L1958.3,574.4 L1958.8,590.1 L1959.4,588.5 L1959.9,571.2 L1960.5,587.7 L1961,589.9 L1961.6,584.8 L1962.1,588.7 L1962.7,589.5 L1963.2,579.7 L1963.8,576.6 L1964.3,581.2 L1964.9,575.8 L1965.4,581.7 L1966,576.2 L1966.5,574.8 L1967.1,573.5 L1967.6,580.8 L1968.2,582.5 L1968.7,580 L1969.3,572 L1969.8,581.1 L1970.4,576.8 L1970.9,575.3 L1971.5,579.4 L1972,569 L1972.6,578.7 L1973.1,573.7 L1973.7,571.2 L1974.2,586.9 L1974.8,582.9 L1975.3,567.5 L1975.9,579.5 L1976.4,571.5 L1977,582.6 L1977.5,577.8 L1978.1,574.2 L1978.6,580.2 L1979.2,580.2 L1979.7,580.3 L1980.3,580.2 L1980.8,583.6 L1981.4,582.2 L1981.9,572.7 L1982.5,583 L1983,581.6 L1983.6,577.5 L1984.1,583 L1984.7,568.7 L1985.2,571.4 L1985.8,574.5 L1986.3,580.1 L1986.9,574 L1987.4,575.6 L1988,578.9 L1988.5,566.4 L1989.1,578.2 L1989.6,571.8 L1990.2,574.2 L1990.7,575.9 L1991.3,581 L1991.8,576.9 L1992.4,580.4 L1992.9,571.9 L1993.5,569.5 L1994,568.6 L1994.6,572.1 L1995.1,578.9 L1995.7,573 L1996.2,570 L1996.8,579.1 L1997.3,578.1 L1997.9,579.4" fill="none" stroke="#4464ae" stroke-width="1.6" stroke-linejoin="round"/>
<path d="M1882.4 539.5 L1884 422.5 L1885.6 539.5Z" fill="#d8922c" stroke="#d8922c" stroke-width="1" stroke-linejoin="round"/>
<text x="0.5" y="683" font-size="48" textLength="25" lengthAdjust="spacingAndGlyphs" fill="#231f20" stroke="#fff" stroke-width="1.1">b</text>
<text x="75.6" y="735" font-size="34" textLength="402.7" lengthAdjust="spacingAndGlyphs" fill="#231f20" stroke="#fff" stroke-width="0.7">spike protein concentration</text>
<path d="M76 754.6L473 751.6V758.6Z" fill="url(#arr)"/>
<path d="M472 742.5L495.6 755.2L472 768.2Z" fill="#231f20"/>
<path d="M58,888.1 L59.5,888.5 L61,887.6 L62.5,888.8 L64,888.5 L65.5,888.8 L67,888.8 L68.5,888.8 L70,888.7 L71.5,886.3 L73,887.5 L74.5,888.2 L76,888.7 L77.5,887.9 L79,887.7 L80.5,887.8 L82,888.3 L83.5,887.4 L85,886.8 L86.5,887.4 L88,888.2 L89.5,887.4 L91,887.3 L92.5,887.4 L94,887.9 L95.5,887.9 L97,888.9 L98.5,888.3 L100,887.6 L101.5,887.3 L103,887.6 L104.5,887.8 L106,888.7 L107.5,887.8 L109,888.6 L110.5,887.5 L112,887.6 L113.5,887.8 L115,887.2 L116.5,887.9 L118,888.9 L119.5,887.5 L121,888.1 L122.5,887.2 L124,887.8 L125.5,886.8 L127,888.4 L128.5,887.8 L130,888.4 L131.5,888.1 L133,887.2 L134.5,888.2 L136,888.8 L137.5,888 L139,889 L140.5,887.5 L142,888.6 L143.5,888.1 L145,887.2 L146.5,888.7 L148,887.7 L149.5,888.7 L151,888.3 L152.5,888.3 L154,888 L155.5,887.4 L157,888.9 L158.5,887.9 L160,888.4 L161.5,887.6 L163,888.5 L164.5,887.2 L166,888.4 L167.5,886.7 L169,888.7 L170.5,888.2 L172,886.5 L173.5,889 L175,889 L176.5,888.2 L178,888.6 L179.5,888.3 L181,887.9 L182.5,889 L184,888 L185.5,887.2 L187,887.5 L188.5,889 L190,888.2 L191.5,887.3 L193,886.8 L194.5,886.3 L196,887.1 L197.5,887.2 L199,888.8 L200.5,886 L202,886.3 L203.5,887.3 L205,887.3 L206.5,888.7 L208,888.3 L209.5,889 L211,887.8 L212.5,888.8 L214,887 L215.5,888.6 L217,888.8 L218.5,887.4 L220,886.4 L221.5,888.3 L223,888.6 L224.5,888.3 L226,888.2 L227.5,888.5 L229,888.2 L230.5,886.8 L232,886.5 L233.5,888.1 L235,888.8 L236.5,887.4 L238,888.4 L239.5,888.8 L241,888.1 L242.5,888 L244,888.9 L245.5,889 L247,886.5 L248.5,888.6 L250,888.4 L251.5,886.9 L253,888.4 L254.5,888.7 L256,886.5 L257.5,888.6 L259,887.9 L260.5,887.7 L262,886.8 L263.5,887.4 L265,886.9 L266.5,888.9 L268,888.9 L269.5,888.6 L271,888.5 L272.5,888.6 L274,886 L275.5,888.3 L277,888.9 L278.5,887.8 L280,889 L281.5,886 L283,888.5 L284.5,888.5 L286,886.7 L287.5,888 L289,888.8 L290.5,888.3 L292,888.7 L293.5,888 L295,888.2 L296.5,888.1 L298,888.9 L299.5,888.8 L301,888.5 L302.5,889 L304,888.1 L305.5,888.1 L307,888.9 L308.5,887.7 L310,888.4 L311.5,888.8 L313,887.9 L314.5,888.3 L316,888.4 L317.5,888.8 L319,888.8 L320.5,888.8 L322,887.9 L323.5,887.1 L325,887.8 L326.5,888.8 L328,887.7 L328,917.6 L326.5,918.4 L325,917.5 L323.5,917.7 L322,919.1 L320.5,919.1 L319,920.5 L317.5,919.3 L316,917.8 L314.5,918.3 L313,919.3 L311.5,919.2 L310,918.2 L308.5,918.9 L307,917.3 L305.5,918.2 L304,917.6 L302.5,918.1 L301,917.7 L299.5,918.8 L298,918.8 L296.5,917.1 L295,917.1 L293.5,918.8 L292,917.6 L290.5,917.9 L289,917.6 L287.5,918.4 L286,917.8 L284.5,917.7 L283,918.1 L281.5,919.7 L280,917.6 L278.5,920.2 L277,919.1 L275.5,917.9 L274,917.4 L272.5,918 L271,917.8 L269.5,919.2 L268,918.3 L266.5,917.7 L265,918 L263.5,917.1 L262,918.2 L260.5,918 L259,917.4 L257.5,919.4 L256,918.7 L254.5,917.1 L253,917.5 L251.5,917.4 L250,917.8 L248.5,918.4 L247,918.1 L245.5,920.3 L244,918.5 L242.5,917 L241,918.7 L239.5,917.3 L238,917.2 L236.5,925.2 L235,917.7 L233.5,920.9 L232,917 L230.5,918.4 L229,917.8 L227.5,918.2 L226,917.6 L224.5,919.2 L223,917.7 L221.5,918.4 L220,917.4 L218.5,917.5 L217,918.9 L215.5,917.2 L214,917.1 L212.5,918.2 L211,918.6 L209.5,922.7 L208,917.2 L206.5,917.7 L205,919.7 L203.5,918.8 L202,918.5 L200.5,918 L199,917.9 L197.5,917.5 L196,917.6 L194.5,917.9 L193,917.1 L191.5,923.6 L190,917.7 L188.5,917.2 L187,917.6 L185.5,919.5 L184,918 L182.5,917.9 L181,920.2 L179.5,918.2 L178,918.2 L176.5,918.6 L175,917.9 L173.5,917.5 L172,919 L170.5,917.4 L169,919.1 L167.5,917.7 L166,917.1 L164.5,918.1 L163,917.3 L161.5,918 L160,917.6 L158.5,919.5 L157,917.6 L155.5,919.2 L154,918.5 L152.5,920.6 L151,918.3 L149.5,917.8 L148,917.3 L146.5,918.1 L145,917 L143.5,917.5 L142,918.7 L140.5,918.5 L139,917.3 L137.5,917.4 L136,917 L134.5,922.1 L133,918.6 L131.5,918.8 L130,918.6 L128.5,917.7 L127,918.5 L125.5,917.3 L124,917.4 L122.5,920.1 L121,918 L119.5,918.2 L118,917.8 L116.5,917.1 L115,917.3 L113.5,918.9 L112,917.8 L110.5,918.8 L109,917.3 L107.5,918.1 L106,918.5 L104.5,917.7 L103,917.1 L101.5,917.4 L100,921.7 L98.5,917.1 L97,917.9 L95.5,917.5 L94,917.1 L92.5,918.1 L91,917 L89.5,917.7 L88,919.1 L86.5,917.2 L85,917.5 L83.5,921 L82,917.9 L80.5,917.8 L79,917.4 L77.5,919.4 L76,918 L74.5,919 L73,918.7 L71.5,917.7 L70,920.5 L68.5,918 L67,917.6 L65.5,918.6 L64,925.2 L62.5,921.1 L61,917.2 L59.5,917.3 L58,917.5Z" fill="#f0d0a1" stroke="#f0d0a1" stroke-width="0.6"/>
<path d="M65.1 893V800M68 893V815.6M71.3 893V837.3M69.2 893V828.1M71 893V801.7M71.8 893V859.4M76.2 893V836.9M76.4 893V799M78.3 893V849.4M80 893V869.8M82 893V816.3M84.5 893V825.3M83 893V814.2M85.7 893V823.1M85.3 893V790.9M88.8 893V793.4M85.5 893V833.3M90.3 893V860.9M91 893V796M93.1 893V816.2M97.7 893V832.2M100.8 893V853.3M107.5 893V798.4M108.2 893V807.6M108.5 893V874.4M109.5 893V827M118.5 893V860.1M121.3 893V790.4M124.2 893V800.8M124.5 893V858.9M125.1 893V836.1M127.4 893V790.3M129.8 893V806.6M130.2 893V832.4M131.3 893V817.1M133 893V812.7M132.6 893V859.2M134.9 893V873.8M137.5 893V832.8M140.6 893V828.6M137.7 893V799.4M139.9 893V810M140.6 893V803.4M148.1 893V800.7M155.5 893V818.8M156.3 893V819.7M157.9 893V807.8M158.8 893V829.6M159.9 893V791.2M166.6 893V805.2M168.4 893V862.6M169.1 893V794.4M170.7 893V798.9M169.5 893V803.4M172.3 893V817M172.4 893V802.8M175.1 893V817.5M172.7 893V792.7M175.5 893V813.7M178.2 893V877M178.4 893V814.5M179.3 893V867M180.3 893V825.9M181.1 893V845.4M184.5 893V858.1M181.8 893V827.7M183.6 893V867.5M189.2 893V846.9M189.5 893V834.4M192.8 893V844.1M193.9 893V804.8M196.5 893V821.6M194.8 893V874.4M197.4 893V884.5M198.2 893V808.8M199.9 893V805.9M200.6 893V848.9M200.7 893V868M204 893V815.5M207.2 893V806.6M207.2 893V837.8M209.7 893V825.3M210 893V793.4M211.8 893V803.2M210.9 893V811.2M214.3 893V816.4M213.1 893V799.2M214.7 893V797.3M215.2 893V836.2M218.3 893V849.8M215.5 893V838.2M215.7 893V829.1M220.9 893V795.3M225.8 893V841.4M228.1 893V809.2M231 893V817.1M232.7 893V870.4M235.5 893V866.6M233.6 893V848.4M237.3 893V807.4M240.6 893V821.3M238.4 893V816.6M240.5 893V834.6M240.6 893V861.7M243.7 893V880.9M244.9 893V875.1M248.6 893V798.8M250.6 893V794.7M254.9 893V821.7M256.6 893V811.3M259.2 893V833M258 893V820.4M262.5 893V806.3M263.5 893V855.1M266.1 893V869.6M263.5 893V803.4M264 893V875.8M267.4 893V815.1M269.6 893V823.7M268.6 893V857.7M269.7 893V801.8M270.6 893V864.3M272.9 893V840.9M275.5 893V841.9M279.4 893V856.6M284.3 893V805.3M285.2 893V866.5M286.5 893V876.4M286.9 893V811.9M286.9 893V810.8M289.1 893V807.8M292.5 893V799.7M295.8 893V799.5M294.1 893V801.8M296.5 893V792M299.5 893V816.5M297.8 893V850.7M298.2 893V808M300.2 893V814.3M300.2 893V834M302.6 893V808.9M305.3 893V832M305.6 893V808.8M307.7 893V813.1M308.6 893V852.2M310.9 893V874.1M316.9 893V813M319.6 893V802.9M321.1 893V812.1M321.1 893V861.3M323.7 893V864.3M322.9 893V848.7M325.2 893V848.6M326.7 893V804" stroke="#f0d0a1" stroke-width="1.9" fill="none"/>
<path d="M335,889.1 L336.5,888.7 L338,889 L339.5,888.9 L341,889.8 L342.5,888.1 L344,889.1 L345.5,887.7 L347,889.5 L348.5,888.3 L350,889.9 L351.5,889.8 L353,887.5 L354.5,889.1 L356,889 L357.5,888.2 L359,889.8 L360.5,889.1 L362,889.6 L363.5,888.9 L365,889.8 L366.5,888.6 L368,889.8 L369.5,889.8 L371,889.4 L372.5,889 L374,889.7 L375.5,889.4 L377,889 L378.5,889.5 L380,889.3 L381.5,889.8 L383,889.8 L384.5,889.9 L386,890 L387.5,889.8 L389,888 L390.5,888.5 L392,889.3 L393.5,889.5 L395,889.6 L396.5,889.9 L398,889.7 L399.5,889.2 L401,888.3 L402.5,886.9 L404,889.8 L405.5,888.5 L407,888.8 L408.5,889.4 L410,889.5 L411.5,889.7 L413,889 L414.5,889.7 L416,889.8 L417.5,887 L419,889.7 L420.5,889.8 L422,886.8 L423.5,889.2 L425,889.9 L426.5,889.8 L428,889.6 L429.5,889.4 L431,888.6 L432.5,889.4 L434,889.4 L435.5,887.2 L437,887.7 L438.5,889.3 L440,889.4 L441.5,889.6 L443,889.3 L444.5,889.1 L446,888.7 L447.5,887.6 L449,888.7 L450.5,888 L452,887.7 L453.5,888.9 L455,889.8 L456.5,889.3 L458,889.5 L459.5,887.9 L461,889.8 L462.5,889.3 L464,890 L465.5,889.3 L467,889.3 L468.5,889.9 L470,888.5 L471.5,889.9 L473,888.3 L474.5,888.8 L476,889.4 L477.5,888.7 L479,889.8 L480.5,888.4 L482,887.2 L483.5,889.8 L485,887.9 L486.5,888 L488,889.7 L489.5,888.1 L491,889.9 L492.5,886.9 L494,887.9 L495.5,889.3 L497,889.9 L498.5,889.6 L500,889.5 L501.5,888.6 L503,889.1 L504.5,889.1 L506,888.7 L507.5,889.8 L509,885.9 L510.5,887.1 L512,889 L513.5,889.1 L515,888.8 L516.5,889.4 L518,887.5 L519.5,889.5 L521,889.9 L522.5,887.2 L524,887.3 L525.5,889.6 L527,887.7 L528.5,889.1 L530,889.8 L531.5,889.5 L533,889.8 L534.5,889 L536,889.8 L537.5,888.4 L539,889.5 L540.5,888.2 L542,889.2 L543.5,888.3 L545,889.1 L546.5,889.4 L548,889.6 L549.5,888.5 L551,889.9 L552.5,887.5 L554,889.4 L555.5,886.2 L557,889.7 L558.5,889.4 L560,888.1 L561.5,889.9 L563,889.6 L564.5,887.4 L566,889.4 L567.5,887.5 L569,888.2 L570.5,889.2 L572,888.9 L573.5,888.3 L575,889.8 L576.5,889.8 L578,889.6 L579.5,888.4 L581,889.5 L582.5,888.7 L584,888 L585.5,889.6 L587,887.7 L588.5,887.9 L590,889.9 L591.5,889.9 L593,889.4 L594.5,888.3 L596,889.6 L597.5,889.3 L599,889.4 L600.5,888.6 L602,886.6 L603.5,889.1 L605,887.3 L605,921.8 L603.5,920.6 L602,919.3 L600.5,921 L599,919.4 L597.5,920.2 L596,920.5 L594.5,919.1 L593,919.7 L591.5,919.2 L590,919.2 L588.5,919.1 L587,919.4 L585.5,920 L584,923.2 L582.5,920.1 L581,919.7 L579.5,921 L578,919.6 L576.5,923.5 L575,919.8 L573.5,924.2 L572,919.2 L570.5,919.7 L569,920 L567.5,919.8 L566,921.7 L564.5,921.3 L563,919 L561.5,919.5 L560,920.8 L558.5,919.7 L557,921 L555.5,919.6 L554,919.7 L552.5,919.2 L551,921.3 L549.5,920.8 L548,922.5 L546.5,920.5 L545,919.2 L543.5,919.7 L542,922.8 L540.5,920.2 L539,920.1 L537.5,919.9 L536,920.6 L534.5,919.8 L533,920.7 L531.5,920.9 L530,919.1 L528.5,919.4 L527,920.8 L525.5,920.8 L524,919.4 L522.5,919.8 L521,919.9 L519.5,921.6 L518,922.9 L516.5,919.4 L515,920.3 L513.5,919.3 L512,921.3 L510.5,919.4 L509,920.2 L507.5,919.1 L506,919.8 L504.5,919.5 L503,924.4 L501.5,920.1 L500,920.2 L498.5,920.1 L497,919.3 L495.5,922 L494,919.3 L492.5,919.8 L491,920.5 L489.5,920.2 L488,927.4 L486.5,921.3 L485,919.5 L483.5,923 L482,920.6 L480.5,920.9 L479,919.2 L477.5,924 L476,921 L474.5,920.3 L473,919.3 L471.5,919.5 L470,921.1 L468.5,919.7 L467,920.2 L465.5,920 L464,919.7 L462.5,920.7 L461,919.5 L459.5,920.7 L458,919.7 L456.5,919.9 L455,919.3 L453.5,919.1 L452,919.2 L450.5,921 L449,920.7 L447.5,920.6 L446,919.5 L444.5,921.3 L443,919 L441.5,921.6 L440,920.5 L438.5,921.7 L437,919.8 L435.5,921.1 L434,920.1 L432.5,920.9 L431,919.5 L429.5,920.4 L428,919.5 L426.5,920.1 L425,920.7 L423.5,919.3 L422,922.3 L420.5,920.5 L419,920.5 L417.5,920 L416,919 L414.5,920 L413,923.5 L411.5,922.3 L410,919.5 L408.5,919.8 L407,920.8 L405.5,919.6 L404,920.4 L402.5,921.5 L401,920 L399.5,920.9 L398,921.9 L396.5,919.1 L395,919.6 L393.5,919.7 L392,920.4 L390.5,919.9 L389,920.3 L387.5,921.6 L386,919.7 L384.5,919 L383,919.4 L381.5,919 L380,919.1 L378.5,919.2 L377,920 L375.5,920.4 L374,920.2 L372.5,920 L371,920.5 L369.5,921.2 L368,919.9 L366.5,919.9 L365,919.5 L363.5,922 L362,920.4 L360.5,919.3 L359,921 L357.5,919.9 L356,919.7 L354.5,919.6 L353,925.7 L351.5,919.6 L350,921 L348.5,919.4 L347,920.8 L345.5,919.1 L344,922.1 L342.5,921.1 L341,919.1 L339.5,920.9 L338,919.2 L336.5,919.2 L335,920.2Z" fill="#ecc68e" stroke="#ecc68e" stroke-width="0.6"/>
<path d="M337.7 894V816M338 894V802.2M344 894V802.1M344.8 894V823.2M345.2 894V879.8M346.4 894V822M348 894V827.5M349.7 894V873.3M350.1 894V802.1M351.8 894V800.9M352.1 894V810.1M355.2 894V822.2M353.7 894V847.1M354.1 894V814.2M356.9 894V817.7M360.3 894V824.3M361.1 894V876.2M363 894V827M363 894V804.6M367.1 894V838.8M374.5 894V811.6M377.5 894V800.9M378.4 894V864.6M381.6 894V865.2M383 894V813.1M384.9 894V826.4M383.7 894V827.5M387.2 894V840.2M387.9 894V864.2M391.3 894V801.1M391.8 894V806.7M393.5 894V801.8M392.4 894V833.2M392.9 894V806.6M393.7 894V818.6M395.1 894V823.8M397.8 894V810.1M399.7 894V813.3M399 894V803M402.4 894V802.2M399.2 894V802.1M400.1 894V815.4M400.5 894V866.5M402.2 894V849.9M404.5 894V848.5M402.7 894V813.9M405 894V816.7M408.1 894V827.7M405.8 894V822.1M408.4 894V827.6M408 894V814.9M411.2 894V839.1M409.4 894V835.9M410.8 894V834.5M414.1 894V858.3M414.5 894V862M423.3 894V822.3M426.6 894V842.4M429.6 894V831.6M429.9 894V864M431.5 894V848.8M434.5 894V813.5M435.5 894V812.1M436.6 894V826.9M438.3 894V844.1M437.2 894V825M438.1 894V808.2M439.9 894V823.4M438.3 894V821.7M438.8 894V815.1M439.7 894V813.1M442.5 894V865.5M442.6 894V820.8M444.6 894V866.5M451.5 894V837.2M453.4 894V842.8M455.6 894V825.1M457.2 894V820.6M457.9 894V812.1M459.6 894V809.8M460.4 894V870.7M461.2 894V805.3M461.2 894V810.1M463.5 894V815.9M462.1 894V822.3M467.5 894V817.7M470.2 894V816.3M467.6 894V873.2M472.4 894V807.1M472.5 894V825.4M472.5 894V816.6M476 894V825.4M478 894V807.7M481.1 894V803.7M478.6 894V869.4M480.5 894V806.1M483.4 894V826.9M482.1 894V843.8M483.1 894V841.2M485.6 894V846.2M486.5 894V877.2M489 894V829.4M489.9 894V830M490 894V805.7M495.3 894V874.8M497.4 894V873.4M496.5 894V850.4M498.2 894V857.8M499.2 894V811.1M501.5 894V818.8M499.9 894V878.4M503.2 894V852.9M505.2 894V825.3M507.6 894V826.4M506.9 894V822.3M508.8 894V875.5M517.5 894V856.1M519.9 894V848.1M522.3 894V843.5M527.2 894V850.7M528.8 894V867.2M532.8 894V876M537.1 894V826.8M538.1 894V853.2M539 894V868.2M541.5 894V868.7M541.6 894V866M544.4 894V875.5M544.3 894V803.9M546.5 894V823.7M548.5 894V819.1M549.3 894V857.9M552.2 894V820.6M560.5 894V817.2M563.5 894V836.7M570.9 894V804.5M571.1 894V856.1M574.7 894V871.4M582.8 894V879.1M585 894V889.8M583 894V848.9M583.9 894V842.9M586.3 894V854.8M593 894V865.9M593.1 894V803.8M593.6 894V810.3M597 894V805.4M597.7 894V830.1M599.5 894V851.4M601.9 894V863.5M603.5 894V884.3M519 894V740" stroke="#ecc68e" stroke-width="1.9" fill="none"/>
<path d="M612.3,891.2 L613.8,891.3 L615.3,891.1 L616.8,891.3 L618.3,891 L619.8,890.9 L621.3,889.3 L622.8,890.1 L624.3,888 L625.8,890.5 L627.3,890.1 L628.8,889.8 L630.3,891.3 L631.8,890 L633.3,891.4 L634.8,891.3 L636.3,889.4 L637.8,890.4 L639.3,890.7 L640.8,890.3 L642.3,889.3 L643.8,890.8 L645.3,891 L646.8,891.2 L648.3,890.4 L649.8,889.2 L651.3,890.5 L652.8,889.6 L654.3,891.1 L655.8,891.3 L657.3,891.2 L658.8,891.2 L660.3,890.9 L661.8,890.2 L663.3,890.4 L664.8,889.3 L666.3,891.5 L667.8,891 L669.3,890.4 L670.8,889.4 L672.3,890.7 L673.8,890.6 L675.3,890.5 L676.8,890.5 L678.3,891.5 L679.8,891.5 L681.3,890.2 L682.8,891 L684.3,890.2 L685.8,891.3 L687.3,890.8 L688.8,891.3 L690.3,891.3 L691.8,891.3 L693.3,891.3 L694.8,890.2 L696.3,889.6 L697.8,890.1 L699.3,890.6 L700.8,891.2 L702.3,889.5 L703.8,891.3 L705.3,890.4 L706.8,887.6 L708.3,890.1 L709.8,890.2 L711.3,890.3 L712.8,890 L714.3,888.7 L715.8,891.2 L717.3,890.4 L718.8,889.9 L720.3,890.6 L721.8,890.8 L723.3,890.2 L724.8,891 L726.3,890.9 L727.8,889.6 L729.3,888.6 L730.8,890.9 L732.3,890.5 L733.8,890.4 L735.3,891.4 L736.8,889.8 L738.3,891.1 L739.8,891.1 L741.3,891.4 L742.8,891.3 L744.3,891.2 L745.8,891.3 L747.3,889.3 L748.8,890.6 L750.3,890.7 L751.8,891 L753.3,890.8 L754.8,891 L756.3,890.3 L757.8,889.7 L759.3,891.2 L760.8,891.2 L762.3,891.1 L763.8,891.3 L765.3,888.9 L766.8,891.2 L768.3,891.3 L769.8,889.6 L771.3,891.3 L772.8,889.5 L774.3,891 L775.8,890.8 L777.3,891.2 L778.8,890.4 L780.3,890.3 L781.8,890.9 L783.3,889.8 L784.8,890.5 L786.3,890.5 L787.8,890.2 L789.3,891.3 L790.8,890.6 L792.3,891 L793.8,890.3 L795.3,889.4 L796.8,889.8 L798.3,889.1 L799.8,890.8 L801.3,889.5 L802.8,891.4 L804.3,891.2 L805.8,890.9 L807.3,888.6 L808.8,891.3 L810.3,891.4 L811.8,890.3 L813.3,891.4 L814.8,890.2 L816.3,890.5 L817.8,891.2 L819.3,890 L820.8,891 L822.3,890.7 L823.8,888.3 L825.3,890.4 L826.8,891 L828.3,889.7 L829.8,890.2 L831.3,890.1 L832.8,890.8 L834.3,890.7 L835.8,890.1 L837.3,891.2 L838.8,889.8 L840.3,889.6 L841.8,891.2 L843.3,890.8 L844.8,891.1 L846.3,889 L847.8,890.3 L849.3,891.3 L850.8,890.2 L852.3,889.7 L853.8,890.3 L855.3,889.7 L856.8,891.3 L858.3,891 L859.8,890.9 L861.3,891.5 L862.8,891.2 L864.3,890.6 L865.8,891.1 L867.3,890.4 L868.8,889.9 L870.3,891.4 L871.8,891 L873.3,891.4 L874.8,891.4 L876.3,890.7 L877.8,891 L879.3,890.3 L880.8,890.8 L882.3,889.9 L882.3,922 L880.8,921.1 L879.3,923.7 L877.8,921.6 L876.3,922.5 L874.8,921 L873.3,926.3 L871.8,922.1 L870.3,922.6 L868.8,924.2 L867.3,922 L865.8,923.2 L864.3,922.9 L862.8,922.8 L861.3,926.5 L859.8,922.6 L858.3,921.2 L856.8,921.7 L855.3,921.2 L853.8,921.6 L852.3,923.1 L850.8,927.3 L849.3,921.5 L847.8,922.1 L846.3,922.4 L844.8,921.7 L843.3,923.1 L841.8,922.3 L840.3,921.1 L838.8,921.5 L837.3,923.1 L835.8,921.1 L834.3,922.2 L832.8,921.5 L831.3,921.1 L829.8,922.1 L828.3,921.5 L826.8,921.3 L825.3,921.6 L823.8,921.9 L822.3,921.9 L820.8,923.3 L819.3,921.2 L817.8,923 L816.3,922.2 L814.8,924.1 L813.3,922.1 L811.8,922 L810.3,921.7 L808.8,921.4 L807.3,921.4 L805.8,922.1 L804.3,921.4 L802.8,921.6 L801.3,924.3 L799.8,921.6 L798.3,921.9 L796.8,922 L795.3,922.3 L793.8,923.6 L792.3,923.6 L790.8,924.6 L789.3,921.5 L787.8,921.1 L786.3,922.3 L784.8,923.4 L783.3,922.3 L781.8,921.7 L780.3,921 L778.8,921.4 L777.3,921.5 L775.8,921.8 L774.3,927.6 L772.8,921.6 L771.3,922 L769.8,922.7 L768.3,925.6 L766.8,922.6 L765.3,922.3 L763.8,923.1 L762.3,925.5 L760.8,921.2 L759.3,921.9 L757.8,922 L756.3,922 L754.8,921.5 L753.3,921.9 L751.8,922.2 L750.3,921.9 L748.8,923.4 L747.3,922.9 L745.8,921.6 L744.3,922.1 L742.8,922.3 L741.3,921.5 L739.8,922.7 L738.3,922.5 L736.8,921.6 L735.3,922 L733.8,922.2 L732.3,921.8 L730.8,923.5 L729.3,921.8 L727.8,923.4 L726.3,921.2 L724.8,923.6 L723.3,921.5 L721.8,921.4 L720.3,924 L718.8,923.8 L717.3,922.3 L715.8,922 L714.3,922.9 L712.8,928.7 L711.3,923.3 L709.8,922.4 L708.3,921.3 L706.8,922.1 L705.3,923.4 L703.8,924.8 L702.3,923.9 L700.8,921.2 L699.3,926.5 L697.8,923.7 L696.3,922.1 L694.8,922.8 L693.3,923.2 L691.8,922.8 L690.3,921.3 L688.8,922.3 L687.3,921.2 L685.8,922 L684.3,921.3 L682.8,922.2 L681.3,922.6 L679.8,921.5 L678.3,921.8 L676.8,922.4 L675.3,922.2 L673.8,923.1 L672.3,924 L670.8,922.3 L669.3,922.7 L667.8,921.4 L666.3,921.5 L664.8,922.7 L663.3,921.5 L661.8,922.2 L660.3,922 L658.8,926.1 L657.3,921.2 L655.8,921.7 L654.3,922.8 L652.8,922.2 L651.3,922.7 L649.8,922 L648.3,922 L646.8,923.3 L645.3,921.7 L643.8,922 L642.3,923.1 L640.8,922.3 L639.3,922.8 L637.8,922.7 L636.3,922.5 L634.8,921.6 L633.3,929.6 L631.8,922.6 L630.3,921.7 L628.8,921.5 L627.3,923.5 L625.8,921.4 L624.3,921.2 L622.8,922.2 L621.3,922.7 L619.8,921.3 L618.3,922.3 L616.8,921.2 L615.3,921.4 L613.8,922.5 L612.3,921.9Z" fill="#e8bc7a" stroke="#e8bc7a" stroke-width="0.6"/>
<path d="M614.6 895.5V811.1M615.3 895.5V807M619.6 895.5V808M621.6 895.5V810.7M622.1 895.5V821.8M623.7 895.5V855.8M627.1 895.5V861.5M625.8 895.5V864.8M628.3 895.5V877.5M638.1 895.5V804.3M640.1 895.5V844.3M642.4 895.5V854.9M645 895.5V863.5M646.1 895.5V867.3M646.3 895.5V873.8M646.9 895.5V850.5M648.6 895.5V852.4M648.6 895.5V809.3M651.2 895.5V821.2M650 895.5V803.4M655 895.5V816.6M655.5 895.5V799.8M659.9 895.5V861.7M660.3 895.5V849.4M660.5 895.5V807M663.1 895.5V826.1M661.8 895.5V807.4M662.8 895.5V806.1M666.8 895.5V869.9M667.6 895.5V816M669 895.5V824.8M671.1 895.5V835.4M669.5 895.5V824.2M670.9 895.5V847.8M671.8 895.5V859.8M673.5 895.5V863.6M672.5 895.5V837.5M673.1 895.5V841.3M676.7 895.5V855.1M680.1 895.5V801.8M682.9 895.5V815.6M681.9 895.5V823.5M682.7 895.5V822.9M683.4 895.5V851.7M684.9 895.5V821.4M689.4 895.5V823.4M689.6 895.5V801.2M692.8 895.5V817.3M691.7 895.5V841.5M694.4 895.5V812.4M696 895.5V837.1M695.1 895.5V807.7M698.4 895.5V814.9M700.1 895.5V803.3M703.9 895.5V847M706.7 895.5V813.1M707.4 895.5V815.3M715.7 895.5V823.9M719.7 895.5V811.8M721.7 895.5V832.4M722.7 895.5V838.8M726 895.5V849.4M723.8 895.5V862.8M729.8 895.5V837M731.6 895.5V838.5M731.7 895.5V807.3M732.4 895.5V820.4M732.6 895.5V861M735.8 895.5V861M733.5 895.5V878.9M733.6 895.5V825.2M736.4 895.5V823.7M735 895.5V809.8M737.3 895.5V823.4M742.7 895.5V850M743.9 895.5V843.6M744.4 895.5V807.2M745.9 895.5V832.5M748.9 895.5V853.3M746.3 895.5V803M746.5 895.5V836.4M747.4 895.5V819.3M748.5 895.5V853.1M750.2 895.5V804.9M752.6 895.5V828.1M751.3 895.5V810.5M753.5 895.5V825.7M754.1 895.5V811M754.1 895.5V816M754.2 895.5V822.3M758.2 895.5V835.8M759 895.5V824.8M761.9 895.5V828.9M761.7 895.5V807.3M762.1 895.5V808.4M762.6 895.5V813.8M762.6 895.5V813.8M764.8 895.5V828.6M762.9 895.5V810.4M765.2 895.5V821.8M764.6 895.5V834.2M765.4 895.5V808.2M768.1 895.5V828.4M771.2 895.5V841.1M774.4 895.5V864M780.7 895.5V870.8M781.9 895.5V819.2M783 895.5V802.9M784.8 895.5V856.8M787.8 895.5V877.6M785 895.5V827.6M788.1 895.5V829.1M789.8 895.5V871.2M791.4 895.5V799M793.3 895.5V814.8M796.6 895.5V833.6M793.7 895.5V846.5M796.8 895.5V864.1M797.4 895.5V798.4M797.7 895.5V871M801 895.5V866.7M797.8 895.5V835.7M798 895.5V852.9M800.3 895.5V856.6M800.8 895.5V819.5M802.4 895.5V816.5M801.4 895.5V826.6M804.5 895.5V845.6M809.1 895.5V842.2M810.4 895.5V826.9M815.7 895.5V863.2M817.4 895.5V881.2M820 895.5V904.4M821.9 895.5V811.5M822.3 895.5V824.8M825 895.5V838.2M825.3 895.5V849.6M830.9 895.5V819.8M831.9 895.5V847.8M836.4 895.5V831.6M839.2 895.5V830.9M837.3 895.5V874.6M837.5 895.5V804.5M838 895.5V832M839.4 895.5V822.6M841.5 895.5V820.5M841.7 895.5V808.1M842.1 895.5V800.4M849.5 895.5V838.7M852.1 895.5V851.2M855.4 895.5V821.3M858.2 895.5V821.6M858.4 895.5V852.4M860.8 895.5V858.2M861.3 895.5V813.9M863.1 895.5V828.7M861.8 895.5V821.7M864.3 895.5V825.4M864.3 895.5V801.4M866.8 895.5V815.1M864.4 895.5V849.7M866.1 895.5V838.1M867.7 895.5V835.5M876.9 895.5V833.1M877.4 895.5V871.6M880.3 895.5V813.9M639.5 895.5V752.5M723.5 895.5V726M727.5 895.5V722.5M785.5 895.5V784" stroke="#e8bc7a" stroke-width="1.9" fill="none"/>
<path d="M888.8,888.8 L890.3,889.8 L891.8,888.7 L893.3,887.2 L894.8,888 L896.3,887.6 L897.8,889 L899.3,889.3 L900.8,889.8 L902.3,889.6 L903.8,888.7 L905.3,888.8 L906.8,889.7 L908.3,888.9 L909.8,887.1 L911.3,888 L912.8,889.7 L914.3,889.7 L915.8,889.5 L917.3,889.8 L918.8,888.3 L920.3,888.8 L921.8,889.9 L923.3,889.1 L924.8,888.2 L926.3,887.5 L927.8,890 L929.3,889.2 L930.8,888 L932.3,889.7 L933.8,888.9 L935.3,888.5 L936.8,889.2 L938.3,889.8 L939.8,888 L941.3,889.6 L942.8,887.8 L944.3,889.4 L945.8,890 L947.3,887.4 L948.8,889.9 L950.3,889.8 L951.8,889.3 L953.3,889.6 L954.8,888.3 L956.3,889.7 L957.8,889.7 L959.3,888 L960.8,886.7 L962.3,888.6 L963.8,888.8 L965.3,889 L966.8,889.3 L968.3,889.2 L969.8,889.8 L971.3,888.4 L972.8,888.4 L974.3,888.1 L975.8,887.7 L977.3,888.4 L978.8,888.1 L980.3,888.1 L981.8,888 L983.3,889.7 L984.8,888.4 L986.3,888.5 L987.8,889.6 L989.3,889 L990.8,889.4 L992.3,889.4 L993.8,887.4 L995.3,889.9 L996.8,888.7 L998.3,889.5 L999.8,888.1 L1001.3,889.9 L1002.8,888.4 L1004.3,888.5 L1005.8,888.4 L1007.3,887.1 L1008.8,889.4 L1010.3,888.6 L1011.8,889 L1013.3,889.7 L1014.8,888.4 L1016.3,888.5 L1017.8,889.8 L1019.3,889.9 L1020.8,889.1 L1022.3,888.5 L1023.8,887.4 L1025.3,888.5 L1026.8,888.7 L1028.3,889.3 L1029.8,887.6 L1031.3,889.7 L1032.8,887.5 L1034.3,888.5 L1035.8,888.9 L1037.3,889.5 L1038.8,887.4 L1040.3,888.6 L1041.8,889.9 L1043.3,889.6 L1044.8,889.6 L1046.3,889.1 L1047.8,889.9 L1049.3,889.3 L1050.8,889.6 L1052.3,889.3 L1053.8,888.9 L1055.3,888.9 L1056.8,889.7 L1058.3,888.9 L1059.8,888.7 L1061.3,888.2 L1062.8,889 L1064.3,888.9 L1065.8,889.9 L1067.3,889.1 L1068.8,888.9 L1070.3,889.8 L1071.8,888.9 L1073.3,889.9 L1074.8,889.3 L1076.3,888.7 L1077.8,888.1 L1079.3,889.4 L1080.8,889.4 L1082.3,889.9 L1083.8,888.6 L1085.3,889.6 L1086.8,888.8 L1088.3,887.6 L1089.8,889.7 L1091.3,888.5 L1092.8,889.2 L1094.3,888 L1095.8,887.2 L1097.3,888.4 L1098.8,889.5 L1100.3,888.2 L1101.8,889.5 L1103.3,889.4 L1104.8,889.2 L1106.3,889.1 L1107.8,887.7 L1109.3,889.1 L1110.8,888.5 L1112.3,889.5 L1113.8,889.6 L1115.3,889.1 L1116.8,889.8 L1118.3,889.4 L1119.8,889.2 L1121.3,889 L1122.8,889.6 L1124.3,888.7 L1125.8,889.2 L1127.3,889.8 L1128.8,887.1 L1130.3,889.5 L1131.8,887.9 L1133.3,889.2 L1134.8,887.3 L1136.3,889.4 L1137.8,889 L1139.3,888.3 L1140.8,888.7 L1142.3,887.5 L1143.8,888 L1145.3,889.3 L1146.8,888.3 L1148.3,889 L1149.8,887.9 L1151.3,890 L1152.8,889.4 L1154.3,889.9 L1155.8,888.9 L1157.3,889.4 L1158.8,889.7 L1158.8,921 L1157.3,920.5 L1155.8,919.2 L1154.3,919.2 L1152.8,919.7 L1151.3,919.1 L1149.8,919.2 L1148.3,919.9 L1146.8,919.6 L1145.3,919.7 L1143.8,920.7 L1142.3,920.9 L1140.8,922.3 L1139.3,920.6 L1137.8,920.9 L1136.3,919.3 L1134.8,919.8 L1133.3,920.7 L1131.8,919 L1130.3,924.7 L1128.8,920.4 L1127.3,923.2 L1125.8,925.6 L1124.3,922 L1122.8,919.2 L1121.3,923.1 L1119.8,919.5 L1118.3,919.3 L1116.8,920.1 L1115.3,920.3 L1113.8,919.4 L1112.3,919.2 L1110.8,919.8 L1109.3,922 L1107.8,920.3 L1106.3,919.5 L1104.8,923 L1103.3,919.5 L1101.8,921.4 L1100.3,919.4 L1098.8,919.4 L1097.3,919.4 L1095.8,920.4 L1094.3,921.7 L1092.8,920.3 L1091.3,919.5 L1089.8,921 L1088.3,919.8 L1086.8,920.1 L1085.3,919.1 L1083.8,919.5 L1082.3,920.2 L1080.8,919.4 L1079.3,919.8 L1077.8,919.9 L1076.3,921.2 L1074.8,921.2 L1073.3,919.2 L1071.8,920.1 L1070.3,921.5 L1068.8,919.9 L1067.3,920.1 L1065.8,919.6 L1064.3,920.9 L1062.8,920.8 L1061.3,922.6 L1059.8,920.3 L1058.3,919.4 L1056.8,922 L1055.3,921.9 L1053.8,923.6 L1052.3,920.4 L1050.8,920.8 L1049.3,920 L1047.8,920 L1046.3,919.7 L1044.8,919.6 L1043.3,921 L1041.8,919.2 L1040.3,920.4 L1038.8,922.7 L1037.3,922.5 L1035.8,920.7 L1034.3,919.9 L1032.8,921.3 L1031.3,924.7 L1029.8,919.5 L1028.3,919.8 L1026.8,919.8 L1025.3,919.6 L1023.8,920.2 L1022.3,919.2 L1020.8,920.8 L1019.3,920.5 L1017.8,920.8 L1016.3,919.3 L1014.8,920.5 L1013.3,920.4 L1011.8,920.2 L1010.3,922.7 L1008.8,921.3 L1007.3,921 L1005.8,919.7 L1004.3,919.5 L1002.8,922.3 L1001.3,919.5 L999.8,920.1 L998.3,920.6 L996.8,920.4 L995.3,920.4 L993.8,921.1 L992.3,922.3 L990.8,919.3 L989.3,919.2 L987.8,920.9 L986.3,921.9 L984.8,920.1 L983.3,919.3 L981.8,919.6 L980.3,921.6 L978.8,921.2 L977.3,919 L975.8,919.2 L974.3,919.6 L972.8,921 L971.3,920.5 L969.8,921.6 L968.3,922.8 L966.8,919.1 L965.3,919.7 L963.8,920 L962.3,920.9 L960.8,920.5 L959.3,920.8 L957.8,920.5 L956.3,920.2 L954.8,920.6 L953.3,919.1 L951.8,921.2 L950.3,921.1 L948.8,925.6 L947.3,921.1 L945.8,919.2 L944.3,919.4 L942.8,920.3 L941.3,920.2 L939.8,919.6 L938.3,920.7 L936.8,919.3 L935.3,919.9 L933.8,919.5 L932.3,919.6 L930.8,919.9 L929.3,919.2 L927.8,919.5 L926.3,919 L924.8,919.2 L923.3,921.1 L921.8,920.1 L920.3,922.5 L918.8,920.5 L917.3,921 L915.8,920.4 L914.3,919.5 L912.8,920.8 L911.3,920.8 L909.8,919.2 L908.3,919.6 L906.8,919.5 L905.3,919.2 L903.8,920.7 L902.3,920.4 L900.8,919.8 L899.3,919.4 L897.8,927.1 L896.3,919.8 L894.8,920.8 L893.3,919.9 L891.8,919.4 L890.3,921.7 L888.8,921.4Z" fill="#e4b267" stroke="#e4b267" stroke-width="0.6"/>
<path d="M892.1 894V826.6M892.3 894V806.6M894.7 894V827.7M893.1 894V821.8M893.4 894V815.9M895.7 894V854.3M897 894V846.3M897.8 894V802.2M900.2 894V803.8M903.5 894V817.6M904.7 894V857.1M904.7 894V871.3M907.1 894V805.8M909.1 894V820M910.8 894V824M910.5 894V806.2M912.2 894V809.4M911.5 894V813.5M913.4 894V824.8M913 894V806.4M915.8 894V802.7M914.2 894V811.8M915.7 894V819.1M914.9 894V825.5M919.2 894V835.8M922.8 894V805.7M928.6 894V872.1M931.9 894V892.6M940.9 894V878.8M942.9 894V902.3M942.2 894V827.7M942.3 894V837.1M944.8 894V854.8M945.5 894V839M947.8 894V834.6M945.6 894V828.2M947.7 894V847.1M949.5 894V833.7M951.6 894V838.9M952.5 894V842.5M954.7 894V806.6M956.1 894V825.4M957.5 894V827.7M960.7 894V838.4M960.2 894V825M960.5 894V801.7M962.8 894V806M961.6 894V810.3M964.3 894V869M964.6 894V812.8M967.9 894V825.3M970.6 894V828M969.1 894V810.7M971.1 894V818.1M973.7 894V820.8M975.2 894V819.3M975.5 894V822.2M979.3 894V850.4M982.8 894V802.5M985.7 894V821.8M983.5 894V815.1M985.6 894V820.2M984.8 894V830.4M985.3 894V855.2M987.1 894V853.2M989.4 894V825M991.4 894V835.6M992.5 894V834M995.8 894V828.1M996.7 894V852.9M999.8 894V840M1002.6 894V874.7M1004.3 894V886.2M1005.1 894V812.6M1006.2 894V871.8M1006.3 894V851.5M1008.2 894V806.4M1009.7 894V877.2M1018.4 894V827.7M1021.2 894V872.8M1023.9 894V892.2M1023 894V828.3M1026.5 894V828M1028 894V802.5M1031.3 894V814.6M1029.5 894V869.8M1035 894V879.9M1036.4 894V810.4M1042.7 894V839.3M1045.8 894V806.6M1054.2 894V824.3M1056 894V803.9M1059 894V822.1M1056.4 894V834.4M1058.5 894V836.7M1060.1 894V858.7M1062.9 894V864.6M1071.9 894V804.1M1074 894V809.8M1074.3 894V828.3M1077.4 894V876.2M1079.4 894V885.1M1080.2 894V825.9M1081.7 894V802.5M1082.5 894V817.4M1084.3 894V838.4M1083.3 894V869.6M1085.3 894V870.2M1087.9 894V821.6M1089.4 894V820.5M1089.6 894V823M1091.5 894V837M1089.8 894V838.6M1089.8 894V830.4M1090.3 894V815.4M1092.4 894V812.8M1090.5 894V823.4M1091.1 894V812.6M1094.2 894V801.6M1095.9 894V838.3M1099.5 894V801.6M1100.4 894V833.7M1104.1 894V867.2M1105.1 894V819.6M1107 894V819.6M1110.3 894V818.5M1113.1 894V817.1M1110.6 894V830.2M1111.8 894V800.1M1117.3 894V843.4M1121.2 894V805.8M1124.4 894V816.5M1122.1 894V857.3M1124.7 894V805.5M1126.8 894V816.9M1127.1 894V805.5M1130.4 894V821.4M1129.4 894V809.5M1129.6 894V816.7M1133.4 894V801.7M1135 894V798.4M1134 894V836.1M1134.3 894V826.9M1136.6 894V836.2M1135.1 894V874.5M1138 894V871.8M1135.8 894V866M1136.5 894V821.6M1138.1 894V831.6M1141.5 894V833M1138.1 894V818.2M1143.1 894V807.3M1146 894V822.9M1145.3 894V828.4M1147.3 894V822.7M1149.5 894V831M1147.4 894V858.1M1148.6 894V823.7M1153.3 894V813.8M1153.5 894V801.5M1156.3 894V816.4M897 894V737.5M955.5 894V729M964.5 894V782.5M1069 894V725M1055 894V776M1065 894V782.5" stroke="#e4b267" stroke-width="1.9" fill="none"/>
<path d="M1166.4,887.2 L1167.9,886.8 L1169.4,888.7 L1170.9,887.6 L1172.4,888.8 L1173.9,888.2 L1175.4,888.2 L1176.9,888.2 L1178.4,888.9 L1179.9,888.3 L1181.4,886.7 L1182.9,888.3 L1184.4,888.3 L1185.9,887.3 L1187.4,888.3 L1188.9,888.1 L1190.4,888.7 L1191.9,887.2 L1193.4,888.6 L1194.9,887.7 L1196.4,888.5 L1197.9,885.3 L1199.4,888.5 L1200.9,888.7 L1202.4,888.4 L1203.9,887.3 L1205.4,888 L1206.9,888.8 L1208.4,888.5 L1209.9,887.5 L1211.4,888.1 L1212.9,888.4 L1214.4,888 L1215.9,888.2 L1217.4,886.2 L1218.9,888.7 L1220.4,886.4 L1221.9,888.1 L1223.4,887.3 L1224.9,888.8 L1226.4,886.9 L1227.9,886.6 L1229.4,888.1 L1230.9,888.4 L1232.4,887.3 L1233.9,888.3 L1235.4,888 L1236.9,888.2 L1238.4,887.3 L1239.9,888 L1241.4,887.1 L1242.9,886.8 L1244.4,887.2 L1245.9,886.9 L1247.4,888.8 L1248.9,888.4 L1250.4,888.1 L1251.9,889 L1253.4,888.1 L1254.9,889 L1256.4,888.2 L1257.9,888.6 L1259.4,888.9 L1260.9,888.6 L1262.4,888.3 L1263.9,889 L1265.4,887.5 L1266.9,887.6 L1268.4,886.9 L1269.9,888.4 L1271.4,887.1 L1272.9,886.9 L1274.4,887.8 L1275.9,887.9 L1277.4,888.4 L1278.9,887.5 L1280.4,888.9 L1281.9,888.4 L1283.4,885.5 L1284.9,887.1 L1286.4,887.3 L1287.9,888.2 L1289.4,888.6 L1290.9,887.8 L1292.4,888.3 L1293.9,888.4 L1295.4,888.7 L1296.9,889 L1298.4,888.8 L1299.9,887.4 L1301.4,887 L1302.9,888.3 L1304.4,887.3 L1305.9,887.7 L1307.4,887.9 L1308.9,887.5 L1310.4,886.1 L1311.9,887.2 L1313.4,887.4 L1314.9,888.9 L1316.4,887.5 L1317.9,888.4 L1319.4,887.3 L1320.9,888.2 L1322.4,887.8 L1323.9,888.8 L1325.4,886.3 L1326.9,886.3 L1328.4,888.9 L1329.9,888.2 L1331.4,887.3 L1332.9,888.5 L1334.4,888.9 L1335.9,888.7 L1337.4,887.6 L1338.9,888.9 L1340.4,887.5 L1341.9,887.5 L1343.4,888.4 L1344.9,888.5 L1346.4,887.3 L1347.9,889 L1349.4,886.7 L1350.9,886.3 L1352.4,888.7 L1353.9,888.4 L1355.4,888.2 L1356.9,887 L1358.4,889 L1359.9,886.6 L1361.4,888.2 L1362.9,888 L1364.4,887.3 L1365.9,888.8 L1367.4,888.6 L1368.9,888.7 L1370.4,888.2 L1371.9,886.4 L1373.4,888.8 L1374.9,887.9 L1376.4,888.8 L1377.9,888.5 L1379.4,888.5 L1380.9,888.5 L1382.4,887.4 L1383.9,888.3 L1385.4,888.1 L1386.9,888.4 L1388.4,887.1 L1389.9,887.1 L1391.4,887.6 L1392.9,887.4 L1394.4,888.4 L1395.9,888.3 L1397.4,888.8 L1398.9,888.1 L1400.4,889 L1401.9,887.3 L1403.4,888.1 L1404.9,888.1 L1406.4,886.7 L1407.9,888.1 L1409.4,887.2 L1410.9,888.9 L1412.4,887 L1413.9,888.4 L1415.4,888.7 L1416.9,886.7 L1418.4,888.3 L1419.9,888.9 L1421.4,888.7 L1422.9,886.4 L1424.4,888.3 L1425.9,887.7 L1427.4,887.1 L1428.9,886.7 L1430.4,889 L1431.9,886.9 L1433.4,888.8 L1434.9,888.8 L1436.4,888 L1436.4,918.8 L1434.9,921.5 L1433.4,918.9 L1431.9,920.4 L1430.4,918.9 L1428.9,919.5 L1427.4,919.2 L1425.9,918.6 L1424.4,920.4 L1422.9,918.8 L1421.4,918.7 L1419.9,918.6 L1418.4,920.1 L1416.9,919.2 L1415.4,920.1 L1413.9,920.6 L1412.4,919 L1410.9,920.2 L1409.4,919.3 L1407.9,919.6 L1406.4,918.6 L1404.9,921.1 L1403.4,919.8 L1401.9,919.1 L1400.4,918.7 L1398.9,918.8 L1397.4,920.3 L1395.9,919 L1394.4,919.6 L1392.9,919 L1391.4,918.5 L1389.9,920.9 L1388.4,919.3 L1386.9,921.1 L1385.4,919.5 L1383.9,921.6 L1382.4,920.6 L1380.9,919.2 L1379.4,921.1 L1377.9,920.9 L1376.4,918.9 L1374.9,918.6 L1373.4,921.5 L1371.9,920.4 L1370.4,919.4 L1368.9,919.1 L1367.4,918.6 L1365.9,924.2 L1364.4,919.4 L1362.9,921.2 L1361.4,919.1 L1359.9,920.7 L1358.4,919.8 L1356.9,919.3 L1355.4,919.7 L1353.9,920.8 L1352.4,918.9 L1350.9,919 L1349.4,918.7 L1347.9,919.6 L1346.4,919.9 L1344.9,919 L1343.4,920.6 L1341.9,921.3 L1340.4,919.3 L1338.9,919.9 L1337.4,921.4 L1335.9,918.7 L1334.4,920.6 L1332.9,919 L1331.4,918.6 L1329.9,919 L1328.4,918.7 L1326.9,920.6 L1325.4,920.2 L1323.9,918.9 L1322.4,918.7 L1320.9,919 L1319.4,922.1 L1317.9,920.2 L1316.4,920.8 L1314.9,921.5 L1313.4,919.7 L1311.9,919.2 L1310.4,921.4 L1308.9,922.8 L1307.4,919.4 L1305.9,921.1 L1304.4,920.7 L1302.9,920.1 L1301.4,918.7 L1299.9,920.4 L1298.4,919.5 L1296.9,919 L1295.4,920.4 L1293.9,918.5 L1292.4,920.5 L1290.9,920.4 L1289.4,919.3 L1287.9,920.6 L1286.4,922.1 L1284.9,918.9 L1283.4,919.9 L1281.9,921.9 L1280.4,920.6 L1278.9,919.6 L1277.4,920.5 L1275.9,922.2 L1274.4,920.9 L1272.9,918.9 L1271.4,919.3 L1269.9,918.6 L1268.4,919.7 L1266.9,920.2 L1265.4,918.8 L1263.9,920.5 L1262.4,918.6 L1260.9,920.1 L1259.4,918.7 L1257.9,918.5 L1256.4,921.5 L1254.9,920.7 L1253.4,919.5 L1251.9,919.3 L1250.4,918.9 L1248.9,920.8 L1247.4,920.4 L1245.9,919.9 L1244.4,921 L1242.9,926.2 L1241.4,918.9 L1239.9,919.8 L1238.4,920.5 L1236.9,919.3 L1235.4,919 L1233.9,918.7 L1232.4,919.4 L1230.9,920 L1229.4,921.7 L1227.9,919.6 L1226.4,919.2 L1224.9,919.1 L1223.4,919.5 L1221.9,920.3 L1220.4,919.6 L1218.9,920 L1217.4,919.7 L1215.9,918.6 L1214.4,918.6 L1212.9,918.6 L1211.4,919.8 L1209.9,918.9 L1208.4,918.5 L1206.9,921.3 L1205.4,920 L1203.9,919.1 L1202.4,919.9 L1200.9,918.7 L1199.4,918.8 L1197.9,919.3 L1196.4,918.5 L1194.9,918.6 L1193.4,919.5 L1191.9,919.7 L1190.4,919.2 L1188.9,920.6 L1187.4,919.2 L1185.9,920.5 L1184.4,918.9 L1182.9,919.3 L1181.4,918.7 L1179.9,919.2 L1178.4,920.5 L1176.9,918.6 L1175.4,919.5 L1173.9,919.6 L1172.4,921.3 L1170.9,920 L1169.4,918.7 L1167.9,920.4 L1166.4,919Z" fill="#e0a854" stroke="#e0a854" stroke-width="0.6"/>
<path d="M1171.2 893V803.5M1173.1 893V824M1171.5 893V838.8M1175.4 893V823.3M1178.2 893V840.5M1179.5 893V810.8M1182.6 893V813.5M1181.1 893V878.7M1182.4 893V817.5M1184.6 893V817.1M1184.1 893V864.5M1188 893V834.2M1188.6 893V827M1195.3 893V818.8M1196.4 893V819.2M1198 893V837.3M1197.5 893V805.9M1201.4 893V827.2M1204.1 893V845.2M1202 893V878.2M1206.1 893V819.4M1206.9 893V816.8M1209.3 893V834.1M1212.2 893V825.6M1212.8 893V861.7M1214.8 893V858.6M1215.5 893V804.3M1216.5 893V810.9M1219.1 893V878.1M1222.3 893V821.5M1222.5 893V808.8M1223.3 893V851.6M1226.7 893V869M1224.4 893V822M1225 893V828.6M1225.3 893V848M1226.2 893V844.6M1228.5 893V815.9M1231.5 893V836.6M1230.3 893V816.9M1233.5 893V827.2M1230.9 893V810.7M1233.3 893V806.3M1233 893V863.7M1233.3 893V843.2M1235.6 893V827.5M1238.3 893V832.5M1241.2 893V875.6M1248.5 893V872M1250.1 893V859.9M1250.2 893V810.1M1257.3 893V869.4M1262.3 893V840.4M1262.4 893V813.8M1265.9 893V821M1264 893V829.2M1265.3 893V867.5M1270.8 893V822.5M1272.4 893V820.7M1272.7 893V809.8M1274.9 893V810.9M1272.7 893V818.9M1272.9 893V824.8M1278.2 893V826.4M1280.1 893V823.8M1279.5 893V870.2M1282.3 893V876.3M1280.1 893V808.9M1280.5 893V807M1281.2 893V838.5M1281.4 893V824.6M1282.7 893V817.2M1282.9 893V852.6M1283.7 893V816M1285.1 893V840.6M1296.2 893V809.7M1297.2 893V809.1M1298.8 893V870.4M1303.3 893V845.2M1308.1 893V869.4M1311.5 893V815.2M1313.1 893V817.8M1311.8 893V819.8M1311.9 893V806.1M1313.6 893V809.5M1314.2 893V873.5M1317.6 893V892.3M1315.5 893V810.4M1321.9 893V846.7M1324.5 893V855.2M1323.4 893V869.8M1323.5 893V862M1324 893V800.9M1325.5 893V856.1M1326.8 893V822.3M1330.4 893V834.5M1331.7 893V817.7M1331.8 893V818.5M1333.8 893V836.4M1337.5 893V822.9M1338.4 893V872.9M1339.6 893V859M1341.1 893V872.4M1340.8 893V850.9M1343.6 893V809.5M1348.8 893V824.2M1350.7 893V830.7M1350.3 893V852.6M1352.3 893V849.5M1350.5 893V869.3M1352.2 893V821.7M1355.5 893V842.4M1353.6 893V843.4M1355.2 893V838.8M1357 893V874.3M1358.9 893V884.7M1357.3 893V818.4M1357.4 893V820.6M1364.1 893V848M1367.5 893V852.9M1364.2 893V856.2M1366.9 893V811.3M1368.6 893V826M1370 893V813.9M1371.6 893V831.2M1371.2 893V807.5M1372.6 893V834.9M1374.2 893V849.6M1383.3 893V878.8M1384.1 893V860.2M1387.3 893V865.9M1385.5 893V818.9M1387.2 893V853.8M1390 893V808.5M1392.3 893V849.5M1393.4 893V821.1M1396.4 893V824.2M1393.7 893V825.8M1397.5 893V853.7M1402.5 893V805.4M1405.6 893V808.8M1405 893V878.7M1407.2 893V800.2M1407.9 893V812.1M1409.1 893V827.3M1412.5 893V842.7M1414.1 893V812.5M1414.3 893V838M1416.7 893V834.7M1419.9 893V868.4M1421.2 893V870.6M1421.6 893V803.8M1425 893V824.5M1424.3 893V841M1424.9 893V846.3M1428 893V800.2M1429.6 893V809.7M1434.3 893V806.8M1435 893V801.5M1185 893V791M1266.5 893V702.5M1270 893V732.5M1327.5 893V731.5M1353.5 893V780M1436.5 893V725" stroke="#e0a854" stroke-width="1.9" fill="none"/>
<path d="M1443.5,888 L1445,885.1 L1446.5,886.4 L1448,887.7 L1449.5,885.6 L1451,887.6 L1452.5,887.1 L1454,886.4 L1455.5,886.3 L1457,886.8 L1458.5,886.9 L1460,887.9 L1461.5,884.6 L1463,887.9 L1464.5,886.9 L1466,887.4 L1467.5,885.5 L1469,885.8 L1470.5,886.6 L1472,887.5 L1473.5,887.1 L1475,887.2 L1476.5,885.3 L1478,887.2 L1479.5,886.3 L1481,885.3 L1482.5,887.7 L1484,885.9 L1485.5,887.8 L1487,887.4 L1488.5,887.5 L1490,886.8 L1491.5,886.3 L1493,887.8 L1494.5,887.6 L1496,886.7 L1497.5,886.3 L1499,886.8 L1500.5,884.6 L1502,887.8 L1503.5,886.6 L1505,887.7 L1506.5,887.3 L1508,886.4 L1509.5,887.5 L1511,888 L1512.5,888 L1514,887.2 L1515.5,885.7 L1517,886 L1518.5,886.9 L1520,887.5 L1521.5,886.3 L1523,887.5 L1524.5,886.1 L1526,887.2 L1527.5,886.7 L1529,887.6 L1530.5,886.3 L1532,885.1 L1533.5,888 L1535,887 L1536.5,887.5 L1538,886.9 L1539.5,884.6 L1541,887.5 L1542.5,887.6 L1544,887.3 L1545.5,887 L1547,886.8 L1548.5,886.4 L1550,887.9 L1551.5,887.7 L1553,887.6 L1554.5,887.8 L1556,886.3 L1557.5,885.9 L1559,887.4 L1560.5,886.8 L1562,887 L1563.5,886.6 L1565,887.6 L1566.5,887.5 L1568,887.3 L1569.5,887.4 L1571,887.9 L1572.5,886.6 L1574,887.2 L1575.5,887.8 L1577,887.4 L1578.5,887.6 L1580,887.5 L1581.5,886.1 L1583,887.4 L1584.5,887.6 L1586,887.6 L1587.5,886.9 L1589,886 L1590.5,887.3 L1592,886.9 L1593.5,886.8 L1595,886.5 L1596.5,887.5 L1598,887.1 L1599.5,887.9 L1601,887.3 L1602.5,886.8 L1604,885.8 L1605.5,887.5 L1607,886.8 L1608.5,886.1 L1610,887.9 L1611.5,887.3 L1613,885.7 L1614.5,887.6 L1616,887.8 L1617.5,887.4 L1619,887.7 L1620.5,886.3 L1622,886.8 L1623.5,886.6 L1625,887.9 L1626.5,887.6 L1628,887.6 L1629.5,887.6 L1631,885.8 L1632.5,887.5 L1634,886.9 L1635.5,888 L1637,887.4 L1638.5,887.9 L1640,887.6 L1641.5,887.5 L1643,885.5 L1644.5,886.9 L1646,887.5 L1647.5,887 L1649,887.8 L1650.5,887.7 L1652,886.7 L1653.5,887.3 L1655,887 L1656.5,886 L1658,887.2 L1659.5,887.3 L1661,887.3 L1662.5,886.6 L1664,887.6 L1665.5,887.4 L1667,886.8 L1668.5,886.5 L1670,887.9 L1671.5,885.7 L1673,885.4 L1674.5,886.9 L1676,886 L1677.5,887.3 L1679,886.6 L1680.5,887.6 L1682,887.9 L1683.5,887.7 L1685,887.7 L1686.5,887.8 L1688,887.5 L1689.5,887.4 L1691,887 L1692.5,887.4 L1694,886.9 L1695.5,887.5 L1697,886 L1698.5,887.7 L1700,886.1 L1701.5,886.5 L1703,887.1 L1704.5,887.3 L1706,887.3 L1707.5,887.8 L1709,885.2 L1710.5,887.9 L1712,887.6 L1713.5,887.3 L1713.5,919.4 L1712,917.5 L1710.5,918.8 L1709,918.9 L1707.5,917.8 L1706,917.6 L1704.5,919.3 L1703,919.1 L1701.5,918.3 L1700,918.8 L1698.5,920.2 L1697,918.7 L1695.5,917.7 L1694,919.3 L1692.5,918.3 L1691,917.9 L1689.5,917.3 L1688,918.2 L1686.5,917.4 L1685,917.9 L1683.5,919.4 L1682,917.9 L1680.5,917.5 L1679,917.4 L1677.5,917.6 L1676,917.6 L1674.5,917.3 L1673,918.8 L1671.5,917.6 L1670,918.7 L1668.5,917.2 L1667,919.1 L1665.5,921 L1664,917.1 L1662.5,917.4 L1661,920.3 L1659.5,917.3 L1658,917.7 L1656.5,917.3 L1655,918.7 L1653.5,919.2 L1652,919.3 L1650.5,918.1 L1649,917.6 L1647.5,918.8 L1646,918.6 L1644.5,918.8 L1643,917.3 L1641.5,917.1 L1640,917.7 L1638.5,918.8 L1637,919.4 L1635.5,920.4 L1634,917.3 L1632.5,917.7 L1631,917.1 L1629.5,917.7 L1628,917 L1626.5,918.9 L1625,917.2 L1623.5,917 L1622,918.3 L1620.5,917.6 L1619,917.3 L1617.5,918.4 L1616,917.5 L1614.5,917.2 L1613,919.6 L1611.5,917 L1610,917.2 L1608.5,918.1 L1607,918.6 L1605.5,918.2 L1604,918.6 L1602.5,918.5 L1601,917.3 L1599.5,917.1 L1598,918.8 L1596.5,917.2 L1595,917.2 L1593.5,920.3 L1592,918 L1590.5,917 L1589,917.5 L1587.5,917.4 L1586,918.2 L1584.5,917.1 L1583,918.7 L1581.5,919.9 L1580,918.4 L1578.5,918.5 L1577,918.6 L1575.5,917.7 L1574,919.4 L1572.5,917.3 L1571,919 L1569.5,919 L1568,918.4 L1566.5,919.2 L1565,917.4 L1563.5,917.7 L1562,917.3 L1560.5,917.3 L1559,919 L1557.5,918.2 L1556,917.4 L1554.5,918.1 L1553,919.7 L1551.5,920 L1550,917.2 L1548.5,918.7 L1547,918.2 L1545.5,918.1 L1544,919.6 L1542.5,920 L1541,917.4 L1539.5,917.3 L1538,918.1 L1536.5,917.7 L1535,919.6 L1533.5,918.3 L1532,919.2 L1530.5,917.8 L1529,917.3 L1527.5,917.6 L1526,917.3 L1524.5,917.3 L1523,917.3 L1521.5,917.4 L1520,917.7 L1518.5,918.1 L1517,919.1 L1515.5,917.9 L1514,917.7 L1512.5,917.3 L1511,917.1 L1509.5,918.7 L1508,919 L1506.5,917.5 L1505,917.7 L1503.5,917.6 L1502,917.1 L1500.5,919.7 L1499,919.3 L1497.5,919.6 L1496,917.1 L1494.5,918.1 L1493,917.3 L1491.5,917.4 L1490,917.8 L1488.5,917.3 L1487,917.8 L1485.5,918.3 L1484,917.6 L1482.5,917.4 L1481,918.1 L1479.5,919.3 L1478,918.9 L1476.5,918.9 L1475,922.1 L1473.5,919 L1472,920.8 L1470.5,918.9 L1469,917.2 L1467.5,918.6 L1466,918.9 L1464.5,918 L1463,918.6 L1461.5,917.5 L1460,917.3 L1458.5,918.4 L1457,917.4 L1455.5,918.1 L1454,918.5 L1452.5,917.7 L1451,917.7 L1449.5,917.6 L1448,919.5 L1446.5,917.7 L1445,918.4 L1443.5,919.7Z" fill="#dc9e40" stroke="#dc9e40" stroke-width="0.6"/>
<path d="M1449.4 892V849.1M1449.6 892V816.1M1450.1 892V817.3M1450.4 892V841.9M1451.3 892V802.4M1451.4 892V801.9M1452.5 892V797.1M1454.3 892V794.1M1455.2 892V816.8M1458.9 892V803.3M1459 892V803.2M1461.3 892V812.5M1462.6 892V811.8M1463.2 892V810.4M1465.7 892V820.1M1464.2 892V796.5M1467.8 892V856.1M1468.5 892V800.8M1470.7 892V805.3M1468.5 892V850.6M1469.4 892V861.1M1470.4 892V820M1472.6 892V824.5M1470.7 892V823M1473.5 892V822.7M1472.1 892V802.7M1473.2 892V804M1474.8 892V826.5M1476 892V819.4M1477.2 892V851.9M1478.1 892V805.3M1480 892V822.5M1481.6 892V864.9M1483.8 892V854.6M1487.3 892V871.1M1484.6 892V800.5M1486.6 892V860.9M1487.1 892V815.4M1491.2 892V815.9M1493.4 892V840.7M1493.4 892V837.8M1496.4 892V804.4M1497.4 892V802.9M1500.4 892V814.4M1499.5 892V836.4M1501.6 892V854.1M1503.1 892V826.7M1505.1 892V810M1508.2 892V824M1506.4 892V807.1M1509.5 892V831.3M1507.6 892V813.9M1508.1 892V813M1511.2 892V813.5M1511.9 892V804.8M1514.7 892V807.8M1512.1 892V860.6M1515.2 892V871.5M1514.6 892V840.8M1516.3 892V846.7M1516.3 892V804M1519.2 892V812.7M1522 892V843M1522 892V826M1525.8 892V866.8M1529.1 892V863M1525.8 892V814.8M1527.3 892V800.1M1532.3 892V807.8M1533 892V867.5M1533.1 892V872.3M1534.2 892V870.2M1537.6 892V890.3M1535.1 892V861.3M1538 892V879.7M1535.8 892V817.5M1539.2 892V819.4M1537 892V816.8M1540.8 892V830.8M1546.6 892V867.5M1548.8 892V867.9M1547.2 892V845M1547.4 892V814.3M1549.1 892V816.2M1548.4 892V818.3M1551.8 892V813.3M1548.6 892V829.3M1557.4 892V860.4M1559.7 892V882.3M1563 892V806.8M1564.1 892V803.6M1566.2 892V801.8M1565.8 892V803.7M1567.5 892V820M1568.1 892V873.9M1569.1 892V859.1M1569.2 892V820.3M1572 892V840.9M1570.1 892V867.2M1573 892V798.6M1573.6 892V848.6M1579.1 892V809.7M1581.5 892V813.5M1582.1 892V816.8M1582.3 892V850.6M1584.4 892V863M1582.5 892V839.6M1584.2 892V840.9M1584.2 892V811.3M1585.7 892V817.8M1588.6 892V838.8M1588.6 892V798.3M1591.1 892V807.8M1589.5 892V818.9M1590.6 892V853.9M1593.5 892V845.9M1594.9 892V814.5M1600.1 892V812.5M1602.7 892V812.1M1606.8 892V872.2M1607.9 892V799.8M1611.4 892V798.8M1611.7 892V811.5M1614.3 892V799.6M1616.4 892V809.1M1614.5 892V806.2M1617.5 892V801.5M1617.9 892V801.3M1619.3 892V854.6M1619.6 892V808.6M1623.1 892V809M1623 892V877.3M1624.7 892V879.6M1623.6 892V808.5M1626.3 892V817.5M1626.8 892V812.7M1629.4 892V843.6M1631.5 892V858.4M1629.4 892V803.2M1632.7 892V811.1M1631.5 892V859.4M1634.9 892V825.7M1637.8 892V822.8M1639.9 892V806.7M1644.2 892V798.1M1646.3 892V813.1M1647.4 892V858.8M1651.4 892V803.5M1654.6 892V799.9M1656.2 892V805M1658.7 892V813.1M1661.7 892V828.4M1665.4 892V804.3M1665.8 892V839.9M1665.9 892V840M1668.6 892V845.8M1668.9 892V815M1669.9 892V834.4M1672.4 892V835.7M1672.9 892V812.4M1673.2 892V839.6M1674.3 892V812.8M1674.5 892V814.6M1677.2 892V837.4M1683.2 892V877.1M1685.4 892V863.1M1687.8 892V862.2M1685.5 892V816.2M1685.9 892V798.3M1688.2 892V824.6M1689.2 892V874.3M1692 892V813.1M1695.5 892V817M1696.7 892V877M1698.1 892V828.4M1699.8 892V829.5M1700.5 892V876.5M1703 892V851.9M1704 892V818.7M1705.2 892V804.4M1706.2 892V820.4M1706.5 892V806.2M1706.9 892V867.1M1709.1 892V865.8M1711.7 892V811.3M1713.8 892V808M1455 892V730M1538 892V690M1565 892V726M1568.5 892V717.5M1603.5 892V686.5M1670 892V732.5M1680.5 892V766M1689.5 892V779M1708.5 892V686.5" stroke="#dc9e40" stroke-width="1.9" fill="none"/>
<path d="M1720,885 L1721.5,885.8 L1723,886 L1724.5,885.9 L1726,885.6 L1727.5,885.9 L1729,885.5 L1730.5,886.3 L1732,885.1 L1733.5,886.3 L1735,885.2 L1736.5,885.8 L1738,885.5 L1739.5,886.4 L1741,884.9 L1742.5,884.6 L1744,883.9 L1745.5,886 L1747,885.9 L1748.5,886.3 L1750,885.9 L1751.5,882.7 L1753,885 L1754.5,886.4 L1756,886.4 L1757.5,885 L1759,884.8 L1760.5,885.6 L1762,886 L1763.5,885.9 L1765,885.4 L1766.5,884.9 L1768,886 L1769.5,884.6 L1771,885.3 L1772.5,885 L1774,882.6 L1775.5,885.4 L1777,885.8 L1778.5,885.7 L1780,884.8 L1781.5,886 L1783,886.4 L1784.5,885.1 L1786,886.1 L1787.5,885.9 L1789,885.8 L1790.5,885.1 L1792,886.2 L1793.5,884.5 L1795,885.6 L1796.5,885.4 L1798,885.4 L1799.5,886 L1801,886.4 L1802.5,886.2 L1804,886.3 L1805.5,885.6 L1807,885.9 L1808.5,883.8 L1810,885.6 L1811.5,885.8 L1813,883.9 L1814.5,883.4 L1816,886.5 L1817.5,886.3 L1819,885.1 L1820.5,885 L1822,886.3 L1823.5,885.4 L1825,886 L1826.5,884.7 L1828,885.6 L1829.5,883.6 L1831,885 L1832.5,885.9 L1834,886.5 L1835.5,885.8 L1837,884.9 L1838.5,885.4 L1840,885.1 L1841.5,886.2 L1843,885.5 L1844.5,884.9 L1846,886.3 L1847.5,884.8 L1849,884.2 L1850.5,885.7 L1852,885.9 L1853.5,886.2 L1855,886.2 L1856.5,884.2 L1858,886.3 L1859.5,884.6 L1861,886.2 L1862.5,886.4 L1864,885 L1865.5,886.3 L1867,886 L1868.5,886.1 L1870,886 L1871.5,884.7 L1873,885.2 L1874.5,886.3 L1876,885.7 L1877.5,886.2 L1879,886 L1880.5,885.5 L1882,886.2 L1883.5,884.9 L1885,886.1 L1886.5,884.6 L1888,885.7 L1889.5,884.1 L1891,885.4 L1892.5,884.9 L1894,886.2 L1895.5,885.5 L1897,886.4 L1898.5,884.4 L1900,886 L1901.5,883.7 L1903,886.3 L1904.5,885.8 L1906,886.1 L1907.5,886.3 L1909,886.1 L1910.5,885.9 L1912,883.6 L1913.5,886.5 L1915,886.3 L1916.5,885.6 L1918,884.8 L1919.5,884.4 L1921,885.6 L1922.5,884 L1924,884.6 L1925.5,885.4 L1927,886.1 L1928.5,885 L1930,886.5 L1931.5,886.5 L1933,885 L1934.5,885.5 L1936,886 L1937.5,886.4 L1939,886.1 L1940.5,885.7 L1942,884.2 L1943.5,884.3 L1945,885.6 L1946.5,886.2 L1948,885.2 L1949.5,883.4 L1951,884.2 L1952.5,886 L1954,884 L1955.5,886.4 L1957,885.8 L1958.5,883.4 L1960,885.1 L1961.5,886 L1963,886.2 L1964.5,884.6 L1966,885.7 L1967.5,885.5 L1969,886 L1970.5,884.9 L1972,886.2 L1973.5,886.3 L1975,885 L1976.5,885.4 L1978,885.5 L1979.5,885.2 L1981,885.9 L1982.5,886.2 L1984,885.8 L1985.5,885.9 L1987,885.9 L1988.5,885.7 L1990,884.7 L1991.5,885.6 L1991.5,919.7 L1990,915.8 L1988.5,916.9 L1987,916.5 L1985.5,917.6 L1984,917.7 L1982.5,915.6 L1981,915.8 L1979.5,917.2 L1978,916.1 L1976.5,917 L1975,915.6 L1973.5,916.3 L1972,916.3 L1970.5,916.1 L1969,915.5 L1967.5,917 L1966,915.9 L1964.5,916.8 L1963,917.1 L1961.5,917.4 L1960,917.3 L1958.5,915.6 L1957,918.4 L1955.5,917.1 L1954,916.6 L1952.5,917.5 L1951,915.5 L1949.5,916.4 L1948,915.5 L1946.5,915.6 L1945,916 L1943.5,916.3 L1942,916.2 L1940.5,916.1 L1939,915.6 L1937.5,915.7 L1936,916.9 L1934.5,916.2 L1933,917.1 L1931.5,916.4 L1930,916.5 L1928.5,916.1 L1927,917.5 L1925.5,916.9 L1924,916.1 L1922.5,916.7 L1921,916.7 L1919.5,915.9 L1918,917.6 L1916.5,916 L1915,915.8 L1913.5,916.9 L1912,915.4 L1910.5,916.1 L1909,915.8 L1907.5,916.6 L1906,916 L1904.5,915.9 L1903,917.2 L1901.5,915.6 L1900,916.8 L1898.5,915.9 L1897,915.5 L1895.5,916.1 L1894,915.8 L1892.5,918 L1891,917.2 L1889.5,917.6 L1888,918.7 L1886.5,918.4 L1885,917.9 L1883.5,915.8 L1882,916.3 L1880.5,918.2 L1879,916.2 L1877.5,917.1 L1876,916.4 L1874.5,916.8 L1873,915.4 L1871.5,915.8 L1870,916.3 L1868.5,916.6 L1867,915.4 L1865.5,917.7 L1864,916.3 L1862.5,917 L1861,919 L1859.5,917.5 L1858,915.5 L1856.5,916.3 L1855,916 L1853.5,915.6 L1852,921.5 L1850.5,917 L1849,915.6 L1847.5,916.3 L1846,917.7 L1844.5,916.3 L1843,915.5 L1841.5,915.8 L1840,916.7 L1838.5,915.8 L1837,916.2 L1835.5,915.8 L1834,915.8 L1832.5,916.1 L1831,917.6 L1829.5,916.6 L1828,916.7 L1826.5,916.8 L1825,917.7 L1823.5,916.1 L1822,916.5 L1820.5,916.9 L1819,916.3 L1817.5,916.5 L1816,917 L1814.5,915.7 L1813,916.9 L1811.5,917.3 L1810,915.8 L1808.5,917.5 L1807,915.5 L1805.5,917.6 L1804,916.1 L1802.5,916.3 L1801,916.2 L1799.5,916 L1798,916.8 L1796.5,917.3 L1795,915.4 L1793.5,917.2 L1792,916.2 L1790.5,915.8 L1789,916.9 L1787.5,915.7 L1786,915.7 L1784.5,916.5 L1783,915.8 L1781.5,915.9 L1780,917 L1778.5,915.8 L1777,918 L1775.5,915.4 L1774,916.6 L1772.5,917.1 L1771,915.8 L1769.5,917.1 L1768,918.2 L1766.5,917.8 L1765,915.6 L1763.5,915.5 L1762,916.2 L1760.5,915.9 L1759,915.6 L1757.5,916.4 L1756,919 L1754.5,916.9 L1753,917.6 L1751.5,916.7 L1750,917.3 L1748.5,918.3 L1747,915.8 L1745.5,916.7 L1744,916.5 L1742.5,916.8 L1741,916.9 L1739.5,916 L1738,917 L1736.5,917.6 L1735,917.2 L1733.5,917.2 L1732,916 L1730.5,915.8 L1729,916.9 L1727.5,916 L1726,915.7 L1724.5,918 L1723,917.1 L1721.5,915.5 L1720,915.7Z" fill="#d8942d" stroke="#d8942d" stroke-width="0.6"/>
<path d="M1724.8 890.5V819.1M1727.2 890.5V841.8M1725.5 890.5V806.1M1729.2 890.5V870.3M1730.1 890.5V817.7M1733.4 890.5V820.3M1734.8 890.5V819.2M1736.5 890.5V816.5M1737 890.5V811.8M1739.7 890.5V837.8M1744.4 890.5V795.5M1745.1 890.5V826.2M1748.8 890.5V810.7M1751.3 890.5V822.5M1749.4 890.5V830.8M1750.6 890.5V845.8M1754 890.5V844.6M1754 890.5V865.7M1762.4 890.5V808.6M1766.2 890.5V809.8M1767.4 890.5V802.4M1769 890.5V830M1769.5 890.5V815.7M1771.1 890.5V831.5M1772.2 890.5V806.8M1775.2 890.5V800.1M1777.6 890.5V807.5M1776.9 890.5V794.6M1779.6 890.5V797.5M1777.7 890.5V865.1M1780.1 890.5V867.2M1780 890.5V818.5M1780.4 890.5V825.5M1784 890.5V814.7M1784.3 890.5V805.4M1785.3 890.5V813.4M1788.7 890.5V800.5M1792.1 890.5V802.9M1791.9 890.5V837.4M1795.1 890.5V810.6M1797 890.5V827.1M1797.1 890.5V856.9M1797.6 890.5V874.7M1797.8 890.5V797.1M1798.1 890.5V794M1799.1 890.5V802.4M1800.8 890.5V821.9M1799.1 890.5V875.3M1799.9 890.5V823.2M1801.8 890.5V828.5M1799.9 890.5V856.7M1801.8 890.5V831.3M1804.5 890.5V846.7M1802.1 890.5V808.1M1804 890.5V869.1M1804.8 890.5V835.9M1808.3 890.5V846.3M1805.4 890.5V817.2M1806 890.5V803.2M1806.6 890.5V820.3M1809.5 890.5V821.4M1808.2 890.5V827.7M1811.1 890.5V830.4M1809.3 890.5V800.9M1811.4 890.5V815M1814.1 890.5V820.7M1813.4 890.5V808.6M1820.7 890.5V799.3M1823.7 890.5V806.2M1821.6 890.5V845.4M1823.8 890.5V843.1M1821.7 890.5V830.8M1823.5 890.5V842.8M1822.1 890.5V855.2M1824.6 890.5V795.2M1825.9 890.5V868.7M1826 890.5V830.4M1826.4 890.5V814.6M1828.2 890.5V837M1832.9 890.5V825.7M1833.6 890.5V816.6M1836.1 890.5V823.6M1835.5 890.5V836.9M1836 890.5V802.1M1836.9 890.5V849.9M1837.8 890.5V840.5M1840.5 890.5V837.8M1840.4 890.5V840.2M1848.1 890.5V807.9M1850.7 890.5V813.7M1849 890.5V793M1851.4 890.5V815.3M1852.4 890.5V821.3M1855.2 890.5V850.3M1856.9 890.5V810.5M1859.3 890.5V845.9M1862.2 890.5V850.4M1859.7 890.5V812M1860.4 890.5V817.9M1862.6 890.5V823.8M1860.6 890.5V814.5M1862.7 890.5V825.4M1867.7 890.5V801.2M1870.6 890.5V870.8M1871.2 890.5V801.5M1872.4 890.5V850.1M1873 890.5V816.1M1875.8 890.5V834.5M1878.4 890.5V850.2M1881.4 890.5V872M1883 890.5V880.7M1884.1 890.5V800M1886.1 890.5V811.3M1885.1 890.5V871.6M1889.2 890.5V837.6M1892.4 890.5V851.1M1890 890.5V801.6M1892.6 890.5V799.6M1897.7 890.5V826.7M1900.2 890.5V840.8M1902.7 890.5V793.7M1905.4 890.5V863.8M1906.1 890.5V872.3M1908.1 890.5V889M1907.7 890.5V840.8M1908 890.5V818.8M1908.4 890.5V865.5M1910.3 890.5V799.5M1912 890.5V847.8M1914.2 890.5V866M1916.1 890.5V809.6M1919.7 890.5V854.3M1921.9 890.5V833.7M1924.2 890.5V835M1924.8 890.5V806.3M1929 890.5V805.4M1931.7 890.5V806.3M1930.9 890.5V843.6M1933.8 890.5V858.2M1933.2 890.5V806.8M1933.3 890.5V808M1934.5 890.5V813.9M1940.6 890.5V793.8M1940.8 890.5V865.6M1943.8 890.5V873.5M1941.8 890.5V852.3M1944.1 890.5V822.5M1947.9 890.5V855.7M1951.1 890.5V877.9M1949 890.5V817M1949.1 890.5V807.5M1951.5 890.5V808.2M1952.4 890.5V815.9M1955.4 890.5V814.9M1952.8 890.5V808.9M1954.6 890.5V808.4M1954.8 890.5V836.3M1955.5 890.5V796.2M1960.1 890.5V804.8M1960.7 890.5V811.2M1960.9 890.5V808.6M1963.8 890.5V817.7M1965.2 890.5V813.3M1966.9 890.5V836.4M1965.7 890.5V793.2M1966.1 890.5V812M1970.6 890.5V811.7M1972.4 890.5V826.2M1975.7 890.5V848.7M1977.1 890.5V853M1978.1 890.5V806.3M1980.3 890.5V831.3M1979 890.5V802.7M1981.5 890.5V808.6M1981.9 890.5V833.9M1985 890.5V842.7M1982.4 890.5V816.6M1983 890.5V857.8M1983.2 890.5V798.3M1986.3 890.5V847.7M1989 890.5V819.9M1991.3 890.5V816.5M1989.6 890.5V817.1M1989.8 890.5V858.4M1991.9 890.5V855.2M1767 890.5V757.5M1785 890.5V762.5M1792 890.5V656M1813 890.5V787.5M1839 890.5V662.5M1856.5 890.5V762.5M1877.5 890.5V690M1925.5 890.5V761.5M1966 890.5V732.5M1984 890.5V790" stroke="#d8942d" stroke-width="1.9" fill="none"/>
<path d="M38 928V949H61" fill="none" stroke="#231f20" stroke-width="1.6"/>
<text transform="translate(29 927.5) rotate(-90)" x="0" y="0" font-size="17" text-anchor="middle" textLength="49" lengthAdjust="spacingAndGlyphs" fill="#231f20">20 pA</text>
<text x="34" y="970" font-size="17" textLength="33.6" lengthAdjust="spacingAndGlyphs" fill="#231f20">10 s</text>
<text x="143" y="962" font-size="29.5" textLength="91.4" lengthAdjust="spacingAndGlyphs" fill="#231f20" stroke="#fff" stroke-width="0.6">0.2 pM</text>
<text x="424.3" y="962" font-size="29.5" textLength="66.5" lengthAdjust="spacingAndGlyphs" fill="#231f20" stroke="#fff" stroke-width="0.6">2 pM</text>
<text x="698.5" y="965.7" font-size="29.5" textLength="83.5" lengthAdjust="spacingAndGlyphs" fill="#231f20" stroke="#fff" stroke-width="0.6">20 pM</text>
<text x="971.7" y="965.7" font-size="29.5" textLength="100.2" lengthAdjust="spacingAndGlyphs" fill="#231f20" stroke="#fff" stroke-width="0.6">200 pM</text>
<text x="1245.9" y="965.5" font-size="29.5" textLength="65.8" lengthAdjust="spacingAndGlyphs" fill="#231f20" stroke="#fff" stroke-width="0.6">2 nM</text>
<text x="1519.3" y="965.5" font-size="29.5" textLength="83.9" lengthAdjust="spacingAndGlyphs" fill="#231f20" stroke="#fff" stroke-width="0.6">20 nM</text>
<text x="1793" y="965.5" font-size="29.5" textLength="100" lengthAdjust="spacingAndGlyphs" fill="#231f20" stroke="#fff" stroke-width="0.6">200 nM</text>
<text x="0.5" y="1078" font-size="48" textLength="22" lengthAdjust="spacingAndGlyphs" fill="#231f20" stroke="#fff" stroke-width="1.1">c</text>
<g fill="#4464ae" fill-opacity="0.36"><circle cx="283.6" cy="1414.6" r="6.6"/><circle cx="343.2" cy="1424.6" r="6.6"/><circle cx="286.1" cy="1422" r="6.6"/><circle cx="276.3" cy="1419.7" r="6.6"/><circle cx="386.9" cy="1431.8" r="6.6"/><circle cx="313.9" cy="1421.6" r="6.6"/><circle cx="350.9" cy="1423.5" r="6.6"/><circle cx="284.8" cy="1418.1" r="6.6"/><circle cx="351.9" cy="1423.8" r="6.6"/><circle cx="370.3" cy="1421.3" r="6.6"/><circle cx="391" cy="1430.8" r="6.6"/><circle cx="337.2" cy="1424.9" r="6.6"/><circle cx="312" cy="1424.3" r="6.6"/><circle cx="297.1" cy="1425.1" r="6.6"/><circle cx="376.7" cy="1424.1" r="6.6"/><circle cx="326.3" cy="1422.7" r="6.6"/><circle cx="277.9" cy="1418.1" r="6.6"/><circle cx="321.6" cy="1422.8" r="6.6"/><circle cx="352.3" cy="1419.1" r="6.6"/><circle cx="381" cy="1427.6" r="6.6"/><circle cx="271.6" cy="1418.3" r="6.6"/><circle cx="311" cy="1426.1" r="6.6"/><circle cx="381.6" cy="1427.7" r="6.6"/><circle cx="310.2" cy="1420.6" r="6.6"/><circle cx="287.6" cy="1422.8" r="6.6"/><circle cx="325.4" cy="1418.6" r="6.6"/><circle cx="274.3" cy="1417.8" r="6.6"/><circle cx="374" cy="1429.2" r="6.6"/><circle cx="306.3" cy="1418.6" r="6.6"/><circle cx="278.7" cy="1418.2" r="6.6"/><circle cx="270.5" cy="1416.2" r="6.6"/><circle cx="326.2" cy="1421.9" r="6.6"/><circle cx="360.6" cy="1419.4" r="6.6"/><circle cx="275.2" cy="1417.1" r="6.6"/><circle cx="380.3" cy="1422.5" r="6.6"/><circle cx="368.9" cy="1419.7" r="6.6"/><circle cx="279.2" cy="1420.3" r="6.6"/><circle cx="304.4" cy="1415.9" r="6.6"/><circle cx="329.6" cy="1428.1" r="6.6"/><circle cx="294.8" cy="1418.6" r="6.6"/><circle cx="300" cy="1424.5" r="6.6"/><circle cx="386" cy="1429.5" r="6.6"/><circle cx="322.4" cy="1416.6" r="6.6"/><circle cx="361.5" cy="1424.7" r="6.6"/><circle cx="275.9" cy="1418.5" r="6.6"/><circle cx="298.3" cy="1412.7" r="6.6"/><circle cx="360.9" cy="1425.7" r="6.6"/><circle cx="350.8" cy="1416.9" r="6.6"/><circle cx="365.8" cy="1426.6" r="6.6"/><circle cx="286.3" cy="1420" r="6.6"/><circle cx="285.5" cy="1422.7" r="6.6"/><circle cx="366.5" cy="1422.6" r="6.6"/><circle cx="363.1" cy="1424.4" r="6.6"/><circle cx="312.7" cy="1423.1" r="6.6"/><circle cx="393.3" cy="1425.8" r="6.6"/><circle cx="298.2" cy="1415.4" r="6.6"/><circle cx="275.1" cy="1411.3" r="6.6"/><circle cx="347.6" cy="1424.6" r="6.6"/><circle cx="330.2" cy="1416.9" r="6.6"/><circle cx="344.4" cy="1425.9" r="6.6"/><circle cx="272.3" cy="1417" r="6.6"/><circle cx="337.4" cy="1423.4" r="6.6"/><circle cx="308.4" cy="1420.3" r="6.6"/><circle cx="311.8" cy="1421.1" r="6.6"/><circle cx="307.2" cy="1422.6" r="6.6"/><circle cx="382.4" cy="1432.7" r="6.6"/><circle cx="278.3" cy="1416.5" r="6.6"/><circle cx="388.8" cy="1422.6" r="6.6"/><circle cx="355.7" cy="1418.1" r="6.6"/><circle cx="369" cy="1420" r="6.6"/><circle cx="285.6" cy="1422.6" r="6.6"/><circle cx="273.7" cy="1421.2" r="6.6"/><circle cx="358" cy="1425.5" r="6.6"/><circle cx="363.2" cy="1422.6" r="6.6"/><circle cx="366.9" cy="1431.2" r="6.6"/><circle cx="284.8" cy="1419" r="6.6"/><circle cx="330.2" cy="1419.8" r="6.6"/><circle cx="343.8" cy="1425.5" r="6.6"/><circle cx="297.7" cy="1417.6" r="6.6"/><circle cx="312.5" cy="1413" r="6.6"/><circle cx="304" cy="1419.3" r="6.6"/><circle cx="319.7" cy="1419.4" r="6.6"/><circle cx="352.3" cy="1422.3" r="6.6"/><circle cx="299.9" cy="1426.4" r="6.6"/><circle cx="279.5" cy="1415.2" r="6.6"/><circle cx="336.6" cy="1421.8" r="6.6"/><circle cx="287" cy="1417.6" r="6.6"/><circle cx="366.2" cy="1422.6" r="6.6"/><circle cx="381.1" cy="1424.1" r="6.6"/><circle cx="305.1" cy="1421.5" r="6.6"/><circle cx="310.3" cy="1419.6" r="6.6"/><circle cx="377.9" cy="1422.1" r="6.6"/><circle cx="361.3" cy="1420.1" r="6.6"/><circle cx="366.1" cy="1426.6" r="6.6"/><circle cx="338.7" cy="1424.6" r="6.6"/><circle cx="337.4" cy="1424.6" r="6.6"/><circle cx="356.3" cy="1426.5" r="6.6"/><circle cx="329.9" cy="1421.8" r="6.6"/><circle cx="281.1" cy="1419.7" r="6.6"/><circle cx="314.2" cy="1414.4" r="6.6"/><circle cx="345.5" cy="1420.9" r="6.6"/><circle cx="321.4" cy="1427.2" r="6.6"/><circle cx="284.8" cy="1416" r="6.6"/><circle cx="319.6" cy="1420.5" r="6.6"/><circle cx="330.4" cy="1421.7" r="6.6"/><circle cx="331.9" cy="1420.8" r="6.6"/><circle cx="268.9" cy="1416.7" r="6.6"/><circle cx="325.4" cy="1418.7" r="6.6"/><circle cx="273" cy="1423.5" r="6.6"/><circle cx="335" cy="1415.7" r="6.6"/><circle cx="320.2" cy="1423.5" r="6.6"/><circle cx="357.4" cy="1425.1" r="6.6"/><circle cx="303.7" cy="1420.4" r="6.6"/><circle cx="376.7" cy="1423.5" r="6.6"/><circle cx="322.4" cy="1424.3" r="6.6"/><circle cx="360.4" cy="1429.3" r="6.6"/><circle cx="277.5" cy="1416.3" r="6.6"/><circle cx="313.1" cy="1421.3" r="6.6"/><circle cx="276.4" cy="1420.5" r="6.6"/><circle cx="295.1" cy="1419.8" r="6.6"/><circle cx="360.6" cy="1425.1" r="6.6"/><circle cx="271.1" cy="1417" r="6.6"/><circle cx="324.4" cy="1427.4" r="6.6"/><circle cx="379.2" cy="1425.2" r="6.6"/><circle cx="318.7" cy="1417.7" r="6.6"/><circle cx="313.5" cy="1422.8" r="6.6"/><circle cx="339.9" cy="1418.9" r="6.6"/><circle cx="351" cy="1419" r="6.6"/><circle cx="382.8" cy="1421.7" r="6.6"/><circle cx="282.2" cy="1416.7" r="6.6"/><circle cx="377.1" cy="1432.2" r="6.6"/><circle cx="342.3" cy="1420.3" r="6.6"/><circle cx="314.5" cy="1419.9" r="6.6"/><circle cx="304.2" cy="1414.8" r="6.6"/><circle cx="308.4" cy="1419.1" r="6.6"/><circle cx="330.7" cy="1426.7" r="6.6"/><circle cx="389.3" cy="1423.5" r="6.6"/><circle cx="328.8" cy="1419.6" r="6.6"/><circle cx="385.5" cy="1432" r="6.6"/><circle cx="309.3" cy="1420" r="6.6"/><circle cx="342.3" cy="1422" r="6.6"/><circle cx="283.5" cy="1418" r="6.6"/><circle cx="316.7" cy="1416.9" r="6.6"/><circle cx="332.8" cy="1421" r="6.6"/><circle cx="382.3" cy="1428.6" r="6.6"/><circle cx="368.2" cy="1417.9" r="6.6"/><circle cx="333.4" cy="1423.3" r="6.6"/><circle cx="317.8" cy="1423.3" r="6.6"/><circle cx="368.1" cy="1426.4" r="6.6"/><circle cx="271.1" cy="1425.3" r="6.6"/><circle cx="357.9" cy="1425.3" r="6.6"/><circle cx="313.3" cy="1422.1" r="6.6"/><circle cx="288" cy="1419.4" r="6.6"/><circle cx="342.1" cy="1421.1" r="6.6"/><circle cx="376.5" cy="1429.2" r="6.6"/><circle cx="366.5" cy="1425" r="6.6"/><circle cx="270.9" cy="1426.2" r="6.6"/><circle cx="295.9" cy="1418.6" r="6.6"/><circle cx="283.5" cy="1413.5" r="6.6"/><circle cx="338.5" cy="1421.8" r="6.6"/><circle cx="313.5" cy="1424.2" r="6.6"/><circle cx="340.3" cy="1422.6" r="6.6"/><circle cx="315.9" cy="1418.1" r="6.6"/><circle cx="316.2" cy="1424.3" r="6.6"/><circle cx="337.3" cy="1412.2" r="6.6"/><circle cx="388.1" cy="1435.5" r="6.6"/><circle cx="350.1" cy="1426.3" r="6.6"/><circle cx="294.5" cy="1421" r="6.6"/><circle cx="361.4" cy="1419.9" r="6.6"/><circle cx="370.9" cy="1423.2" r="6.6"/><circle cx="283.6" cy="1418.5" r="6.6"/><circle cx="292.5" cy="1418.2" r="6.6"/><circle cx="354.1" cy="1418.3" r="6.6"/><circle cx="332.1" cy="1422.4" r="6.6"/><circle cx="276.3" cy="1421.6" r="6.6"/><circle cx="273.6" cy="1430.1" r="6.6"/><circle cx="353.5" cy="1421" r="6.6"/><circle cx="304.6" cy="1416.8" r="6.6"/><circle cx="302.1" cy="1419.3" r="6.6"/><circle cx="298.6" cy="1421.4" r="6.6"/><circle cx="369.6" cy="1417.7" r="6.6"/><circle cx="390.1" cy="1419.4" r="6.6"/><circle cx="306" cy="1429.3" r="6.6"/><circle cx="306.3" cy="1420.8" r="6.6"/><circle cx="280.6" cy="1420.2" r="6.6"/><circle cx="270.6" cy="1425" r="6.6"/><circle cx="382" cy="1426.2" r="6.6"/><circle cx="301.6" cy="1418.9" r="6.6"/><circle cx="378.7" cy="1423.1" r="6.6"/><circle cx="314.9" cy="1418.4" r="6.6"/><circle cx="367.2" cy="1425.9" r="6.6"/><circle cx="290" cy="1413.4" r="6.6"/><circle cx="362.9" cy="1419.8" r="6.6"/><circle cx="380.4" cy="1426.6" r="6.6"/><circle cx="320.5" cy="1421.1" r="6.6"/><circle cx="379.6" cy="1422" r="6.6"/><circle cx="340.1" cy="1424.8" r="6.6"/><circle cx="316" cy="1415.2" r="6.6"/><circle cx="339.9" cy="1420.8" r="6.6"/><circle cx="356.8" cy="1421.6" r="6.6"/><circle cx="374.2" cy="1422.7" r="6.6"/><circle cx="314.4" cy="1419.9" r="6.6"/><circle cx="317.2" cy="1420" r="6.6"/><circle cx="279.1" cy="1417.5" r="6.6"/><circle cx="332.5" cy="1425.3" r="6.6"/><circle cx="378" cy="1425.2" r="6.6"/><circle cx="345.2" cy="1422.9" r="6.6"/><circle cx="286.5" cy="1414.3" r="6.6"/><circle cx="337.2" cy="1417.5" r="6.6"/><circle cx="290.9" cy="1420.6" r="6.6"/><circle cx="308.2" cy="1422.1" r="6.6"/><circle cx="344" cy="1422.3" r="6.6"/><circle cx="308.4" cy="1421.1" r="6.6"/><circle cx="314.3" cy="1420.6" r="6.6"/><circle cx="325.6" cy="1426.7" r="6.6"/><circle cx="300" cy="1420.9" r="6.6"/><circle cx="387.6" cy="1421.9" r="6.6"/><circle cx="376.8" cy="1430" r="6.6"/><circle cx="391" cy="1427.6" r="6.6"/><circle cx="386.1" cy="1425.4" r="6.6"/><circle cx="339" cy="1417.4" r="6.6"/><circle cx="358.5" cy="1426.3" r="6.6"/><circle cx="347.4" cy="1428.7" r="6.6"/><circle cx="270.1" cy="1415.6" r="6.6"/><circle cx="327.2" cy="1423.6" r="6.6"/><circle cx="300.7" cy="1416.6" r="6.6"/><circle cx="391.7" cy="1426.7" r="6.6"/><circle cx="388.9" cy="1423.1" r="6.6"/><circle cx="288.2" cy="1421.2" r="6.6"/><circle cx="313" cy="1414.7" r="6.6"/><circle cx="286.4" cy="1420.7" r="6.6"/><circle cx="385" cy="1431.9" r="6.6"/><circle cx="346.3" cy="1426.9" r="6.6"/><circle cx="361.1" cy="1420.7" r="6.6"/><circle cx="315.7" cy="1422.1" r="6.6"/><circle cx="279.7" cy="1416.9" r="6.6"/><circle cx="295.5" cy="1423.2" r="6.6"/><circle cx="308.3" cy="1418.2" r="6.6"/><circle cx="309.4" cy="1417.4" r="6.6"/><circle cx="372.2" cy="1423.1" r="6.6"/><circle cx="268.1" cy="1416" r="6.6"/><circle cx="376.5" cy="1423.9" r="6.6"/><circle cx="359.2" cy="1428.2" r="6.6"/><circle cx="294.9" cy="1422" r="6.6"/><circle cx="298" cy="1420.9" r="6.6"/><circle cx="353.2" cy="1421.9" r="6.6"/><circle cx="298.7" cy="1416.5" r="6.6"/><circle cx="273.2" cy="1417.9" r="6.6"/><circle cx="391" cy="1426.2" r="6.6"/><circle cx="340.8" cy="1421.7" r="6.6"/><circle cx="381.1" cy="1429.3" r="6.6"/><circle cx="391" cy="1422.1" r="6.6"/><circle cx="287.5" cy="1419.1" r="6.6"/><circle cx="342.2" cy="1426.5" r="6.6"/><circle cx="352" cy="1421.7" r="6.6"/><circle cx="348" cy="1425.7" r="6.6"/><circle cx="351.9" cy="1420" r="6.6"/><circle cx="331.9" cy="1418.1" r="6.6"/><circle cx="285.1" cy="1420.3" r="6.6"/><circle cx="322.4" cy="1421.8" r="6.6"/><circle cx="307.9" cy="1425.8" r="6.6"/><circle cx="357.1" cy="1426.3" r="6.6"/><circle cx="389.7" cy="1431.4" r="6.6"/><circle cx="280.3" cy="1417.3" r="6.6"/><circle cx="387.7" cy="1420.6" r="6.6"/><circle cx="306.5" cy="1426.9" r="6.6"/><circle cx="323.9" cy="1423.5" r="6.6"/><circle cx="326.4" cy="1417.5" r="6.6"/><circle cx="301.8" cy="1420.8" r="6.6"/><circle cx="303.8" cy="1424.4" r="6.6"/><circle cx="311.4" cy="1424.5" r="6.6"/><circle cx="287.5" cy="1418.7" r="6.6"/><circle cx="384.2" cy="1420.4" r="6.6"/><circle cx="373.7" cy="1426.3" r="6.6"/><circle cx="379.4" cy="1429.6" r="6.6"/><circle cx="290.2" cy="1416.2" r="6.6"/><circle cx="392.1" cy="1420.8" r="6.6"/><circle cx="362.2" cy="1424.4" r="6.6"/><circle cx="391.8" cy="1426.4" r="6.6"/><circle cx="285.7" cy="1414.8" r="6.6"/><circle cx="317.3" cy="1423.8" r="6.6"/><circle cx="330.5" cy="1419.7" r="6.6"/><circle cx="269.8" cy="1418.6" r="6.6"/><circle cx="342.5" cy="1428.8" r="6.6"/><circle cx="386" cy="1424.1" r="6.6"/><circle cx="359.9" cy="1428.6" r="6.6"/><circle cx="277.7" cy="1423.1" r="6.6"/><circle cx="363.2" cy="1427.5" r="6.6"/><circle cx="366.9" cy="1417.2" r="6.6"/><circle cx="268.3" cy="1414.2" r="6.6"/><circle cx="323.3" cy="1426" r="6.6"/><circle cx="300.3" cy="1424.4" r="6.6"/><circle cx="311" cy="1425.6" r="6.6"/><circle cx="288.5" cy="1417.8" r="6.6"/><circle cx="343.9" cy="1419.7" r="6.6"/><circle cx="281.9" cy="1422.8" r="6.6"/><circle cx="291.6" cy="1427.1" r="6.6"/><circle cx="288" cy="1426.4" r="6.6"/><circle cx="293.8" cy="1427.2" r="6.6"/><circle cx="327.9" cy="1420.4" r="6.6"/><circle cx="377.6" cy="1442.3" r="6.6"/><circle cx="359.9" cy="1432.4" r="6.6"/><circle cx="364.9" cy="1429.5" r="6.6"/><circle cx="410.9" cy="1455.3" r="6.6"/><circle cx="367.1" cy="1432.2" r="6.6"/><circle cx="358.2" cy="1419.8" r="6.6"/><circle cx="377.6" cy="1445.2" r="6.6"/><circle cx="359.2" cy="1432.7" r="6.6"/><circle cx="398.7" cy="1430.2" r="6.6"/><circle cx="387.6" cy="1437.2" r="6.6"/><circle cx="361.2" cy="1423.2" r="6.6"/><circle cx="390.8" cy="1452" r="6.6"/><circle cx="418" cy="1437.8" r="6.6"/><circle cx="392.2" cy="1439.7" r="6.6"/><circle cx="399.5" cy="1444.1" r="6.6"/><circle cx="393.2" cy="1427.9" r="6.6"/><circle cx="377.3" cy="1438.4" r="6.6"/><circle cx="354.3" cy="1422.2" r="6.6"/><circle cx="400.8" cy="1443.2" r="6.6"/><circle cx="372.6" cy="1432" r="6.6"/><circle cx="365.3" cy="1438.4" r="6.6"/><circle cx="408.8" cy="1447.9" r="6.6"/><circle cx="415" cy="1447.1" r="6.6"/><circle cx="399.7" cy="1442.9" r="6.6"/><circle cx="388.9" cy="1421.7" r="6.6"/><circle cx="389.2" cy="1437.7" r="6.6"/><circle cx="376.5" cy="1454.1" r="6.6"/><circle cx="400.4" cy="1452.5" r="6.6"/><circle cx="380.5" cy="1418.3" r="6.6"/><circle cx="372.2" cy="1426.4" r="6.6"/><circle cx="417.5" cy="1433.6" r="6.6"/><circle cx="410.8" cy="1464.1" r="6.6"/><circle cx="368" cy="1433.7" r="6.6"/><circle cx="399.4" cy="1433.5" r="6.6"/><circle cx="416.4" cy="1437.4" r="6.6"/><circle cx="401.6" cy="1449.4" r="6.6"/><circle cx="367.7" cy="1428.3" r="6.6"/><circle cx="375.3" cy="1429.9" r="6.6"/><circle cx="357" cy="1426.1" r="6.6"/><circle cx="395.2" cy="1445.2" r="6.6"/><circle cx="408.9" cy="1442.9" r="6.6"/><circle cx="409.3" cy="1447.2" r="6.6"/><circle cx="371" cy="1430.4" r="6.6"/><circle cx="383.1" cy="1424.8" r="6.6"/><circle cx="379.6" cy="1447.2" r="6.6"/><circle cx="391.7" cy="1427.3" r="6.6"/><circle cx="379.3" cy="1445.1" r="6.6"/><circle cx="386.6" cy="1445.2" r="6.6"/><circle cx="413.7" cy="1433.3" r="6.6"/><circle cx="382.3" cy="1437.4" r="6.6"/><circle cx="413.5" cy="1446.4" r="6.6"/><circle cx="406.2" cy="1437.1" r="6.6"/><circle cx="382.4" cy="1437.8" r="6.6"/><circle cx="369.9" cy="1432.2" r="6.6"/><circle cx="389.1" cy="1423.5" r="6.6"/><circle cx="378.4" cy="1446.6" r="6.6"/><circle cx="397.9" cy="1449.6" r="6.6"/><circle cx="355.6" cy="1429.7" r="6.6"/><circle cx="404.1" cy="1449.9" r="6.6"/><circle cx="388.9" cy="1445" r="6.6"/><circle cx="391.1" cy="1446.5" r="6.6"/><circle cx="413.4" cy="1429.3" r="6.6"/><circle cx="390.8" cy="1428.5" r="6.6"/><circle cx="391.9" cy="1442.1" r="6.6"/><circle cx="361.5" cy="1430" r="6.6"/><circle cx="364.9" cy="1426.6" r="6.6"/><circle cx="395.4" cy="1431.9" r="6.6"/><circle cx="392.5" cy="1449.6" r="6.6"/><circle cx="360" cy="1431.9" r="6.6"/><circle cx="358.9" cy="1435.7" r="6.6"/><circle cx="358.9" cy="1425.1" r="6.6"/><circle cx="360.6" cy="1432.8" r="6.6"/><circle cx="403.8" cy="1445.1" r="6.6"/><circle cx="402.4" cy="1455.2" r="6.6"/><circle cx="372.6" cy="1444" r="6.6"/><circle cx="358.6" cy="1437.9" r="6.6"/><circle cx="392" cy="1434.8" r="6.6"/><circle cx="357.4" cy="1438.2" r="6.6"/><circle cx="391.1" cy="1444.5" r="6.6"/><circle cx="357.1" cy="1431.6" r="6.6"/><circle cx="371.9" cy="1438.8" r="6.6"/><circle cx="389.1" cy="1438.4" r="6.6"/><circle cx="393.2" cy="1428" r="6.6"/><circle cx="369" cy="1440.1" r="6.6"/><circle cx="391.6" cy="1439" r="6.6"/><circle cx="394.9" cy="1446.3" r="6.6"/><circle cx="375.8" cy="1435.6" r="6.6"/><circle cx="359.2" cy="1440.5" r="6.6"/><circle cx="383.4" cy="1448" r="6.6"/><circle cx="391" cy="1436.5" r="6.6"/><circle cx="361.9" cy="1428.2" r="6.6"/><circle cx="357.8" cy="1441.2" r="6.6"/><circle cx="359.1" cy="1442.9" r="6.6"/><circle cx="383.1" cy="1450.4" r="6.6"/><circle cx="355.9" cy="1437.8" r="6.6"/><circle cx="368.8" cy="1415.2" r="6.6"/><circle cx="368.3" cy="1445.5" r="6.6"/><circle cx="376.9" cy="1427.8" r="6.6"/><circle cx="384.8" cy="1451.2" r="6.6"/><circle cx="393" cy="1431.9" r="6.6"/><circle cx="371.3" cy="1442.6" r="6.6"/><circle cx="370.3" cy="1426" r="6.6"/><circle cx="393.6" cy="1444.4" r="6.6"/><circle cx="374.1" cy="1419" r="6.6"/><circle cx="392.9" cy="1433.3" r="6.6"/><circle cx="387.6" cy="1434.5" r="6.6"/><circle cx="394.6" cy="1439.2" r="6.6"/><circle cx="377.1" cy="1448.1" r="6.6"/><circle cx="359.7" cy="1436.1" r="6.6"/><circle cx="382.3" cy="1432.9" r="6.6"/><circle cx="379.5" cy="1445.6" r="6.6"/><circle cx="390.6" cy="1441.5" r="6.6"/><circle cx="410.4" cy="1452.7" r="6.6"/><circle cx="378.2" cy="1433.6" r="6.6"/><circle cx="388.3" cy="1422.5" r="6.6"/><circle cx="356.6" cy="1434.1" r="6.6"/><circle cx="380.4" cy="1434.1" r="6.6"/><circle cx="401.6" cy="1447.3" r="6.6"/><circle cx="354.5" cy="1430.4" r="6.6"/><circle cx="380.4" cy="1447.2" r="6.6"/><circle cx="395.1" cy="1433.7" r="6.6"/><circle cx="373.8" cy="1432.6" r="6.6"/><circle cx="387.9" cy="1418.9" r="6.6"/><circle cx="379.5" cy="1429.5" r="6.6"/><circle cx="385.1" cy="1438.8" r="6.6"/><circle cx="387.9" cy="1431.4" r="6.6"/><circle cx="410.5" cy="1442.7" r="6.6"/><circle cx="412.7" cy="1445" r="6.6"/><circle cx="398.3" cy="1433.3" r="6.6"/><circle cx="363.5" cy="1448.2" r="6.6"/><circle cx="395.3" cy="1455.7" r="6.6"/><circle cx="374.8" cy="1436.7" r="6.6"/><circle cx="368.1" cy="1426.5" r="6.6"/><circle cx="419" cy="1445" r="6.6"/><circle cx="375" cy="1425" r="6.6"/><circle cx="417.2" cy="1444.8" r="6.6"/><circle cx="362.6" cy="1434.4" r="6.6"/><circle cx="370.1" cy="1427.3" r="6.6"/><circle cx="406.5" cy="1440" r="6.6"/><circle cx="403.6" cy="1441.6" r="6.6"/><circle cx="373.4" cy="1419.1" r="6.6"/><circle cx="375.3" cy="1434.8" r="6.6"/><circle cx="364.2" cy="1429.3" r="6.6"/><circle cx="355.3" cy="1428.7" r="6.6"/><circle cx="364.9" cy="1446.6" r="6.6"/><circle cx="362.1" cy="1443.8" r="6.6"/><circle cx="371.4" cy="1445.5" r="6.6"/><circle cx="406.7" cy="1444.7" r="6.6"/><circle cx="402.3" cy="1438.5" r="6.6"/><circle cx="389.4" cy="1428.7" r="6.6"/><circle cx="365.5" cy="1451.6" r="6.6"/><circle cx="380.6" cy="1440.3" r="6.6"/><circle cx="358.2" cy="1415.4" r="6.6"/><circle cx="360.3" cy="1413.2" r="6.6"/><circle cx="401.8" cy="1436.3" r="6.6"/><circle cx="398.5" cy="1422.6" r="6.6"/><circle cx="379" cy="1441.6" r="6.6"/><circle cx="387.1" cy="1450.7" r="6.6"/><circle cx="399.5" cy="1443.4" r="6.6"/><circle cx="407" cy="1441.4" r="6.6"/><circle cx="385.7" cy="1428.6" r="6.6"/><circle cx="391.3" cy="1433.4" r="6.6"/><circle cx="401.6" cy="1440" r="6.6"/><circle cx="415.6" cy="1446" r="6.6"/><circle cx="381.1" cy="1456" r="6.6"/><circle cx="408.2" cy="1444" r="6.6"/><circle cx="365.7" cy="1446.5" r="6.6"/><circle cx="402" cy="1450.2" r="6.6"/><circle cx="371" cy="1441" r="6.6"/><circle cx="409" cy="1437.8" r="6.6"/><circle cx="389.8" cy="1434.2" r="6.6"/><circle cx="367.9" cy="1434.5" r="6.6"/><circle cx="411.7" cy="1457" r="6.6"/><circle cx="398.7" cy="1441.6" r="6.6"/><circle cx="391.9" cy="1429.2" r="6.6"/><circle cx="390.6" cy="1433.5" r="6.6"/><circle cx="385.6" cy="1433.4" r="6.6"/><circle cx="383.8" cy="1442" r="6.6"/><circle cx="401" cy="1449.1" r="6.6"/><circle cx="404.2" cy="1440.4" r="6.6"/><circle cx="359.1" cy="1422.5" r="6.6"/><circle cx="375" cy="1438.3" r="6.6"/><circle cx="375.4" cy="1432.6" r="6.6"/><circle cx="404.2" cy="1432.6" r="6.6"/><circle cx="399" cy="1448.6" r="6.6"/><circle cx="409.5" cy="1446.9" r="6.6"/><circle cx="398.2" cy="1454.6" r="6.6"/><circle cx="403" cy="1451.1" r="6.6"/><circle cx="402.3" cy="1458.7" r="6.6"/><circle cx="361.8" cy="1434.9" r="6.6"/><circle cx="403.4" cy="1434.5" r="6.6"/><circle cx="412.8" cy="1441.5" r="6.6"/><circle cx="408.4" cy="1443.1" r="6.6"/><circle cx="357.6" cy="1428.6" r="6.6"/><circle cx="388.3" cy="1451.2" r="6.6"/><circle cx="369" cy="1443.7" r="6.6"/><circle cx="418.6" cy="1443.6" r="6.6"/><circle cx="380.3" cy="1454.5" r="6.6"/><circle cx="419" cy="1452.2" r="6.6"/><circle cx="399" cy="1447.4" r="6.6"/><circle cx="380" cy="1439.4" r="6.6"/><circle cx="384.3" cy="1446.2" r="6.6"/><circle cx="379.5" cy="1437.3" r="6.6"/><circle cx="395.4" cy="1423.2" r="6.6"/><circle cx="390.5" cy="1439.5" r="6.6"/><circle cx="416.8" cy="1449.6" r="6.6"/><circle cx="356.7" cy="1428" r="6.6"/><circle cx="371.2" cy="1432.8" r="6.6"/><circle cx="379" cy="1453.1" r="6.6"/><circle cx="377" cy="1418.6" r="6.6"/><circle cx="372.8" cy="1436.8" r="6.6"/><circle cx="367.9" cy="1445.6" r="6.6"/><circle cx="381.9" cy="1461.2" r="6.6"/><circle cx="404.7" cy="1436.8" r="6.6"/><circle cx="387.2" cy="1433.6" r="6.6"/><circle cx="371.1" cy="1416.5" r="6.6"/><circle cx="391.5" cy="1451.8" r="6.6"/><circle cx="371.8" cy="1424.5" r="6.6"/><circle cx="370.9" cy="1427.4" r="6.6"/><circle cx="405.9" cy="1453.8" r="6.6"/><circle cx="376.6" cy="1424.5" r="6.6"/><circle cx="410.1" cy="1448.7" r="6.6"/><circle cx="401.4" cy="1452.6" r="6.6"/><circle cx="405" cy="1439.2" r="6.6"/><circle cx="380.4" cy="1449.8" r="6.6"/><circle cx="355.9" cy="1432.2" r="6.6"/><circle cx="395.2" cy="1441.8" r="6.6"/><circle cx="387.8" cy="1435.1" r="6.6"/><circle cx="355.6" cy="1430.5" r="6.6"/><circle cx="357.5" cy="1429.6" r="6.6"/><circle cx="379" cy="1455" r="6.6"/><circle cx="358.1" cy="1435.1" r="6.6"/><circle cx="415.2" cy="1447.7" r="6.6"/><circle cx="370.7" cy="1434.2" r="6.6"/><circle cx="353.8" cy="1435.5" r="6.6"/><circle cx="393.3" cy="1426.2" r="6.6"/><circle cx="393.7" cy="1444" r="6.6"/><circle cx="394" cy="1438.3" r="6.6"/><circle cx="396.7" cy="1435.7" r="6.6"/><circle cx="368" cy="1432.8" r="6.6"/><circle cx="369.3" cy="1443.8" r="6.6"/><circle cx="372" cy="1439.1" r="6.6"/><circle cx="406" cy="1441.8" r="6.6"/><circle cx="409.6" cy="1450.8" r="6.6"/><circle cx="381.1" cy="1432.4" r="6.6"/><circle cx="390.1" cy="1424.5" r="6.6"/><circle cx="415.7" cy="1444.6" r="6.6"/><circle cx="404.1" cy="1442" r="6.6"/><circle cx="366.2" cy="1445.9" r="6.6"/><circle cx="370.2" cy="1437.2" r="6.6"/><circle cx="413.8" cy="1449.5" r="6.6"/><circle cx="385.8" cy="1433.7" r="6.6"/><circle cx="417.9" cy="1451.9" r="6.6"/><circle cx="365.6" cy="1437" r="6.6"/><circle cx="372.6" cy="1439.1" r="6.6"/><circle cx="403.8" cy="1435.8" r="6.6"/><circle cx="363" cy="1442.1" r="6.6"/><circle cx="375" cy="1442.2" r="6.6"/><circle cx="404.2" cy="1453.2" r="6.6"/><circle cx="395.6" cy="1436.1" r="6.6"/><circle cx="411.5" cy="1452.9" r="6.6"/><circle cx="400.5" cy="1441.9" r="6.6"/><circle cx="413.2" cy="1439.1" r="6.6"/><circle cx="364" cy="1445" r="6.6"/><circle cx="378" cy="1435.2" r="6.6"/><circle cx="406.4" cy="1441.8" r="6.6"/><circle cx="398.3" cy="1445" r="6.6"/><circle cx="363" cy="1425.7" r="6.6"/><circle cx="379.6" cy="1463.3" r="6.6"/><circle cx="396.3" cy="1439" r="6.6"/><circle cx="394.5" cy="1435.7" r="6.6"/><circle cx="419.1" cy="1435.7" r="6.6"/><circle cx="410.2" cy="1437.5" r="6.6"/><circle cx="402.3" cy="1436.4" r="6.6"/><circle cx="358.9" cy="1437.4" r="6.6"/><circle cx="414.3" cy="1442.7" r="6.6"/><circle cx="373.8" cy="1437.6" r="6.6"/><circle cx="395.3" cy="1439.8" r="6.6"/><circle cx="406.1" cy="1439.8" r="6.6"/><circle cx="402.5" cy="1445.6" r="6.6"/><circle cx="399" cy="1446.4" r="6.6"/><circle cx="394.7" cy="1447.4" r="6.6"/><circle cx="400.4" cy="1442.7" r="6.6"/><circle cx="354.2" cy="1431.4" r="6.6"/><circle cx="394.6" cy="1450.5" r="6.6"/><circle cx="389.9" cy="1452.7" r="6.6"/><circle cx="373" cy="1435.1" r="6.6"/><circle cx="369.5" cy="1433.9" r="6.6"/><circle cx="374" cy="1446.4" r="6.6"/><circle cx="411.7" cy="1448.6" r="6.6"/><circle cx="361.7" cy="1435.3" r="6.6"/><circle cx="360.5" cy="1422.6" r="6.6"/><circle cx="409.8" cy="1431.2" r="6.6"/><circle cx="386.5" cy="1444.6" r="6.6"/><circle cx="372.4" cy="1420.5" r="6.6"/><circle cx="417.8" cy="1443.2" r="6.6"/><circle cx="389.3" cy="1432.9" r="6.6"/><circle cx="357.8" cy="1418.8" r="6.6"/><circle cx="363.9" cy="1444.4" r="6.6"/><circle cx="402.7" cy="1446.5" r="6.6"/><circle cx="451.8" cy="1453.2" r="6.6"/><circle cx="463.4" cy="1456.2" r="6.6"/><circle cx="458.3" cy="1455.8" r="6.6"/><circle cx="450.4" cy="1460.4" r="6.6"/><circle cx="468.3" cy="1460.3" r="6.6"/><circle cx="463.9" cy="1457.2" r="6.6"/><circle cx="441.6" cy="1457.5" r="6.6"/><circle cx="434.2" cy="1454.4" r="6.6"/><circle cx="441.4" cy="1445.5" r="6.6"/><circle cx="458.8" cy="1457.1" r="6.6"/><circle cx="438.9" cy="1457.5" r="6.6"/><circle cx="479.3" cy="1456.7" r="6.6"/><circle cx="439.6" cy="1459" r="6.6"/><circle cx="427.9" cy="1457.5" r="6.6"/><circle cx="462.7" cy="1453.8" r="6.6"/><circle cx="430.8" cy="1452" r="6.6"/><circle cx="474.1" cy="1452.6" r="6.6"/><circle cx="473.7" cy="1454.4" r="6.6"/><circle cx="461.8" cy="1456" r="6.6"/><circle cx="416.2" cy="1450.6" r="6.6"/><circle cx="427.4" cy="1456.3" r="6.6"/><circle cx="475.3" cy="1452.8" r="6.6"/><circle cx="454.5" cy="1462.3" r="6.6"/><circle cx="457" cy="1447.7" r="6.6"/><circle cx="419" cy="1454.8" r="6.6"/><circle cx="445.6" cy="1452.5" r="6.6"/><circle cx="431.5" cy="1453.4" r="6.6"/><circle cx="434.3" cy="1451.1" r="6.6"/><circle cx="474.9" cy="1460.2" r="6.6"/><circle cx="437.9" cy="1452.9" r="6.6"/><circle cx="428.1" cy="1451.5" r="6.6"/><circle cx="476.1" cy="1453.9" r="6.6"/><circle cx="420.8" cy="1457.6" r="6.6"/><circle cx="422.3" cy="1448.2" r="6.6"/><circle cx="444" cy="1454.2" r="6.6"/><circle cx="436.9" cy="1448.8" r="6.6"/><circle cx="436.3" cy="1452.6" r="6.6"/><circle cx="458.2" cy="1457.4" r="6.6"/><circle cx="413.8" cy="1455.5" r="6.6"/><circle cx="415.5" cy="1453.1" r="6.6"/><circle cx="448.6" cy="1461.6" r="6.6"/><circle cx="423.8" cy="1452" r="6.6"/><circle cx="419.7" cy="1454.3" r="6.6"/><circle cx="455.8" cy="1452.4" r="6.6"/><circle cx="451.2" cy="1457.3" r="6.6"/><circle cx="419.3" cy="1454.1" r="6.6"/><circle cx="439.9" cy="1459.1" r="6.6"/><circle cx="411.5" cy="1455.5" r="6.6"/><circle cx="453.5" cy="1454.9" r="6.6"/><circle cx="438.5" cy="1455.2" r="6.6"/><circle cx="434.4" cy="1456.9" r="6.6"/><circle cx="420.6" cy="1455.6" r="6.6"/><circle cx="464.2" cy="1455.3" r="6.6"/><circle cx="443.2" cy="1458.9" r="6.6"/><circle cx="419.5" cy="1447.4" r="6.6"/><circle cx="424.5" cy="1453.8" r="6.6"/><circle cx="438.8" cy="1462.8" r="6.6"/><circle cx="454.7" cy="1450.6" r="6.6"/><circle cx="412.7" cy="1458.9" r="6.6"/><circle cx="476" cy="1455.5" r="6.6"/><circle cx="468.2" cy="1452.2" r="6.6"/><circle cx="457.2" cy="1453.4" r="6.6"/><circle cx="461.2" cy="1451.2" r="6.6"/><circle cx="420.8" cy="1449.3" r="6.6"/><circle cx="441.1" cy="1455" r="6.6"/><circle cx="463.1" cy="1458.1" r="6.6"/><circle cx="478.9" cy="1456.3" r="6.6"/><circle cx="454.5" cy="1458.4" r="6.6"/><circle cx="418.4" cy="1452.5" r="6.6"/><circle cx="430" cy="1456.1" r="6.6"/><circle cx="426.5" cy="1450.6" r="6.6"/><circle cx="440.2" cy="1454.3" r="6.6"/><circle cx="472.9" cy="1456.5" r="6.6"/><circle cx="463.8" cy="1456.9" r="6.6"/><circle cx="461.5" cy="1452.3" r="6.6"/><circle cx="477" cy="1456.9" r="6.6"/><circle cx="472.6" cy="1454.7" r="6.6"/><circle cx="434" cy="1449.5" r="6.6"/><circle cx="438.3" cy="1451.2" r="6.6"/><circle cx="466.3" cy="1458" r="6.6"/><circle cx="426.7" cy="1452.1" r="6.6"/><circle cx="415.9" cy="1448.7" r="6.6"/><circle cx="413.6" cy="1452.9" r="6.6"/><circle cx="421.1" cy="1459.2" r="6.6"/><circle cx="474.1" cy="1457.8" r="6.6"/><circle cx="470.9" cy="1457.7" r="6.6"/><circle cx="459.8" cy="1454.8" r="6.6"/><circle cx="441.4" cy="1446.4" r="6.6"/><circle cx="434.9" cy="1451.5" r="6.6"/><circle cx="451.3" cy="1456.3" r="6.6"/><circle cx="479.4" cy="1452.3" r="6.6"/><circle cx="428.5" cy="1457.5" r="6.6"/><circle cx="424.8" cy="1454.5" r="6.6"/><circle cx="427.9" cy="1451.4" r="6.6"/><circle cx="418.6" cy="1453.8" r="6.6"/><circle cx="431" cy="1447.8" r="6.6"/><circle cx="444.1" cy="1449.2" r="6.6"/><circle cx="441.5" cy="1459.5" r="6.6"/><circle cx="449.7" cy="1453.2" r="6.6"/><circle cx="411.3" cy="1456.2" r="6.6"/><circle cx="451.1" cy="1458.2" r="6.6"/><circle cx="428.1" cy="1457.3" r="6.6"/><circle cx="432" cy="1455.6" r="6.6"/><circle cx="453.3" cy="1455.6" r="6.6"/><circle cx="429" cy="1448.8" r="6.6"/><circle cx="447.8" cy="1452.2" r="6.6"/><circle cx="414.3" cy="1451.5" r="6.6"/><circle cx="412.7" cy="1451.9" r="6.6"/><circle cx="422.2" cy="1456.5" r="6.6"/><circle cx="464.2" cy="1456.7" r="6.6"/><circle cx="450.7" cy="1451.3" r="6.6"/><circle cx="459.6" cy="1452.7" r="6.6"/><circle cx="455.7" cy="1453.1" r="6.6"/><circle cx="442.7" cy="1459.1" r="6.6"/><circle cx="425.9" cy="1451.6" r="6.6"/><circle cx="469.5" cy="1461.8" r="6.6"/><circle cx="422.7" cy="1457.1" r="6.6"/><circle cx="430" cy="1451.3" r="6.6"/><circle cx="443.3" cy="1455.3" r="6.6"/><circle cx="443.1" cy="1450.1" r="6.6"/><circle cx="473.9" cy="1461.3" r="6.6"/><circle cx="465" cy="1453" r="6.6"/><circle cx="418.6" cy="1447.9" r="6.6"/><circle cx="414.5" cy="1446.8" r="6.6"/><circle cx="453.5" cy="1453.9" r="6.6"/><circle cx="472.6" cy="1449.5" r="6.6"/><circle cx="470.4" cy="1465.8" r="6.6"/><circle cx="453.7" cy="1457.6" r="6.6"/><circle cx="469.2" cy="1456.9" r="6.6"/><circle cx="411.2" cy="1450.2" r="6.6"/><circle cx="259.2" cy="1432.5" r="6.6"/><circle cx="240.7" cy="1431.1" r="6.6"/><circle cx="258" cy="1424.3" r="6.6"/><circle cx="259.2" cy="1417.9" r="6.6"/><circle cx="259" cy="1425.8" r="6.6"/><circle cx="251.9" cy="1434.4" r="6.6"/><circle cx="261.8" cy="1425.7" r="6.6"/><circle cx="261.2" cy="1420" r="6.6"/><circle cx="267.6" cy="1430.7" r="6.6"/><circle cx="238.2" cy="1429.6" r="6.6"/><circle cx="249.3" cy="1428.8" r="6.6"/><circle cx="252.9" cy="1423.5" r="6.6"/><circle cx="263.9" cy="1423.2" r="6.6"/><circle cx="243.4" cy="1428.3" r="6.6"/><circle cx="269.8" cy="1418.8" r="6.6"/><circle cx="239.4" cy="1427.4" r="6.6"/><circle cx="257.6" cy="1432.9" r="6.6"/><circle cx="243.2" cy="1428.9" r="6.6"/><circle cx="264" cy="1425.3" r="6.6"/><circle cx="250.2" cy="1427.3" r="6.6"/><circle cx="263.9" cy="1417.5" r="6.6"/><circle cx="249.4" cy="1429.4" r="6.6"/><circle cx="265.8" cy="1432.4" r="6.6"/><circle cx="248.2" cy="1437" r="6.6"/><circle cx="249.8" cy="1425.1" r="6.6"/><circle cx="263.8" cy="1428.7" r="6.6"/><circle cx="264.8" cy="1425.3" r="6.6"/><circle cx="256.1" cy="1426.4" r="6.6"/><circle cx="260.8" cy="1425.4" r="6.6"/><circle cx="255.8" cy="1428.5" r="6.6"/><circle cx="250.1" cy="1421.3" r="6.6"/><circle cx="258.2" cy="1423.9" r="6.6"/><circle cx="245.1" cy="1434.2" r="6.6"/><circle cx="259.2" cy="1431.9" r="6.6"/><circle cx="249.4" cy="1433.7" r="6.6"/><circle cx="255.6" cy="1422.5" r="6.6"/><circle cx="268" cy="1419.2" r="6.6"/><circle cx="246.2" cy="1427.1" r="6.6"/><circle cx="212" cy="1457.1" r="6.6"/><circle cx="355.6" cy="1454.7" r="6.6"/><circle cx="289" cy="1456.8" r="6.6"/><circle cx="249.1" cy="1461.6" r="6.6"/><circle cx="223.1" cy="1456.1" r="6.6"/><circle cx="347" cy="1459" r="6.6"/><circle cx="284.4" cy="1458.8" r="6.6"/><circle cx="299.1" cy="1461.7" r="6.6"/><circle cx="269.2" cy="1457.9" r="6.6"/><circle cx="211.6" cy="1461" r="6.6"/><circle cx="305.6" cy="1461.2" r="6.6"/><circle cx="240.4" cy="1459.1" r="6.6"/><circle cx="217.2" cy="1461.1" r="6.6"/><circle cx="329.2" cy="1455.9" r="6.6"/><circle cx="344.2" cy="1459.2" r="6.6"/><circle cx="329" cy="1457" r="6.6"/><circle cx="198.2" cy="1452.2" r="6.6"/><circle cx="344.5" cy="1456.2" r="6.6"/><circle cx="261.2" cy="1458.5" r="6.6"/><circle cx="213" cy="1455.3" r="6.6"/><circle cx="301" cy="1457.5" r="6.6"/><circle cx="195.1" cy="1457.6" r="6.6"/><circle cx="329.8" cy="1456.7" r="6.6"/><circle cx="207" cy="1457.8" r="6.6"/><circle cx="207.7" cy="1458.9" r="6.6"/><circle cx="328.9" cy="1458.6" r="6.6"/><circle cx="261.5" cy="1456" r="6.6"/><circle cx="260.2" cy="1459.1" r="6.6"/><circle cx="282.7" cy="1452.6" r="6.6"/><circle cx="325.2" cy="1456.1" r="6.6"/><circle cx="252.7" cy="1455.6" r="6.6"/><circle cx="310.7" cy="1456.1" r="6.6"/><circle cx="353.9" cy="1451.1" r="6.6"/><circle cx="250.8" cy="1453.6" r="6.6"/><circle cx="206.1" cy="1463.8" r="6.6"/><circle cx="303.7" cy="1438.2" r="6.6"/><circle cx="358" cy="1457.8" r="6.6"/><circle cx="296.2" cy="1451.2" r="6.6"/><circle cx="314.8" cy="1449.7" r="6.6"/><circle cx="317.6" cy="1445.9" r="6.6"/><circle cx="351.9" cy="1450.6" r="6.6"/><circle cx="334.7" cy="1444.2" r="6.6"/><circle cx="294.8" cy="1437.6" r="6.6"/><circle cx="316.1" cy="1447.9" r="6.6"/><circle cx="283.1" cy="1435.5" r="6.6"/><circle cx="288.3" cy="1443.2" r="6.6"/><circle cx="309.7" cy="1442.9" r="6.6"/><circle cx="356.2" cy="1443.8" r="6.6"/><circle cx="312.7" cy="1443" r="6.6"/><circle cx="336.2" cy="1448" r="6.6"/><circle cx="337" cy="1458.1" r="6.6"/><circle cx="294.6" cy="1437.7" r="6.6"/><circle cx="352.4" cy="1452.2" r="6.6"/><circle cx="343.3" cy="1442.7" r="6.6"/><circle cx="343.1" cy="1444.3" r="6.6"/><circle cx="324.9" cy="1447.7" r="6.6"/><circle cx="330.4" cy="1441.7" r="6.6"/><circle cx="285.9" cy="1446.4" r="6.6"/><circle cx="344.8" cy="1454.7" r="6.6"/><circle cx="306" cy="1442.9" r="6.6"/><circle cx="165.6" cy="1436.2" r="6.6"/><circle cx="176" cy="1431" r="6.6"/><circle cx="176" cy="1439.6" r="6.6"/><circle cx="191.5" cy="1425.9" r="6.6"/><circle cx="200.1" cy="1425.9" r="6.6"/><circle cx="220.9" cy="1418.2" r="6.6"/><circle cx="212.2" cy="1434.5" r="6.6"/><circle cx="212.2" cy="1439.6" r="6.6"/><circle cx="193.2" cy="1448.1" r="6.6"/><circle cx="189.8" cy="1461.8" r="6.6"/><circle cx="203.6" cy="1460.1" r="6.6"/><circle cx="212.2" cy="1460.1" r="6.6"/><circle cx="219.1" cy="1459.3" r="6.6"/><circle cx="231.2" cy="1461.8" r="6.6"/><circle cx="243.3" cy="1463.6" r="6.6"/><circle cx="246.7" cy="1463.6" r="6.6"/><circle cx="276.1" cy="1378" r="6.6"/><circle cx="302" cy="1376.2" r="6.6"/><circle cx="353.7" cy="1382.2" r="6.6"/><circle cx="384.8" cy="1383.1" r="6.6"/><circle cx="409" cy="1410.5" r="6.6"/><circle cx="448.6" cy="1409.6" r="6.6"/><circle cx="457.3" cy="1432.7" r="6.6"/><circle cx="514.2" cy="1425" r="6.6"/><circle cx="498.7" cy="1443" r="6.6"/><circle cx="503.9" cy="1442.2" r="6.6"/><circle cx="517.7" cy="1455" r="6.6"/><circle cx="498.7" cy="1455" r="6.6"/><circle cx="550.5" cy="1440.4" r="6.6"/><circle cx="495.2" cy="1333.4" r="6.6"/><circle cx="579.8" cy="1389.1" r="6.6"/><circle cx="324.4" cy="1467.8" r="6.6"/><circle cx="410.7" cy="1468.7" r="6.6"/><circle cx="417.6" cy="1468.7" r="6.6"/><circle cx="277.8" cy="1395.9" r="6.6"/><circle cx="289.9" cy="1368.5" r="6.6"/><circle cx="329.6" cy="1394.2" r="6.6"/><circle cx="348.6" cy="1401.1" r="6.6"/><circle cx="264" cy="1445.6" r="6.6"/><circle cx="307.1" cy="1441.3" r="6.6"/><circle cx="440" cy="1434.5" r="6.6"/><circle cx="427.9" cy="1428.5" r="6.6"/><circle cx="467.6" cy="1449" r="6.6"/><circle cx="484.9" cy="1449" r="6.6"/><circle cx="436.6" cy="1449" r="6.6"/><circle cx="250.2" cy="1454.1" r="6.6"/><circle cx="257.1" cy="1455.9" r="6.6"/><circle cx="270.9" cy="1458.4" r="6.6"/></g>
<g fill="#d8922c" fill-opacity="0.75"><circle cx="256" cy="1081.3" r="6.6"/><circle cx="243.7" cy="1117.1" r="6.6"/><circle cx="333.7" cy="1117.1" r="6.6"/><circle cx="190.1" cy="1140.5" r="6.6"/><circle cx="237" cy="1153.5" r="6.6"/><circle cx="293.9" cy="1163.9" r="6.6"/><circle cx="608.3" cy="1170.3" r="6.6"/><circle cx="260.4" cy="1184" r="6.6"/><circle cx="334.8" cy="1193.7" r="6.6"/><circle cx="559.9" cy="1190.7" r="6.6"/><circle cx="281.2" cy="1226.4" r="6.6"/><circle cx="251.1" cy="1238.3" r="6.6"/><circle cx="355.3" cy="1238.3" r="6.6"/><circle cx="314.4" cy="1255.1" r="6.6"/><circle cx="277.2" cy="1265.5" r="6.6"/><circle cx="314.4" cy="1272.6" r="6.6"/><circle cx="235.9" cy="1277.8" r="6.6"/><circle cx="354.2" cy="1277.8" r="6.6"/><circle cx="275.3" cy="1289.7" r="6.6"/><circle cx="314.4" cy="1291.9" r="6.6"/><circle cx="355.3" cy="1291.9" r="6.6"/><circle cx="321.8" cy="1305.7" r="6.6"/><circle cx="400.3" cy="1311.2" r="6.6"/><circle cx="490" cy="1311.6" r="6.6"/><circle cx="301.3" cy="1321.3" r="6.6"/><circle cx="355.3" cy="1318.3" r="6.6"/><circle cx="330" cy="1327.2" r="6.6"/><circle cx="312.5" cy="1328.7" r="6.6"/><circle cx="245.5" cy="1332.1" r="6.6"/><circle cx="263.4" cy="1338.4" r="6.6"/><circle cx="284.6" cy="1336.9" r="6.6"/><circle cx="293.9" cy="1333.6" r="6.6"/><circle cx="384.7" cy="1337.3" r="6.6"/><circle cx="252.2" cy="1343.2" r="6.6"/><circle cx="345.2" cy="1343.6" r="6.6"/><circle cx="363.8" cy="1342.5" r="6.6"/><circle cx="243.7" cy="1350.7" r="6.6"/><circle cx="241.1" cy="1354.8" r="6.6"/><circle cx="338.5" cy="1348.8" r="6.6"/><circle cx="277.2" cy="1353.7" r="6.6"/><circle cx="386.9" cy="1357.4" r="6.6"/><circle cx="299.5" cy="1357.4" r="6.6"/><circle cx="261.5" cy="1360.4" r="6.6"/><circle cx="309.5" cy="1363.3" r="6.6"/><circle cx="234.4" cy="1367.8" r="6.6"/><circle cx="245.5" cy="1369.3" r="6.6"/><circle cx="228.8" cy="1376.7" r="6.6"/><circle cx="292" cy="1370.8" r="6.6"/><circle cx="316.2" cy="1365.9" r="6.6"/><circle cx="340.4" cy="1373.8" r="6.6"/><circle cx="321.8" cy="1374.1" r="6.6"/><circle cx="208.3" cy="1386.4" r="6.6"/><circle cx="263.4" cy="1384.5" r="6.6"/><circle cx="286.5" cy="1383.4" r="6.6"/><circle cx="308.8" cy="1381.6" r="6.6"/><circle cx="334.8" cy="1379.7" r="6.6"/><circle cx="306.9" cy="1389" r="6.6"/><circle cx="312.5" cy="1390.9" r="6.6"/><circle cx="359" cy="1386" r="6.6"/><circle cx="375.7" cy="1387.9" r="6.6"/><circle cx="245.5" cy="1393.8" r="6.6"/><circle cx="264.9" cy="1393.8" r="6.6"/><circle cx="290.2" cy="1392.7" r="6.6"/><circle cx="297.6" cy="1398.3" r="6.6"/><circle cx="323.7" cy="1400.2" r="6.6"/><circle cx="333" cy="1402" r="6.6"/><circle cx="357.1" cy="1402" r="6.6"/><circle cx="373.9" cy="1400.9" r="6.6"/><circle cx="394.3" cy="1394.6" r="6.6"/><circle cx="399.9" cy="1399" r="6.6"/><circle cx="385" cy="1397.2" r="6.6"/><circle cx="346" cy="1390.1" r="6.6"/><circle cx="292" cy="1402" r="6.6"/><circle cx="303.2" cy="1405.7" r="6.6"/><circle cx="316.2" cy="1407.6" r="6.6"/><circle cx="377.6" cy="1409.5" r="6.6"/><circle cx="357.1" cy="1405.7" r="6.6"/><circle cx="383.2" cy="1408.3" r="6.6"/><circle cx="246.3" cy="1331.3" r="6.6"/><circle cx="277.2" cy="1351.8" r="6.6"/><circle cx="305.1" cy="1385.3" r="6.6"/><circle cx="318.1" cy="1396.4" r="6.6"/><circle cx="327.4" cy="1387.1" r="6.6"/><circle cx="351.6" cy="1403.9" r="6.6"/><circle cx="372" cy="1402" r="6.6"/><circle cx="396.2" cy="1409.5" r="6.6"/><circle cx="405.5" cy="1402" r="6.6"/><circle cx="416.7" cy="1403.9" r="6.6"/><circle cx="368.3" cy="1403.9" r="6.6"/><circle cx="295.8" cy="1389" r="6.6"/><circle cx="305.1" cy="1402" r="6.6"/><circle cx="323.7" cy="1387.1" r="6.6"/><circle cx="331.1" cy="1394.6" r="6.6"/><circle cx="349.7" cy="1396.4" r="6.6"/><circle cx="390.6" cy="1403.9" r="6.6"/><circle cx="290.2" cy="1379.7" r="6.6"/><circle cx="282.7" cy="1396.4" r="6.6"/><circle cx="375.7" cy="1392.7" r="6.6"/><circle cx="386.9" cy="1387.1" r="6.6"/><circle cx="394.3" cy="1405.7" r="6.6"/><circle cx="305.1" cy="1394.6" r="6.6"/><circle cx="372" cy="1408.7" r="6.6"/><circle cx="338.5" cy="1408.7" r="6.6"/><circle cx="323.7" cy="1408.7" r="6.6"/></g>
<path d="M143.2 1462.7H147.2M143.2 1419.9H150.2M143.2 1377.1H147.2M143.2 1334.3H150.2M143.2 1291.5H147.2M143.2 1248.7H150.2M143.2 1205.9H147.2M143.2 1163.1H150.2M143.2 1120.3H147.2M315.8 1505.5V1498.5M488.3 1505.5V1498.5" stroke="#231f20" stroke-width="1.6" fill="none"/>
<rect x="143.2" y="1077.5" width="517.7" height="428" fill="none" stroke="#231f20" stroke-width="1.7"/>
<text x="135" y="1084" font-size="29" text-anchor="end" textLength="39" lengthAdjust="spacingAndGlyphs" fill="#231f20" stroke="#fff" stroke-width="0.6">0.5</text>
<text x="135" y="1170.7" font-size="29" text-anchor="end" textLength="39" lengthAdjust="spacingAndGlyphs" fill="#231f20" stroke="#fff" stroke-width="0.6">0.4</text>
<text x="135" y="1257" font-size="29" text-anchor="end" textLength="39" lengthAdjust="spacingAndGlyphs" fill="#231f20" stroke="#fff" stroke-width="0.6">0.3</text>
<text x="135" y="1343.8" font-size="29" text-anchor="end" textLength="39" lengthAdjust="spacingAndGlyphs" fill="#231f20" stroke="#fff" stroke-width="0.6">0.2</text>
<text x="135" y="1429.9" font-size="29" text-anchor="end" textLength="39" lengthAdjust="spacingAndGlyphs" fill="#231f20" stroke="#fff" stroke-width="0.6">0.1</text>
<text x="135" y="1516.5" font-size="29" text-anchor="end" textLength="15.6" lengthAdjust="spacingAndGlyphs" fill="#231f20" stroke="#fff" stroke-width="0.6">0</text>
<text x="145.2" y="1534.5" font-size="27.5" text-anchor="middle" fill="#231f20" stroke="#fff" stroke-width="0.6">0</text>
<text x="317.8" y="1534.5" font-size="27.5" text-anchor="middle" fill="#231f20" stroke="#fff" stroke-width="0.6">1</text>
<text x="490.3" y="1534.5" font-size="27.5" text-anchor="middle" fill="#231f20" stroke="#fff" stroke-width="0.6">2</text>
<text x="662.9" y="1534.5" font-size="27.5" text-anchor="middle" fill="#231f20" stroke="#fff" stroke-width="0.6">3</text>
<text transform="translate(68.1 1292.3) rotate(-90)" x="0" y="0" font-size="36" text-anchor="middle" textLength="288" lengthAdjust="spacingAndGlyphs" fill="#231f20" stroke="#fff" stroke-width="0.8">peak current (nA)</text>
<text x="277.5" y="1596.3" font-size="36" textLength="253" lengthAdjust="spacingAndGlyphs" fill="#231f20" stroke="#fff" stroke-width="0.8">dwell time (ms)</text>
<text x="567.3" y="1110" font-size="20" textLength="54.7" lengthAdjust="spacingAndGlyphs" fill="#d8922c">n=123</text>
<text x="567.3" y="1136.8" font-size="20" textLength="65.9" lengthAdjust="spacingAndGlyphs" fill="#4464ae">n=1023</text>
<text x="710.5" y="1085.5" font-size="47" textLength="25.5" lengthAdjust="spacingAndGlyphs" fill="#231f20" stroke="#fff" stroke-width="1">d</text>
<path d="M793 1471.8H800M793 1438.8H797M793 1405.9H800M793 1373H797M793 1340H800M793 1307H797M793 1274.1H800M793 1241.1H797M793 1208.2H800M793 1175.2H797M793 1142.3H800M793 1109.3H797M793 1076.4H800M801.3 1505V1501M808 1505V1501M813.4 1505V1501M818 1505V1501M822 1505V1501M825.6 1505V1501M828.7 1505V1498M849.4 1505V1501M861.5 1505V1501M870.1 1505V1501M876.8 1505V1501M882.2 1505V1501M886.8 1505V1501M890.8 1505V1501M894.4 1505V1501M897.5 1505V1498M918.2 1505V1501M930.3 1505V1501M938.9 1505V1501M945.6 1505V1501M951 1505V1501M955.6 1505V1501M959.6 1505V1501M963.2 1505V1501M966.3 1505V1498M987 1505V1501M999.1 1505V1501M1007.7 1505V1501M1014.4 1505V1501M1019.8 1505V1501M1024.4 1505V1501M1028.4 1505V1501M1032 1505V1501M1035.1 1505V1498M1055.8 1505V1501M1067.9 1505V1501M1076.5 1505V1501M1083.2 1505V1501M1088.6 1505V1501M1093.2 1505V1501M1097.2 1505V1501M1100.8 1505V1501M1103.9 1505V1498M1124.6 1505V1501M1136.7 1505V1501M1145.3 1505V1501M1152 1505V1501M1157.4 1505V1501M1162 1505V1501M1166 1505V1501M1169.6 1505V1501M1172.7 1505V1498M1193.4 1505V1501M1205.5 1505V1501M1214.1 1505V1501M1220.8 1505V1501M1226.2 1505V1501M1230.8 1505V1501M1234.8 1505V1501M1238.4 1505V1501M1241.5 1505V1498M1262.2 1505V1501M1274.3 1505V1501M1282.9 1505V1501M1289.6 1505V1501M1295 1505V1501M1299.6 1505V1501M1303.6 1505V1501M1307.2 1505V1501" stroke="#231f20" stroke-width="1.5" fill="none"/>
<rect x="793" y="1076.5" width="517.3" height="428.5" fill="none" stroke="#231f20" stroke-width="1.7"/>
<text x="786" y="1481.8" font-size="29" text-anchor="end" textLength="15.6" lengthAdjust="spacingAndGlyphs" fill="#231f20" stroke="#fff" stroke-width="0.6">0</text>
<text x="786" y="1415.9" font-size="29" text-anchor="end" textLength="15.6" lengthAdjust="spacingAndGlyphs" fill="#231f20" stroke="#fff" stroke-width="0.6">2</text>
<text x="786" y="1350" font-size="29" text-anchor="end" textLength="15.6" lengthAdjust="spacingAndGlyphs" fill="#231f20" stroke="#fff" stroke-width="0.6">4</text>
<text x="786" y="1284.1" font-size="29" text-anchor="end" textLength="15.6" lengthAdjust="spacingAndGlyphs" fill="#231f20" stroke="#fff" stroke-width="0.6">6</text>
<text x="786" y="1218.2" font-size="29" text-anchor="end" textLength="15.6" lengthAdjust="spacingAndGlyphs" fill="#231f20" stroke="#fff" stroke-width="0.6">8</text>
<text x="786" y="1152.3" font-size="29" text-anchor="end" textLength="31" lengthAdjust="spacingAndGlyphs" fill="#231f20" stroke="#fff" stroke-width="0.6">10</text>
<text x="786" y="1086.4" font-size="29" text-anchor="end" textLength="31" lengthAdjust="spacingAndGlyphs" fill="#231f20" stroke="#fff" stroke-width="0.6">12</text>
<text x="801.7" y="1532.8" font-size="27.5" textLength="27.9" lengthAdjust="spacingAndGlyphs" fill="#231f20" stroke="#fff" stroke-width="0.6">10</text>
<text x="830.2" y="1522.8" font-size="14.5" textLength="19" lengthAdjust="spacingAndGlyphs" fill="#231f20">&#8209;4</text>
<text x="870.5" y="1532.8" font-size="27.5" textLength="27.9" lengthAdjust="spacingAndGlyphs" fill="#231f20" stroke="#fff" stroke-width="0.6">10</text>
<text x="899" y="1522.8" font-size="14.5" textLength="19" lengthAdjust="spacingAndGlyphs" fill="#231f20">&#8209;3</text>
<text x="939.3" y="1532.8" font-size="27.5" textLength="27.9" lengthAdjust="spacingAndGlyphs" fill="#231f20" stroke="#fff" stroke-width="0.6">10</text>
<text x="967.8" y="1522.8" font-size="14.5" textLength="19" lengthAdjust="spacingAndGlyphs" fill="#231f20">&#8209;2</text>
<text x="1008.1" y="1532.8" font-size="27.5" textLength="27.9" lengthAdjust="spacingAndGlyphs" fill="#231f20" stroke="#fff" stroke-width="0.6">10</text>
<text x="1036.6" y="1522.8" font-size="14.5" textLength="19" lengthAdjust="spacingAndGlyphs" fill="#231f20">&#8209;1</text>
<text x="1081.9" y="1532.8" font-size="27.5" textLength="27.9" lengthAdjust="spacingAndGlyphs" fill="#231f20" stroke="#fff" stroke-width="0.6">10</text>
<text x="1110.4" y="1522.8" font-size="14.5" textLength="9.5" lengthAdjust="spacingAndGlyphs" fill="#231f20">0</text>
<text x="1150.7" y="1532.8" font-size="27.5" textLength="27.9" lengthAdjust="spacingAndGlyphs" fill="#231f20" stroke="#fff" stroke-width="0.6">10</text>
<text x="1179.2" y="1522.8" font-size="14.5" textLength="9.5" lengthAdjust="spacingAndGlyphs" fill="#231f20">1</text>
<text x="1219.5" y="1532.8" font-size="27.5" textLength="27.9" lengthAdjust="spacingAndGlyphs" fill="#231f20" stroke="#fff" stroke-width="0.6">10</text>
<text x="1248" y="1522.8" font-size="14.5" textLength="9.5" lengthAdjust="spacingAndGlyphs" fill="#231f20">2</text>
<text transform="translate(739.5 1291) rotate(-90)" x="0" y="0" font-size="36" text-anchor="middle" textLength="272" lengthAdjust="spacingAndGlyphs" fill="#231f20" stroke="#fff" stroke-width="0.8">binding ratio (%)</text>
<text x="822.6" y="1595" font-size="36" textLength="477" lengthAdjust="spacingAndGlyphs" fill="#231f20" stroke="#fff" stroke-width="0.8">S protein concentration (nM)</text>
<path d="M838.8,1455.8 L844.2,1455 L849.5,1454.2 L854.9,1453.3 L860.2,1452.4 L865.6,1451.4 L871,1450.4 L876.3,1449.2 L881.7,1448 L887,1446.8 L892.4,1445.4 L897.8,1444 L903.1,1442.5 L908.5,1440.8 L913.8,1439.1 L919.2,1437.3 L924.6,1435.4 L929.9,1433.3 L935.3,1431.2 L940.6,1428.9 L946,1426.5 L951.3,1423.9 L956.7,1421.3 L962.1,1418.5 L967.4,1415.5 L972.8,1412.4 L978.1,1409.1 L983.5,1405.7 L988.9,1402.1 L994.2,1398.4 L999.6,1394.5 L1004.9,1390.4 L1010.3,1386.2 L1015.6,1381.8 L1021,1377.2 L1026.4,1372.5 L1031.7,1367.6 L1037.1,1362.5 L1042.4,1357.3 L1047.8,1352 L1053.2,1346.5 L1058.5,1340.9 L1063.9,1335.2 L1069.2,1329.4 L1074.6,1323.4 L1079.9,1317.4 L1085.3,1311.3 L1090.7,1305.2 L1096,1299 L1101.4,1292.7 L1106.7,1286.5 L1112.1,1280.2 L1117.5,1274 L1122.8,1267.7 L1128.2,1261.5 L1133.5,1255.4 L1138.9,1249.3 L1144.3,1243.3 L1149.6,1237.4 L1155,1231.7 L1160.3,1226 L1165.7,1220.4 L1171,1215 L1176.4,1209.7 L1181.8,1204.6 L1187.1,1199.6 L1192.5,1194.8 L1197.8,1190.1 L1203.2,1185.6 L1208.6,1181.3 L1213.9,1177.1 L1219.3,1173.1 L1224.6,1169.2 L1230,1165.5 L1235.3,1162 L1240.7,1158.7 L1246.1,1155.4 L1251.4,1152.4 L1256.8,1149.5 L1262.1,1146.7" fill="none" stroke="#d8922c" stroke-width="3.6" stroke-linecap="round"/>
<path d="M849.2 1462V1473 M843.7 1462H854.7 M843.7 1473H854.7" stroke="#231f20" stroke-width="1.6" fill="none"/>
<rect x="842.5" y="1461.2" width="13.5" height="13.5" fill="#fff" fill-opacity="0" stroke="#231f20" stroke-width="1.8"/>
<path d="M917.6 1435.7V1445.7 M912.1 1435.7H923.1 M912.1 1445.7H923.1" stroke="#231f20" stroke-width="1.6" fill="none"/>
<rect x="910.9" y="1435" width="13.5" height="13.5" fill="#fff" fill-opacity="0" stroke="#231f20" stroke-width="1.8"/>
<path d="M986.4 1372.3V1400.3 M980.9 1372.3H991.9 M980.9 1400.3H991.9" stroke="#231f20" stroke-width="1.6" fill="none"/>
<rect x="979.6" y="1379.5" width="13.5" height="13.5" fill="#fff" fill-opacity="0" stroke="#231f20" stroke-width="1.8"/>
<path d="M1055.6 1332.7V1338.7 M1050.1 1332.7H1061.1 M1050.1 1338.7H1061.1" stroke="#231f20" stroke-width="1.6" fill="none"/>
<rect x="1048.8" y="1329" width="13.5" height="13.5" fill="#fff" fill-opacity="0" stroke="#231f20" stroke-width="1.8"/>
<path d="M1124 1261.6V1291.6 M1118.5 1261.6H1129.5 M1118.5 1291.6H1129.5" stroke="#231f20" stroke-width="1.6" fill="none"/>
<rect x="1117.2" y="1269.8" width="13.5" height="13.5" fill="#fff" fill-opacity="0" stroke="#231f20" stroke-width="1.8"/>
<path d="M1193.2 1192.8V1210.8 M1187.7 1192.8H1198.7 M1187.7 1210.8H1198.7" stroke="#231f20" stroke-width="1.6" fill="none"/>
<rect x="1186.5" y="1195" width="13.5" height="13.5" fill="#fff" fill-opacity="0" stroke="#231f20" stroke-width="1.8"/>
<path d="M1262 1133.3V1163.3 M1256.5 1133.3H1267.5 M1256.5 1163.3H1267.5" stroke="#231f20" stroke-width="1.6" fill="none"/>
<rect x="1255.2" y="1141.5" width="13.5" height="13.5" fill="#fff" fill-opacity="0" stroke="#231f20" stroke-width="1.8"/>
<rect x="823.9" y="1094" width="257.3" height="210" fill="#fff" stroke="#231f20" stroke-width="1.6"/>
<path d="M823.9 1285.9H828.9M823.9 1266.8H826.9M823.9 1247.7H828.9M823.9 1228.6H826.9M823.9 1209.5H828.9M823.9 1190.4H826.9M823.9 1171.3H828.9M823.9 1152.2H826.9M823.9 1133.1H828.9M823.9 1114H826.9M829.3 1304V1301M833.6 1304V1301M837.3 1304V1301M840.6 1304V1301M843.6 1304V1299M863 1304V1301M874.4 1304V1301M882.4 1304V1301M888.7 1304V1301M893.8 1304V1301M898.1 1304V1301M901.8 1304V1301M905.1 1304V1301M908.1 1304V1299M927.5 1304V1301M938.9 1304V1301M946.9 1304V1301M953.2 1304V1301M958.3 1304V1301M962.6 1304V1301M966.3 1304V1301M969.6 1304V1301M972.6 1304V1299M992 1304V1301M1003.4 1304V1301M1011.4 1304V1301M1017.7 1304V1301M1022.8 1304V1301M1027.1 1304V1301M1030.8 1304V1301M1034.1 1304V1301M1037.1 1304V1299M1056.5 1304V1301M1067.9 1304V1301M1075.9 1304V1301" stroke="#231f20" stroke-width="1.3" fill="none"/>
<text x="820.5" y="1292.4" font-size="18" text-anchor="end" fill="#3a3a3c">0</text>
<text x="820.5" y="1254.2" font-size="18" text-anchor="end" fill="#3a3a3c">1</text>
<text x="820.5" y="1216" font-size="18" text-anchor="end" fill="#3a3a3c">2</text>
<text x="820.5" y="1177.8" font-size="18" text-anchor="end" fill="#3a3a3c">3</text>
<text x="820.5" y="1139.6" font-size="18" text-anchor="end" fill="#3a3a3c">4</text>
<text x="820.5" y="1101.4" font-size="18" text-anchor="end" fill="#3a3a3c">5</text>
<text x="831.1" y="1323" font-size="17" textLength="20.6" lengthAdjust="spacingAndGlyphs" fill="#3a3a3c">10</text>
<text x="852.6" y="1314.5" font-size="10" textLength="10" lengthAdjust="spacingAndGlyphs" fill="#6a6a6c">&#8209;4</text>
<text x="895.6" y="1323" font-size="17" textLength="20.6" lengthAdjust="spacingAndGlyphs" fill="#3a3a3c">10</text>
<text x="917.1" y="1314.5" font-size="10" textLength="10" lengthAdjust="spacingAndGlyphs" fill="#6a6a6c">&#8209;3</text>
<text x="960.1" y="1323" font-size="17" textLength="20.6" lengthAdjust="spacingAndGlyphs" fill="#3a3a3c">10</text>
<text x="981.6" y="1314.5" font-size="10" textLength="10" lengthAdjust="spacingAndGlyphs" fill="#6a6a6c">&#8209;2</text>
<text x="1024.6" y="1323" font-size="17" textLength="20.6" lengthAdjust="spacingAndGlyphs" fill="#3a3a3c">10</text>
<text x="1046.1" y="1314.5" font-size="10" textLength="10" lengthAdjust="spacingAndGlyphs" fill="#6a6a6c">&#8209;1</text>
<path d="M862.2 1233.8V1304 M823.9 1282.9H915" stroke="#d8922c" stroke-width="1.5" stroke-dasharray="5 3" fill="none"/>
<path d="M880 1209V1304 M823.9 1269H925.4" stroke="#3b6fb6" stroke-width="1.5" stroke-dasharray="5 3" fill="none"/>
<path d="M856.2 1285.9L1057 1143.4" stroke="#d8922c" stroke-width="3.4" stroke-linecap="round"/>
<rect x="855.5" y="1274.2" width="13.5" height="13.5" fill="#fff" fill-opacity="0" stroke="#231f20" stroke-width="1.8"/>
<path d="M926.9 1242.4V1253.4 M922.4 1242.4H931.4 M922.4 1253.4H931.4" stroke="#231f20" stroke-width="1.6" fill="none"/>
<rect x="920.1" y="1242.7" width="13.5" height="13.5" fill="#fff" fill-opacity="0" stroke="#231f20" stroke-width="1.8"/>
<path d="M991.2 1169.2V1203.2 M986.7 1169.2H995.7 M986.7 1203.2H995.7" stroke="#231f20" stroke-width="1.6" fill="none"/>
<rect x="984.5" y="1179.5" width="13.5" height="13.5" fill="#fff" fill-opacity="0" stroke="#231f20" stroke-width="1.8"/>
<path d="M1055.6 1122.4V1132.4 M1051.1 1122.4H1060.1 M1051.1 1132.4H1060.1" stroke="#231f20" stroke-width="1.6" fill="none"/>
<rect x="1048.8" y="1120.7" width="13.5" height="13.5" fill="#fff" fill-opacity="0" stroke="#231f20" stroke-width="1.8"/>
<text x="833" y="1122" font-size="18" fill="#3a3a3c">R<tspan font-size="11" dy="-7">2</tspan><tspan dy="7"> = 0.98</tspan></text>
<text x="840.6" y="1229" font-size="18.5" textLength="35.4" lengthAdjust="spacingAndGlyphs" fill="#3a3a3c">LOD</text>
<text x="864" y="1207" font-size="18.5" textLength="38" lengthAdjust="spacingAndGlyphs" fill="#3a3a3c">LOQ</text>
<text x="927" y="1275.4" font-size="18.5" textLength="32.6" lengthAdjust="spacingAndGlyphs" fill="#3a3a3c">10σ</text>
<text x="915" y="1292.2" font-size="18.5" textLength="22.3" lengthAdjust="spacingAndGlyphs" fill="#3a3a3c">3σ</text>
<text x="1358.5" y="1093.5" font-size="53" textLength="25" lengthAdjust="spacingAndGlyphs" fill="#231f20" stroke="#fff" stroke-width="1.2">e</text>
<rect x="1511.8" y="1152.1" width="85.9" height="352.9" fill="#d8952e" stroke="#231f20" stroke-width="1.5"/>
<rect x="1684" y="1503.6" width="86.3" height="1.4" fill="#8c8d90" stroke="#231f20" stroke-width="1.5"/>
<rect x="1856.2" y="1486.7" width="86.3" height="18.3" fill="#8e8f92" stroke="#231f20" stroke-width="1.5"/>
<path d="M1554.6 1136V1168.3 M1536 1136H1573.5 M1536 1168.3H1573.5" stroke="#231f20" stroke-width="1.6"/>
<path d="M1881 1486.2H1918" stroke="#231f20" stroke-width="1.6"/>
<path d="M1550.9 1132.8L1555.9 1137.8L1550.9 1142.8L1545.9 1137.8Z" fill="#231f20"/>
<path d="M1558.7 1153L1563.7 1158L1558.7 1163L1553.7 1158Z" fill="#231f20"/>
<path d="M1554.6 1161.9L1559.6 1166.9L1554.6 1171.9L1549.6 1166.9Z" fill="#231f20"/>
<path d="M1719.3 1497.3L1724.3 1502.3L1719.3 1507.3L1714.3 1502.3Z" fill="#231f20"/>
<path d="M1724.9 1497.3L1729.9 1502.3L1724.9 1507.3L1719.9 1502.3Z" fill="#231f20"/>
<path d="M1730.5 1497.3L1735.5 1502.3L1730.5 1507.3L1725.5 1502.3Z" fill="#231f20"/>
<path d="M1894.8 1481.7L1899.8 1486.7L1894.8 1491.7L1889.8 1486.7Z" fill="#231f20"/>
<path d="M1899.7 1481.7L1904.7 1486.7L1899.7 1491.7L1894.7 1486.7Z" fill="#231f20"/>
<path d="M1904.5 1481.7L1909.5 1486.7L1904.5 1491.7L1899.5 1486.7Z" fill="#231f20"/>
<path d="M1468.3 1469.1H1472.3M1468.3 1433.2H1475.3M1468.3 1397.3H1472.3M1468.3 1361.4H1475.3M1468.3 1325.5H1472.3M1468.3 1289.6H1475.3M1468.3 1253.7H1472.3M1468.3 1217.8H1475.3M1468.3 1181.9H1472.3M1468.3 1146H1475.3M1468.3 1110.1H1472.3" stroke="#231f20" stroke-width="1.5" fill="none"/>
<rect x="1468.3" y="1073.5" width="517.7" height="431.5" fill="none" stroke="#231f20" stroke-width="1.7"/>
<text x="1461" y="1515" font-size="29" text-anchor="end" textLength="15.6" lengthAdjust="spacingAndGlyphs" fill="#231f20" stroke="#fff" stroke-width="0.6">0</text>
<text x="1461" y="1443.2" font-size="29" text-anchor="end" textLength="15.6" lengthAdjust="spacingAndGlyphs" fill="#231f20" stroke="#fff" stroke-width="0.6">2</text>
<text x="1461" y="1371.4" font-size="29" text-anchor="end" textLength="15.6" lengthAdjust="spacingAndGlyphs" fill="#231f20" stroke="#fff" stroke-width="0.6">4</text>
<text x="1461" y="1299.6" font-size="29" text-anchor="end" textLength="15.6" lengthAdjust="spacingAndGlyphs" fill="#231f20" stroke="#fff" stroke-width="0.6">6</text>
<text x="1461" y="1227.8" font-size="29" text-anchor="end" textLength="15.6" lengthAdjust="spacingAndGlyphs" fill="#231f20" stroke="#fff" stroke-width="0.6">8</text>
<text x="1461" y="1156" font-size="29" text-anchor="end" textLength="31" lengthAdjust="spacingAndGlyphs" fill="#231f20" stroke="#fff" stroke-width="0.6">10</text>
<text transform="translate(1416 1291.8) rotate(-90)" x="0" y="0" font-size="36" text-anchor="middle" textLength="273" lengthAdjust="spacingAndGlyphs" fill="#231f20" stroke="#fff" stroke-width="0.8">binding ratio (%)</text>
<text transform="translate(1461.3 1631) rotate(-45)" x="0" y="0" font-size="27" textLength="150.6" lengthAdjust="spacingAndGlyphs" fill="#231f20" stroke="#fff" stroke-width="0.6">SARS-CoV-2</text>
<text transform="translate(1632.5 1628.8) rotate(-45)" x="0" y="0" font-size="27" textLength="146" lengthAdjust="spacingAndGlyphs" fill="#231f20" stroke="#fff" stroke-width="0.6">HCoV-NL63</text>
<text transform="translate(1803.8 1631.2) rotate(-45)" x="0" y="0" font-size="27" textLength="150" lengthAdjust="spacingAndGlyphs" fill="#231f20" stroke="#fff" stroke-width="0.6">HCoV-OC43</text>
</svg>
</body></html>
